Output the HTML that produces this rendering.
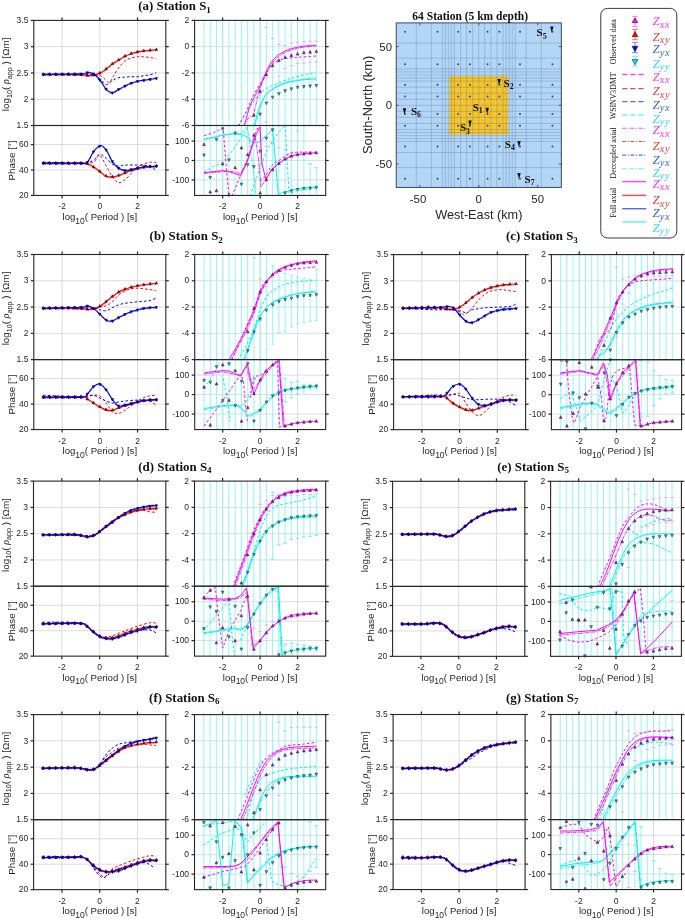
<!DOCTYPE html>
<html><head><meta charset="utf-8"><style>
html,body{margin:0;padding:0;background:#fff;}
svg{display:block;will-change:transform;}
</style></head><body>
<svg width="685" height="920" viewBox="0 0 685 920">
<rect width="685" height="920" fill="#fff"/>
<line x1="62.09" y1="20.4" x2="62.09" y2="125.5" stroke="#d0d0d0" stroke-width="0.75"/>
<line x1="99.8" y1="20.4" x2="99.8" y2="125.5" stroke="#d0d0d0" stroke-width="0.75"/>
<line x1="137.51" y1="20.4" x2="137.51" y2="125.5" stroke="#d0d0d0" stroke-width="0.75"/>
<line x1="33.8" y1="99.22" x2="165.8" y2="99.22" stroke="#d0d0d0" stroke-width="0.75"/>
<line x1="33.8" y1="72.95" x2="165.8" y2="72.95" stroke="#d0d0d0" stroke-width="0.75"/>
<line x1="33.8" y1="46.68" x2="165.8" y2="46.68" stroke="#d0d0d0" stroke-width="0.75"/>
<line x1="62.09" y1="125.5" x2="62.09" y2="195.45" stroke="#d0d0d0" stroke-width="0.75"/>
<line x1="99.8" y1="125.5" x2="99.8" y2="195.45" stroke="#d0d0d0" stroke-width="0.75"/>
<line x1="137.51" y1="125.5" x2="137.51" y2="195.45" stroke="#d0d0d0" stroke-width="0.75"/>
<line x1="33.8" y1="170.01" x2="165.8" y2="170.01" stroke="#d0d0d0" stroke-width="0.75"/>
<line x1="33.8" y1="144.58" x2="165.8" y2="144.58" stroke="#d0d0d0" stroke-width="0.75"/>
<line x1="222.69" y1="20.4" x2="222.69" y2="125.5" stroke="#d0d0d0" stroke-width="0.75"/>
<line x1="260.15" y1="20.4" x2="260.15" y2="125.5" stroke="#d0d0d0" stroke-width="0.75"/>
<line x1="297.61" y1="20.4" x2="297.61" y2="125.5" stroke="#d0d0d0" stroke-width="0.75"/>
<line x1="194.6" y1="99.22" x2="325.7" y2="99.22" stroke="#d0d0d0" stroke-width="0.75"/>
<line x1="194.6" y1="72.95" x2="325.7" y2="72.95" stroke="#d0d0d0" stroke-width="0.75"/>
<line x1="194.6" y1="46.68" x2="325.7" y2="46.68" stroke="#d0d0d0" stroke-width="0.75"/>
<line x1="222.69" y1="125.5" x2="222.69" y2="195.45" stroke="#d0d0d0" stroke-width="0.75"/>
<line x1="260.15" y1="125.5" x2="260.15" y2="195.45" stroke="#d0d0d0" stroke-width="0.75"/>
<line x1="297.61" y1="125.5" x2="297.61" y2="195.45" stroke="#d0d0d0" stroke-width="0.75"/>
<line x1="194.6" y1="179.91" x2="325.7" y2="179.91" stroke="#d0d0d0" stroke-width="0.75"/>
<line x1="194.6" y1="160.47" x2="325.7" y2="160.47" stroke="#d0d0d0" stroke-width="0.75"/>
<line x1="194.6" y1="141.04" x2="325.7" y2="141.04" stroke="#d0d0d0" stroke-width="0.75"/>
<clipPath id="c1"><rect x="33.8" y="20.4" width="132" height="105.1"/></clipPath>
<g clip-path="url(#c1)" fill="none">
<path d="M43.17,74.38 C49.46,74.45 72.52,74.64 80.93,74.77 C89.34,74.9 90.38,75 93.64,75.16 C96.9,75.33 98.53,75 100.49,75.75 C102.45,76.5 103.91,78.52 105.38,79.66 C106.85,80.81 107.99,83.09 109.29,82.6 C110.6,82.11 111.67,79.18 113.2,76.73 C114.74,74.28 116.53,70.54 118.49,67.93 C120.44,65.32 122.89,62.71 124.94,61.08 C127,59.45 128.69,58.86 130.81,58.15 C132.93,57.43 135.54,57 137.66,56.78 C139.78,56.55 141.47,56.65 143.53,56.78 C145.58,56.91 147.86,57.23 149.98,57.56 C152.1,57.89 155.2,58.54 156.24,58.73" stroke="#ff0000" stroke-width="1.0" stroke-dasharray="2.6,2.1" stroke-linejoin="round"/>
<path d="M43.17,74.38 C47.35,74.38 61.92,74.32 68.21,74.38 C74.5,74.45 77.67,74.58 80.93,74.77 C84.19,74.97 85.65,75.49 87.77,75.56 C89.89,75.62 91.52,75.62 93.64,75.16 C95.76,74.71 98.37,73.86 100.49,72.82 C102.61,71.77 104.4,70.37 106.36,68.91 C108.31,67.44 110.2,65.48 112.23,64.01 C114.25,62.55 116.37,61.41 118.49,60.1 C120.61,58.8 122.89,57.27 124.94,56.19 C127,55.11 128.69,54.36 130.81,53.65 C132.93,52.93 135.54,52.34 137.66,51.89 C139.78,51.43 141.47,51.17 143.53,50.91 C145.58,50.65 147.86,50.52 149.98,50.32 C152.1,50.13 155.2,49.83 156.24,49.73" stroke="#ff0000" stroke-width="1.1" stroke-linejoin="round"/>
<path d="M43.17,75.28 C47.35,75.28 61.92,75.22 68.21,75.28 C74.5,75.35 77.67,75.48 80.93,75.67 C84.19,75.87 85.65,76.39 87.77,76.46 C89.89,76.52 91.52,76.52 93.64,76.06 C95.76,75.61 98.37,74.76 100.49,73.72 C102.61,72.67 104.4,71.27 106.36,69.81 C108.31,68.34 110.2,66.38 112.23,64.91 C114.25,63.45 116.37,62.31 118.49,61 C120.61,59.7 122.89,58.17 124.94,57.09 C127,56.01 128.69,55.26 130.81,54.55 C132.93,53.83 135.54,53.24 137.66,52.79 C139.78,52.33 141.47,52.07 143.53,51.81 C145.58,51.55 147.86,51.42 149.98,51.22 C152.1,51.03 155.2,50.73 156.24,50.63" stroke="#ff0000" stroke-width="0.6" stroke-dasharray="3,1.2,0.8,1.2"/>
<path d="M43.17,74.38 C49.46,74.35 72.52,74.12 80.93,74.19 C89.34,74.25 90.38,73.86 93.64,74.77 C96.9,75.69 98.37,78.03 100.49,79.66 C102.61,81.29 104.4,84.39 106.36,84.55 C108.31,84.72 110.2,81.78 112.23,80.64 C114.25,79.5 116.37,78.29 118.49,77.71 C120.61,77.12 122.89,77.28 124.94,77.12 C127,76.96 128.69,76.8 130.81,76.73 C132.93,76.66 135.54,76.89 137.66,76.73 C139.78,76.57 141.47,76.08 143.53,75.75 C145.58,75.43 147.86,75.26 149.98,74.77 C152.1,74.28 155.2,73.14 156.24,72.82" stroke="#0000ff" stroke-width="1.0" stroke-dasharray="2.6,2.1" stroke-linejoin="round"/>
<path d="M43.17,74.38 C49.46,74.28 73.56,74.12 80.93,73.8 C88.3,73.47 85.26,72.43 87.38,72.43 C89.5,72.43 91.46,72.43 93.64,73.8 C95.83,75.16 98.37,78.03 100.49,80.64 C102.61,83.25 104.4,87.42 106.36,89.45 C108.31,91.47 110.2,92.77 112.23,92.77 C114.25,92.77 116.37,90.59 118.49,89.45 C120.61,88.3 122.89,86.97 124.94,85.92 C127,84.88 128.69,83.97 130.81,83.19 C132.93,82.4 135.54,81.72 137.66,81.23 C139.78,80.74 141.47,80.58 143.53,80.25 C145.58,79.93 147.86,79.6 149.98,79.27 C152.1,78.95 155.2,78.46 156.24,78.29" stroke="#0000ff" stroke-width="1.1" stroke-linejoin="round"/>
<path d="M43.17,75.28 C49.46,75.18 73.56,75.02 80.93,74.7 C88.3,74.37 85.26,73.33 87.38,73.33 C89.5,73.33 91.46,73.33 93.64,74.7 C95.83,76.06 98.37,78.93 100.49,81.54 C102.61,84.15 104.4,88.32 106.36,90.35 C108.31,92.37 110.2,93.67 112.23,93.67 C114.25,93.67 116.37,91.49 118.49,90.35 C120.61,89.2 122.89,87.87 124.94,86.82 C127,85.78 128.69,84.87 130.81,84.09 C132.93,83.3 135.54,82.62 137.66,82.13 C139.78,81.64 141.47,81.48 143.53,81.15 C145.58,80.83 147.86,80.5 149.98,80.17 C152.1,79.85 155.2,79.36 156.24,79.19" stroke="#0000ff" stroke-width="0.6" stroke-dasharray="3,1.2,0.8,1.2"/>
</g>
<path d="M41.98,75.13 L44.48,75.13 L43.23,72.64 Z" fill="#e00000" stroke="#2a0a0a" stroke-width="0.55"/>
<path d="M48.26,75.13 L50.76,75.13 L49.51,72.64 Z" fill="#e00000" stroke="#2a0a0a" stroke-width="0.55"/>
<path d="M54.55,75.13 L57.05,75.13 L55.8,72.64 Z" fill="#e00000" stroke="#2a0a0a" stroke-width="0.55"/>
<path d="M60.84,75.13 L63.34,75.13 L62.09,72.64 Z" fill="#e00000" stroke="#2a0a0a" stroke-width="0.55"/>
<path d="M67.12,75.14 L69.62,75.14 L68.37,72.64 Z" fill="#e00000" stroke="#2a0a0a" stroke-width="0.55"/>
<path d="M73.41,75.33 L75.91,75.33 L74.66,72.84 Z" fill="#e00000" stroke="#2a0a0a" stroke-width="0.55"/>
<path d="M79.69,75.53 L82.19,75.53 L80.94,73.03 Z" fill="#e00000" stroke="#2a0a0a" stroke-width="0.55"/>
<path d="M85.98,76.24 L88.48,76.24 L87.23,73.75 Z" fill="#e00000" stroke="#2a0a0a" stroke-width="0.55"/>
<path d="M92.26,75.92 L94.76,75.92 L93.51,73.43 Z" fill="#e00000" stroke="#2a0a0a" stroke-width="0.55"/>
<path d="M98.55,73.8 L101.05,73.8 L99.8,71.31 Z" fill="#e00000" stroke="#2a0a0a" stroke-width="0.55"/>
<path d="M104.84,69.84 L107.34,69.84 L106.09,67.34 Z" fill="#e00000" stroke="#2a0a0a" stroke-width="0.55"/>
<path d="M111.12,64.67 L113.62,64.67 L112.37,62.18 Z" fill="#e00000" stroke="#2a0a0a" stroke-width="0.55"/>
<path d="M117.41,60.75 L119.91,60.75 L118.66,58.25 Z" fill="#e00000" stroke="#2a0a0a" stroke-width="0.55"/>
<path d="M123.69,56.94 L126.19,56.94 L124.94,54.45 Z" fill="#e00000" stroke="#2a0a0a" stroke-width="0.55"/>
<path d="M129.98,54.29 L132.48,54.29 L131.23,51.8 Z" fill="#e00000" stroke="#2a0a0a" stroke-width="0.55"/>
<path d="M136.26,52.67 L138.76,52.67 L137.51,50.18 Z" fill="#e00000" stroke="#2a0a0a" stroke-width="0.55"/>
<path d="M142.55,51.63 L145.05,51.63 L143.8,49.14 Z" fill="#e00000" stroke="#2a0a0a" stroke-width="0.55"/>
<path d="M148.84,51.06 L151.34,51.06 L150.09,48.57 Z" fill="#e00000" stroke="#2a0a0a" stroke-width="0.55"/>
<path d="M155.12,50.48 L157.62,50.48 L156.37,47.99 Z" fill="#e00000" stroke="#2a0a0a" stroke-width="0.55"/>
<path d="M41.98,73.63 L44.48,73.63 L43.23,76.13 Z" fill="#0000e8" stroke="#0a0a30" stroke-width="0.55"/>
<path d="M48.26,73.53 L50.76,73.53 L49.51,76.03 Z" fill="#0000e8" stroke="#0a0a30" stroke-width="0.55"/>
<path d="M54.55,73.44 L57.05,73.44 L55.8,75.93 Z" fill="#0000e8" stroke="#0a0a30" stroke-width="0.55"/>
<path d="M60.84,73.34 L63.34,73.34 L62.09,75.83 Z" fill="#0000e8" stroke="#0a0a30" stroke-width="0.55"/>
<path d="M67.12,73.24 L69.62,73.24 L68.37,75.73 Z" fill="#0000e8" stroke="#0a0a30" stroke-width="0.55"/>
<path d="M73.41,73.14 L75.91,73.14 L74.66,75.64 Z" fill="#0000e8" stroke="#0a0a30" stroke-width="0.55"/>
<path d="M79.69,73.04 L82.19,73.04 L80.94,75.54 Z" fill="#0000e8" stroke="#0a0a30" stroke-width="0.55"/>
<path d="M85.98,71.71 L88.48,71.71 L87.23,74.2 Z" fill="#0000e8" stroke="#0a0a30" stroke-width="0.55"/>
<path d="M92.26,73.02 L94.76,73.02 L93.51,75.51 Z" fill="#0000e8" stroke="#0a0a30" stroke-width="0.55"/>
<path d="M98.55,79.2 L101.05,79.2 L99.8,81.7 Z" fill="#0000e8" stroke="#0a0a30" stroke-width="0.55"/>
<path d="M104.84,88.29 L107.34,88.29 L106.09,90.78 Z" fill="#0000e8" stroke="#0a0a30" stroke-width="0.55"/>
<path d="M111.12,91.94 L113.62,91.94 L112.37,94.44 Z" fill="#0000e8" stroke="#0a0a30" stroke-width="0.55"/>
<path d="M117.41,88.6 L119.91,88.6 L118.66,91.1 Z" fill="#0000e8" stroke="#0a0a30" stroke-width="0.55"/>
<path d="M123.69,85.17 L126.19,85.17 L124.94,87.67 Z" fill="#0000e8" stroke="#0a0a30" stroke-width="0.55"/>
<path d="M129.98,82.32 L132.48,82.32 L131.23,84.81 Z" fill="#0000e8" stroke="#0a0a30" stroke-width="0.55"/>
<path d="M136.26,80.52 L138.76,80.52 L137.51,83.01 Z" fill="#0000e8" stroke="#0a0a30" stroke-width="0.55"/>
<path d="M142.55,79.46 L145.05,79.46 L143.8,81.95 Z" fill="#0000e8" stroke="#0a0a30" stroke-width="0.55"/>
<path d="M148.84,78.51 L151.34,78.51 L150.09,81 Z" fill="#0000e8" stroke="#0a0a30" stroke-width="0.55"/>
<path d="M155.12,77.54 L157.62,77.54 L156.37,80.04 Z" fill="#0000e8" stroke="#0a0a30" stroke-width="0.55"/>
<clipPath id="c2"><rect x="33.8" y="125.5" width="132" height="69.95"/></clipPath>
<g clip-path="url(#c2)" fill="none">
<path d="M43.17,163.15 C49.46,163.15 72.52,163.31 80.93,163.15 C89.34,162.98 90.55,163.47 93.64,162.17 C96.74,160.86 97.39,154.67 99.51,155.32 C101.63,155.97 104.24,162.49 106.36,166.08 C108.48,169.67 110.2,174.07 112.23,176.84 C114.25,179.61 116.37,182.22 118.49,182.71 C120.61,183.2 122.89,181.24 124.94,179.77 C127,178.31 128.69,176.02 130.81,173.91 C132.93,171.79 135.54,168.69 137.66,167.06 C139.78,165.43 141.47,164.94 143.53,164.12 C145.58,163.31 147.86,162.43 149.98,162.17 C152.1,161.91 155.2,162.49 156.24,162.56" stroke="#ff0000" stroke-width="1.0" stroke-dasharray="2.6,2.1" stroke-linejoin="round"/>
<path d="M43.17,163.15 C49.46,163.15 73.56,163.05 80.93,163.15 C88.3,163.24 85.26,163.08 87.38,163.73 C89.5,164.38 91.46,165.69 93.64,167.06 C95.83,168.43 98.37,170.42 100.49,171.95 C102.61,173.48 104.4,175.44 106.36,176.25 C108.31,177.07 110.2,176.97 112.23,176.84 C114.25,176.71 116.37,176.12 118.49,175.47 C120.61,174.82 122.89,173.77 124.94,172.93 C127,172.08 128.69,171.13 130.81,170.38 C132.93,169.63 135.54,168.98 137.66,168.43 C139.78,167.87 141.47,167.38 143.53,167.06 C145.58,166.73 147.86,166.63 149.98,166.47 C152.1,166.31 155.2,166.15 156.24,166.08" stroke="#ff0000" stroke-width="1.1" stroke-linejoin="round"/>
<path d="M43.17,164.05 C49.46,164.05 73.56,163.95 80.93,164.05 C88.3,164.14 85.26,163.98 87.38,164.63 C89.5,165.28 91.46,166.59 93.64,167.96 C95.83,169.33 98.37,171.32 100.49,172.85 C102.61,174.38 104.4,176.34 106.36,177.15 C108.31,177.97 110.2,177.87 112.23,177.74 C114.25,177.61 116.37,177.02 118.49,176.37 C120.61,175.72 122.89,174.67 124.94,173.83 C127,172.98 128.69,172.03 130.81,171.28 C132.93,170.53 135.54,169.88 137.66,169.33 C139.78,168.77 141.47,168.28 143.53,167.96 C145.58,167.63 147.86,167.53 149.98,167.37 C152.1,167.21 155.2,167.05 156.24,166.98" stroke="#ff0000" stroke-width="0.6" stroke-dasharray="3,1.2,0.8,1.2"/>
<path d="M43.17,162.17 C49.46,162.33 72.52,163.47 80.93,163.15 C89.34,162.82 90.55,161.68 93.64,160.21 C96.74,158.74 97.39,154.67 99.51,154.34 C101.63,154.02 104.24,156.63 106.36,158.26 C108.48,159.89 110.2,162.82 112.23,164.12 C114.25,165.43 116.37,165.92 118.49,166.08 C120.61,166.24 121.75,165.27 124.94,165.1 C128.14,164.94 133.48,164.94 137.66,165.1 C141.83,165.27 146.88,165.1 149.98,166.08 C153.08,167.06 155.2,170.16 156.24,170.97" stroke="#0000ff" stroke-width="1.0" stroke-dasharray="2.6,2.1" stroke-linejoin="round"/>
<path d="M43.17,163.15 C49.46,163.15 73.56,163.31 80.93,163.15 C88.3,162.98 85.26,164.12 87.38,162.17 C89.5,160.21 91.46,154.18 93.64,151.41 C95.83,148.64 98.37,145.77 100.49,145.54 C102.61,145.31 104.4,147.43 106.36,150.04 C108.31,152.65 110.2,158.19 112.23,161.19 C114.25,164.19 116.37,166.5 118.49,168.04 C120.61,169.57 122.89,170.12 124.94,170.38 C127,170.64 128.69,169.99 130.81,169.6 C132.93,169.21 135.54,168.46 137.66,168.04 C139.78,167.61 141.47,167.32 143.53,167.06 C145.58,166.8 147.86,166.63 149.98,166.47 C152.1,166.31 155.2,166.15 156.24,166.08" stroke="#0000ff" stroke-width="1.1" stroke-linejoin="round"/>
<path d="M43.17,164.05 C49.46,164.05 73.56,164.21 80.93,164.05 C88.3,163.88 85.26,165.02 87.38,163.07 C89.5,161.11 91.46,155.08 93.64,152.31 C95.83,149.54 98.37,146.67 100.49,146.44 C102.61,146.21 104.4,148.33 106.36,150.94 C108.31,153.55 110.2,159.09 112.23,162.09 C114.25,165.09 116.37,167.4 118.49,168.94 C120.61,170.47 122.89,171.02 124.94,171.28 C127,171.54 128.69,170.89 130.81,170.5 C132.93,170.11 135.54,169.36 137.66,168.94 C139.78,168.51 141.47,168.22 143.53,167.96 C145.58,167.7 147.86,167.53 149.98,167.37 C152.1,167.21 155.2,167.05 156.24,166.98" stroke="#0000ff" stroke-width="0.6" stroke-dasharray="3,1.2,0.8,1.2"/>
</g>
<path d="M41.98,163.9 L44.48,163.9 L43.23,161.4 Z" fill="#e00000" stroke="#2a0a0a" stroke-width="0.55"/>
<path d="M48.26,163.9 L50.76,163.9 L49.51,161.4 Z" fill="#e00000" stroke="#2a0a0a" stroke-width="0.55"/>
<path d="M54.55,163.9 L57.05,163.9 L55.8,161.4 Z" fill="#e00000" stroke="#2a0a0a" stroke-width="0.55"/>
<path d="M60.84,163.9 L63.34,163.9 L62.09,161.4 Z" fill="#e00000" stroke="#2a0a0a" stroke-width="0.55"/>
<path d="M67.12,163.9 L69.62,163.9 L68.37,161.4 Z" fill="#e00000" stroke="#2a0a0a" stroke-width="0.55"/>
<path d="M73.41,163.9 L75.91,163.9 L74.66,161.4 Z" fill="#e00000" stroke="#2a0a0a" stroke-width="0.55"/>
<path d="M79.69,163.9 L82.19,163.9 L80.94,161.4 Z" fill="#e00000" stroke="#2a0a0a" stroke-width="0.55"/>
<path d="M85.98,164.47 L88.48,164.47 L87.23,161.98 Z" fill="#e00000" stroke="#2a0a0a" stroke-width="0.55"/>
<path d="M92.26,167.74 L94.76,167.74 L93.51,165.25 Z" fill="#e00000" stroke="#2a0a0a" stroke-width="0.55"/>
<path d="M98.55,172.21 L101.05,172.21 L99.8,169.71 Z" fill="#e00000" stroke="#2a0a0a" stroke-width="0.55"/>
<path d="M104.84,176.8 L107.34,176.8 L106.09,174.31 Z" fill="#e00000" stroke="#2a0a0a" stroke-width="0.55"/>
<path d="M111.12,177.56 L113.62,177.56 L112.37,175.06 Z" fill="#e00000" stroke="#2a0a0a" stroke-width="0.55"/>
<path d="M117.41,176.15 L119.91,176.15 L118.66,173.66 Z" fill="#e00000" stroke="#2a0a0a" stroke-width="0.55"/>
<path d="M123.69,173.68 L126.19,173.68 L124.94,171.18 Z" fill="#e00000" stroke="#2a0a0a" stroke-width="0.55"/>
<path d="M129.98,171.01 L132.48,171.01 L131.23,168.52 Z" fill="#e00000" stroke="#2a0a0a" stroke-width="0.55"/>
<path d="M136.26,169.22 L138.76,169.22 L137.51,166.72 Z" fill="#e00000" stroke="#2a0a0a" stroke-width="0.55"/>
<path d="M142.55,167.78 L145.05,167.78 L143.8,165.29 Z" fill="#e00000" stroke="#2a0a0a" stroke-width="0.55"/>
<path d="M148.84,167.21 L151.34,167.21 L150.09,164.72 Z" fill="#e00000" stroke="#2a0a0a" stroke-width="0.55"/>
<path d="M155.12,166.83 L157.62,166.83 L156.37,164.34 Z" fill="#e00000" stroke="#2a0a0a" stroke-width="0.55"/>
<path d="M41.98,162.4 L44.48,162.4 L43.23,164.89 Z" fill="#0000e8" stroke="#0a0a30" stroke-width="0.55"/>
<path d="M48.26,162.4 L50.76,162.4 L49.51,164.89 Z" fill="#0000e8" stroke="#0a0a30" stroke-width="0.55"/>
<path d="M54.55,162.4 L57.05,162.4 L55.8,164.89 Z" fill="#0000e8" stroke="#0a0a30" stroke-width="0.55"/>
<path d="M60.84,162.4 L63.34,162.4 L62.09,164.89 Z" fill="#0000e8" stroke="#0a0a30" stroke-width="0.55"/>
<path d="M67.12,162.4 L69.62,162.4 L68.37,164.89 Z" fill="#0000e8" stroke="#0a0a30" stroke-width="0.55"/>
<path d="M73.41,162.4 L75.91,162.4 L74.66,164.89 Z" fill="#0000e8" stroke="#0a0a30" stroke-width="0.55"/>
<path d="M79.69,162.39 L82.19,162.39 L80.94,164.89 Z" fill="#0000e8" stroke="#0a0a30" stroke-width="0.55"/>
<path d="M85.98,161.44 L88.48,161.44 L87.23,163.93 Z" fill="#0000e8" stroke="#0a0a30" stroke-width="0.55"/>
<path d="M92.26,150.88 L94.76,150.88 L93.51,153.37 Z" fill="#0000e8" stroke="#0a0a30" stroke-width="0.55"/>
<path d="M98.55,145.38 L101.05,145.38 L99.8,147.87 Z" fill="#0000e8" stroke="#0a0a30" stroke-width="0.55"/>
<path d="M104.84,149.08 L107.34,149.08 L106.09,151.57 Z" fill="#0000e8" stroke="#0a0a30" stroke-width="0.55"/>
<path d="M111.12,160.6 L113.62,160.6 L112.37,163.09 Z" fill="#0000e8" stroke="#0a0a30" stroke-width="0.55"/>
<path d="M117.41,167.35 L119.91,167.35 L118.66,169.84 Z" fill="#0000e8" stroke="#0a0a30" stroke-width="0.55"/>
<path d="M123.69,169.63 L126.19,169.63 L124.94,172.13 Z" fill="#0000e8" stroke="#0a0a30" stroke-width="0.55"/>
<path d="M129.98,168.76 L132.48,168.76 L131.23,171.25 Z" fill="#0000e8" stroke="#0a0a30" stroke-width="0.55"/>
<path d="M136.26,167.32 L138.76,167.32 L137.51,169.81 Z" fill="#0000e8" stroke="#0a0a30" stroke-width="0.55"/>
<path d="M142.55,166.28 L145.05,166.28 L143.8,168.78 Z" fill="#0000e8" stroke="#0a0a30" stroke-width="0.55"/>
<path d="M148.84,165.71 L151.34,165.71 L150.09,168.21 Z" fill="#0000e8" stroke="#0a0a30" stroke-width="0.55"/>
<path d="M155.12,165.33 L157.62,165.33 L156.37,167.82 Z" fill="#0000e8" stroke="#0a0a30" stroke-width="0.55"/>
<clipPath id="c3"><rect x="194.6" y="20.4" width="131.1" height="105.1"/></clipPath>
<g clip-path="url(#c3)" fill="none">
<line x1="203.96" y1="18.4" x2="203.96" y2="127.5" stroke="#8af5f7" stroke-width="0.95"/>
<line x1="210.21" y1="18.4" x2="210.21" y2="127.5" stroke="#8af5f7" stroke-width="0.95"/>
<line x1="216.45" y1="18.4" x2="216.45" y2="127.5" stroke="#8af5f7" stroke-width="0.95"/>
<line x1="222.69" y1="18.4" x2="222.69" y2="127.5" stroke="#8af5f7" stroke-width="0.95"/>
<line x1="228.94" y1="18.4" x2="228.94" y2="127.5" stroke="#8af5f7" stroke-width="0.95"/>
<line x1="235.18" y1="18.4" x2="235.18" y2="127.5" stroke="#8af5f7" stroke-width="0.95"/>
<line x1="241.42" y1="18.4" x2="241.42" y2="127.5" stroke="#8af5f7" stroke-width="0.95"/>
<line x1="247.66" y1="18.4" x2="247.66" y2="127.5" stroke="#8af5f7" stroke-width="0.95"/>
<line x1="253.91" y1="18.4" x2="253.91" y2="127.5" stroke="#8af5f7" stroke-width="0.95"/>
<line x1="260.15" y1="18.4" x2="260.15" y2="127.5" stroke="#8af5f7" stroke-width="0.95"/>
<line x1="266.39" y1="18.4" x2="266.39" y2="127.5" stroke="#8af5f7" stroke-width="0.95"/>
<line x1="272.64" y1="18.4" x2="272.64" y2="127.5" stroke="#8af5f7" stroke-width="0.95"/>
<line x1="278.88" y1="18.4" x2="278.88" y2="127.5" stroke="#8af5f7" stroke-width="0.95"/>
<line x1="285.12" y1="18.4" x2="285.12" y2="127.5" stroke="#8af5f7" stroke-width="0.95"/>
<line x1="291.36" y1="18.4" x2="291.36" y2="127.5" stroke="#8af5f7" stroke-width="0.95"/>
<line x1="297.61" y1="18.4" x2="297.61" y2="127.5" stroke="#8af5f7" stroke-width="0.95"/>
<line x1="303.85" y1="18.4" x2="303.85" y2="127.5" stroke="#8af5f7" stroke-width="0.95"/>
<line x1="310.09" y1="18.4" x2="310.09" y2="127.5" stroke="#8af5f7" stroke-width="0.95"/>
<line x1="316.34" y1="18.4" x2="316.34" y2="127.5" stroke="#8af5f7" stroke-width="0.95"/>
<line x1="264.59" y1="27.38" x2="268.19" y2="27.38" stroke="#f59af5" stroke-width="0.9"/>
<line x1="270.84" y1="38.45" x2="274.44" y2="38.45" stroke="#f59af5" stroke-width="0.9"/>
<line x1="277.08" y1="44.27" x2="280.68" y2="44.27" stroke="#f59af5" stroke-width="0.9"/>
<line x1="283.32" y1="45.24" x2="286.92" y2="45.24" stroke="#f59af5" stroke-width="0.9"/>
<line x1="289.56" y1="43.3" x2="293.16" y2="43.3" stroke="#f59af5" stroke-width="0.9"/>
<line x1="295.81" y1="42.33" x2="299.41" y2="42.33" stroke="#f59af5" stroke-width="0.9"/>
<line x1="302.05" y1="41.75" x2="305.65" y2="41.75" stroke="#f59af5" stroke-width="0.9"/>
<line x1="308.29" y1="41.36" x2="311.89" y2="41.36" stroke="#f59af5" stroke-width="0.9"/>
<line x1="314.54" y1="41.36" x2="318.14" y2="41.36" stroke="#f59af5" stroke-width="0.9"/>
<line x1="283.32" y1="68.54" x2="286.92" y2="68.54" stroke="#f59af5" stroke-width="0.9"/>
<line x1="289.56" y1="65.63" x2="293.16" y2="65.63" stroke="#f59af5" stroke-width="0.9"/>
<line x1="295.81" y1="63.69" x2="299.41" y2="63.69" stroke="#f59af5" stroke-width="0.9"/>
<line x1="302.05" y1="63.1" x2="305.65" y2="63.1" stroke="#f59af5" stroke-width="0.9"/>
<line x1="308.29" y1="62.33" x2="311.89" y2="62.33" stroke="#f59af5" stroke-width="0.9"/>
<line x1="314.54" y1="61.74" x2="318.14" y2="61.74" stroke="#f59af5" stroke-width="0.9"/>
<line x1="277.08" y1="76.31" x2="280.68" y2="76.31" stroke="#f59af5" stroke-width="0.9"/>
<line x1="264.59" y1="121.93" x2="268.19" y2="121.93" stroke="#f59af5" stroke-width="0.9"/>
<path d="M237.69,126.01 C238.82,124.2 242.05,118.89 244.48,115.14 C246.91,111.38 249.66,107.05 252.25,103.49 C254.84,99.93 257.75,96.21 260.01,93.78 C262.28,91.35 263.9,90.22 265.84,88.93 C267.78,87.63 269.56,86.99 271.66,86.01 C273.77,85.04 276.19,84.07 278.46,83.1 C280.73,82.13 283.15,81 285.26,80.19 C287.36,79.38 288.98,78.9 291.08,78.25 C293.18,77.6 295.77,76.89 297.88,76.31 C299.98,75.72 301.6,75.24 303.7,74.75 C305.8,74.27 308.39,73.85 310.5,73.39 C312.6,72.94 315.35,72.26 316.32,72.04" stroke="#00f0f0" stroke-width="1.0" stroke-dasharray="2.6,2.1" stroke-linejoin="round"/>
<path d="M238.66,126.01 C239.95,123.55 244.16,115.98 246.42,111.26 C248.69,106.53 249.98,102.19 252.25,97.66 C254.51,93.13 257.75,87.96 260.01,84.07 C262.28,80.19 263.9,77.6 265.84,74.36 C267.78,71.13 269.56,66.92 271.66,64.66 C273.77,62.39 276.19,61.81 278.46,60.77 C280.73,59.74 283.15,58.93 285.26,58.44 C287.36,57.96 288.98,58.06 291.08,57.86 C293.18,57.67 294.64,57.51 297.88,57.28 C301.11,57.05 307.42,56.73 310.5,56.5 C313.57,56.28 315.35,56.02 316.32,55.92" stroke="#ff00ff" stroke-width="1.0" stroke-dasharray="2.6,2.1" stroke-linejoin="round"/>
<path d="M255.16,126.01 C255.81,123.39 257.75,114.52 259.04,110.28 C260.34,106.05 261.63,103.33 262.93,100.58 C264.22,97.83 265.19,95.72 266.81,93.78 C268.43,91.84 270.69,90.29 272.64,88.93 C274.58,87.57 276.36,86.69 278.46,85.63 C280.56,84.56 283.15,83.3 285.26,82.52 C287.36,81.74 288.98,81.42 291.08,80.97 C293.18,80.51 294.64,80.25 297.88,79.8 C301.11,79.35 307.42,78.51 310.5,78.25 C313.57,77.99 315.35,78.25 316.32,78.25" stroke="#00f0f0" stroke-width="0.85" stroke-dasharray="3.5,1,1,1" stroke-linejoin="round"/>
<path d="M243.51,126.01 C244.48,124.52 247.72,118.89 249.34,117.08 C250.95,115.27 251.6,119.35 253.22,115.14 C254.84,110.93 256.94,98.64 259.04,91.84 C261.15,85.04 263.74,79.06 265.84,74.36 C267.94,69.67 269.56,66.6 271.66,63.69 C273.77,60.77 276.19,58.74 278.46,56.89 C280.73,55.05 283.15,53.75 285.26,52.62 C287.36,51.49 288.98,50.81 291.08,50.09 C293.18,49.38 295.77,48.83 297.88,48.35 C299.98,47.86 301.6,47.51 303.7,47.18 C305.8,46.86 308.39,46.63 310.5,46.41 C312.6,46.18 315.35,45.92 316.32,45.82" stroke="#ff00ff" stroke-width="0.85" stroke-dasharray="3.5,1,1,1" stroke-linejoin="round"/>
<path d="M254.19,126.01 C254.84,123.55 256.78,115.33 258.07,111.26 C259.37,107.18 260.66,104.3 261.96,101.55 C263.25,98.8 264.22,96.69 265.84,94.75 C267.46,92.81 269.56,91.35 271.66,89.9 C273.77,88.44 276.19,87.15 278.46,86.01 C280.73,84.88 283.15,83.81 285.26,83.1 C287.36,82.39 288.98,82.16 291.08,81.74 C293.18,81.32 295.77,80.9 297.88,80.58 C299.98,80.25 301.6,80.03 303.7,79.8 C305.8,79.57 308.39,79.32 310.5,79.22 C312.6,79.12 315.35,79.22 316.32,79.22" stroke="#00f0f0" stroke-width="1.0" stroke-linejoin="round"/>
<path d="M244.09,126.01 C245.13,122.58 248.3,110.8 250.31,105.43 C252.31,100.06 254.35,97.34 256.13,93.78 C257.91,90.22 259.37,87.63 260.99,84.07 C262.6,80.51 264.06,76.14 265.84,72.42 C267.62,68.7 269.56,64.66 271.66,61.74 C273.77,58.83 276.19,56.73 278.46,54.95 C280.73,53.17 283.15,52.1 285.26,51.07 C287.36,50.03 288.98,49.38 291.08,48.74 C293.18,48.09 295.77,47.6 297.88,47.18 C299.98,46.76 301.6,46.47 303.7,46.21 C305.8,45.95 308.39,45.79 310.5,45.63 C312.6,45.47 315.35,45.31 316.32,45.24" stroke="#ff00ff" stroke-width="1.0" stroke-linejoin="round"/>
</g>
<path d="M252.56,116.27 L255.26,116.27 L253.91,113.58 Z" fill="#d010d0" stroke="#2a1a2a" stroke-width="0.55"/>
<path d="M258.8,92.59 L261.5,92.59 L260.15,89.89 Z" fill="#d010d0" stroke="#2a1a2a" stroke-width="0.55"/>
<path d="M265.04,75.89 L267.74,75.89 L266.39,73.19 Z" fill="#d010d0" stroke="#2a1a2a" stroke-width="0.55"/>
<path d="M271.29,66.76 L273.99,66.76 L272.64,64.07 Z" fill="#d010d0" stroke="#2a1a2a" stroke-width="0.55"/>
<path d="M277.53,61.52 L280.23,61.52 L278.88,58.83 Z" fill="#d010d0" stroke="#2a1a2a" stroke-width="0.55"/>
<path d="M283.77,58.41 L286.47,58.41 L285.12,55.72 Z" fill="#d010d0" stroke="#2a1a2a" stroke-width="0.55"/>
<path d="M290.01,56.47 L292.71,56.47 L291.36,53.78 Z" fill="#d010d0" stroke="#2a1a2a" stroke-width="0.55"/>
<path d="M296.26,55.11 L298.96,55.11 L297.61,52.42 Z" fill="#d010d0" stroke="#2a1a2a" stroke-width="0.55"/>
<path d="M302.5,53.75 L305.2,53.75 L303.85,51.06 Z" fill="#d010d0" stroke="#2a1a2a" stroke-width="0.55"/>
<path d="M308.74,53.17 L311.44,53.17 L310.09,50.48 Z" fill="#d010d0" stroke="#2a1a2a" stroke-width="0.55"/>
<path d="M314.99,52.59 L317.69,52.59 L316.34,49.89 Z" fill="#d010d0" stroke="#2a1a2a" stroke-width="0.55"/>
<path d="M258.8,113.03 L261.5,113.03 L260.15,115.73 Z" fill="#10c8c8" stroke="#1a2a2a" stroke-width="0.55"/>
<path d="M265.04,101.97 L267.74,101.97 L266.39,104.66 Z" fill="#10c8c8" stroke="#1a2a2a" stroke-width="0.55"/>
<path d="M271.29,96.14 L273.99,96.14 L272.64,98.84 Z" fill="#10c8c8" stroke="#1a2a2a" stroke-width="0.55"/>
<path d="M277.53,92.65 L280.23,92.65 L278.88,95.34 Z" fill="#10c8c8" stroke="#1a2a2a" stroke-width="0.55"/>
<path d="M283.77,89.73 L286.47,89.73 L285.12,92.43 Z" fill="#10c8c8" stroke="#1a2a2a" stroke-width="0.55"/>
<path d="M290.01,87.79 L292.71,87.79 L291.36,90.49 Z" fill="#10c8c8" stroke="#1a2a2a" stroke-width="0.55"/>
<path d="M296.26,86.24 L298.96,86.24 L297.61,88.93 Z" fill="#10c8c8" stroke="#1a2a2a" stroke-width="0.55"/>
<path d="M302.5,85.46 L305.2,85.46 L303.85,88.16 Z" fill="#10c8c8" stroke="#1a2a2a" stroke-width="0.55"/>
<path d="M308.74,84.88 L311.44,84.88 L310.09,87.57 Z" fill="#10c8c8" stroke="#1a2a2a" stroke-width="0.55"/>
<path d="M314.99,84.49 L317.69,84.49 L316.34,87.19 Z" fill="#10c8c8" stroke="#1a2a2a" stroke-width="0.55"/>
<clipPath id="c4"><rect x="194.6" y="125.5" width="131.1" height="69.95"/></clipPath>
<g clip-path="url(#c4)" fill="none">
<line x1="203.96" y1="123.5" x2="203.96" y2="197.45" stroke="#8af5f7" stroke-width="0.95"/>
<line x1="210.21" y1="123.5" x2="210.21" y2="197.45" stroke="#8af5f7" stroke-width="0.95"/>
<line x1="216.45" y1="123.5" x2="216.45" y2="197.45" stroke="#8af5f7" stroke-width="0.95"/>
<line x1="222.69" y1="123.5" x2="222.69" y2="197.45" stroke="#8af5f7" stroke-width="0.95"/>
<line x1="228.94" y1="123.5" x2="228.94" y2="197.45" stroke="#8af5f7" stroke-width="0.95"/>
<line x1="235.18" y1="123.5" x2="235.18" y2="197.45" stroke="#8af5f7" stroke-width="0.95"/>
<line x1="241.42" y1="123.5" x2="241.42" y2="197.45" stroke="#8af5f7" stroke-width="0.95"/>
<line x1="247.66" y1="123.5" x2="247.66" y2="197.45" stroke="#8af5f7" stroke-width="0.95"/>
<line x1="253.91" y1="123.5" x2="253.91" y2="197.45" stroke="#8af5f7" stroke-width="0.95"/>
<line x1="260.15" y1="123.5" x2="260.15" y2="197.45" stroke="#8af5f7" stroke-width="0.95"/>
<line x1="266.39" y1="123.5" x2="266.39" y2="197.45" stroke="#8af5f7" stroke-width="0.95"/>
<line x1="272.64" y1="123.5" x2="272.64" y2="197.45" stroke="#8af5f7" stroke-width="0.95"/>
<line x1="278.88" y1="123.5" x2="278.88" y2="197.45" stroke="#8af5f7" stroke-width="0.95"/>
<line x1="285.12" y1="123.5" x2="285.12" y2="197.45" stroke="#8af5f7" stroke-width="0.95"/>
<line x1="291.36" y1="123.5" x2="291.36" y2="197.45" stroke="#8af5f7" stroke-width="0.95"/>
<line x1="297.61" y1="123.5" x2="297.61" y2="197.45" stroke="#8af5f7" stroke-width="0.95"/>
<line x1="303.85" y1="123.5" x2="303.85" y2="197.45" stroke="#8af5f7" stroke-width="0.95"/>
<line x1="310.09" y1="163.83" x2="310.09" y2="196.06" stroke="#8af5f7" stroke-width="0.95"/>
<line x1="308.49" y1="163.83" x2="311.69" y2="163.83" stroke="#7eeff4" stroke-width="0.9"/>
<line x1="308.49" y1="196.06" x2="311.69" y2="196.06" stroke="#7eeff4" stroke-width="0.9"/>
<line x1="316.34" y1="167.72" x2="316.34" y2="196.06" stroke="#8af5f7" stroke-width="0.95"/>
<line x1="314.74" y1="167.72" x2="317.94" y2="167.72" stroke="#7eeff4" stroke-width="0.9"/>
<line x1="314.74" y1="196.06" x2="317.94" y2="196.06" stroke="#7eeff4" stroke-width="0.9"/>
<line x1="264.59" y1="146.36" x2="268.19" y2="146.36" stroke="#f59af5" stroke-width="0.9"/>
<line x1="270.84" y1="143.45" x2="274.44" y2="143.45" stroke="#f59af5" stroke-width="0.9"/>
<line x1="277.08" y1="147.91" x2="280.68" y2="147.91" stroke="#f59af5" stroke-width="0.9"/>
<line x1="283.32" y1="149.85" x2="286.92" y2="149.85" stroke="#f59af5" stroke-width="0.9"/>
<line x1="289.56" y1="152.18" x2="293.16" y2="152.18" stroke="#f59af5" stroke-width="0.9"/>
<line x1="295.81" y1="154.12" x2="299.41" y2="154.12" stroke="#f59af5" stroke-width="0.9"/>
<line x1="302.05" y1="155.09" x2="305.65" y2="155.09" stroke="#f59af5" stroke-width="0.9"/>
<line x1="308.29" y1="163.83" x2="311.89" y2="163.83" stroke="#7eeff4" stroke-width="0.9"/>
<line x1="314.54" y1="167.72" x2="318.14" y2="167.72" stroke="#7eeff4" stroke-width="0.9"/>
<line x1="295.81" y1="130.82" x2="299.41" y2="130.82" stroke="#7eeff4" stroke-width="0.9"/>
<path d="M204.1,171.6 L213.42,166.74 L223.12,161.89 L232.83,150.24 L240.6,138.59 L247.39,128.88 L248.36,125" stroke="#00f0f0" stroke-width="1.0" stroke-dasharray="2.6,2.1" stroke-linejoin="round"/>
<path d="M250.31,196.06 L260.01,167.72 L267.78,148.3 L275.55,136.65 L283.31,126.94 L286.23,125" stroke="#00f0f0" stroke-width="1.0" stroke-dasharray="2.6,2.1" stroke-linejoin="round"/>
<path d="M285.26,125 L289.14,196.06" stroke="#00f0f0" stroke-width="1.0" stroke-dasharray="2.6,2.1" stroke-linejoin="round"/>
<path d="M291.08,192.96 C292.05,192.63 294.8,191.5 296.91,191.01 C299.01,190.53 301.44,190.37 303.7,190.04 C305.97,189.72 308.39,189.49 310.5,189.07 C312.6,188.65 315.35,187.78 316.32,187.52" stroke="#00f0f0" stroke-width="1.0" stroke-dasharray="2.6,2.1" stroke-linejoin="round"/>
<path d="M204.1,135.68 L213.42,132.77 L223.12,127.91 L226.04,163.83 L228.95,196.06" stroke="#ff00ff" stroke-width="1.0" stroke-dasharray="2.6,2.1" stroke-linejoin="round"/>
<path d="M231.86,196.06 L240.6,175.48 L248.36,158.01 L254.19,136.65 L258.07,126.94 L259.04,125" stroke="#ff00ff" stroke-width="1.0" stroke-dasharray="2.6,2.1" stroke-linejoin="round"/>
<path d="M260.01,181.31 C260.99,180.34 263.9,178.07 265.84,175.48 C267.78,172.89 269.56,168.2 271.66,165.77 C273.77,163.35 276.19,162.54 278.46,160.92 C280.73,159.3 283.15,157.36 285.26,156.07 C287.36,154.77 288.98,153.8 291.08,153.15 C293.18,152.51 293.67,152.34 297.88,152.18 C302.08,152.02 313.25,152.18 316.32,152.18" stroke="#ff00ff" stroke-width="1.0" stroke-dasharray="2.6,2.1" stroke-linejoin="round"/>
<path d="M204.1,139.56 L223.12,134.71 L240.6,133.74 L247.39,126.94 L250.31,148.3 L253.22,167.72 L256.13,196.06" stroke="#00f0f0" stroke-width="0.85" stroke-dasharray="3.5,1,1,1" stroke-linejoin="round"/>
<path d="M204.1,173.54 L223.12,171.6 L232.83,171.6 L240.6,173.54 L248.36,158.01 L253.22,140.53 L255.16,136.65 L258.07,156.07 L260.99,187.13 L265.84,179.36 L271.66,169.66 L278.46,163.83 L285.26,158.98 L291.08,156.07" stroke="#ff00ff" stroke-width="0.85" stroke-dasharray="3.5,1,1,1" stroke-linejoin="round"/>
<path d="M204.1,138.98 L213.42,137.62 L223.12,135.1 L232.83,133.74 L242.54,134.71 L248.36,137.62 L252.25,142.47 L256.13,142.86 L260.01,141.5 L265.84,135.68 L272.64,129.27 L278.46,196.06" stroke="#00f0f0" stroke-width="1.0" stroke-linejoin="round"/>
<path d="M278.46,193.93 C279.59,193.6 283.15,192.63 285.26,191.99 C287.36,191.34 288.98,190.53 291.08,190.04 C293.18,189.56 295.77,189.4 297.88,189.07 C299.98,188.75 301.6,188.36 303.7,188.1 C305.8,187.84 308.39,187.68 310.5,187.52 C312.6,187.36 315.35,187.2 316.32,187.13" stroke="#00f0f0" stroke-width="1.0" stroke-linejoin="round"/>
<path d="M204.1,172.57 L213.42,171.6 L223.12,170.63 L228.95,171.6 L234.77,173.54 L240.6,175.48 L246.42,163.83 L252.25,146.36 L256.13,134.71 L260.01,126.94 L261.96,163.83 L265.84,179.36 L271.66,169.66 L278.46,163.83 L285.26,158.98 L291.08,156.07 L297.88,154.51 L303.7,153.74 L310.5,153.15 L316.32,152.76" stroke="#ff00ff" stroke-width="1.0" stroke-linejoin="round"/>
</g>
<path d="M202.61,145.55 L205.31,145.55 L203.96,142.86 Z" fill="#d010d0" stroke="#2a1a2a" stroke-width="0.55"/>
<path d="M208.86,193.12 L211.56,193.12 L210.21,190.43 Z" fill="#d010d0" stroke="#2a1a2a" stroke-width="0.55"/>
<path d="M215.1,191.76 L217.8,191.76 L216.45,189.07 Z" fill="#d010d0" stroke="#2a1a2a" stroke-width="0.55"/>
<path d="M221.34,164.97 L224.04,164.97 L222.69,162.27 Z" fill="#d010d0" stroke="#2a1a2a" stroke-width="0.55"/>
<path d="M227.59,196.03 L230.29,196.03 L228.94,193.34 Z" fill="#d010d0" stroke="#2a1a2a" stroke-width="0.55"/>
<path d="M233.83,168.85 L236.53,168.85 L235.18,166.16 Z" fill="#d010d0" stroke="#2a1a2a" stroke-width="0.55"/>
<path d="M240.07,149.04 L242.77,149.04 L241.42,146.35 Z" fill="#d010d0" stroke="#2a1a2a" stroke-width="0.55"/>
<path d="M246.31,155.65 L249.01,155.65 L247.66,152.95 Z" fill="#d010d0" stroke="#2a1a2a" stroke-width="0.55"/>
<path d="M252.56,136.23 L255.26,136.23 L253.91,133.54 Z" fill="#d010d0" stroke="#2a1a2a" stroke-width="0.55"/>
<path d="M258.8,194.09 L261.5,194.09 L260.15,191.4 Z" fill="#d010d0" stroke="#2a1a2a" stroke-width="0.55"/>
<path d="M265.04,180.89 L267.74,180.89 L266.39,178.19 Z" fill="#d010d0" stroke="#2a1a2a" stroke-width="0.55"/>
<path d="M271.29,170.79 L273.99,170.79 L272.64,168.1 Z" fill="#d010d0" stroke="#2a1a2a" stroke-width="0.55"/>
<path d="M277.53,164.38 L280.23,164.38 L278.88,161.69 Z" fill="#d010d0" stroke="#2a1a2a" stroke-width="0.55"/>
<path d="M283.77,160.11 L286.47,160.11 L285.12,157.42 Z" fill="#d010d0" stroke="#2a1a2a" stroke-width="0.55"/>
<path d="M290.01,157.2 L292.71,157.2 L291.36,154.51 Z" fill="#d010d0" stroke="#2a1a2a" stroke-width="0.55"/>
<path d="M296.26,155.65 L298.96,155.65 L297.61,152.95 Z" fill="#d010d0" stroke="#2a1a2a" stroke-width="0.55"/>
<path d="M302.5,154.87 L305.2,154.87 L303.85,152.18 Z" fill="#d010d0" stroke="#2a1a2a" stroke-width="0.55"/>
<path d="M308.74,154.29 L311.44,154.29 L310.09,151.59 Z" fill="#d010d0" stroke="#2a1a2a" stroke-width="0.55"/>
<path d="M314.99,153.9 L317.69,153.9 L316.34,151.21 Z" fill="#d010d0" stroke="#2a1a2a" stroke-width="0.55"/>
<path d="M202.61,153.96 L205.31,153.96 L203.96,156.65 Z" fill="#10c8c8" stroke="#1a2a2a" stroke-width="0.55"/>
<path d="M208.86,176.29 L211.56,176.29 L210.21,178.98 Z" fill="#10c8c8" stroke="#1a2a2a" stroke-width="0.55"/>
<path d="M215.1,138.43 L217.8,138.43 L216.45,141.12 Z" fill="#10c8c8" stroke="#1a2a2a" stroke-width="0.55"/>
<path d="M221.34,127.75 L224.04,127.75 L222.69,130.44 Z" fill="#10c8c8" stroke="#1a2a2a" stroke-width="0.55"/>
<path d="M227.59,158.81 L230.29,158.81 L228.94,161.51 Z" fill="#10c8c8" stroke="#1a2a2a" stroke-width="0.55"/>
<path d="M233.83,132.02 L236.53,132.02 L235.18,134.71 Z" fill="#10c8c8" stroke="#1a2a2a" stroke-width="0.55"/>
<path d="M240.07,183.08 L242.77,183.08 L241.42,185.78 Z" fill="#10c8c8" stroke="#1a2a2a" stroke-width="0.55"/>
<path d="M246.31,163.67 L249.01,163.67 L247.66,166.36 Z" fill="#10c8c8" stroke="#1a2a2a" stroke-width="0.55"/>
<path d="M252.56,165.61 L255.26,165.61 L253.91,168.3 Z" fill="#10c8c8" stroke="#1a2a2a" stroke-width="0.55"/>
<path d="M258.8,150.08 L261.5,150.08 L260.15,152.77 Z" fill="#10c8c8" stroke="#1a2a2a" stroke-width="0.55"/>
<path d="M265.04,137.07 L267.74,137.07 L266.39,139.76 Z" fill="#10c8c8" stroke="#1a2a2a" stroke-width="0.55"/>
<path d="M271.29,128.72 L273.99,128.72 L272.64,131.41 Z" fill="#10c8c8" stroke="#1a2a2a" stroke-width="0.55"/>
<path d="M283.77,191.82 L286.47,191.82 L285.12,194.52 Z" fill="#10c8c8" stroke="#1a2a2a" stroke-width="0.55"/>
<path d="M290.01,189.88 L292.71,189.88 L291.36,192.57 Z" fill="#10c8c8" stroke="#1a2a2a" stroke-width="0.55"/>
<path d="M296.26,188.33 L298.96,188.33 L297.61,191.02 Z" fill="#10c8c8" stroke="#1a2a2a" stroke-width="0.55"/>
<path d="M302.5,187.36 L305.2,187.36 L303.85,190.05 Z" fill="#10c8c8" stroke="#1a2a2a" stroke-width="0.55"/>
<path d="M308.74,186.97 L311.44,186.97 L310.09,189.66 Z" fill="#10c8c8" stroke="#1a2a2a" stroke-width="0.55"/>
<path d="M314.99,186.39 L317.69,186.39 L316.34,189.08 Z" fill="#10c8c8" stroke="#1a2a2a" stroke-width="0.55"/>
<rect x="33.8" y="20.4" width="132" height="105.1" fill="none" stroke="#262626" stroke-width="1.1"/>
<line x1="62.09" y1="20.4" x2="62.09" y2="17.4" stroke="#262626" stroke-width="1.2"/>
<line x1="99.8" y1="20.4" x2="99.8" y2="17.4" stroke="#262626" stroke-width="1.2"/>
<line x1="137.51" y1="20.4" x2="137.51" y2="17.4" stroke="#262626" stroke-width="1.2"/>
<line x1="33.8" y1="125.5" x2="30.8" y2="125.5" stroke="#262626" stroke-width="1.2"/>
<line x1="165.8" y1="125.5" x2="168.8" y2="125.5" stroke="#262626" stroke-width="1.2"/>
<line x1="33.8" y1="99.22" x2="30.8" y2="99.22" stroke="#262626" stroke-width="1.2"/>
<line x1="165.8" y1="99.22" x2="168.8" y2="99.22" stroke="#262626" stroke-width="1.2"/>
<line x1="33.8" y1="72.95" x2="30.8" y2="72.95" stroke="#262626" stroke-width="1.2"/>
<line x1="165.8" y1="72.95" x2="168.8" y2="72.95" stroke="#262626" stroke-width="1.2"/>
<line x1="33.8" y1="46.68" x2="30.8" y2="46.68" stroke="#262626" stroke-width="1.2"/>
<line x1="165.8" y1="46.68" x2="168.8" y2="46.68" stroke="#262626" stroke-width="1.2"/>
<line x1="33.8" y1="20.4" x2="30.8" y2="20.4" stroke="#262626" stroke-width="1.2"/>
<line x1="165.8" y1="20.4" x2="168.8" y2="20.4" stroke="#262626" stroke-width="1.2"/>
<text x="28.4" y="128.2" font-size="8.5" text-anchor="end" font-family='"Liberation Sans", sans-serif' fill="#262626" >1.5</text>
<text x="28.4" y="101.92" font-size="8.5" text-anchor="end" font-family='"Liberation Sans", sans-serif' fill="#262626" >2</text>
<text x="28.4" y="75.65" font-size="8.5" text-anchor="end" font-family='"Liberation Sans", sans-serif' fill="#262626" >2.5</text>
<text x="28.4" y="49.38" font-size="8.5" text-anchor="end" font-family='"Liberation Sans", sans-serif' fill="#262626" >3</text>
<text x="28.4" y="23.1" font-size="8.5" text-anchor="end" font-family='"Liberation Sans", sans-serif' fill="#262626" >3.5</text>
<rect x="33.8" y="125.5" width="132" height="69.95" fill="none" stroke="#262626" stroke-width="1.1"/>
<line x1="62.09" y1="195.45" x2="62.09" y2="198.45" stroke="#262626" stroke-width="1.2"/>
<line x1="99.8" y1="195.45" x2="99.8" y2="198.45" stroke="#262626" stroke-width="1.2"/>
<line x1="137.51" y1="195.45" x2="137.51" y2="198.45" stroke="#262626" stroke-width="1.2"/>
<line x1="33.8" y1="195.45" x2="30.8" y2="195.45" stroke="#262626" stroke-width="1.2"/>
<line x1="165.8" y1="195.45" x2="168.8" y2="195.45" stroke="#262626" stroke-width="1.2"/>
<line x1="33.8" y1="170.01" x2="30.8" y2="170.01" stroke="#262626" stroke-width="1.2"/>
<line x1="165.8" y1="170.01" x2="168.8" y2="170.01" stroke="#262626" stroke-width="1.2"/>
<line x1="33.8" y1="144.58" x2="30.8" y2="144.58" stroke="#262626" stroke-width="1.2"/>
<line x1="165.8" y1="144.58" x2="168.8" y2="144.58" stroke="#262626" stroke-width="1.2"/>
<text x="28.4" y="198.15" font-size="8.5" text-anchor="end" font-family='"Liberation Sans", sans-serif' fill="#262626" >20</text>
<text x="28.4" y="172.71" font-size="8.5" text-anchor="end" font-family='"Liberation Sans", sans-serif' fill="#262626" >40</text>
<text x="28.4" y="147.28" font-size="8.5" text-anchor="end" font-family='"Liberation Sans", sans-serif' fill="#262626" >60</text>
<text x="62.09" y="209.45" font-size="8.5" text-anchor="middle" font-family='"Liberation Sans", sans-serif' fill="#262626" >-2</text>
<text x="99.8" y="209.45" font-size="8.5" text-anchor="middle" font-family='"Liberation Sans", sans-serif' fill="#262626" >0</text>
<text x="137.51" y="209.45" font-size="8.5" text-anchor="middle" font-family='"Liberation Sans", sans-serif' fill="#262626" >2</text>
<rect x="194.6" y="20.4" width="131.1" height="105.1" fill="none" stroke="#262626" stroke-width="1.1"/>
<line x1="222.69" y1="20.4" x2="222.69" y2="17.4" stroke="#262626" stroke-width="1.2"/>
<line x1="260.15" y1="20.4" x2="260.15" y2="17.4" stroke="#262626" stroke-width="1.2"/>
<line x1="297.61" y1="20.4" x2="297.61" y2="17.4" stroke="#262626" stroke-width="1.2"/>
<line x1="194.6" y1="125.5" x2="191.6" y2="125.5" stroke="#262626" stroke-width="1.2"/>
<line x1="325.7" y1="125.5" x2="328.7" y2="125.5" stroke="#262626" stroke-width="1.2"/>
<line x1="194.6" y1="99.22" x2="191.6" y2="99.22" stroke="#262626" stroke-width="1.2"/>
<line x1="325.7" y1="99.22" x2="328.7" y2="99.22" stroke="#262626" stroke-width="1.2"/>
<line x1="194.6" y1="72.95" x2="191.6" y2="72.95" stroke="#262626" stroke-width="1.2"/>
<line x1="325.7" y1="72.95" x2="328.7" y2="72.95" stroke="#262626" stroke-width="1.2"/>
<line x1="194.6" y1="46.68" x2="191.6" y2="46.68" stroke="#262626" stroke-width="1.2"/>
<line x1="325.7" y1="46.68" x2="328.7" y2="46.68" stroke="#262626" stroke-width="1.2"/>
<line x1="194.6" y1="20.4" x2="191.6" y2="20.4" stroke="#262626" stroke-width="1.2"/>
<line x1="325.7" y1="20.4" x2="328.7" y2="20.4" stroke="#262626" stroke-width="1.2"/>
<text x="189.2" y="128.2" font-size="8.5" text-anchor="end" font-family='"Liberation Sans", sans-serif' fill="#262626" >-6</text>
<text x="189.2" y="101.92" font-size="8.5" text-anchor="end" font-family='"Liberation Sans", sans-serif' fill="#262626" >-4</text>
<text x="189.2" y="75.65" font-size="8.5" text-anchor="end" font-family='"Liberation Sans", sans-serif' fill="#262626" >-2</text>
<text x="189.2" y="49.38" font-size="8.5" text-anchor="end" font-family='"Liberation Sans", sans-serif' fill="#262626" >0</text>
<text x="189.2" y="23.1" font-size="8.5" text-anchor="end" font-family='"Liberation Sans", sans-serif' fill="#262626" >2</text>
<rect x="194.6" y="125.5" width="131.1" height="69.95" fill="none" stroke="#262626" stroke-width="1.1"/>
<line x1="222.69" y1="195.45" x2="222.69" y2="198.45" stroke="#262626" stroke-width="1.2"/>
<line x1="260.15" y1="195.45" x2="260.15" y2="198.45" stroke="#262626" stroke-width="1.2"/>
<line x1="297.61" y1="195.45" x2="297.61" y2="198.45" stroke="#262626" stroke-width="1.2"/>
<line x1="194.6" y1="179.91" x2="191.6" y2="179.91" stroke="#262626" stroke-width="1.2"/>
<line x1="325.7" y1="179.91" x2="328.7" y2="179.91" stroke="#262626" stroke-width="1.2"/>
<line x1="194.6" y1="160.47" x2="191.6" y2="160.47" stroke="#262626" stroke-width="1.2"/>
<line x1="325.7" y1="160.47" x2="328.7" y2="160.47" stroke="#262626" stroke-width="1.2"/>
<line x1="194.6" y1="141.04" x2="191.6" y2="141.04" stroke="#262626" stroke-width="1.2"/>
<line x1="325.7" y1="141.04" x2="328.7" y2="141.04" stroke="#262626" stroke-width="1.2"/>
<text x="189.2" y="182.61" font-size="8.5" text-anchor="end" font-family='"Liberation Sans", sans-serif' fill="#262626" >-100</text>
<text x="189.2" y="163.17" font-size="8.5" text-anchor="end" font-family='"Liberation Sans", sans-serif' fill="#262626" >0</text>
<text x="189.2" y="143.74" font-size="8.5" text-anchor="end" font-family='"Liberation Sans", sans-serif' fill="#262626" >100</text>
<text x="222.69" y="209.45" font-size="8.5" text-anchor="middle" font-family='"Liberation Sans", sans-serif' fill="#262626" >-2</text>
<text x="260.15" y="209.45" font-size="8.5" text-anchor="middle" font-family='"Liberation Sans", sans-serif' fill="#262626" >0</text>
<text x="297.61" y="209.45" font-size="8.5" text-anchor="middle" font-family='"Liberation Sans", sans-serif' fill="#262626" >2</text>
<text x="99.8" y="220.25" font-size="9.6" text-anchor="middle" font-family='"Liberation Sans", sans-serif' fill="#262626">log<tspan font-size="8.5" dy="3.3">10</tspan><tspan dy="-3.3">( Period ) [s]</tspan></text>
<text x="260.15" y="220.25" font-size="9.6" text-anchor="middle" font-family='"Liberation Sans", sans-serif' fill="#262626">log<tspan font-size="8.5" dy="3.3">10</tspan><tspan dy="-3.3">( Period ) [s]</tspan></text>
<text transform="translate(9,74.35) rotate(-90)" x="0" y="0" font-size="9.9" text-anchor="middle" font-family='"Liberation Sans", sans-serif' fill="#262626">log<tspan font-size="7.2" dy="2.6">10</tspan><tspan dy="-2.6">( </tspan><tspan font-family='"Liberation Serif", serif' font-style="italic">ρ</tspan><tspan font-size="7.2" dy="2.6">app</tspan><tspan dy="-2.6"> ) [Ωm]</tspan></text>
<text transform="translate(15.4,160.47) rotate(-90)" x="0" y="0" font-size="9.85" text-anchor="middle" font-family='"Liberation Sans", sans-serif' fill="#262626">Phase [°]</text>
<text x="138.3" y="10" font-size="12.9" font-weight="bold" font-family='"Liberation Serif", serif' fill="#111">(a) Station S<tspan font-size="9" dy="2.5">1</tspan></text>
<line x1="62.09" y1="254.5" x2="62.09" y2="359.6" stroke="#d0d0d0" stroke-width="0.75"/>
<line x1="99.8" y1="254.5" x2="99.8" y2="359.6" stroke="#d0d0d0" stroke-width="0.75"/>
<line x1="137.51" y1="254.5" x2="137.51" y2="359.6" stroke="#d0d0d0" stroke-width="0.75"/>
<line x1="33.8" y1="333.33" x2="165.8" y2="333.33" stroke="#d0d0d0" stroke-width="0.75"/>
<line x1="33.8" y1="307.05" x2="165.8" y2="307.05" stroke="#d0d0d0" stroke-width="0.75"/>
<line x1="33.8" y1="280.77" x2="165.8" y2="280.77" stroke="#d0d0d0" stroke-width="0.75"/>
<line x1="62.09" y1="359.6" x2="62.09" y2="429.55" stroke="#d0d0d0" stroke-width="0.75"/>
<line x1="99.8" y1="359.6" x2="99.8" y2="429.55" stroke="#d0d0d0" stroke-width="0.75"/>
<line x1="137.51" y1="359.6" x2="137.51" y2="429.55" stroke="#d0d0d0" stroke-width="0.75"/>
<line x1="33.8" y1="404.11" x2="165.8" y2="404.11" stroke="#d0d0d0" stroke-width="0.75"/>
<line x1="33.8" y1="378.68" x2="165.8" y2="378.68" stroke="#d0d0d0" stroke-width="0.75"/>
<line x1="222.77" y1="254.5" x2="222.77" y2="359.6" stroke="#d0d0d0" stroke-width="0.75"/>
<line x1="260.2" y1="254.5" x2="260.2" y2="359.6" stroke="#d0d0d0" stroke-width="0.75"/>
<line x1="297.63" y1="254.5" x2="297.63" y2="359.6" stroke="#d0d0d0" stroke-width="0.75"/>
<line x1="194.7" y1="333.33" x2="325.7" y2="333.33" stroke="#d0d0d0" stroke-width="0.75"/>
<line x1="194.7" y1="307.05" x2="325.7" y2="307.05" stroke="#d0d0d0" stroke-width="0.75"/>
<line x1="194.7" y1="280.77" x2="325.7" y2="280.77" stroke="#d0d0d0" stroke-width="0.75"/>
<line x1="222.77" y1="359.6" x2="222.77" y2="429.55" stroke="#d0d0d0" stroke-width="0.75"/>
<line x1="260.2" y1="359.6" x2="260.2" y2="429.55" stroke="#d0d0d0" stroke-width="0.75"/>
<line x1="297.63" y1="359.6" x2="297.63" y2="429.55" stroke="#d0d0d0" stroke-width="0.75"/>
<line x1="194.7" y1="414.01" x2="325.7" y2="414.01" stroke="#d0d0d0" stroke-width="0.75"/>
<line x1="194.7" y1="394.58" x2="325.7" y2="394.58" stroke="#d0d0d0" stroke-width="0.75"/>
<line x1="194.7" y1="375.14" x2="325.7" y2="375.14" stroke="#d0d0d0" stroke-width="0.75"/>
<clipPath id="c5"><rect x="33.8" y="254.5" width="132" height="105.1"/></clipPath>
<g clip-path="url(#c5)" fill="none">
<path d="M43.17,308.19 C50.61,308.35 78.38,309.39 87.77,309.16 C97.16,308.94 96.51,307.37 99.51,306.82 C102.51,306.26 103.65,306.65 105.77,305.84 C107.89,305.02 110.11,303.72 112.23,301.93 C114.35,300.13 116.37,296.87 118.49,295.08 C120.61,293.29 122.89,292.21 124.94,291.17 C127,290.12 128.69,289.31 130.81,288.82 C132.93,288.33 135.54,288.23 137.66,288.23 C139.78,288.23 141.47,288.59 143.53,288.82 C145.58,289.05 147.86,289.31 149.98,289.6 C152.1,289.9 155.2,290.42 156.24,290.58" stroke="#ff0000" stroke-width="1.0" stroke-dasharray="2.6,2.1" stroke-linejoin="round"/>
<path d="M43.17,308.19 C47.35,308.12 61.92,307.76 68.21,307.8 C74.5,307.83 77.67,308.12 80.93,308.38 C84.19,308.64 85.65,309.3 87.77,309.36 C89.89,309.43 91.69,309.26 93.64,308.77 C95.6,308.28 97.49,307.57 99.51,306.43 C101.53,305.29 103.65,303.56 105.77,301.93 C107.89,300.3 110.11,298.28 112.23,296.65 C114.35,295.02 116.37,293.38 118.49,292.15 C120.61,290.91 122.89,290.03 124.94,289.21 C127,288.4 128.69,287.84 130.81,287.26 C132.93,286.67 135.54,286.11 137.66,285.69 C139.78,285.27 141.47,285.01 143.53,284.71 C145.58,284.42 147.86,284.16 149.98,283.93 C152.1,283.7 155.2,283.44 156.24,283.34" stroke="#ff0000" stroke-width="1.1" stroke-linejoin="round"/>
<path d="M43.17,309.09 C47.35,309.02 61.92,308.66 68.21,308.7 C74.5,308.73 77.67,309.02 80.93,309.28 C84.19,309.54 85.65,310.2 87.77,310.26 C89.89,310.33 91.69,310.16 93.64,309.67 C95.6,309.18 97.49,308.47 99.51,307.33 C101.53,306.19 103.65,304.46 105.77,302.83 C107.89,301.2 110.11,299.18 112.23,297.55 C114.35,295.92 116.37,294.28 118.49,293.05 C120.61,291.81 122.89,290.93 124.94,290.11 C127,289.3 128.69,288.74 130.81,288.16 C132.93,287.57 135.54,287.01 137.66,286.59 C139.78,286.17 141.47,285.91 143.53,285.61 C145.58,285.32 147.86,285.06 149.98,284.83 C152.1,284.6 155.2,284.34 156.24,284.24" stroke="#ff0000" stroke-width="0.6" stroke-dasharray="3,1.2,0.8,1.2"/>
<path d="M43.17,308.19 C51.58,308.22 84.25,308.12 93.64,308.38 C103.03,308.64 97.39,309.36 99.51,309.75 C101.63,310.14 104.24,311.06 106.36,310.73 C108.48,310.4 110.2,308.77 112.23,307.8 C114.25,306.82 116.37,305.61 118.49,304.86 C120.61,304.11 122.89,303.69 124.94,303.3 C127,302.91 128.69,302.77 130.81,302.51 C132.93,302.25 135.54,301.93 137.66,301.73 C139.78,301.54 141.47,301.54 143.53,301.34 C145.58,301.14 147.86,301.11 149.98,300.56 C152.1,300 155.2,298.44 156.24,298.01" stroke="#0000ff" stroke-width="1.0" stroke-dasharray="2.6,2.1" stroke-linejoin="round"/>
<path d="M43.17,308.19 C49.46,308.02 73.56,307.6 80.93,307.21 C88.3,306.82 85.26,305.64 87.38,305.84 C89.5,306.04 91.46,306.92 93.64,308.38 C95.83,309.85 98.37,312.69 100.49,314.64 C102.61,316.6 104.4,319.08 106.36,320.12 C108.31,321.16 110.2,321.33 112.23,320.9 C114.25,320.48 116.37,318.69 118.49,317.58 C120.61,316.47 122.89,315.23 124.94,314.25 C127,313.27 128.69,312.46 130.81,311.71 C132.93,310.96 135.54,310.31 137.66,309.75 C139.78,309.2 141.47,308.74 143.53,308.38 C145.58,308.02 147.86,307.8 149.98,307.6 C152.1,307.4 155.2,307.27 156.24,307.21" stroke="#0000ff" stroke-width="1.1" stroke-linejoin="round"/>
<path d="M43.17,309.09 C49.46,308.92 73.56,308.5 80.93,308.11 C88.3,307.72 85.26,306.54 87.38,306.74 C89.5,306.94 91.46,307.82 93.64,309.28 C95.83,310.75 98.37,313.59 100.49,315.54 C102.61,317.5 104.4,319.98 106.36,321.02 C108.31,322.06 110.2,322.23 112.23,321.8 C114.25,321.38 116.37,319.59 118.49,318.48 C120.61,317.37 122.89,316.13 124.94,315.15 C127,314.17 128.69,313.36 130.81,312.61 C132.93,311.86 135.54,311.21 137.66,310.65 C139.78,310.1 141.47,309.64 143.53,309.28 C145.58,308.92 147.86,308.7 149.98,308.5 C152.1,308.3 155.2,308.17 156.24,308.11" stroke="#0000ff" stroke-width="0.6" stroke-dasharray="3,1.2,0.8,1.2"/>
</g>
<path d="M41.98,308.94 L44.48,308.94 L43.23,306.44 Z" fill="#e00000" stroke="#2a0a0a" stroke-width="0.55"/>
<path d="M48.26,308.84 L50.76,308.84 L49.51,306.34 Z" fill="#e00000" stroke="#2a0a0a" stroke-width="0.55"/>
<path d="M54.55,308.74 L57.05,308.74 L55.8,306.25 Z" fill="#e00000" stroke="#2a0a0a" stroke-width="0.55"/>
<path d="M60.84,308.64 L63.34,308.64 L62.09,306.15 Z" fill="#e00000" stroke="#2a0a0a" stroke-width="0.55"/>
<path d="M67.12,308.55 L69.62,308.55 L68.37,306.06 Z" fill="#e00000" stroke="#2a0a0a" stroke-width="0.55"/>
<path d="M73.41,308.84 L75.91,308.84 L74.66,306.35 Z" fill="#e00000" stroke="#2a0a0a" stroke-width="0.55"/>
<path d="M79.69,309.13 L82.19,309.13 L80.94,306.64 Z" fill="#e00000" stroke="#2a0a0a" stroke-width="0.55"/>
<path d="M85.98,310.03 L88.48,310.03 L87.23,307.54 Z" fill="#e00000" stroke="#2a0a0a" stroke-width="0.55"/>
<path d="M92.26,309.54 L94.76,309.54 L93.51,307.04 Z" fill="#e00000" stroke="#2a0a0a" stroke-width="0.55"/>
<path d="M98.55,306.97 L101.05,306.97 L99.8,304.47 Z" fill="#e00000" stroke="#2a0a0a" stroke-width="0.55"/>
<path d="M104.84,302.42 L107.34,302.42 L106.09,299.93 Z" fill="#e00000" stroke="#2a0a0a" stroke-width="0.55"/>
<path d="M111.12,297.29 L113.62,297.29 L112.37,294.8 Z" fill="#e00000" stroke="#2a0a0a" stroke-width="0.55"/>
<path d="M117.41,292.82 L119.91,292.82 L118.66,290.32 Z" fill="#e00000" stroke="#2a0a0a" stroke-width="0.55"/>
<path d="M123.69,289.96 L126.19,289.96 L124.94,287.47 Z" fill="#e00000" stroke="#2a0a0a" stroke-width="0.55"/>
<path d="M129.98,287.91 L132.48,287.91 L131.23,285.42 Z" fill="#e00000" stroke="#2a0a0a" stroke-width="0.55"/>
<path d="M136.26,286.47 L138.76,286.47 L137.51,283.98 Z" fill="#e00000" stroke="#2a0a0a" stroke-width="0.55"/>
<path d="M142.55,285.43 L145.05,285.43 L143.8,282.94 Z" fill="#e00000" stroke="#2a0a0a" stroke-width="0.55"/>
<path d="M148.84,284.67 L151.34,284.67 L150.09,282.18 Z" fill="#e00000" stroke="#2a0a0a" stroke-width="0.55"/>
<path d="M155.12,284.09 L157.62,284.09 L156.37,281.6 Z" fill="#e00000" stroke="#2a0a0a" stroke-width="0.55"/>
<path d="M41.98,307.44 L44.48,307.44 L43.23,309.93 Z" fill="#0000e8" stroke="#0a0a30" stroke-width="0.55"/>
<path d="M48.26,307.27 L50.76,307.27 L49.51,309.77 Z" fill="#0000e8" stroke="#0a0a30" stroke-width="0.55"/>
<path d="M54.55,307.11 L57.05,307.11 L55.8,309.6 Z" fill="#0000e8" stroke="#0a0a30" stroke-width="0.55"/>
<path d="M60.84,306.95 L63.34,306.95 L62.09,309.44 Z" fill="#0000e8" stroke="#0a0a30" stroke-width="0.55"/>
<path d="M67.12,306.78 L69.62,306.78 L68.37,309.28 Z" fill="#0000e8" stroke="#0a0a30" stroke-width="0.55"/>
<path d="M73.41,306.62 L75.91,306.62 L74.66,309.11 Z" fill="#0000e8" stroke="#0a0a30" stroke-width="0.55"/>
<path d="M79.69,306.46 L82.19,306.46 L80.94,308.95 Z" fill="#0000e8" stroke="#0a0a30" stroke-width="0.55"/>
<path d="M85.98,305.12 L88.48,305.12 L87.23,307.62 Z" fill="#0000e8" stroke="#0a0a30" stroke-width="0.55"/>
<path d="M92.26,307.58 L94.76,307.58 L93.51,310.07 Z" fill="#0000e8" stroke="#0a0a30" stroke-width="0.55"/>
<path d="M98.55,313.26 L101.05,313.26 L99.8,315.76 Z" fill="#0000e8" stroke="#0a0a30" stroke-width="0.55"/>
<path d="M104.84,319.12 L107.34,319.12 L106.09,321.61 Z" fill="#0000e8" stroke="#0a0a30" stroke-width="0.55"/>
<path d="M111.12,320.08 L113.62,320.08 L112.37,322.57 Z" fill="#0000e8" stroke="#0a0a30" stroke-width="0.55"/>
<path d="M117.41,316.74 L119.91,316.74 L118.66,319.23 Z" fill="#0000e8" stroke="#0a0a30" stroke-width="0.55"/>
<path d="M123.69,313.5 L126.19,313.5 L124.94,315.99 Z" fill="#0000e8" stroke="#0a0a30" stroke-width="0.55"/>
<path d="M129.98,310.84 L132.48,310.84 L131.23,313.33 Z" fill="#0000e8" stroke="#0a0a30" stroke-width="0.55"/>
<path d="M136.26,309.04 L138.76,309.04 L137.51,311.54 Z" fill="#0000e8" stroke="#0a0a30" stroke-width="0.55"/>
<path d="M142.55,307.6 L145.05,307.6 L143.8,310.09 Z" fill="#0000e8" stroke="#0a0a30" stroke-width="0.55"/>
<path d="M148.84,306.84 L151.34,306.84 L150.09,309.34 Z" fill="#0000e8" stroke="#0a0a30" stroke-width="0.55"/>
<path d="M155.12,306.46 L157.62,306.46 L156.37,308.95 Z" fill="#0000e8" stroke="#0a0a30" stroke-width="0.55"/>
<clipPath id="c6"><rect x="33.8" y="359.6" width="132" height="69.95"/></clipPath>
<g clip-path="url(#c6)" fill="none">
<path d="M43.17,397.15 C49.46,397.08 73.56,396.85 80.93,396.75 C88.3,396.66 85.26,396.82 87.38,396.56 C89.5,396.3 91.62,395.32 93.64,395.19 C95.66,395.06 97.39,394.47 99.51,395.78 C101.63,397.08 104.24,400.34 106.36,403.01 C108.48,405.69 110.2,410.09 112.23,411.82 C114.25,413.55 116.37,413.64 118.49,413.38 C120.61,413.12 122.89,411.49 124.94,410.25 C127,409.01 128.69,407.48 130.81,405.95 C132.93,404.42 135.54,402.43 137.66,401.06 C139.78,399.69 141.47,398.61 143.53,397.73 C145.58,396.85 147.86,396.2 149.98,395.78 C152.1,395.35 155.2,395.29 156.24,395.19" stroke="#ff0000" stroke-width="1.0" stroke-dasharray="2.6,2.1" stroke-linejoin="round"/>
<path d="M43.17,397.15 C49.46,397.05 73.56,396.23 80.93,396.56 C88.3,396.89 85.26,398.03 87.38,399.1 C89.5,400.18 91.56,401.71 93.64,403.01 C95.73,404.32 97.78,405.79 99.9,406.93 C102.02,408.07 104.3,409.31 106.36,409.86 C108.41,410.42 110.2,410.58 112.23,410.25 C114.25,409.93 116.37,408.69 118.49,407.91 C120.61,407.12 122.89,406.21 124.94,405.56 C127,404.91 128.69,404.58 130.81,403.99 C132.93,403.41 135.54,402.59 137.66,402.04 C139.78,401.48 141.47,400.99 143.53,400.67 C145.58,400.34 147.86,400.24 149.98,400.08 C152.1,399.92 155.2,399.75 156.24,399.69" stroke="#ff0000" stroke-width="1.1" stroke-linejoin="round"/>
<path d="M43.17,398.05 C49.46,397.95 73.56,397.13 80.93,397.46 C88.3,397.79 85.26,398.93 87.38,400 C89.5,401.08 91.56,402.61 93.64,403.91 C95.73,405.22 97.78,406.69 99.9,407.83 C102.02,408.97 104.3,410.21 106.36,410.76 C108.41,411.32 110.2,411.48 112.23,411.15 C114.25,410.83 116.37,409.59 118.49,408.81 C120.61,408.02 122.89,407.11 124.94,406.46 C127,405.81 128.69,405.48 130.81,404.89 C132.93,404.31 135.54,403.49 137.66,402.94 C139.78,402.38 141.47,401.89 143.53,401.57 C145.58,401.24 147.86,401.14 149.98,400.98 C152.1,400.82 155.2,400.65 156.24,400.59" stroke="#ff0000" stroke-width="0.6" stroke-dasharray="3,1.2,0.8,1.2"/>
<path d="M43.17,395.19 C49.46,395.52 73.56,396.98 80.93,397.15 C88.3,397.31 85.26,396.49 87.38,396.17 C89.5,395.84 91.56,394.86 93.64,395.19 C95.73,395.52 97.78,397.15 99.9,398.12 C102.02,399.1 104.3,400.24 106.36,401.06 C108.41,401.87 110.2,402.85 112.23,403.01 C114.25,403.18 116.37,402.36 118.49,402.04 C120.61,401.71 121.75,401.38 124.94,401.06 C128.14,400.73 133.48,400.08 137.66,400.08 C141.83,400.08 146.88,400.15 149.98,401.06 C153.08,401.97 155.2,404.81 156.24,405.56" stroke="#0000ff" stroke-width="1.0" stroke-dasharray="2.6,2.1" stroke-linejoin="round"/>
<path d="M43.17,397.15 C49.46,397.15 73.56,397.7 80.93,397.15 C88.3,396.59 85.26,395.61 87.38,393.82 C89.5,392.03 91.56,388.02 93.64,386.39 C95.73,384.76 97.78,383.45 99.9,384.04 C102.02,384.63 104.3,387.4 106.36,389.91 C108.41,392.42 110.2,396.43 112.23,399.1 C114.25,401.78 116.37,404.97 118.49,405.95 C120.61,406.93 122.89,405.36 124.94,404.97 C127,404.58 128.69,404.16 130.81,403.6 C132.93,403.05 135.54,402.17 137.66,401.65 C139.78,401.12 141.47,400.8 143.53,400.47 C145.58,400.15 147.86,399.82 149.98,399.69 C152.1,399.56 155.2,399.69 156.24,399.69" stroke="#0000ff" stroke-width="1.1" stroke-linejoin="round"/>
<path d="M43.17,398.05 C49.46,398.05 73.56,398.6 80.93,398.05 C88.3,397.49 85.26,396.51 87.38,394.72 C89.5,392.93 91.56,388.92 93.64,387.29 C95.73,385.66 97.78,384.35 99.9,384.94 C102.02,385.53 104.3,388.3 106.36,390.81 C108.41,393.32 110.2,397.33 112.23,400 C114.25,402.68 116.37,405.87 118.49,406.85 C120.61,407.83 122.89,406.26 124.94,405.87 C127,405.48 128.69,405.06 130.81,404.5 C132.93,403.95 135.54,403.07 137.66,402.55 C139.78,402.02 141.47,401.7 143.53,401.37 C145.58,401.05 147.86,400.72 149.98,400.59 C152.1,400.46 155.2,400.59 156.24,400.59" stroke="#0000ff" stroke-width="0.6" stroke-dasharray="3,1.2,0.8,1.2"/>
</g>
<path d="M41.98,397.9 L44.48,397.9 L43.23,395.4 Z" fill="#e00000" stroke="#2a0a0a" stroke-width="0.55"/>
<path d="M48.26,397.8 L50.76,397.8 L49.51,395.3 Z" fill="#e00000" stroke="#2a0a0a" stroke-width="0.55"/>
<path d="M54.55,397.7 L57.05,397.7 L55.8,395.21 Z" fill="#e00000" stroke="#2a0a0a" stroke-width="0.55"/>
<path d="M60.84,397.6 L63.34,397.6 L62.09,395.11 Z" fill="#e00000" stroke="#2a0a0a" stroke-width="0.55"/>
<path d="M67.12,397.5 L69.62,397.5 L68.37,395.01 Z" fill="#e00000" stroke="#2a0a0a" stroke-width="0.55"/>
<path d="M73.41,397.41 L75.91,397.41 L74.66,394.91 Z" fill="#e00000" stroke="#2a0a0a" stroke-width="0.55"/>
<path d="M79.69,397.32 L82.19,397.32 L80.94,394.82 Z" fill="#e00000" stroke="#2a0a0a" stroke-width="0.55"/>
<path d="M85.98,399.79 L88.48,399.79 L87.23,397.3 Z" fill="#e00000" stroke="#2a0a0a" stroke-width="0.55"/>
<path d="M92.26,403.68 L94.76,403.68 L93.51,401.19 Z" fill="#e00000" stroke="#2a0a0a" stroke-width="0.55"/>
<path d="M98.55,407.61 L101.05,407.61 L99.8,405.12 Z" fill="#e00000" stroke="#2a0a0a" stroke-width="0.55"/>
<path d="M104.84,410.49 L107.34,410.49 L106.09,407.99 Z" fill="#e00000" stroke="#2a0a0a" stroke-width="0.55"/>
<path d="M111.12,410.95 L113.62,410.95 L112.37,408.45 Z" fill="#e00000" stroke="#2a0a0a" stroke-width="0.55"/>
<path d="M117.41,408.59 L119.91,408.59 L118.66,406.1 Z" fill="#e00000" stroke="#2a0a0a" stroke-width="0.55"/>
<path d="M123.69,406.31 L126.19,406.31 L124.94,403.81 Z" fill="#e00000" stroke="#2a0a0a" stroke-width="0.55"/>
<path d="M129.98,404.62 L132.48,404.62 L131.23,402.13 Z" fill="#e00000" stroke="#2a0a0a" stroke-width="0.55"/>
<path d="M136.26,402.83 L138.76,402.83 L137.51,400.33 Z" fill="#e00000" stroke="#2a0a0a" stroke-width="0.55"/>
<path d="M142.55,401.39 L145.05,401.39 L143.8,398.9 Z" fill="#e00000" stroke="#2a0a0a" stroke-width="0.55"/>
<path d="M148.84,400.82 L151.34,400.82 L150.09,398.33 Z" fill="#e00000" stroke="#2a0a0a" stroke-width="0.55"/>
<path d="M155.12,400.44 L157.62,400.44 L156.37,397.95 Z" fill="#e00000" stroke="#2a0a0a" stroke-width="0.55"/>
<path d="M41.98,396.4 L44.48,396.4 L43.23,398.89 Z" fill="#0000e8" stroke="#0a0a30" stroke-width="0.55"/>
<path d="M48.26,396.4 L50.76,396.4 L49.51,398.89 Z" fill="#0000e8" stroke="#0a0a30" stroke-width="0.55"/>
<path d="M54.55,396.4 L57.05,396.4 L55.8,398.89 Z" fill="#0000e8" stroke="#0a0a30" stroke-width="0.55"/>
<path d="M60.84,396.4 L63.34,396.4 L62.09,398.89 Z" fill="#0000e8" stroke="#0a0a30" stroke-width="0.55"/>
<path d="M67.12,396.4 L69.62,396.4 L68.37,398.89 Z" fill="#0000e8" stroke="#0a0a30" stroke-width="0.55"/>
<path d="M73.41,396.4 L75.91,396.4 L74.66,398.89 Z" fill="#0000e8" stroke="#0a0a30" stroke-width="0.55"/>
<path d="M79.69,396.39 L82.19,396.39 L80.94,398.88 Z" fill="#0000e8" stroke="#0a0a30" stroke-width="0.55"/>
<path d="M85.98,393.15 L88.48,393.15 L87.23,395.64 Z" fill="#0000e8" stroke="#0a0a30" stroke-width="0.55"/>
<path d="M92.26,385.79 L94.76,385.79 L93.51,388.28 Z" fill="#0000e8" stroke="#0a0a30" stroke-width="0.55"/>
<path d="M98.55,383.33 L101.05,383.33 L99.8,385.82 Z" fill="#0000e8" stroke="#0a0a30" stroke-width="0.55"/>
<path d="M104.84,388.91 L107.34,388.91 L106.09,391.4 Z" fill="#0000e8" stroke="#0a0a30" stroke-width="0.55"/>
<path d="M111.12,398.51 L113.62,398.51 L112.37,401 Z" fill="#0000e8" stroke="#0a0a30" stroke-width="0.55"/>
<path d="M117.41,405.17 L119.91,405.17 L118.66,407.67 Z" fill="#0000e8" stroke="#0a0a30" stroke-width="0.55"/>
<path d="M123.69,404.22 L126.19,404.22 L124.94,406.71 Z" fill="#0000e8" stroke="#0a0a30" stroke-width="0.55"/>
<path d="M129.98,402.73 L132.48,402.73 L131.23,405.23 Z" fill="#0000e8" stroke="#0a0a30" stroke-width="0.55"/>
<path d="M136.26,400.94 L138.76,400.94 L137.51,403.43 Z" fill="#0000e8" stroke="#0a0a30" stroke-width="0.55"/>
<path d="M142.55,399.69 L145.05,399.69 L143.8,402.18 Z" fill="#0000e8" stroke="#0a0a30" stroke-width="0.55"/>
<path d="M148.84,398.94 L151.34,398.94 L150.09,401.43 Z" fill="#0000e8" stroke="#0a0a30" stroke-width="0.55"/>
<path d="M155.12,398.94 L157.62,398.94 L156.37,401.43 Z" fill="#0000e8" stroke="#0a0a30" stroke-width="0.55"/>
<clipPath id="c7"><rect x="194.7" y="254.5" width="131" height="105.1"/></clipPath>
<g clip-path="url(#c7)" fill="none">
<line x1="204.06" y1="252.5" x2="204.06" y2="361.6" stroke="#8af5f7" stroke-width="0.95"/>
<line x1="210.3" y1="252.5" x2="210.3" y2="361.6" stroke="#8af5f7" stroke-width="0.95"/>
<line x1="216.53" y1="252.5" x2="216.53" y2="361.6" stroke="#8af5f7" stroke-width="0.95"/>
<line x1="222.77" y1="252.5" x2="222.77" y2="361.6" stroke="#8af5f7" stroke-width="0.95"/>
<line x1="229.01" y1="252.5" x2="229.01" y2="361.6" stroke="#8af5f7" stroke-width="0.95"/>
<line x1="235.25" y1="252.5" x2="235.25" y2="361.6" stroke="#8af5f7" stroke-width="0.95"/>
<line x1="241.49" y1="252.5" x2="241.49" y2="361.6" stroke="#8af5f7" stroke-width="0.95"/>
<line x1="247.72" y1="252.5" x2="247.72" y2="361.6" stroke="#8af5f7" stroke-width="0.95"/>
<line x1="253.96" y1="252.5" x2="253.96" y2="361.6" stroke="#8af5f7" stroke-width="0.95"/>
<line x1="260.2" y1="252.5" x2="260.2" y2="361.6" stroke="#8af5f7" stroke-width="0.95"/>
<line x1="266.44" y1="252.5" x2="266.44" y2="361.6" stroke="#8af5f7" stroke-width="0.95"/>
<line x1="272.68" y1="265.65" x2="272.68" y2="344.28" stroke="#8af5f7" stroke-width="0.95"/>
<line x1="271.08" y1="265.65" x2="274.28" y2="265.65" stroke="#7eeff4" stroke-width="0.9"/>
<line x1="271.08" y1="344.28" x2="274.28" y2="344.28" stroke="#7eeff4" stroke-width="0.9"/>
<line x1="278.91" y1="271.47" x2="278.91" y2="332.64" stroke="#8af5f7" stroke-width="0.95"/>
<line x1="277.31" y1="271.47" x2="280.51" y2="271.47" stroke="#7eeff4" stroke-width="0.9"/>
<line x1="277.31" y1="332.64" x2="280.51" y2="332.64" stroke="#7eeff4" stroke-width="0.9"/>
<line x1="285.15" y1="273.42" x2="285.15" y2="331.66" stroke="#8af5f7" stroke-width="0.95"/>
<line x1="283.55" y1="273.42" x2="286.75" y2="273.42" stroke="#7eeff4" stroke-width="0.9"/>
<line x1="283.55" y1="331.66" x2="286.75" y2="331.66" stroke="#7eeff4" stroke-width="0.9"/>
<line x1="291.39" y1="275.36" x2="291.39" y2="326.81" stroke="#8af5f7" stroke-width="0.95"/>
<line x1="289.79" y1="275.36" x2="292.99" y2="275.36" stroke="#7eeff4" stroke-width="0.9"/>
<line x1="289.79" y1="326.81" x2="292.99" y2="326.81" stroke="#7eeff4" stroke-width="0.9"/>
<line x1="297.63" y1="277.3" x2="297.63" y2="323.9" stroke="#8af5f7" stroke-width="0.95"/>
<line x1="296.03" y1="277.3" x2="299.23" y2="277.3" stroke="#7eeff4" stroke-width="0.9"/>
<line x1="296.03" y1="323.9" x2="299.23" y2="323.9" stroke="#7eeff4" stroke-width="0.9"/>
<line x1="303.87" y1="278.27" x2="303.87" y2="322.93" stroke="#8af5f7" stroke-width="0.95"/>
<line x1="302.27" y1="278.27" x2="305.47" y2="278.27" stroke="#7eeff4" stroke-width="0.9"/>
<line x1="302.27" y1="322.93" x2="305.47" y2="322.93" stroke="#7eeff4" stroke-width="0.9"/>
<line x1="310.1" y1="279.24" x2="310.1" y2="321.57" stroke="#8af5f7" stroke-width="0.95"/>
<line x1="308.5" y1="279.24" x2="311.7" y2="279.24" stroke="#7eeff4" stroke-width="0.9"/>
<line x1="308.5" y1="321.57" x2="311.7" y2="321.57" stroke="#7eeff4" stroke-width="0.9"/>
<line x1="316.34" y1="269.53" x2="316.34" y2="320.4" stroke="#8af5f7" stroke-width="0.95"/>
<line x1="314.74" y1="269.53" x2="317.94" y2="269.53" stroke="#7eeff4" stroke-width="0.9"/>
<line x1="314.74" y1="320.4" x2="317.94" y2="320.4" stroke="#7eeff4" stroke-width="0.9"/>
<line x1="252.16" y1="257.88" x2="255.76" y2="257.88" stroke="#f59af5" stroke-width="0.9"/>
<line x1="258.4" y1="278.85" x2="262" y2="278.85" stroke="#f59af5" stroke-width="0.9"/>
<line x1="264.64" y1="286.62" x2="268.24" y2="286.62" stroke="#f59af5" stroke-width="0.9"/>
<line x1="270.88" y1="277.3" x2="274.48" y2="277.3" stroke="#f59af5" stroke-width="0.9"/>
<path d="M237.69,360.01 C239.14,357.55 243.67,350.63 246.42,345.26 C249.17,339.88 251.92,333.61 254.19,327.78 C256.45,321.96 258.07,315.32 260.01,310.31 C261.96,305.29 263.74,300.92 265.84,297.69 C267.94,294.45 270.47,292.67 272.64,290.89 C274.8,289.11 276.74,288.14 278.85,287.01 C280.95,285.87 283.22,284.81 285.26,284.09 C287.29,283.38 288.98,283.16 291.08,282.74 C293.18,282.32 295.77,281.83 297.88,281.57 C299.98,281.31 301.66,281.31 303.7,281.18 C305.74,281.05 308,280.96 310.11,280.79 C312.21,280.63 315.29,280.31 316.32,280.21" stroke="#00f0f0" stroke-width="1.0" stroke-dasharray="2.6,2.1" stroke-linejoin="round"/>
<path d="M231.86,360.01 C233.64,355.93 239.63,342.21 242.54,335.55 C245.45,328.88 247.39,323.9 249.34,320.01 C251.28,316.13 252.41,317.1 254.19,312.25 C255.97,307.39 258.07,296.07 260.01,290.89 C261.96,285.71 263.74,283.77 265.84,281.18 C267.94,278.59 270.47,276.91 272.64,275.36 C274.8,273.8 276.74,272.77 278.85,271.86 C280.95,270.96 283.22,270.37 285.26,269.92 C287.29,269.47 288.98,269.37 291.08,269.14 C293.18,268.92 295.77,268.76 297.88,268.56 C299.98,268.37 301.66,268.14 303.7,267.98 C305.74,267.82 308,267.82 310.11,267.59 C312.21,267.36 315.29,266.78 316.32,266.62" stroke="#ff00ff" stroke-width="1.0" stroke-dasharray="2.6,2.1" stroke-linejoin="round"/>
<path d="M244.48,360.01 C245.29,357.81 247.72,351.37 249.34,346.81 C250.95,342.25 252.41,337.49 254.19,332.64 C255.97,327.78 258.01,321.79 260.01,317.68 C262.02,313.57 264.12,310.57 266.23,307.98 C268.33,305.39 270.53,303.64 272.64,302.15 C274.74,300.66 276.74,299.95 278.85,299.05 C280.95,298.14 283.22,297.43 285.26,296.72 C287.29,296 288.98,295.32 291.08,294.77 C293.18,294.22 294.7,293.9 297.88,293.41 C301.05,292.93 307.03,292.18 310.11,291.86 C313.18,291.54 315.29,291.54 316.32,291.47" stroke="#00f0f0" stroke-width="0.85" stroke-dasharray="3.5,1,1,1" stroke-linejoin="round"/>
<path d="M230.89,360.01 C232.67,356.74 238.5,346.26 241.57,340.4 C244.64,334.54 247.07,330.05 249.34,324.87 C251.6,319.69 253.32,314.51 255.16,309.34 C257.01,304.16 258.56,298.17 260.4,293.8 C262.25,289.43 264.19,286.2 266.23,283.12 C268.27,280.05 270.53,277.46 272.64,275.36 C274.74,273.25 276.74,271.86 278.85,270.5 C280.95,269.14 283.22,268.08 285.26,267.2 C287.29,266.33 288.98,265.84 291.08,265.26 C293.18,264.68 294.7,264.23 297.88,263.71 C301.05,263.19 307.03,262.48 310.11,262.15 C313.18,261.83 315.29,261.83 316.32,261.77" stroke="#ff00ff" stroke-width="0.85" stroke-dasharray="3.5,1,1,1" stroke-linejoin="round"/>
<path d="M243.51,360.01 C244.32,357.88 246.75,351.6 248.36,347.2 C249.98,342.8 251.44,338.46 253.22,333.61 C255,328.75 256.94,322.28 259.04,318.07 C261.15,313.87 263.57,310.95 265.84,308.36 C268.1,305.78 270.47,304 272.64,302.54 C274.8,301.08 276.74,300.53 278.85,299.63 C280.95,298.72 283.22,297.85 285.26,297.1 C287.29,296.36 288.98,295.71 291.08,295.16 C293.18,294.61 295.77,294.19 297.88,293.8 C299.98,293.41 301.66,293.09 303.7,292.83 C305.74,292.57 308,292.41 310.11,292.25 C312.21,292.09 315.29,291.93 316.32,291.86" stroke="#00f0f0" stroke-width="1.0" stroke-linejoin="round"/>
<path d="M228.95,360.01 C230.89,356.58 237.36,345.45 240.6,339.43 C243.83,333.41 246.1,329.08 248.36,323.9 C250.63,318.72 252.25,313.54 254.19,308.36 C256.13,303.19 258.07,297.2 260.01,292.83 C261.96,288.46 263.74,285.23 265.84,282.15 C267.94,279.08 270.47,276.49 272.64,274.39 C274.8,272.28 276.74,270.83 278.85,269.53 C280.95,268.24 283.22,267.43 285.26,266.62 C287.29,265.81 288.98,265.26 291.08,264.68 C293.18,264.1 295.77,263.55 297.88,263.13 C299.98,262.7 301.66,262.45 303.7,262.15 C305.74,261.86 308,261.6 310.11,261.38 C312.21,261.15 315.29,260.89 316.32,260.8" stroke="#ff00ff" stroke-width="1.0" stroke-linejoin="round"/>
</g>
<path d="M246.37,332.8 L249.07,332.8 L247.72,330.1 Z" fill="#d010d0" stroke="#2a1a2a" stroke-width="0.55"/>
<path d="M252.61,309.5 L255.31,309.5 L253.96,306.81 Z" fill="#d010d0" stroke="#2a1a2a" stroke-width="0.55"/>
<path d="M258.85,293 L261.55,293 L260.2,290.3 Z" fill="#d010d0" stroke="#2a1a2a" stroke-width="0.55"/>
<path d="M265.09,282.9 L267.79,282.9 L266.44,280.21 Z" fill="#d010d0" stroke="#2a1a2a" stroke-width="0.55"/>
<path d="M271.33,275.52 L274.03,275.52 L272.68,272.83 Z" fill="#d010d0" stroke="#2a1a2a" stroke-width="0.55"/>
<path d="M277.56,271.64 L280.26,271.64 L278.91,268.94 Z" fill="#d010d0" stroke="#2a1a2a" stroke-width="0.55"/>
<path d="M283.8,268.34 L286.5,268.34 L285.15,265.64 Z" fill="#d010d0" stroke="#2a1a2a" stroke-width="0.55"/>
<path d="M290.04,266.4 L292.74,266.4 L291.39,263.7 Z" fill="#d010d0" stroke="#2a1a2a" stroke-width="0.55"/>
<path d="M296.28,264.84 L298.98,264.84 L297.63,262.15 Z" fill="#d010d0" stroke="#2a1a2a" stroke-width="0.55"/>
<path d="M302.52,264.07 L305.22,264.07 L303.87,261.37 Z" fill="#d010d0" stroke="#2a1a2a" stroke-width="0.55"/>
<path d="M308.75,263.68 L311.45,263.68 L310.1,260.98 Z" fill="#d010d0" stroke="#2a1a2a" stroke-width="0.55"/>
<path d="M314.99,263.29 L317.69,263.29 L316.34,260.6 Z" fill="#d010d0" stroke="#2a1a2a" stroke-width="0.55"/>
<path d="M246.37,349.56 L249.07,349.56 L247.72,352.25 Z" fill="#10c8c8" stroke="#1a2a2a" stroke-width="0.55"/>
<path d="M252.61,330.92 L255.31,330.92 L253.96,333.61 Z" fill="#10c8c8" stroke="#1a2a2a" stroke-width="0.55"/>
<path d="M258.85,317.91 L261.55,317.91 L260.2,320.6 Z" fill="#10c8c8" stroke="#1a2a2a" stroke-width="0.55"/>
<path d="M265.09,309.17 L267.79,309.17 L266.44,311.87 Z" fill="#10c8c8" stroke="#1a2a2a" stroke-width="0.55"/>
<path d="M271.33,303.74 L274.03,303.74 L272.68,306.43 Z" fill="#10c8c8" stroke="#1a2a2a" stroke-width="0.55"/>
<path d="M277.56,300.44 L280.26,300.44 L278.91,303.13 Z" fill="#10c8c8" stroke="#1a2a2a" stroke-width="0.55"/>
<path d="M283.8,298.49 L286.5,298.49 L285.15,301.19 Z" fill="#10c8c8" stroke="#1a2a2a" stroke-width="0.55"/>
<path d="M290.04,297.13 L292.74,297.13 L291.39,299.83 Z" fill="#10c8c8" stroke="#1a2a2a" stroke-width="0.55"/>
<path d="M296.28,295.58 L298.98,295.58 L297.63,298.27 Z" fill="#10c8c8" stroke="#1a2a2a" stroke-width="0.55"/>
<path d="M302.52,294.61 L305.22,294.61 L303.87,297.3 Z" fill="#10c8c8" stroke="#1a2a2a" stroke-width="0.55"/>
<path d="M308.75,294.22 L311.45,294.22 L310.1,296.92 Z" fill="#10c8c8" stroke="#1a2a2a" stroke-width="0.55"/>
<path d="M314.99,293.64 L317.69,293.64 L316.34,296.33 Z" fill="#10c8c8" stroke="#1a2a2a" stroke-width="0.55"/>
<clipPath id="c8"><rect x="194.7" y="359.6" width="131" height="69.95"/></clipPath>
<g clip-path="url(#c8)" fill="none">
<line x1="204.06" y1="357.6" x2="204.06" y2="431.55" stroke="#8af5f7" stroke-width="0.95"/>
<line x1="210.3" y1="357.6" x2="210.3" y2="431.55" stroke="#8af5f7" stroke-width="0.95"/>
<line x1="216.53" y1="357.6" x2="216.53" y2="431.55" stroke="#8af5f7" stroke-width="0.95"/>
<line x1="222.77" y1="357.6" x2="222.77" y2="431.55" stroke="#8af5f7" stroke-width="0.95"/>
<line x1="229.01" y1="357.6" x2="229.01" y2="431.55" stroke="#8af5f7" stroke-width="0.95"/>
<line x1="235.25" y1="357.6" x2="235.25" y2="431.55" stroke="#8af5f7" stroke-width="0.95"/>
<line x1="241.49" y1="357.6" x2="241.49" y2="431.55" stroke="#8af5f7" stroke-width="0.95"/>
<line x1="247.72" y1="357.6" x2="247.72" y2="431.55" stroke="#8af5f7" stroke-width="0.95"/>
<line x1="253.96" y1="357.6" x2="253.96" y2="431.55" stroke="#8af5f7" stroke-width="0.95"/>
<line x1="260.2" y1="357.6" x2="260.2" y2="431.55" stroke="#8af5f7" stroke-width="0.95"/>
<line x1="266.44" y1="357.6" x2="266.44" y2="431.55" stroke="#8af5f7" stroke-width="0.95"/>
<line x1="272.68" y1="357.6" x2="272.68" y2="431.55" stroke="#8af5f7" stroke-width="0.95"/>
<line x1="278.91" y1="357.6" x2="278.91" y2="431.55" stroke="#8af5f7" stroke-width="0.95"/>
<line x1="285.15" y1="378.42" x2="285.15" y2="401.72" stroke="#8af5f7" stroke-width="0.95"/>
<line x1="283.55" y1="378.42" x2="286.75" y2="378.42" stroke="#7eeff4" stroke-width="0.9"/>
<line x1="283.55" y1="401.72" x2="286.75" y2="401.72" stroke="#7eeff4" stroke-width="0.9"/>
<line x1="291.39" y1="382.3" x2="291.39" y2="397.83" stroke="#8af5f7" stroke-width="0.95"/>
<line x1="289.79" y1="382.3" x2="292.99" y2="382.3" stroke="#7eeff4" stroke-width="0.9"/>
<line x1="289.79" y1="397.83" x2="292.99" y2="397.83" stroke="#7eeff4" stroke-width="0.9"/>
<line x1="297.63" y1="381.33" x2="297.63" y2="393.95" stroke="#8af5f7" stroke-width="0.95"/>
<line x1="296.03" y1="381.33" x2="299.23" y2="381.33" stroke="#7eeff4" stroke-width="0.9"/>
<line x1="296.03" y1="393.95" x2="299.23" y2="393.95" stroke="#7eeff4" stroke-width="0.9"/>
<line x1="303.87" y1="384.24" x2="303.87" y2="392.01" stroke="#8af5f7" stroke-width="0.95"/>
<line x1="302.27" y1="384.24" x2="305.47" y2="384.24" stroke="#7eeff4" stroke-width="0.9"/>
<line x1="302.27" y1="392.01" x2="305.47" y2="392.01" stroke="#7eeff4" stroke-width="0.9"/>
<line x1="310.1" y1="384.24" x2="310.1" y2="390.07" stroke="#8af5f7" stroke-width="0.95"/>
<line x1="308.5" y1="384.24" x2="311.7" y2="384.24" stroke="#7eeff4" stroke-width="0.9"/>
<line x1="308.5" y1="390.07" x2="311.7" y2="390.07" stroke="#7eeff4" stroke-width="0.9"/>
<line x1="316.34" y1="384.24" x2="316.34" y2="389.09" stroke="#8af5f7" stroke-width="0.95"/>
<line x1="314.74" y1="384.24" x2="317.94" y2="384.24" stroke="#7eeff4" stroke-width="0.9"/>
<line x1="314.74" y1="389.09" x2="317.94" y2="389.09" stroke="#7eeff4" stroke-width="0.9"/>
<line x1="283.35" y1="378.42" x2="286.95" y2="378.42" stroke="#7eeff4" stroke-width="0.9"/>
<line x1="283.35" y1="401.72" x2="286.95" y2="401.72" stroke="#7eeff4" stroke-width="0.9"/>
<line x1="289.59" y1="382.3" x2="293.19" y2="382.3" stroke="#7eeff4" stroke-width="0.9"/>
<line x1="289.59" y1="397.83" x2="293.19" y2="397.83" stroke="#7eeff4" stroke-width="0.9"/>
<line x1="295.83" y1="381.33" x2="299.43" y2="381.33" stroke="#7eeff4" stroke-width="0.9"/>
<line x1="295.83" y1="393.95" x2="299.43" y2="393.95" stroke="#7eeff4" stroke-width="0.9"/>
<path d="M204.1,388.12 L213.42,374.53 L219.24,362.88" stroke="#00f0f0" stroke-width="1.0" stroke-dasharray="2.6,2.1" stroke-linejoin="round"/>
<path d="M223.12,378.42 L227.01,397.83 L229.92,421.13" stroke="#00f0f0" stroke-width="1.0" stroke-dasharray="2.6,2.1" stroke-linejoin="round"/>
<path d="M238.66,407.54 L246.42,401.72 L252.25,388.12 L256.13,376.47" stroke="#00f0f0" stroke-width="1.0" stroke-dasharray="2.6,2.1" stroke-linejoin="round"/>
<path d="M204.1,425.99 L213.42,413.36 L223.12,399.77 L232.83,386.18 L240.6,374.53 L243.51,380.36 L245.45,407.54 L247.39,421.13" stroke="#ff00ff" stroke-width="1.0" stroke-dasharray="2.6,2.1" stroke-linejoin="round"/>
<path d="M250.31,397.83 L254.19,376.47 L260.01,375.5 L265.84,370.65 L272.64,364.82 L277.49,359.97 L279.43,426.96 L285.26,425.99" stroke="#ff00ff" stroke-width="1.0" stroke-dasharray="2.6,2.1" stroke-linejoin="round"/>
<path d="M204.1,409.87 C207.27,409.32 218.01,407.22 223.12,406.57 C228.24,405.92 231.7,405.66 234.77,405.99 C237.85,406.31 239.37,406.7 241.57,408.51 C243.77,410.32 246.04,415.79 247.98,416.86 C249.92,417.93 251.21,415.99 253.22,414.92 C255.23,413.85 256.78,413.43 260.01,410.45 C263.25,407.48 268.43,400.36 272.64,397.06 C276.84,393.75 277.97,392.36 285.26,390.65 C292.54,388.93 311.14,387.41 316.32,386.76" stroke="#00f0f0" stroke-width="0.85" stroke-dasharray="3.5,1,1,1" stroke-linejoin="round"/>
<path d="M204.1,374.14 L223.12,371.81 L234.77,374.53 L241.57,374.53 L246.42,366.77 L252.25,390.07 L260.01,381.33 L272.64,365.8 L279.43,360.55 L284.28,425.01" stroke="#ff00ff" stroke-width="0.85" stroke-dasharray="3.5,1,1,1" stroke-linejoin="round"/>
<path d="M204.1,408.51 C205.65,408.28 210.24,407.64 213.42,407.15 C216.59,406.67 219.56,405.92 223.12,405.6 C226.68,405.27 231.86,404.95 234.77,405.21 C237.69,405.47 238.5,405.47 240.6,407.15 C242.7,408.83 245.45,414.21 247.39,415.31 C249.34,416.41 250.14,414.72 252.25,413.75 C254.35,412.78 257.75,411.33 260.01,409.48 C262.28,407.64 263.74,404.89 265.84,402.69 C267.94,400.49 270.47,397.99 272.64,396.28 C274.8,394.56 276.74,393.43 278.85,392.4 C280.95,391.36 283.22,390.68 285.26,390.07 C287.29,389.45 288.98,389.09 291.08,388.71 C293.18,388.32 295.77,387.99 297.88,387.74 C299.98,387.48 301.66,387.35 303.7,387.15 C305.74,386.96 308,386.73 310.11,386.57 C312.21,386.41 315.29,386.25 316.32,386.18" stroke="#00f0f0" stroke-width="1.0" stroke-linejoin="round"/>
<path d="M204.1,372.98 L213.42,371.62 L223.12,370.65 L228.95,371.04 L234.77,373.56 L240.6,376.09 L244.48,368.71 L247.39,363.85 L250.31,378.42 L253.8,393.95 L260.01,380.36 L265.84,370.65 L272.64,364.82 L278.85,359.97 L283.31,425.99" stroke="#ff00ff" stroke-width="1.0" stroke-linejoin="round"/>
<path d="M283.31,425.99 C284.61,425.66 288.65,424.59 291.08,424.04 C293.51,423.49 295.77,423.01 297.88,422.68 C299.98,422.36 301.66,422.3 303.7,422.1 C305.74,421.91 308,421.68 310.11,421.52 C312.21,421.36 315.29,421.2 316.32,421.13" stroke="#ff00ff" stroke-width="1.0" stroke-linejoin="round"/>
</g>
<path d="M202.71,388.29 L205.41,388.29 L204.06,385.59 Z" fill="#d010d0" stroke="#2a1a2a" stroke-width="0.55"/>
<path d="M208.95,426.15 L211.65,426.15 L210.3,423.46 Z" fill="#d010d0" stroke="#2a1a2a" stroke-width="0.55"/>
<path d="M215.18,384.99 L217.88,384.99 L216.53,382.29 Z" fill="#d010d0" stroke="#2a1a2a" stroke-width="0.55"/>
<path d="M221.42,365.96 L224.12,365.96 L222.77,363.27 Z" fill="#d010d0" stroke="#2a1a2a" stroke-width="0.55"/>
<path d="M227.66,401.3 L230.36,401.3 L229.01,398.6 Z" fill="#d010d0" stroke="#2a1a2a" stroke-width="0.55"/>
<path d="M233.9,371.78 L236.6,371.78 L235.25,369.09 Z" fill="#d010d0" stroke="#2a1a2a" stroke-width="0.55"/>
<path d="M240.14,422.27 L242.84,422.27 L241.49,419.57 Z" fill="#d010d0" stroke="#2a1a2a" stroke-width="0.55"/>
<path d="M246.37,408.67 L249.07,408.67 L247.72,405.98 Z" fill="#d010d0" stroke="#2a1a2a" stroke-width="0.55"/>
<path d="M252.61,394.69 L255.31,394.69 L253.96,392 Z" fill="#d010d0" stroke="#2a1a2a" stroke-width="0.55"/>
<path d="M258.85,381.1 L261.55,381.1 L260.2,378.41 Z" fill="#d010d0" stroke="#2a1a2a" stroke-width="0.55"/>
<path d="M265.09,372.17 L267.79,372.17 L266.44,369.48 Z" fill="#d010d0" stroke="#2a1a2a" stroke-width="0.55"/>
<path d="M271.33,365.96 L274.03,365.96 L272.68,363.27 Z" fill="#d010d0" stroke="#2a1a2a" stroke-width="0.55"/>
<path d="M283.8,427.12 L286.5,427.12 L285.15,424.43 Z" fill="#d010d0" stroke="#2a1a2a" stroke-width="0.55"/>
<path d="M290.04,425.18 L292.74,425.18 L291.39,422.48 Z" fill="#d010d0" stroke="#2a1a2a" stroke-width="0.55"/>
<path d="M296.28,423.82 L298.98,423.82 L297.63,421.13 Z" fill="#d010d0" stroke="#2a1a2a" stroke-width="0.55"/>
<path d="M302.52,423.24 L305.22,423.24 L303.87,420.54 Z" fill="#d010d0" stroke="#2a1a2a" stroke-width="0.55"/>
<path d="M308.75,422.65 L311.45,422.65 L310.1,419.96 Z" fill="#d010d0" stroke="#2a1a2a" stroke-width="0.55"/>
<path d="M314.99,422.27 L317.69,422.27 L316.34,419.57 Z" fill="#d010d0" stroke="#2a1a2a" stroke-width="0.55"/>
<path d="M202.71,379.22 L205.41,379.22 L204.06,381.92 Z" fill="#10c8c8" stroke="#1a2a2a" stroke-width="0.55"/>
<path d="M208.95,381.17 L211.65,381.17 L210.3,383.86 Z" fill="#10c8c8" stroke="#1a2a2a" stroke-width="0.55"/>
<path d="M215.18,365.63 L217.88,365.63 L216.53,368.33 Z" fill="#10c8c8" stroke="#1a2a2a" stroke-width="0.55"/>
<path d="M221.42,399.61 L224.12,399.61 L222.77,402.3 Z" fill="#10c8c8" stroke="#1a2a2a" stroke-width="0.55"/>
<path d="M227.66,362.72 L230.36,362.72 L229.01,365.41 Z" fill="#10c8c8" stroke="#1a2a2a" stroke-width="0.55"/>
<path d="M233.9,404.46 L236.6,404.46 L235.25,407.16 Z" fill="#10c8c8" stroke="#1a2a2a" stroke-width="0.55"/>
<path d="M240.14,380.19 L242.84,380.19 L241.49,382.89 Z" fill="#10c8c8" stroke="#1a2a2a" stroke-width="0.55"/>
<path d="M246.37,362.72 L249.07,362.72 L247.72,365.41 Z" fill="#10c8c8" stroke="#1a2a2a" stroke-width="0.55"/>
<path d="M252.61,420 L255.31,420 L253.96,422.69 Z" fill="#10c8c8" stroke="#1a2a2a" stroke-width="0.55"/>
<path d="M258.85,409.32 L261.55,409.32 L260.2,412.01 Z" fill="#10c8c8" stroke="#1a2a2a" stroke-width="0.55"/>
<path d="M265.09,400.97 L267.79,400.97 L266.44,403.66 Z" fill="#10c8c8" stroke="#1a2a2a" stroke-width="0.55"/>
<path d="M271.33,394.76 L274.03,394.76 L272.68,397.45 Z" fill="#10c8c8" stroke="#1a2a2a" stroke-width="0.55"/>
<path d="M277.56,391.84 L280.26,391.84 L278.91,394.54 Z" fill="#10c8c8" stroke="#1a2a2a" stroke-width="0.55"/>
<path d="M283.8,389.32 L286.5,389.32 L285.15,392.01 Z" fill="#10c8c8" stroke="#1a2a2a" stroke-width="0.55"/>
<path d="M290.04,387.96 L292.74,387.96 L291.39,390.65 Z" fill="#10c8c8" stroke="#1a2a2a" stroke-width="0.55"/>
<path d="M296.28,386.99 L298.98,386.99 L297.63,389.68 Z" fill="#10c8c8" stroke="#1a2a2a" stroke-width="0.55"/>
<path d="M302.52,386.02 L305.22,386.02 L303.87,388.71 Z" fill="#10c8c8" stroke="#1a2a2a" stroke-width="0.55"/>
<path d="M308.75,385.44 L311.45,385.44 L310.1,388.13 Z" fill="#10c8c8" stroke="#1a2a2a" stroke-width="0.55"/>
<path d="M314.99,385.05 L317.69,385.05 L316.34,387.74 Z" fill="#10c8c8" stroke="#1a2a2a" stroke-width="0.55"/>
<rect x="33.8" y="254.5" width="132" height="105.1" fill="none" stroke="#262626" stroke-width="1.1"/>
<line x1="62.09" y1="254.5" x2="62.09" y2="251.5" stroke="#262626" stroke-width="1.2"/>
<line x1="99.8" y1="254.5" x2="99.8" y2="251.5" stroke="#262626" stroke-width="1.2"/>
<line x1="137.51" y1="254.5" x2="137.51" y2="251.5" stroke="#262626" stroke-width="1.2"/>
<line x1="33.8" y1="359.6" x2="30.8" y2="359.6" stroke="#262626" stroke-width="1.2"/>
<line x1="165.8" y1="359.6" x2="168.8" y2="359.6" stroke="#262626" stroke-width="1.2"/>
<line x1="33.8" y1="333.33" x2="30.8" y2="333.33" stroke="#262626" stroke-width="1.2"/>
<line x1="165.8" y1="333.33" x2="168.8" y2="333.33" stroke="#262626" stroke-width="1.2"/>
<line x1="33.8" y1="307.05" x2="30.8" y2="307.05" stroke="#262626" stroke-width="1.2"/>
<line x1="165.8" y1="307.05" x2="168.8" y2="307.05" stroke="#262626" stroke-width="1.2"/>
<line x1="33.8" y1="280.77" x2="30.8" y2="280.77" stroke="#262626" stroke-width="1.2"/>
<line x1="165.8" y1="280.77" x2="168.8" y2="280.77" stroke="#262626" stroke-width="1.2"/>
<line x1="33.8" y1="254.5" x2="30.8" y2="254.5" stroke="#262626" stroke-width="1.2"/>
<line x1="165.8" y1="254.5" x2="168.8" y2="254.5" stroke="#262626" stroke-width="1.2"/>
<text x="28.4" y="362.3" font-size="8.5" text-anchor="end" font-family='"Liberation Sans", sans-serif' fill="#262626" >1.5</text>
<text x="28.4" y="336.03" font-size="8.5" text-anchor="end" font-family='"Liberation Sans", sans-serif' fill="#262626" >2</text>
<text x="28.4" y="309.75" font-size="8.5" text-anchor="end" font-family='"Liberation Sans", sans-serif' fill="#262626" >2.5</text>
<text x="28.4" y="283.47" font-size="8.5" text-anchor="end" font-family='"Liberation Sans", sans-serif' fill="#262626" >3</text>
<text x="28.4" y="257.2" font-size="8.5" text-anchor="end" font-family='"Liberation Sans", sans-serif' fill="#262626" >3.5</text>
<rect x="33.8" y="359.6" width="132" height="69.95" fill="none" stroke="#262626" stroke-width="1.1"/>
<line x1="62.09" y1="429.55" x2="62.09" y2="432.55" stroke="#262626" stroke-width="1.2"/>
<line x1="99.8" y1="429.55" x2="99.8" y2="432.55" stroke="#262626" stroke-width="1.2"/>
<line x1="137.51" y1="429.55" x2="137.51" y2="432.55" stroke="#262626" stroke-width="1.2"/>
<line x1="33.8" y1="429.55" x2="30.8" y2="429.55" stroke="#262626" stroke-width="1.2"/>
<line x1="165.8" y1="429.55" x2="168.8" y2="429.55" stroke="#262626" stroke-width="1.2"/>
<line x1="33.8" y1="404.11" x2="30.8" y2="404.11" stroke="#262626" stroke-width="1.2"/>
<line x1="165.8" y1="404.11" x2="168.8" y2="404.11" stroke="#262626" stroke-width="1.2"/>
<line x1="33.8" y1="378.68" x2="30.8" y2="378.68" stroke="#262626" stroke-width="1.2"/>
<line x1="165.8" y1="378.68" x2="168.8" y2="378.68" stroke="#262626" stroke-width="1.2"/>
<text x="28.4" y="432.25" font-size="8.5" text-anchor="end" font-family='"Liberation Sans", sans-serif' fill="#262626" >20</text>
<text x="28.4" y="406.81" font-size="8.5" text-anchor="end" font-family='"Liberation Sans", sans-serif' fill="#262626" >40</text>
<text x="28.4" y="381.38" font-size="8.5" text-anchor="end" font-family='"Liberation Sans", sans-serif' fill="#262626" >60</text>
<text x="62.09" y="443.55" font-size="8.5" text-anchor="middle" font-family='"Liberation Sans", sans-serif' fill="#262626" >-2</text>
<text x="99.8" y="443.55" font-size="8.5" text-anchor="middle" font-family='"Liberation Sans", sans-serif' fill="#262626" >0</text>
<text x="137.51" y="443.55" font-size="8.5" text-anchor="middle" font-family='"Liberation Sans", sans-serif' fill="#262626" >2</text>
<rect x="194.7" y="254.5" width="131" height="105.1" fill="none" stroke="#262626" stroke-width="1.1"/>
<line x1="222.77" y1="254.5" x2="222.77" y2="251.5" stroke="#262626" stroke-width="1.2"/>
<line x1="260.2" y1="254.5" x2="260.2" y2="251.5" stroke="#262626" stroke-width="1.2"/>
<line x1="297.63" y1="254.5" x2="297.63" y2="251.5" stroke="#262626" stroke-width="1.2"/>
<line x1="194.7" y1="359.6" x2="191.7" y2="359.6" stroke="#262626" stroke-width="1.2"/>
<line x1="325.7" y1="359.6" x2="328.7" y2="359.6" stroke="#262626" stroke-width="1.2"/>
<line x1="194.7" y1="333.33" x2="191.7" y2="333.33" stroke="#262626" stroke-width="1.2"/>
<line x1="325.7" y1="333.33" x2="328.7" y2="333.33" stroke="#262626" stroke-width="1.2"/>
<line x1="194.7" y1="307.05" x2="191.7" y2="307.05" stroke="#262626" stroke-width="1.2"/>
<line x1="325.7" y1="307.05" x2="328.7" y2="307.05" stroke="#262626" stroke-width="1.2"/>
<line x1="194.7" y1="280.77" x2="191.7" y2="280.77" stroke="#262626" stroke-width="1.2"/>
<line x1="325.7" y1="280.77" x2="328.7" y2="280.77" stroke="#262626" stroke-width="1.2"/>
<line x1="194.7" y1="254.5" x2="191.7" y2="254.5" stroke="#262626" stroke-width="1.2"/>
<line x1="325.7" y1="254.5" x2="328.7" y2="254.5" stroke="#262626" stroke-width="1.2"/>
<text x="189.3" y="362.3" font-size="8.5" text-anchor="end" font-family='"Liberation Sans", sans-serif' fill="#262626" >-6</text>
<text x="189.3" y="336.03" font-size="8.5" text-anchor="end" font-family='"Liberation Sans", sans-serif' fill="#262626" >-4</text>
<text x="189.3" y="309.75" font-size="8.5" text-anchor="end" font-family='"Liberation Sans", sans-serif' fill="#262626" >-2</text>
<text x="189.3" y="283.47" font-size="8.5" text-anchor="end" font-family='"Liberation Sans", sans-serif' fill="#262626" >0</text>
<text x="189.3" y="257.2" font-size="8.5" text-anchor="end" font-family='"Liberation Sans", sans-serif' fill="#262626" >2</text>
<rect x="194.7" y="359.6" width="131" height="69.95" fill="none" stroke="#262626" stroke-width="1.1"/>
<line x1="222.77" y1="429.55" x2="222.77" y2="432.55" stroke="#262626" stroke-width="1.2"/>
<line x1="260.2" y1="429.55" x2="260.2" y2="432.55" stroke="#262626" stroke-width="1.2"/>
<line x1="297.63" y1="429.55" x2="297.63" y2="432.55" stroke="#262626" stroke-width="1.2"/>
<line x1="194.7" y1="414.01" x2="191.7" y2="414.01" stroke="#262626" stroke-width="1.2"/>
<line x1="325.7" y1="414.01" x2="328.7" y2="414.01" stroke="#262626" stroke-width="1.2"/>
<line x1="194.7" y1="394.58" x2="191.7" y2="394.58" stroke="#262626" stroke-width="1.2"/>
<line x1="325.7" y1="394.58" x2="328.7" y2="394.58" stroke="#262626" stroke-width="1.2"/>
<line x1="194.7" y1="375.14" x2="191.7" y2="375.14" stroke="#262626" stroke-width="1.2"/>
<line x1="325.7" y1="375.14" x2="328.7" y2="375.14" stroke="#262626" stroke-width="1.2"/>
<text x="189.3" y="416.71" font-size="8.5" text-anchor="end" font-family='"Liberation Sans", sans-serif' fill="#262626" >-100</text>
<text x="189.3" y="397.28" font-size="8.5" text-anchor="end" font-family='"Liberation Sans", sans-serif' fill="#262626" >0</text>
<text x="189.3" y="377.84" font-size="8.5" text-anchor="end" font-family='"Liberation Sans", sans-serif' fill="#262626" >100</text>
<text x="222.77" y="443.55" font-size="8.5" text-anchor="middle" font-family='"Liberation Sans", sans-serif' fill="#262626" >-2</text>
<text x="260.2" y="443.55" font-size="8.5" text-anchor="middle" font-family='"Liberation Sans", sans-serif' fill="#262626" >0</text>
<text x="297.63" y="443.55" font-size="8.5" text-anchor="middle" font-family='"Liberation Sans", sans-serif' fill="#262626" >2</text>
<text x="99.8" y="454.35" font-size="9.6" text-anchor="middle" font-family='"Liberation Sans", sans-serif' fill="#262626">log<tspan font-size="8.5" dy="3.3">10</tspan><tspan dy="-3.3">( Period ) [s]</tspan></text>
<text x="260.2" y="454.35" font-size="9.6" text-anchor="middle" font-family='"Liberation Sans", sans-serif' fill="#262626">log<tspan font-size="8.5" dy="3.3">10</tspan><tspan dy="-3.3">( Period ) [s]</tspan></text>
<text transform="translate(9,308.45) rotate(-90)" x="0" y="0" font-size="9.9" text-anchor="middle" font-family='"Liberation Sans", sans-serif' fill="#262626">log<tspan font-size="7.2" dy="2.6">10</tspan><tspan dy="-2.6">( </tspan><tspan font-family='"Liberation Serif", serif' font-style="italic">ρ</tspan><tspan font-size="7.2" dy="2.6">app</tspan><tspan dy="-2.6"> ) [Ωm]</tspan></text>
<text transform="translate(15.4,394.58) rotate(-90)" x="0" y="0" font-size="9.85" text-anchor="middle" font-family='"Liberation Sans", sans-serif' fill="#262626">Phase [°]</text>
<text x="149.6" y="240.4" font-size="12.9" font-weight="bold" font-family='"Liberation Serif", serif' fill="#111">(b) Station S<tspan font-size="9" dy="2.5">2</tspan></text>
<line x1="421.89" y1="254.6" x2="421.89" y2="359.7" stroke="#d0d0d0" stroke-width="0.75"/>
<line x1="459.6" y1="254.6" x2="459.6" y2="359.7" stroke="#d0d0d0" stroke-width="0.75"/>
<line x1="497.31" y1="254.6" x2="497.31" y2="359.7" stroke="#d0d0d0" stroke-width="0.75"/>
<line x1="393.6" y1="333.43" x2="525.6" y2="333.43" stroke="#d0d0d0" stroke-width="0.75"/>
<line x1="393.6" y1="307.15" x2="525.6" y2="307.15" stroke="#d0d0d0" stroke-width="0.75"/>
<line x1="393.6" y1="280.88" x2="525.6" y2="280.88" stroke="#d0d0d0" stroke-width="0.75"/>
<line x1="421.89" y1="359.7" x2="421.89" y2="429.65" stroke="#d0d0d0" stroke-width="0.75"/>
<line x1="459.6" y1="359.7" x2="459.6" y2="429.65" stroke="#d0d0d0" stroke-width="0.75"/>
<line x1="497.31" y1="359.7" x2="497.31" y2="429.65" stroke="#d0d0d0" stroke-width="0.75"/>
<line x1="393.6" y1="404.21" x2="525.6" y2="404.21" stroke="#d0d0d0" stroke-width="0.75"/>
<line x1="393.6" y1="378.78" x2="525.6" y2="378.78" stroke="#d0d0d0" stroke-width="0.75"/>
<line x1="579.3" y1="254.6" x2="579.3" y2="359.7" stroke="#d0d0d0" stroke-width="0.75"/>
<line x1="616.5" y1="254.6" x2="616.5" y2="359.7" stroke="#d0d0d0" stroke-width="0.75"/>
<line x1="653.7" y1="254.6" x2="653.7" y2="359.7" stroke="#d0d0d0" stroke-width="0.75"/>
<line x1="551.4" y1="333.43" x2="681.6" y2="333.43" stroke="#d0d0d0" stroke-width="0.75"/>
<line x1="551.4" y1="307.15" x2="681.6" y2="307.15" stroke="#d0d0d0" stroke-width="0.75"/>
<line x1="551.4" y1="280.88" x2="681.6" y2="280.88" stroke="#d0d0d0" stroke-width="0.75"/>
<line x1="579.3" y1="359.7" x2="579.3" y2="429.65" stroke="#d0d0d0" stroke-width="0.75"/>
<line x1="616.5" y1="359.7" x2="616.5" y2="429.65" stroke="#d0d0d0" stroke-width="0.75"/>
<line x1="653.7" y1="359.7" x2="653.7" y2="429.65" stroke="#d0d0d0" stroke-width="0.75"/>
<line x1="551.4" y1="414.11" x2="681.6" y2="414.11" stroke="#d0d0d0" stroke-width="0.75"/>
<line x1="551.4" y1="394.67" x2="681.6" y2="394.67" stroke="#d0d0d0" stroke-width="0.75"/>
<line x1="551.4" y1="375.24" x2="681.6" y2="375.24" stroke="#d0d0d0" stroke-width="0.75"/>
<clipPath id="c9"><rect x="393.6" y="254.6" width="132" height="105.1"/></clipPath>
<g clip-path="url(#c9)" fill="none">
<path d="M401.8,308.19 C409.46,308.35 438.16,308.58 447.77,309.16 C457.39,309.75 456.74,310.8 459.51,311.71 C462.28,312.62 462.28,315.29 464.4,314.64 C466.52,313.99 469.88,310.24 472.23,307.8 C474.57,305.35 476.37,302.25 478.49,299.97 C480.61,297.69 482.89,295.57 484.94,294.1 C487,292.64 488.69,291.89 490.81,291.17 C492.93,290.45 495.54,290.03 497.66,289.8 C499.78,289.57 501.47,289.64 503.53,289.8 C505.58,289.96 507.86,290.48 509.98,290.78 C512.1,291.07 515.2,291.43 516.24,291.56" stroke="#ff0000" stroke-width="1.0" stroke-dasharray="2.6,2.1" stroke-linejoin="round"/>
<path d="M401.8,308.19 C406.2,308.02 421.69,307.27 428.21,307.21 C434.73,307.14 437.73,307.47 440.93,307.8 C444.12,308.12 445.26,308.94 447.38,309.16 C449.5,309.39 451.62,309.49 453.64,309.16 C455.66,308.84 457.49,308.25 459.51,307.21 C461.53,306.17 463.65,304.54 465.77,302.91 C467.89,301.27 470.11,299.06 472.23,297.43 C474.35,295.8 476.37,294.4 478.49,293.12 C480.61,291.85 482.89,290.71 484.94,289.8 C487,288.89 488.69,288.3 490.81,287.65 C492.93,286.99 495.54,286.34 497.66,285.89 C499.78,285.43 501.47,285.17 503.53,284.91 C505.58,284.65 507.86,284.48 509.98,284.32 C512.1,284.16 515.2,284 516.24,283.93" stroke="#ff0000" stroke-width="1.1" stroke-linejoin="round"/>
<path d="M401.8,309.09 C406.2,308.92 421.69,308.17 428.21,308.11 C434.73,308.04 437.73,308.37 440.93,308.7 C444.12,309.02 445.26,309.84 447.38,310.06 C449.5,310.29 451.62,310.39 453.64,310.06 C455.66,309.74 457.49,309.15 459.51,308.11 C461.53,307.07 463.65,305.44 465.77,303.81 C467.89,302.17 470.11,299.96 472.23,298.33 C474.35,296.7 476.37,295.3 478.49,294.02 C480.61,292.75 482.89,291.61 484.94,290.7 C487,289.79 488.69,289.2 490.81,288.55 C492.93,287.89 495.54,287.24 497.66,286.79 C499.78,286.33 501.47,286.07 503.53,285.81 C505.58,285.55 507.86,285.38 509.98,285.22 C512.1,285.06 515.2,284.9 516.24,284.83" stroke="#ff0000" stroke-width="0.6" stroke-dasharray="3,1.2,0.8,1.2"/>
<path d="M401.8,308.19 C406.86,308.45 424.46,309.49 432.12,309.75 C439.79,310.01 443.21,309.59 447.77,309.75 C452.34,309.91 456.41,310.24 459.51,310.73 C462.61,311.22 464.24,312.85 466.36,312.69 C468.48,312.52 470.2,310.4 472.23,309.75 C474.25,309.1 476.37,309.1 478.49,308.77 C480.61,308.45 481.75,308.06 484.94,307.8 C488.14,307.53 493.48,307.44 497.66,307.21 C501.83,306.98 506.88,306.98 509.98,306.43 C513.08,305.87 515.2,304.31 516.24,303.88" stroke="#0000ff" stroke-width="1.0" stroke-dasharray="2.6,2.1" stroke-linejoin="round"/>
<path d="M401.8,308.19 C408.32,308.02 433.33,307.5 440.93,307.21 C448.52,306.92 445.26,306.33 447.38,306.43 C449.5,306.52 451.62,306.43 453.64,307.8 C455.66,309.16 457.39,312.36 459.51,314.64 C461.63,316.92 464.24,320.18 466.36,321.49 C468.48,322.79 470.2,322.79 472.23,322.47 C474.25,322.14 476.37,320.67 478.49,319.53 C480.61,318.39 482.89,316.83 484.94,315.62 C487,314.41 488.69,313.18 490.81,312.29 C492.93,311.41 495.54,310.83 497.66,310.34 C499.78,309.85 501.47,309.62 503.53,309.36 C505.58,309.1 507.86,308.94 509.98,308.77 C512.1,308.61 515.2,308.45 516.24,308.38" stroke="#0000ff" stroke-width="1.1" stroke-linejoin="round"/>
<path d="M401.8,309.09 C408.32,308.92 433.33,308.4 440.93,308.11 C448.52,307.82 445.26,307.23 447.38,307.33 C449.5,307.42 451.62,307.33 453.64,308.7 C455.66,310.06 457.39,313.26 459.51,315.54 C461.63,317.82 464.24,321.08 466.36,322.39 C468.48,323.69 470.2,323.69 472.23,323.37 C474.25,323.04 476.37,321.57 478.49,320.43 C480.61,319.29 482.89,317.73 484.94,316.52 C487,315.31 488.69,314.08 490.81,313.19 C492.93,312.31 495.54,311.73 497.66,311.24 C499.78,310.75 501.47,310.52 503.53,310.26 C505.58,310 507.86,309.84 509.98,309.67 C512.1,309.51 515.2,309.35 516.24,309.28" stroke="#0000ff" stroke-width="0.6" stroke-dasharray="3,1.2,0.8,1.2"/>
</g>
<path d="M401.78,308.89 L404.28,308.89 L403.03,306.4 Z" fill="#e00000" stroke="#2a0a0a" stroke-width="0.55"/>
<path d="M408.06,308.66 L410.56,308.66 L409.31,306.16 Z" fill="#e00000" stroke="#2a0a0a" stroke-width="0.55"/>
<path d="M414.35,308.43 L416.85,308.43 L415.6,305.93 Z" fill="#e00000" stroke="#2a0a0a" stroke-width="0.55"/>
<path d="M420.64,308.19 L423.14,308.19 L421.89,305.7 Z" fill="#e00000" stroke="#2a0a0a" stroke-width="0.55"/>
<path d="M426.92,307.96 L429.42,307.96 L428.17,305.47 Z" fill="#e00000" stroke="#2a0a0a" stroke-width="0.55"/>
<path d="M433.21,308.25 L435.71,308.25 L434.46,305.75 Z" fill="#e00000" stroke="#2a0a0a" stroke-width="0.55"/>
<path d="M439.49,308.54 L441.99,308.54 L440.74,306.04 Z" fill="#e00000" stroke="#2a0a0a" stroke-width="0.55"/>
<path d="M445.78,309.84 L448.28,309.84 L447.03,307.35 Z" fill="#e00000" stroke="#2a0a0a" stroke-width="0.55"/>
<path d="M452.06,309.91 L454.56,309.91 L453.31,307.42 Z" fill="#e00000" stroke="#2a0a0a" stroke-width="0.55"/>
<path d="M458.35,307.9 L460.85,307.9 L459.6,305.4 Z" fill="#e00000" stroke="#2a0a0a" stroke-width="0.55"/>
<path d="M464.64,303.56 L467.14,303.56 L465.89,301.06 Z" fill="#e00000" stroke="#2a0a0a" stroke-width="0.55"/>
<path d="M470.92,298.22 L473.42,298.22 L472.17,295.73 Z" fill="#e00000" stroke="#2a0a0a" stroke-width="0.55"/>
<path d="M477.21,293.89 L479.71,293.89 L478.46,291.4 Z" fill="#e00000" stroke="#2a0a0a" stroke-width="0.55"/>
<path d="M483.49,290.65 L485.99,290.65 L484.74,288.16 Z" fill="#e00000" stroke="#2a0a0a" stroke-width="0.55"/>
<path d="M489.78,288.34 L492.28,288.34 L491.03,285.85 Z" fill="#e00000" stroke="#2a0a0a" stroke-width="0.55"/>
<path d="M496.06,286.72 L498.56,286.72 L497.31,284.23 Z" fill="#e00000" stroke="#2a0a0a" stroke-width="0.55"/>
<path d="M502.35,285.65 L504.85,285.65 L503.6,283.16 Z" fill="#e00000" stroke="#2a0a0a" stroke-width="0.55"/>
<path d="M508.64,285.08 L511.14,285.08 L509.89,282.59 Z" fill="#e00000" stroke="#2a0a0a" stroke-width="0.55"/>
<path d="M514.92,284.68 L517.42,284.68 L516.17,282.19 Z" fill="#e00000" stroke="#2a0a0a" stroke-width="0.55"/>
<path d="M401.78,307.41 L404.28,307.41 L403.03,309.9 Z" fill="#0000e8" stroke="#0a0a30" stroke-width="0.55"/>
<path d="M408.06,307.25 L410.56,307.25 L409.31,309.74 Z" fill="#0000e8" stroke="#0a0a30" stroke-width="0.55"/>
<path d="M414.35,307.09 L416.85,307.09 L415.6,309.59 Z" fill="#0000e8" stroke="#0a0a30" stroke-width="0.55"/>
<path d="M420.64,306.93 L423.14,306.93 L421.89,309.43 Z" fill="#0000e8" stroke="#0a0a30" stroke-width="0.55"/>
<path d="M426.92,306.78 L429.42,306.78 L428.17,309.27 Z" fill="#0000e8" stroke="#0a0a30" stroke-width="0.55"/>
<path d="M433.21,306.62 L435.71,306.62 L434.46,309.11 Z" fill="#0000e8" stroke="#0a0a30" stroke-width="0.55"/>
<path d="M439.49,306.46 L441.99,306.46 L440.74,308.96 Z" fill="#0000e8" stroke="#0a0a30" stroke-width="0.55"/>
<path d="M445.78,305.72 L448.28,305.72 L447.03,308.21 Z" fill="#0000e8" stroke="#0a0a30" stroke-width="0.55"/>
<path d="M452.06,306.97 L454.56,306.97 L453.31,309.47 Z" fill="#0000e8" stroke="#0a0a30" stroke-width="0.55"/>
<path d="M458.35,313.98 L460.85,313.98 L459.6,316.48 Z" fill="#0000e8" stroke="#0a0a30" stroke-width="0.55"/>
<path d="M464.64,320.27 L467.14,320.27 L465.89,322.76 Z" fill="#0000e8" stroke="#0a0a30" stroke-width="0.55"/>
<path d="M470.92,321.71 L473.42,321.71 L472.17,324.2 Z" fill="#0000e8" stroke="#0a0a30" stroke-width="0.55"/>
<path d="M477.21,318.8 L479.71,318.8 L478.46,321.29 Z" fill="#0000e8" stroke="#0a0a30" stroke-width="0.55"/>
<path d="M483.49,314.99 L485.99,314.99 L484.74,317.48 Z" fill="#0000e8" stroke="#0a0a30" stroke-width="0.55"/>
<path d="M489.78,311.48 L492.28,311.48 L491.03,313.98 Z" fill="#0000e8" stroke="#0a0a30" stroke-width="0.55"/>
<path d="M496.06,309.69 L498.56,309.69 L497.31,312.18 Z" fill="#0000e8" stroke="#0a0a30" stroke-width="0.55"/>
<path d="M502.35,308.6 L504.85,308.6 L503.6,311.1 Z" fill="#0000e8" stroke="#0a0a30" stroke-width="0.55"/>
<path d="M508.64,308.03 L511.14,308.03 L509.89,310.53 Z" fill="#0000e8" stroke="#0a0a30" stroke-width="0.55"/>
<path d="M514.92,307.64 L517.42,307.64 L516.17,310.13 Z" fill="#0000e8" stroke="#0a0a30" stroke-width="0.55"/>
<clipPath id="c10"><rect x="393.6" y="359.7" width="132" height="69.95"/></clipPath>
<g clip-path="url(#c10)" fill="none">
<path d="M401.8,396.75 C408.16,396.72 432.45,396.66 439.95,396.56 C447.45,396.46 444.51,396.56 446.8,396.17 C449.08,395.78 451.52,394.6 453.64,394.21 C455.76,393.82 457.39,392.19 459.51,393.82 C461.63,395.45 464.24,400.99 466.36,403.99 C468.48,406.99 470.2,409.86 472.23,411.82 C474.25,413.77 476.37,415.73 478.49,415.73 C480.61,415.73 482.89,413.45 484.94,411.82 C487,410.19 488.69,407.84 490.81,405.95 C492.93,404.06 495.54,401.94 497.66,400.47 C499.78,399 501.47,398.03 503.53,397.15 C505.58,396.27 507.86,395.52 509.98,395.19 C512.1,394.86 515.2,395.19 516.24,395.19" stroke="#ff0000" stroke-width="1.0" stroke-dasharray="2.6,2.1" stroke-linejoin="round"/>
<path d="M401.8,396.75 C408.16,396.66 432.45,395.94 439.95,396.17 C447.45,396.4 444.68,396.98 446.8,398.12 C448.91,399.27 450.55,401.55 452.66,403.01 C454.78,404.48 457.23,405.79 459.51,406.93 C461.79,408.07 464.24,409.31 466.36,409.86 C468.48,410.42 470.2,410.51 472.23,410.25 C474.25,409.99 476.37,409.01 478.49,408.3 C480.61,407.58 482.89,406.67 484.94,405.95 C487,405.23 488.69,404.71 490.81,403.99 C492.93,403.28 495.54,402.3 497.66,401.65 C499.78,400.99 501.47,400.41 503.53,400.08 C505.58,399.75 507.86,399.69 509.98,399.69 C512.1,399.69 515.2,400.02 516.24,400.08" stroke="#ff0000" stroke-width="1.1" stroke-linejoin="round"/>
<path d="M401.8,397.65 C408.16,397.56 432.45,396.84 439.95,397.07 C447.45,397.3 444.68,397.88 446.8,399.02 C448.91,400.17 450.55,402.45 452.66,403.91 C454.78,405.38 457.23,406.69 459.51,407.83 C461.79,408.97 464.24,410.21 466.36,410.76 C468.48,411.32 470.2,411.41 472.23,411.15 C474.25,410.89 476.37,409.91 478.49,409.2 C480.61,408.48 482.89,407.57 484.94,406.85 C487,406.13 488.69,405.61 490.81,404.89 C492.93,404.18 495.54,403.2 497.66,402.55 C499.78,401.89 501.47,401.31 503.53,400.98 C505.58,400.65 507.86,400.59 509.98,400.59 C512.1,400.59 515.2,400.92 516.24,400.98" stroke="#ff0000" stroke-width="0.6" stroke-dasharray="3,1.2,0.8,1.2"/>
<path d="M401.8,396.75 C406.86,396.49 424.63,395.45 432.12,395.19 C439.62,394.93 443.21,395.35 446.8,395.19 C450.38,395.03 451.52,394.11 453.64,394.21 C455.76,394.31 457.39,395.12 459.51,395.78 C461.63,396.43 464.24,397.47 466.36,398.12 C468.48,398.78 470.2,399.43 472.23,399.69 C474.25,399.95 475.39,399.79 478.49,399.69 C481.58,399.59 486.64,399.1 490.81,399.1 C494.98,399.1 500.33,399.2 503.53,399.69 C506.72,400.18 507.86,400.99 509.98,402.04 C512.1,403.08 515.2,405.3 516.24,405.95" stroke="#0000ff" stroke-width="1.0" stroke-dasharray="2.6,2.1" stroke-linejoin="round"/>
<path d="M401.8,396.75 C408.16,396.72 432.45,397.15 439.95,396.56 C447.45,395.97 444.68,394.93 446.8,393.23 C448.91,391.54 450.55,387.92 452.66,386.39 C454.78,384.85 457.39,383.71 459.51,384.04 C461.63,384.37 463.26,386 465.38,388.34 C467.5,390.69 470.04,395.45 472.23,398.12 C474.41,400.8 476.37,403.15 478.49,404.38 C480.61,405.62 482.89,405.62 484.94,405.56 C487,405.49 488.69,404.64 490.81,403.99 C492.93,403.34 495.54,402.23 497.66,401.65 C499.78,401.06 501.47,400.8 503.53,400.47 C505.58,400.15 507.86,399.75 509.98,399.69 C512.1,399.62 515.2,400.02 516.24,400.08" stroke="#0000ff" stroke-width="1.1" stroke-linejoin="round"/>
<path d="M401.8,397.65 C408.16,397.62 432.45,398.05 439.95,397.46 C447.45,396.87 444.68,395.83 446.8,394.13 C448.91,392.44 450.55,388.82 452.66,387.29 C454.78,385.75 457.39,384.61 459.51,384.94 C461.63,385.27 463.26,386.9 465.38,389.24 C467.5,391.59 470.04,396.35 472.23,399.02 C474.41,401.7 476.37,404.05 478.49,405.28 C480.61,406.52 482.89,406.52 484.94,406.46 C487,406.39 488.69,405.54 490.81,404.89 C492.93,404.24 495.54,403.13 497.66,402.55 C499.78,401.96 501.47,401.7 503.53,401.37 C505.58,401.05 507.86,400.65 509.98,400.59 C512.1,400.52 515.2,400.92 516.24,400.98" stroke="#0000ff" stroke-width="0.6" stroke-dasharray="3,1.2,0.8,1.2"/>
</g>
<path d="M401.78,397.49 L404.28,397.49 L403.03,394.99 Z" fill="#e00000" stroke="#2a0a0a" stroke-width="0.55"/>
<path d="M408.06,397.39 L410.56,397.39 L409.31,394.9 Z" fill="#e00000" stroke="#2a0a0a" stroke-width="0.55"/>
<path d="M414.35,397.29 L416.85,397.29 L415.6,394.8 Z" fill="#e00000" stroke="#2a0a0a" stroke-width="0.55"/>
<path d="M420.64,397.2 L423.14,397.2 L421.89,394.7 Z" fill="#e00000" stroke="#2a0a0a" stroke-width="0.55"/>
<path d="M426.92,397.1 L429.42,397.1 L428.17,394.61 Z" fill="#e00000" stroke="#2a0a0a" stroke-width="0.55"/>
<path d="M433.21,397 L435.71,397 L434.46,394.51 Z" fill="#e00000" stroke="#2a0a0a" stroke-width="0.55"/>
<path d="M439.49,397.14 L441.99,397.14 L440.74,394.65 Z" fill="#e00000" stroke="#2a0a0a" stroke-width="0.55"/>
<path d="M445.78,399.07 L448.28,399.07 L447.03,396.57 Z" fill="#e00000" stroke="#2a0a0a" stroke-width="0.55"/>
<path d="M452.06,404.14 L454.56,404.14 L453.31,401.64 Z" fill="#e00000" stroke="#2a0a0a" stroke-width="0.55"/>
<path d="M458.35,407.72 L460.85,407.72 L459.6,405.22 Z" fill="#e00000" stroke="#2a0a0a" stroke-width="0.55"/>
<path d="M464.64,410.41 L467.14,410.41 L465.89,407.92 Z" fill="#e00000" stroke="#2a0a0a" stroke-width="0.55"/>
<path d="M470.92,411 L473.42,411 L472.17,408.51 Z" fill="#e00000" stroke="#2a0a0a" stroke-width="0.55"/>
<path d="M477.21,409.06 L479.71,409.06 L478.46,406.56 Z" fill="#e00000" stroke="#2a0a0a" stroke-width="0.55"/>
<path d="M483.49,406.77 L485.99,406.77 L484.74,404.28 Z" fill="#e00000" stroke="#2a0a0a" stroke-width="0.55"/>
<path d="M489.78,404.67 L492.28,404.67 L491.03,402.17 Z" fill="#e00000" stroke="#2a0a0a" stroke-width="0.55"/>
<path d="M496.06,402.51 L498.56,402.51 L497.31,400.02 Z" fill="#e00000" stroke="#2a0a0a" stroke-width="0.55"/>
<path d="M502.35,400.83 L504.85,400.83 L503.6,398.33 Z" fill="#e00000" stroke="#2a0a0a" stroke-width="0.55"/>
<path d="M508.64,400.44 L511.14,400.44 L509.89,397.95 Z" fill="#e00000" stroke="#2a0a0a" stroke-width="0.55"/>
<path d="M514.92,400.83 L517.42,400.83 L516.17,398.33 Z" fill="#e00000" stroke="#2a0a0a" stroke-width="0.55"/>
<path d="M401.78,396 L404.28,396 L403.03,398.49 Z" fill="#0000e8" stroke="#0a0a30" stroke-width="0.55"/>
<path d="M408.06,395.97 L410.56,395.97 L409.31,398.46 Z" fill="#0000e8" stroke="#0a0a30" stroke-width="0.55"/>
<path d="M414.35,395.93 L416.85,395.93 L415.6,398.43 Z" fill="#0000e8" stroke="#0a0a30" stroke-width="0.55"/>
<path d="M420.64,395.9 L423.14,395.9 L421.89,398.4 Z" fill="#0000e8" stroke="#0a0a30" stroke-width="0.55"/>
<path d="M426.92,395.87 L429.42,395.87 L428.17,398.36 Z" fill="#0000e8" stroke="#0a0a30" stroke-width="0.55"/>
<path d="M433.21,395.84 L435.71,395.84 L434.46,398.33 Z" fill="#0000e8" stroke="#0a0a30" stroke-width="0.55"/>
<path d="M439.49,395.42 L441.99,395.42 L440.74,397.92 Z" fill="#0000e8" stroke="#0a0a30" stroke-width="0.55"/>
<path d="M445.78,392.21 L448.28,392.21 L447.03,394.71 Z" fill="#0000e8" stroke="#0a0a30" stroke-width="0.55"/>
<path d="M452.06,385.41 L454.56,385.41 L453.31,387.91 Z" fill="#0000e8" stroke="#0a0a30" stroke-width="0.55"/>
<path d="M458.35,383.35 L460.85,383.35 L459.6,385.85 Z" fill="#0000e8" stroke="#0a0a30" stroke-width="0.55"/>
<path d="M464.64,388.32 L467.14,388.32 L465.89,390.81 Z" fill="#0000e8" stroke="#0a0a30" stroke-width="0.55"/>
<path d="M470.92,397.3 L473.42,397.3 L472.17,399.79 Z" fill="#0000e8" stroke="#0a0a30" stroke-width="0.55"/>
<path d="M477.21,403.6 L479.71,403.6 L478.46,406.1 Z" fill="#0000e8" stroke="#0a0a30" stroke-width="0.55"/>
<path d="M483.49,404.77 L485.99,404.77 L484.74,407.27 Z" fill="#0000e8" stroke="#0a0a30" stroke-width="0.55"/>
<path d="M489.78,403.17 L492.28,403.17 L491.03,405.66 Z" fill="#0000e8" stroke="#0a0a30" stroke-width="0.55"/>
<path d="M496.06,401.01 L498.56,401.01 L497.31,403.51 Z" fill="#0000e8" stroke="#0a0a30" stroke-width="0.55"/>
<path d="M502.35,399.71 L504.85,399.71 L503.6,402.21 Z" fill="#0000e8" stroke="#0a0a30" stroke-width="0.55"/>
<path d="M508.64,398.95 L511.14,398.95 L509.89,401.44 Z" fill="#0000e8" stroke="#0a0a30" stroke-width="0.55"/>
<path d="M514.92,399.33 L517.42,399.33 L516.17,401.82 Z" fill="#0000e8" stroke="#0a0a30" stroke-width="0.55"/>
<clipPath id="c11"><rect x="551.4" y="254.6" width="130.2" height="105.1"/></clipPath>
<g clip-path="url(#c11)" fill="none">
<line x1="560.7" y1="252.6" x2="560.7" y2="361.7" stroke="#8af5f7" stroke-width="0.95"/>
<line x1="566.9" y1="252.6" x2="566.9" y2="361.7" stroke="#8af5f7" stroke-width="0.95"/>
<line x1="573.1" y1="252.6" x2="573.1" y2="361.7" stroke="#8af5f7" stroke-width="0.95"/>
<line x1="579.3" y1="252.6" x2="579.3" y2="361.7" stroke="#8af5f7" stroke-width="0.95"/>
<line x1="585.5" y1="252.6" x2="585.5" y2="361.7" stroke="#8af5f7" stroke-width="0.95"/>
<line x1="591.7" y1="252.6" x2="591.7" y2="361.7" stroke="#8af5f7" stroke-width="0.95"/>
<line x1="597.9" y1="252.6" x2="597.9" y2="361.7" stroke="#8af5f7" stroke-width="0.95"/>
<line x1="604.1" y1="252.6" x2="604.1" y2="361.7" stroke="#8af5f7" stroke-width="0.95"/>
<line x1="610.3" y1="252.6" x2="610.3" y2="361.7" stroke="#8af5f7" stroke-width="0.95"/>
<line x1="616.5" y1="252.6" x2="616.5" y2="361.7" stroke="#8af5f7" stroke-width="0.95"/>
<line x1="622.7" y1="252.6" x2="622.7" y2="361.7" stroke="#8af5f7" stroke-width="0.95"/>
<line x1="628.9" y1="252.6" x2="628.9" y2="361.7" stroke="#8af5f7" stroke-width="0.95"/>
<line x1="635.1" y1="252.6" x2="635.1" y2="361.7" stroke="#8af5f7" stroke-width="0.95"/>
<line x1="641.3" y1="252.6" x2="641.3" y2="361.7" stroke="#8af5f7" stroke-width="0.95"/>
<line x1="647.5" y1="252.6" x2="647.5" y2="361.7" stroke="#8af5f7" stroke-width="0.95"/>
<line x1="653.7" y1="252.6" x2="653.7" y2="361.7" stroke="#8af5f7" stroke-width="0.95"/>
<line x1="659.9" y1="252.6" x2="659.9" y2="361.7" stroke="#8af5f7" stroke-width="0.95"/>
<line x1="666.1" y1="252.6" x2="666.1" y2="361.7" stroke="#8af5f7" stroke-width="0.95"/>
<line x1="672.3" y1="252.6" x2="672.3" y2="361.7" stroke="#8af5f7" stroke-width="0.95"/>
<line x1="614.7" y1="267.2" x2="618.3" y2="267.2" stroke="#f59af5" stroke-width="0.9"/>
<line x1="620.9" y1="278.85" x2="624.5" y2="278.85" stroke="#f59af5" stroke-width="0.9"/>
<line x1="627.1" y1="276.91" x2="630.7" y2="276.91" stroke="#f59af5" stroke-width="0.9"/>
<line x1="633.3" y1="275.75" x2="636.9" y2="275.75" stroke="#f59af5" stroke-width="0.9"/>
<line x1="639.5" y1="276.33" x2="643.1" y2="276.33" stroke="#f59af5" stroke-width="0.9"/>
<line x1="645.7" y1="275.94" x2="649.3" y2="275.94" stroke="#f59af5" stroke-width="0.9"/>
<line x1="651.9" y1="275.75" x2="655.5" y2="275.75" stroke="#f59af5" stroke-width="0.9"/>
<line x1="658.1" y1="275.94" x2="661.7" y2="275.94" stroke="#f59af5" stroke-width="0.9"/>
<line x1="664.3" y1="275.94" x2="667.9" y2="275.94" stroke="#f59af5" stroke-width="0.9"/>
<line x1="670.5" y1="275.75" x2="674.1" y2="275.75" stroke="#f59af5" stroke-width="0.9"/>
<line x1="620.9" y1="304.09" x2="624.5" y2="304.09" stroke="#f59af5" stroke-width="0.9"/>
<line x1="614.7" y1="337.1" x2="618.3" y2="337.1" stroke="#f59af5" stroke-width="0.9"/>
<line x1="627.1" y1="292.83" x2="630.7" y2="292.83" stroke="#f59af5" stroke-width="0.9"/>
<path d="M597.6,360.01 C599.54,355.29 606.01,338.65 609.25,331.66 C612.48,324.67 614.75,321.31 617.01,318.07 C619.28,314.84 620.9,314.19 622.84,312.25 C624.78,310.31 626.66,308.04 628.66,306.42 C630.67,304.81 632.77,303.77 634.88,302.54 C636.98,301.31 639.15,300.08 641.28,299.05 C643.42,298.01 645.59,297.2 647.69,296.33 C649.8,295.45 651.74,294.55 653.91,293.8 C656.07,293.06 658.5,292.51 660.7,291.86 C662.9,291.21 665,290.66 667.11,289.92 C669.21,289.18 672.29,287.82 673.32,287.4" stroke="#00f0f0" stroke-width="1.0" stroke-dasharray="2.6,2.1" stroke-linejoin="round"/>
<path d="M592.74,360.01 C593.88,356.58 597.11,344.16 599.54,339.43 C601.97,334.71 605.36,333.61 607.31,331.66 C609.25,329.72 609.57,332.96 611.19,327.78 C612.81,322.6 615.07,306.75 617.01,300.6 C618.96,294.45 620.9,293.48 622.84,290.89 C624.78,288.3 626.66,286.52 628.66,285.07 C630.67,283.61 632.77,282.87 634.88,282.15 C636.98,281.44 639.08,281.12 641.28,280.79 C643.49,280.47 644.84,280.47 648.08,280.21 C651.32,279.95 656.49,279.56 660.7,279.24 C664.91,278.92 671.22,278.43 673.32,278.27" stroke="#ff00ff" stroke-width="1.0" stroke-dasharray="2.6,2.1" stroke-linejoin="round"/>
<path d="M596.63,360.01 C597.76,358.52 601.32,353.22 603.42,351.08 C605.53,348.94 607.47,349.46 609.25,347.2 C611.03,344.93 612.65,340.34 614.1,337.49 C615.56,334.64 616.46,332.7 617.99,330.11 C619.51,327.52 621.45,324.45 623.23,321.96 C625.01,319.46 626.72,316.94 628.66,315.16 C630.61,313.38 632.77,312.41 634.88,311.28 C636.98,310.14 638.11,309.43 641.28,308.36 C644.46,307.3 648.57,305.78 653.91,304.87 C659.24,303.96 670.09,303.25 673.32,302.93" stroke="#00f0f0" stroke-width="0.85" stroke-dasharray="3.5,1,1,1" stroke-linejoin="round"/>
<path d="M592.74,360.01 C593.88,357.88 597.44,351.76 599.54,347.2 C601.64,342.63 603.42,337.33 605.36,332.64 C607.31,327.94 609.31,323.67 611.19,319.04 C613.07,314.42 614.68,309.3 616.63,304.87 C618.57,300.44 620.83,295.74 622.84,292.44 C624.85,289.14 626.66,287.27 628.66,285.07 C630.67,282.87 632.77,280.86 634.88,279.24 C636.98,277.62 639.08,276.43 641.28,275.36 C643.49,274.29 645.91,273.48 648.08,272.83 C650.25,272.19 651.12,271.96 654.29,271.47 C657.46,270.99 663.94,270.24 667.11,269.92 C670.28,269.6 672.29,269.6 673.32,269.53" stroke="#ff00ff" stroke-width="0.85" stroke-dasharray="3.5,1,1,1" stroke-linejoin="round"/>
<path d="M594.69,360.01 C595.66,359.17 598.89,356.13 600.51,354.96 C602.13,353.8 602.94,354.64 604.39,353.02 C605.85,351.4 607.79,347.84 609.25,345.26 C610.7,342.67 611.84,340.08 613.13,337.49 C614.43,334.9 615.46,332.47 617.01,329.72 C618.57,326.97 620.51,323.57 622.45,320.99 C624.39,318.4 626.59,315.97 628.66,314.19 C630.74,312.41 632.77,311.44 634.88,310.31 C636.98,309.17 639.15,308.2 641.28,307.39 C643.42,306.59 645.59,306 647.69,305.45 C649.8,304.9 651.74,304.45 653.91,304.09 C656.07,303.74 658.5,303.58 660.7,303.32 C662.9,303.06 665,302.73 667.11,302.54 C669.21,302.35 672.29,302.22 673.32,302.15" stroke="#00f0f0" stroke-width="1.0" stroke-linejoin="round"/>
<path d="M590.8,360.01 C592.1,357.55 596.3,349.98 598.57,345.26 C600.83,340.53 602.45,336.19 604.39,331.66 C606.34,327.13 608.28,322.6 610.22,318.07 C612.16,313.54 614.01,308.85 616.04,304.48 C618.08,300.11 620.35,295.26 622.45,291.86 C624.55,288.46 626.59,286.36 628.66,284.09 C630.74,281.83 632.77,279.89 634.88,278.27 C636.98,276.65 639.08,275.42 641.28,274.39 C643.49,273.35 645.91,272.7 648.08,272.06 C650.25,271.41 652.19,270.92 654.29,270.5 C656.4,270.08 658.56,269.76 660.7,269.53 C662.84,269.31 665,269.27 667.11,269.14 C669.21,269.02 672.29,268.82 673.32,268.76" stroke="#ff00ff" stroke-width="1.0" stroke-linejoin="round"/>
</g>
<path d="M602.75,346.39 L605.45,346.39 L604.1,343.7 Z" fill="#d010d0" stroke="#2a1a2a" stroke-width="0.55"/>
<path d="M608.95,319.21 L611.65,319.21 L610.3,316.51 Z" fill="#d010d0" stroke="#2a1a2a" stroke-width="0.55"/>
<path d="M615.15,303.67 L617.85,303.67 L616.5,300.98 Z" fill="#d010d0" stroke="#2a1a2a" stroke-width="0.55"/>
<path d="M621.35,293 L624.05,293 L622.7,290.3 Z" fill="#d010d0" stroke="#2a1a2a" stroke-width="0.55"/>
<path d="M627.55,285.81 L630.25,285.81 L628.9,283.12 Z" fill="#d010d0" stroke="#2a1a2a" stroke-width="0.55"/>
<path d="M633.75,280.37 L636.45,280.37 L635.1,277.68 Z" fill="#d010d0" stroke="#2a1a2a" stroke-width="0.55"/>
<path d="M639.95,277.07 L642.65,277.07 L641.3,274.38 Z" fill="#d010d0" stroke="#2a1a2a" stroke-width="0.55"/>
<path d="M646.15,274.94 L648.85,274.94 L647.5,272.25 Z" fill="#d010d0" stroke="#2a1a2a" stroke-width="0.55"/>
<path d="M652.35,273.97 L655.05,273.97 L653.7,271.27 Z" fill="#d010d0" stroke="#2a1a2a" stroke-width="0.55"/>
<path d="M658.55,273.58 L661.25,273.58 L659.9,270.89 Z" fill="#d010d0" stroke="#2a1a2a" stroke-width="0.55"/>
<path d="M664.75,273.19 L667.45,273.19 L666.1,270.5 Z" fill="#d010d0" stroke="#2a1a2a" stroke-width="0.55"/>
<path d="M670.95,273 L673.65,273 L672.3,270.3 Z" fill="#d010d0" stroke="#2a1a2a" stroke-width="0.55"/>
<path d="M608.95,348.98 L611.65,348.98 L610.3,351.67 Z" fill="#10c8c8" stroke="#1a2a2a" stroke-width="0.55"/>
<path d="M615.15,331.5 L617.85,331.5 L616.5,334.19 Z" fill="#10c8c8" stroke="#1a2a2a" stroke-width="0.55"/>
<path d="M621.35,321.79 L624.05,321.79 L622.7,324.49 Z" fill="#10c8c8" stroke="#1a2a2a" stroke-width="0.55"/>
<path d="M627.55,315.97 L630.25,315.97 L628.9,318.66 Z" fill="#10c8c8" stroke="#1a2a2a" stroke-width="0.55"/>
<path d="M633.75,313.06 L636.45,313.06 L635.1,315.75 Z" fill="#10c8c8" stroke="#1a2a2a" stroke-width="0.55"/>
<path d="M639.95,310.14 L642.65,310.14 L641.3,312.84 Z" fill="#10c8c8" stroke="#1a2a2a" stroke-width="0.55"/>
<path d="M646.15,308.59 L648.85,308.59 L647.5,311.28 Z" fill="#10c8c8" stroke="#1a2a2a" stroke-width="0.55"/>
<path d="M652.35,307.23 L655.05,307.23 L653.7,309.92 Z" fill="#10c8c8" stroke="#1a2a2a" stroke-width="0.55"/>
<path d="M658.55,306.26 L661.25,306.26 L659.9,308.95 Z" fill="#10c8c8" stroke="#1a2a2a" stroke-width="0.55"/>
<path d="M664.75,305.68 L667.45,305.68 L666.1,308.37 Z" fill="#10c8c8" stroke="#1a2a2a" stroke-width="0.55"/>
<path d="M670.95,305.29 L673.65,305.29 L672.3,307.98 Z" fill="#10c8c8" stroke="#1a2a2a" stroke-width="0.55"/>
<clipPath id="c12"><rect x="551.4" y="359.7" width="130.2" height="69.95"/></clipPath>
<g clip-path="url(#c12)" fill="none">
<line x1="560.7" y1="357.7" x2="560.7" y2="431.65" stroke="#8af5f7" stroke-width="0.95"/>
<line x1="566.9" y1="357.7" x2="566.9" y2="431.65" stroke="#8af5f7" stroke-width="0.95"/>
<line x1="573.1" y1="357.7" x2="573.1" y2="431.65" stroke="#8af5f7" stroke-width="0.95"/>
<line x1="579.3" y1="357.7" x2="579.3" y2="431.65" stroke="#8af5f7" stroke-width="0.95"/>
<line x1="585.5" y1="357.7" x2="585.5" y2="431.65" stroke="#8af5f7" stroke-width="0.95"/>
<line x1="591.7" y1="357.7" x2="591.7" y2="431.65" stroke="#8af5f7" stroke-width="0.95"/>
<line x1="597.9" y1="357.7" x2="597.9" y2="431.65" stroke="#8af5f7" stroke-width="0.95"/>
<line x1="604.1" y1="357.7" x2="604.1" y2="431.65" stroke="#8af5f7" stroke-width="0.95"/>
<line x1="610.3" y1="357.7" x2="610.3" y2="431.65" stroke="#8af5f7" stroke-width="0.95"/>
<line x1="616.5" y1="357.7" x2="616.5" y2="431.65" stroke="#8af5f7" stroke-width="0.95"/>
<line x1="622.7" y1="357.7" x2="622.7" y2="431.65" stroke="#8af5f7" stroke-width="0.95"/>
<line x1="628.9" y1="357.7" x2="628.9" y2="431.65" stroke="#8af5f7" stroke-width="0.95"/>
<line x1="635.1" y1="357.7" x2="635.1" y2="431.65" stroke="#8af5f7" stroke-width="0.95"/>
<line x1="641.3" y1="360.94" x2="641.3" y2="417.25" stroke="#8af5f7" stroke-width="0.95"/>
<line x1="639.7" y1="360.94" x2="642.9" y2="360.94" stroke="#7eeff4" stroke-width="0.9"/>
<line x1="639.7" y1="417.25" x2="642.9" y2="417.25" stroke="#7eeff4" stroke-width="0.9"/>
<line x1="647.5" y1="361.91" x2="647.5" y2="416.28" stroke="#8af5f7" stroke-width="0.95"/>
<line x1="645.9" y1="361.91" x2="649.1" y2="361.91" stroke="#7eeff4" stroke-width="0.9"/>
<line x1="645.9" y1="416.28" x2="649.1" y2="416.28" stroke="#7eeff4" stroke-width="0.9"/>
<line x1="653.7" y1="370.65" x2="653.7" y2="405.6" stroke="#8af5f7" stroke-width="0.95"/>
<line x1="652.1" y1="370.65" x2="655.3" y2="370.65" stroke="#7eeff4" stroke-width="0.9"/>
<line x1="652.1" y1="405.6" x2="655.3" y2="405.6" stroke="#7eeff4" stroke-width="0.9"/>
<line x1="659.9" y1="375.5" x2="659.9" y2="398.8" stroke="#8af5f7" stroke-width="0.95"/>
<line x1="658.3" y1="375.5" x2="661.5" y2="375.5" stroke="#7eeff4" stroke-width="0.9"/>
<line x1="658.3" y1="398.8" x2="661.5" y2="398.8" stroke="#7eeff4" stroke-width="0.9"/>
<line x1="666.1" y1="379.39" x2="666.1" y2="393.95" stroke="#8af5f7" stroke-width="0.95"/>
<line x1="664.5" y1="379.39" x2="667.7" y2="379.39" stroke="#7eeff4" stroke-width="0.9"/>
<line x1="664.5" y1="393.95" x2="667.7" y2="393.95" stroke="#7eeff4" stroke-width="0.9"/>
<line x1="672.3" y1="380.36" x2="672.3" y2="392.98" stroke="#8af5f7" stroke-width="0.95"/>
<line x1="670.7" y1="380.36" x2="673.9" y2="380.36" stroke="#7eeff4" stroke-width="0.9"/>
<line x1="670.7" y1="392.98" x2="673.9" y2="392.98" stroke="#7eeff4" stroke-width="0.9"/>
<line x1="645.7" y1="361.91" x2="649.3" y2="361.91" stroke="#7eeff4" stroke-width="0.9"/>
<line x1="645.7" y1="416.28" x2="649.3" y2="416.28" stroke="#7eeff4" stroke-width="0.9"/>
<line x1="651.9" y1="370.65" x2="655.5" y2="370.65" stroke="#7eeff4" stroke-width="0.9"/>
<line x1="651.9" y1="405.6" x2="655.5" y2="405.6" stroke="#7eeff4" stroke-width="0.9"/>
<line x1="658.1" y1="375.5" x2="661.7" y2="375.5" stroke="#7eeff4" stroke-width="0.9"/>
<line x1="658.1" y1="398.8" x2="661.7" y2="398.8" stroke="#7eeff4" stroke-width="0.9"/>
<line x1="664.3" y1="379.39" x2="667.9" y2="379.39" stroke="#7eeff4" stroke-width="0.9"/>
<line x1="664.3" y1="393.95" x2="667.9" y2="393.95" stroke="#7eeff4" stroke-width="0.9"/>
<line x1="670.5" y1="380.36" x2="674.1" y2="380.36" stroke="#7eeff4" stroke-width="0.9"/>
<line x1="670.5" y1="392.98" x2="674.1" y2="392.98" stroke="#7eeff4" stroke-width="0.9"/>
<path d="M560.32,398.8 L570.42,392.01 L575.27,403.66 L580.12,421.13 L589.83,413.36 L597.6,405.6 L603.42,382.3 L609.25,362.88" stroke="#00f0f0" stroke-width="1.0" stroke-dasharray="2.6,2.1" stroke-linejoin="round"/>
<path d="M611.19,376.47 L617.01,388.12 L622.84,413.36 L628.66,405.6 L635.46,393.95" stroke="#00f0f0" stroke-width="1.0" stroke-dasharray="2.6,2.1" stroke-linejoin="round"/>
<path d="M560.32,360.94 L566.53,360.94 L568.47,388.12 L572.36,419.19 L574.3,423.07 L580.12,407.54 L589.83,390.07 L597.6,376.47 L601.48,397.83 L603.42,421.13 L606.34,417.25 L609.25,388.12 L613.13,374.53 L617.01,370.65 L622.84,368.71 L629.64,366.77 L634.49,425.01 L642.26,425.99" stroke="#ff00ff" stroke-width="1.0" stroke-dasharray="2.6,2.1" stroke-linejoin="round"/>
<path d="M560.32,408.71 C563.62,408.12 574.88,405.95 580.12,405.21 C585.37,404.47 588.7,404.01 591.77,404.24 C594.85,404.47 595.66,405.05 598.57,406.57 C601.48,408.09 606.17,412.88 609.25,413.36 C612.32,413.85 613.78,412.01 617.01,409.48 C620.25,406.96 624.55,401.26 628.66,398.22 C632.77,395.18 634.23,393.04 641.67,391.23 C649.12,389.42 668.05,387.99 673.32,387.35" stroke="#00f0f0" stroke-width="0.85" stroke-dasharray="3.5,1,1,1" stroke-linejoin="round"/>
<path d="M560.32,374.14 L580.12,371.43 L597.6,375.7 L604.39,364.82 L609.25,397.83 L617.01,383.27 L629.64,366.77 L636.04,360.55 L640.7,425.99" stroke="#ff00ff" stroke-width="0.85" stroke-dasharray="3.5,1,1,1" stroke-linejoin="round"/>
<path d="M560.32,407.54 C562,407.22 567.12,406.18 570.42,405.6 C573.72,405.02 576.56,404.43 580.12,404.05 C583.68,403.66 588.86,403.17 591.77,403.27 C594.69,403.37 595.66,403.75 597.6,404.63 C599.54,405.5 601.48,407.22 603.42,408.51 C605.36,409.81 607.14,412.39 609.25,412.39 C611.35,412.39 613.78,410.13 616.04,408.51 C618.31,406.89 620.74,404.53 622.84,402.69 C624.94,400.84 626.56,398.96 628.66,397.44 C630.77,395.92 633.29,394.73 635.46,393.56 C637.63,392.4 639.57,391.2 641.67,390.45 C643.78,389.71 645.88,389.48 648.08,389.09 C650.28,388.71 652.77,388.38 654.88,388.12 C656.98,387.87 658.66,387.74 660.7,387.54 C662.74,387.35 665,387.12 667.11,386.96 C669.21,386.8 672.29,386.64 673.32,386.57" stroke="#00f0f0" stroke-width="1.0" stroke-linejoin="round"/>
<path d="M560.32,372.98 L570.42,371.62 L580.12,370.65 L589.83,372.98 L597.6,374.53 L603.42,362.88 L607.31,374.53 L610.22,399.77 L617.01,382.3 L622.84,372.59 L629.64,365.8 L635.46,359.97 L640.31,426.96" stroke="#ff00ff" stroke-width="1.0" stroke-linejoin="round"/>
<path d="M640.31,426.96 C641.61,426.47 645.65,424.76 648.08,424.04 C650.51,423.33 652.77,423.01 654.88,422.68 C656.98,422.36 658.66,422.3 660.7,422.1 C662.74,421.91 665,421.68 667.11,421.52 C669.21,421.36 672.29,421.2 673.32,421.13" stroke="#ff00ff" stroke-width="1.0" stroke-linejoin="round"/>
</g>
<path d="M559.35,418.38 L562.05,418.38 L560.7,415.69 Z" fill="#d010d0" stroke="#2a1a2a" stroke-width="0.55"/>
<path d="M565.55,427.12 L568.25,427.12 L566.9,424.43 Z" fill="#d010d0" stroke="#2a1a2a" stroke-width="0.55"/>
<path d="M571.75,414.5 L574.45,414.5 L573.1,411.81 Z" fill="#d010d0" stroke="#2a1a2a" stroke-width="0.55"/>
<path d="M577.95,363.63 L580.65,363.63 L579.3,360.94 Z" fill="#d010d0" stroke="#2a1a2a" stroke-width="0.55"/>
<path d="M584.15,395.08 L586.85,395.08 L585.5,392.39 Z" fill="#d010d0" stroke="#2a1a2a" stroke-width="0.55"/>
<path d="M590.35,368.29 L593.05,368.29 L591.7,365.6 Z" fill="#d010d0" stroke="#2a1a2a" stroke-width="0.55"/>
<path d="M596.55,388.29 L599.25,388.29 L597.9,385.59 Z" fill="#d010d0" stroke="#2a1a2a" stroke-width="0.55"/>
<path d="M602.75,421.88 L605.45,421.88 L604.1,419.18 Z" fill="#d010d0" stroke="#2a1a2a" stroke-width="0.55"/>
<path d="M608.95,399.94 L611.65,399.94 L610.3,397.24 Z" fill="#d010d0" stroke="#2a1a2a" stroke-width="0.55"/>
<path d="M615.15,384.4 L617.85,384.4 L616.5,381.71 Z" fill="#d010d0" stroke="#2a1a2a" stroke-width="0.55"/>
<path d="M621.35,373.73 L624.05,373.73 L622.7,371.03 Z" fill="#d010d0" stroke="#2a1a2a" stroke-width="0.55"/>
<path d="M627.55,366.93 L630.25,366.93 L628.9,364.24 Z" fill="#d010d0" stroke="#2a1a2a" stroke-width="0.55"/>
<path d="M639.95,427.12 L642.65,427.12 L641.3,424.43 Z" fill="#d010d0" stroke="#2a1a2a" stroke-width="0.55"/>
<path d="M646.15,425.18 L648.85,425.18 L647.5,422.48 Z" fill="#d010d0" stroke="#2a1a2a" stroke-width="0.55"/>
<path d="M652.35,423.82 L655.05,423.82 L653.7,421.13 Z" fill="#d010d0" stroke="#2a1a2a" stroke-width="0.55"/>
<path d="M658.55,423.24 L661.25,423.24 L659.9,420.54 Z" fill="#d010d0" stroke="#2a1a2a" stroke-width="0.55"/>
<path d="M664.75,422.65 L667.45,422.65 L666.1,419.96 Z" fill="#d010d0" stroke="#2a1a2a" stroke-width="0.55"/>
<path d="M670.95,422.27 L673.65,422.27 L672.3,419.57 Z" fill="#d010d0" stroke="#2a1a2a" stroke-width="0.55"/>
<path d="M559.35,383.11 L562.05,383.11 L560.7,385.8 Z" fill="#10c8c8" stroke="#1a2a2a" stroke-width="0.55"/>
<path d="M565.55,360.78 L568.25,360.78 L566.9,363.47 Z" fill="#10c8c8" stroke="#1a2a2a" stroke-width="0.55"/>
<path d="M571.75,391.84 L574.45,391.84 L573.1,394.54 Z" fill="#10c8c8" stroke="#1a2a2a" stroke-width="0.55"/>
<path d="M577.95,396.7 L580.65,396.7 L579.3,399.39 Z" fill="#10c8c8" stroke="#1a2a2a" stroke-width="0.55"/>
<path d="M584.15,427.76 L586.85,427.76 L585.5,430.46 Z" fill="#10c8c8" stroke="#1a2a2a" stroke-width="0.55"/>
<path d="M590.35,402.13 L593.05,402.13 L591.7,404.83 Z" fill="#10c8c8" stroke="#1a2a2a" stroke-width="0.55"/>
<path d="M596.55,385.05 L599.25,385.05 L597.9,387.74 Z" fill="#10c8c8" stroke="#1a2a2a" stroke-width="0.55"/>
<path d="M602.75,371.85 L605.45,371.85 L604.1,374.54 Z" fill="#10c8c8" stroke="#1a2a2a" stroke-width="0.55"/>
<path d="M608.95,358.84 L611.65,358.84 L610.3,361.53 Z" fill="#10c8c8" stroke="#1a2a2a" stroke-width="0.55"/>
<path d="M615.15,414.56 L617.85,414.56 L616.5,417.25 Z" fill="#10c8c8" stroke="#1a2a2a" stroke-width="0.55"/>
<path d="M621.35,403.49 L624.05,403.49 L622.7,406.19 Z" fill="#10c8c8" stroke="#1a2a2a" stroke-width="0.55"/>
<path d="M627.55,396.31 L630.25,396.31 L628.9,399 Z" fill="#10c8c8" stroke="#1a2a2a" stroke-width="0.55"/>
<path d="M633.75,392.43 L636.45,392.43 L635.1,395.12 Z" fill="#10c8c8" stroke="#1a2a2a" stroke-width="0.55"/>
<path d="M639.95,389.9 L642.65,389.9 L641.3,392.6 Z" fill="#10c8c8" stroke="#1a2a2a" stroke-width="0.55"/>
<path d="M646.15,388.54 L648.85,388.54 L647.5,391.24 Z" fill="#10c8c8" stroke="#1a2a2a" stroke-width="0.55"/>
<path d="M652.35,387.38 L655.05,387.38 L653.7,390.07 Z" fill="#10c8c8" stroke="#1a2a2a" stroke-width="0.55"/>
<path d="M658.55,386.6 L661.25,386.6 L659.9,389.3 Z" fill="#10c8c8" stroke="#1a2a2a" stroke-width="0.55"/>
<path d="M664.75,386.02 L667.45,386.02 L666.1,388.71 Z" fill="#10c8c8" stroke="#1a2a2a" stroke-width="0.55"/>
<path d="M670.95,385.44 L673.65,385.44 L672.3,388.13 Z" fill="#10c8c8" stroke="#1a2a2a" stroke-width="0.55"/>
<rect x="393.6" y="254.6" width="132" height="105.1" fill="none" stroke="#262626" stroke-width="1.1"/>
<line x1="421.89" y1="254.6" x2="421.89" y2="251.6" stroke="#262626" stroke-width="1.2"/>
<line x1="459.6" y1="254.6" x2="459.6" y2="251.6" stroke="#262626" stroke-width="1.2"/>
<line x1="497.31" y1="254.6" x2="497.31" y2="251.6" stroke="#262626" stroke-width="1.2"/>
<line x1="393.6" y1="359.7" x2="390.6" y2="359.7" stroke="#262626" stroke-width="1.2"/>
<line x1="525.6" y1="359.7" x2="528.6" y2="359.7" stroke="#262626" stroke-width="1.2"/>
<line x1="393.6" y1="333.43" x2="390.6" y2="333.43" stroke="#262626" stroke-width="1.2"/>
<line x1="525.6" y1="333.43" x2="528.6" y2="333.43" stroke="#262626" stroke-width="1.2"/>
<line x1="393.6" y1="307.15" x2="390.6" y2="307.15" stroke="#262626" stroke-width="1.2"/>
<line x1="525.6" y1="307.15" x2="528.6" y2="307.15" stroke="#262626" stroke-width="1.2"/>
<line x1="393.6" y1="280.88" x2="390.6" y2="280.88" stroke="#262626" stroke-width="1.2"/>
<line x1="525.6" y1="280.88" x2="528.6" y2="280.88" stroke="#262626" stroke-width="1.2"/>
<line x1="393.6" y1="254.6" x2="390.6" y2="254.6" stroke="#262626" stroke-width="1.2"/>
<line x1="525.6" y1="254.6" x2="528.6" y2="254.6" stroke="#262626" stroke-width="1.2"/>
<text x="388.2" y="362.4" font-size="8.5" text-anchor="end" font-family='"Liberation Sans", sans-serif' fill="#262626" >1.5</text>
<text x="388.2" y="336.12" font-size="8.5" text-anchor="end" font-family='"Liberation Sans", sans-serif' fill="#262626" >2</text>
<text x="388.2" y="309.85" font-size="8.5" text-anchor="end" font-family='"Liberation Sans", sans-serif' fill="#262626" >2.5</text>
<text x="388.2" y="283.57" font-size="8.5" text-anchor="end" font-family='"Liberation Sans", sans-serif' fill="#262626" >3</text>
<text x="388.2" y="257.3" font-size="8.5" text-anchor="end" font-family='"Liberation Sans", sans-serif' fill="#262626" >3.5</text>
<rect x="393.6" y="359.7" width="132" height="69.95" fill="none" stroke="#262626" stroke-width="1.1"/>
<line x1="421.89" y1="429.65" x2="421.89" y2="432.65" stroke="#262626" stroke-width="1.2"/>
<line x1="459.6" y1="429.65" x2="459.6" y2="432.65" stroke="#262626" stroke-width="1.2"/>
<line x1="497.31" y1="429.65" x2="497.31" y2="432.65" stroke="#262626" stroke-width="1.2"/>
<line x1="393.6" y1="429.65" x2="390.6" y2="429.65" stroke="#262626" stroke-width="1.2"/>
<line x1="525.6" y1="429.65" x2="528.6" y2="429.65" stroke="#262626" stroke-width="1.2"/>
<line x1="393.6" y1="404.21" x2="390.6" y2="404.21" stroke="#262626" stroke-width="1.2"/>
<line x1="525.6" y1="404.21" x2="528.6" y2="404.21" stroke="#262626" stroke-width="1.2"/>
<line x1="393.6" y1="378.78" x2="390.6" y2="378.78" stroke="#262626" stroke-width="1.2"/>
<line x1="525.6" y1="378.78" x2="528.6" y2="378.78" stroke="#262626" stroke-width="1.2"/>
<text x="388.2" y="432.35" font-size="8.5" text-anchor="end" font-family='"Liberation Sans", sans-serif' fill="#262626" >20</text>
<text x="388.2" y="406.91" font-size="8.5" text-anchor="end" font-family='"Liberation Sans", sans-serif' fill="#262626" >40</text>
<text x="388.2" y="381.48" font-size="8.5" text-anchor="end" font-family='"Liberation Sans", sans-serif' fill="#262626" >60</text>
<text x="421.89" y="443.65" font-size="8.5" text-anchor="middle" font-family='"Liberation Sans", sans-serif' fill="#262626" >-2</text>
<text x="459.6" y="443.65" font-size="8.5" text-anchor="middle" font-family='"Liberation Sans", sans-serif' fill="#262626" >0</text>
<text x="497.31" y="443.65" font-size="8.5" text-anchor="middle" font-family='"Liberation Sans", sans-serif' fill="#262626" >2</text>
<rect x="551.4" y="254.6" width="130.2" height="105.1" fill="none" stroke="#262626" stroke-width="1.1"/>
<line x1="579.3" y1="254.6" x2="579.3" y2="251.6" stroke="#262626" stroke-width="1.2"/>
<line x1="616.5" y1="254.6" x2="616.5" y2="251.6" stroke="#262626" stroke-width="1.2"/>
<line x1="653.7" y1="254.6" x2="653.7" y2="251.6" stroke="#262626" stroke-width="1.2"/>
<line x1="551.4" y1="359.7" x2="548.4" y2="359.7" stroke="#262626" stroke-width="1.2"/>
<line x1="681.6" y1="359.7" x2="684.6" y2="359.7" stroke="#262626" stroke-width="1.2"/>
<line x1="551.4" y1="333.43" x2="548.4" y2="333.43" stroke="#262626" stroke-width="1.2"/>
<line x1="681.6" y1="333.43" x2="684.6" y2="333.43" stroke="#262626" stroke-width="1.2"/>
<line x1="551.4" y1="307.15" x2="548.4" y2="307.15" stroke="#262626" stroke-width="1.2"/>
<line x1="681.6" y1="307.15" x2="684.6" y2="307.15" stroke="#262626" stroke-width="1.2"/>
<line x1="551.4" y1="280.88" x2="548.4" y2="280.88" stroke="#262626" stroke-width="1.2"/>
<line x1="681.6" y1="280.88" x2="684.6" y2="280.88" stroke="#262626" stroke-width="1.2"/>
<line x1="551.4" y1="254.6" x2="548.4" y2="254.6" stroke="#262626" stroke-width="1.2"/>
<line x1="681.6" y1="254.6" x2="684.6" y2="254.6" stroke="#262626" stroke-width="1.2"/>
<text x="546" y="362.4" font-size="8.5" text-anchor="end" font-family='"Liberation Sans", sans-serif' fill="#262626" >-6</text>
<text x="546" y="336.12" font-size="8.5" text-anchor="end" font-family='"Liberation Sans", sans-serif' fill="#262626" >-4</text>
<text x="546" y="309.85" font-size="8.5" text-anchor="end" font-family='"Liberation Sans", sans-serif' fill="#262626" >-2</text>
<text x="546" y="283.57" font-size="8.5" text-anchor="end" font-family='"Liberation Sans", sans-serif' fill="#262626" >0</text>
<text x="546" y="257.3" font-size="8.5" text-anchor="end" font-family='"Liberation Sans", sans-serif' fill="#262626" >2</text>
<rect x="551.4" y="359.7" width="130.2" height="69.95" fill="none" stroke="#262626" stroke-width="1.1"/>
<line x1="579.3" y1="429.65" x2="579.3" y2="432.65" stroke="#262626" stroke-width="1.2"/>
<line x1="616.5" y1="429.65" x2="616.5" y2="432.65" stroke="#262626" stroke-width="1.2"/>
<line x1="653.7" y1="429.65" x2="653.7" y2="432.65" stroke="#262626" stroke-width="1.2"/>
<line x1="551.4" y1="414.11" x2="548.4" y2="414.11" stroke="#262626" stroke-width="1.2"/>
<line x1="681.6" y1="414.11" x2="684.6" y2="414.11" stroke="#262626" stroke-width="1.2"/>
<line x1="551.4" y1="394.67" x2="548.4" y2="394.67" stroke="#262626" stroke-width="1.2"/>
<line x1="681.6" y1="394.67" x2="684.6" y2="394.67" stroke="#262626" stroke-width="1.2"/>
<line x1="551.4" y1="375.24" x2="548.4" y2="375.24" stroke="#262626" stroke-width="1.2"/>
<line x1="681.6" y1="375.24" x2="684.6" y2="375.24" stroke="#262626" stroke-width="1.2"/>
<text x="546" y="416.81" font-size="8.5" text-anchor="end" font-family='"Liberation Sans", sans-serif' fill="#262626" >-100</text>
<text x="546" y="397.37" font-size="8.5" text-anchor="end" font-family='"Liberation Sans", sans-serif' fill="#262626" >0</text>
<text x="546" y="377.94" font-size="8.5" text-anchor="end" font-family='"Liberation Sans", sans-serif' fill="#262626" >100</text>
<text x="579.3" y="443.65" font-size="8.5" text-anchor="middle" font-family='"Liberation Sans", sans-serif' fill="#262626" >-2</text>
<text x="616.5" y="443.65" font-size="8.5" text-anchor="middle" font-family='"Liberation Sans", sans-serif' fill="#262626" >0</text>
<text x="653.7" y="443.65" font-size="8.5" text-anchor="middle" font-family='"Liberation Sans", sans-serif' fill="#262626" >2</text>
<text x="459.6" y="454.45" font-size="9.6" text-anchor="middle" font-family='"Liberation Sans", sans-serif' fill="#262626">log<tspan font-size="8.5" dy="3.3">10</tspan><tspan dy="-3.3">( Period ) [s]</tspan></text>
<text x="616.5" y="454.45" font-size="9.6" text-anchor="middle" font-family='"Liberation Sans", sans-serif' fill="#262626">log<tspan font-size="8.5" dy="3.3">10</tspan><tspan dy="-3.3">( Period ) [s]</tspan></text>
<text transform="translate(368.8,308.55) rotate(-90)" x="0" y="0" font-size="9.9" text-anchor="middle" font-family='"Liberation Sans", sans-serif' fill="#262626">log<tspan font-size="7.2" dy="2.6">10</tspan><tspan dy="-2.6">( </tspan><tspan font-family='"Liberation Serif", serif' font-style="italic">ρ</tspan><tspan font-size="7.2" dy="2.6">app</tspan><tspan dy="-2.6"> ) [Ωm]</tspan></text>
<text transform="translate(375.2,394.67) rotate(-90)" x="0" y="0" font-size="9.85" text-anchor="middle" font-family='"Liberation Sans", sans-serif' fill="#262626">Phase [°]</text>
<text x="506" y="240" font-size="12.9" font-weight="bold" font-family='"Liberation Serif", serif' fill="#111">(c) Station S<tspan font-size="9" dy="2.5">3</tspan></text>
<line x1="61.85" y1="481.1" x2="61.85" y2="586.2" stroke="#d0d0d0" stroke-width="0.75"/>
<line x1="99.65" y1="481.1" x2="99.65" y2="586.2" stroke="#d0d0d0" stroke-width="0.75"/>
<line x1="137.45" y1="481.1" x2="137.45" y2="586.2" stroke="#d0d0d0" stroke-width="0.75"/>
<line x1="33.5" y1="559.93" x2="165.8" y2="559.93" stroke="#d0d0d0" stroke-width="0.75"/>
<line x1="33.5" y1="533.65" x2="165.8" y2="533.65" stroke="#d0d0d0" stroke-width="0.75"/>
<line x1="33.5" y1="507.38" x2="165.8" y2="507.38" stroke="#d0d0d0" stroke-width="0.75"/>
<line x1="61.85" y1="586.2" x2="61.85" y2="656.15" stroke="#d0d0d0" stroke-width="0.75"/>
<line x1="99.65" y1="586.2" x2="99.65" y2="656.15" stroke="#d0d0d0" stroke-width="0.75"/>
<line x1="137.45" y1="586.2" x2="137.45" y2="656.15" stroke="#d0d0d0" stroke-width="0.75"/>
<line x1="33.5" y1="630.71" x2="165.8" y2="630.71" stroke="#d0d0d0" stroke-width="0.75"/>
<line x1="33.5" y1="605.28" x2="165.8" y2="605.28" stroke="#d0d0d0" stroke-width="0.75"/>
<line x1="222.61" y1="481.1" x2="222.61" y2="586.2" stroke="#d0d0d0" stroke-width="0.75"/>
<line x1="260.1" y1="481.1" x2="260.1" y2="586.2" stroke="#d0d0d0" stroke-width="0.75"/>
<line x1="297.59" y1="481.1" x2="297.59" y2="586.2" stroke="#d0d0d0" stroke-width="0.75"/>
<line x1="194.5" y1="559.93" x2="325.7" y2="559.93" stroke="#d0d0d0" stroke-width="0.75"/>
<line x1="194.5" y1="533.65" x2="325.7" y2="533.65" stroke="#d0d0d0" stroke-width="0.75"/>
<line x1="194.5" y1="507.38" x2="325.7" y2="507.38" stroke="#d0d0d0" stroke-width="0.75"/>
<line x1="222.61" y1="586.2" x2="222.61" y2="656.15" stroke="#d0d0d0" stroke-width="0.75"/>
<line x1="260.1" y1="586.2" x2="260.1" y2="656.15" stroke="#d0d0d0" stroke-width="0.75"/>
<line x1="297.59" y1="586.2" x2="297.59" y2="656.15" stroke="#d0d0d0" stroke-width="0.75"/>
<line x1="194.5" y1="640.61" x2="325.7" y2="640.61" stroke="#d0d0d0" stroke-width="0.75"/>
<line x1="194.5" y1="621.18" x2="325.7" y2="621.18" stroke="#d0d0d0" stroke-width="0.75"/>
<line x1="194.5" y1="601.74" x2="325.7" y2="601.74" stroke="#d0d0d0" stroke-width="0.75"/>
<clipPath id="c13"><rect x="33.5" y="481.1" width="132.3" height="105.1"/></clipPath>
<g clip-path="url(#c13)" fill="none">
<path d="M42.39,534.8 C48.81,534.89 72.38,535.28 80.93,535.38 C89.47,535.48 90.55,536.13 93.64,535.38 C96.74,534.63 97.49,532.51 99.51,530.88 C101.53,529.25 103.65,527.23 105.77,525.6 C107.89,523.97 110.11,522.6 112.23,521.1 C114.35,519.6 116.37,517.91 118.49,516.6 C120.61,515.3 122.89,514.16 124.94,513.28 C127,512.4 128.69,511.81 130.81,511.32 C132.93,510.83 135.54,510.51 137.66,510.34 C139.78,510.18 141.47,510.08 143.53,510.34 C145.58,510.6 147.86,511.58 149.98,511.91 C152.1,512.23 155.2,512.23 156.24,512.3" stroke="#ff0000" stroke-width="1.0" stroke-dasharray="2.6,2.1" stroke-linejoin="round"/>
<path d="M42.39,534.8 C47.67,534.73 67.66,534.31 74.08,534.4 C80.5,534.5 78.71,534.99 80.93,535.38 C83.14,535.77 85.26,536.75 87.38,536.75 C89.5,536.75 91.62,536.2 93.64,535.38 C95.66,534.57 97.49,533.26 99.51,531.86 C101.53,530.46 103.65,528.54 105.77,526.97 C107.89,525.41 110.11,524 112.23,522.47 C114.35,520.94 116.37,519.08 118.49,517.78 C120.61,516.47 122.89,515.56 124.94,514.65 C127,513.73 128.69,513.02 130.81,512.3 C132.93,511.58 135.54,510.83 137.66,510.34 C139.78,509.85 141.47,509.63 143.53,509.36 C145.58,509.1 147.86,508.94 149.98,508.78 C152.1,508.62 155.2,508.45 156.24,508.39" stroke="#ff0000" stroke-width="1.1" stroke-linejoin="round"/>
<path d="M42.39,535.7 C47.67,535.63 67.66,535.21 74.08,535.3 C80.5,535.4 78.71,535.89 80.93,536.28 C83.14,536.67 85.26,537.65 87.38,537.65 C89.5,537.65 91.62,537.1 93.64,536.28 C95.66,535.47 97.49,534.16 99.51,532.76 C101.53,531.36 103.65,529.44 105.77,527.87 C107.89,526.31 110.11,524.9 112.23,523.37 C114.35,521.84 116.37,519.98 118.49,518.68 C120.61,517.37 122.89,516.46 124.94,515.55 C127,514.63 128.69,513.92 130.81,513.2 C132.93,512.48 135.54,511.73 137.66,511.24 C139.78,510.75 141.47,510.53 143.53,510.26 C145.58,510 147.86,509.84 149.98,509.68 C152.1,509.52 155.2,509.35 156.24,509.29" stroke="#ff0000" stroke-width="0.6" stroke-dasharray="3,1.2,0.8,1.2"/>
<path d="M42.39,534.8 C48.81,534.89 72.38,535.22 80.93,535.38 C89.47,535.55 90.55,536.36 93.64,535.77 C96.74,535.19 97.49,533.33 99.51,531.86 C101.53,530.39 103.65,528.6 105.77,526.97 C107.89,525.34 110.11,523.68 112.23,522.08 C114.35,520.48 116.37,518.89 118.49,517.39 C120.61,515.89 122.89,514.32 124.94,513.08 C127,511.84 128.69,510.8 130.81,509.95 C132.93,509.1 135.54,508.58 137.66,508 C139.78,507.41 141.47,506.82 143.53,506.43 C145.58,506.04 147.86,505.91 149.98,505.65 C152.1,505.39 155.2,505 156.24,504.87" stroke="#0000ff" stroke-width="1.0" stroke-dasharray="2.6,2.1" stroke-linejoin="round"/>
<path d="M42.39,534.8 C47.67,534.73 67.66,534.31 74.08,534.4 C80.5,534.5 78.71,534.99 80.93,535.38 C83.14,535.77 85.26,536.75 87.38,536.75 C89.5,536.75 91.62,536.26 93.64,535.38 C95.66,534.5 97.49,532.97 99.51,531.47 C101.53,529.97 103.65,528.01 105.77,526.38 C107.89,524.75 110.11,523.22 112.23,521.69 C114.35,520.16 116.37,518.59 118.49,517.19 C120.61,515.79 122.89,514.42 124.94,513.28 C127,512.14 128.69,511.16 130.81,510.34 C132.93,509.53 135.54,508.94 137.66,508.39 C139.78,507.83 141.47,507.41 143.53,507.02 C145.58,506.63 147.86,506.3 149.98,506.04 C152.1,505.78 155.2,505.55 156.24,505.45" stroke="#0000ff" stroke-width="1.1" stroke-linejoin="round"/>
<path d="M42.39,535.7 C47.67,535.63 67.66,535.21 74.08,535.3 C80.5,535.4 78.71,535.89 80.93,536.28 C83.14,536.67 85.26,537.65 87.38,537.65 C89.5,537.65 91.62,537.16 93.64,536.28 C95.66,535.4 97.49,533.87 99.51,532.37 C101.53,530.87 103.65,528.91 105.77,527.28 C107.89,525.65 110.11,524.12 112.23,522.59 C114.35,521.06 116.37,519.49 118.49,518.09 C120.61,516.69 122.89,515.32 124.94,514.18 C127,513.04 128.69,512.06 130.81,511.24 C132.93,510.43 135.54,509.84 137.66,509.29 C139.78,508.73 141.47,508.31 143.53,507.92 C145.58,507.53 147.86,507.2 149.98,506.94 C152.1,506.68 155.2,506.45 156.24,506.35" stroke="#0000ff" stroke-width="0.6" stroke-dasharray="3,1.2,0.8,1.2"/>
</g>
<path d="M41.7,535.54 L44.2,535.54 L42.95,533.04 Z" fill="#e00000" stroke="#2a0a0a" stroke-width="0.55"/>
<path d="M48,535.46 L50.5,535.46 L49.25,532.97 Z" fill="#e00000" stroke="#2a0a0a" stroke-width="0.55"/>
<path d="M54.3,535.38 L56.8,535.38 L55.55,532.89 Z" fill="#e00000" stroke="#2a0a0a" stroke-width="0.55"/>
<path d="M60.6,535.31 L63.1,535.31 L61.85,532.81 Z" fill="#e00000" stroke="#2a0a0a" stroke-width="0.55"/>
<path d="M66.9,535.23 L69.4,535.23 L68.15,532.73 Z" fill="#e00000" stroke="#2a0a0a" stroke-width="0.55"/>
<path d="M73.2,535.21 L75.7,535.21 L74.45,532.71 Z" fill="#e00000" stroke="#2a0a0a" stroke-width="0.55"/>
<path d="M79.5,536.11 L82,536.11 L80.75,533.61 Z" fill="#e00000" stroke="#2a0a0a" stroke-width="0.55"/>
<path d="M85.8,537.43 L88.3,537.43 L87.05,534.94 Z" fill="#e00000" stroke="#2a0a0a" stroke-width="0.55"/>
<path d="M92.1,536.2 L94.6,536.2 L93.35,533.7 Z" fill="#e00000" stroke="#2a0a0a" stroke-width="0.55"/>
<path d="M98.4,532.5 L100.9,532.5 L99.65,530.01 Z" fill="#e00000" stroke="#2a0a0a" stroke-width="0.55"/>
<path d="M104.7,527.6 L107.2,527.6 L105.95,525.1 Z" fill="#e00000" stroke="#2a0a0a" stroke-width="0.55"/>
<path d="M111,523.2 L113.5,523.2 L112.25,520.71 Z" fill="#e00000" stroke="#2a0a0a" stroke-width="0.55"/>
<path d="M117.3,518.5 L119.8,518.5 L118.55,516 Z" fill="#e00000" stroke="#2a0a0a" stroke-width="0.55"/>
<path d="M123.6,515.44 L126.1,515.44 L124.85,512.95 Z" fill="#e00000" stroke="#2a0a0a" stroke-width="0.55"/>
<path d="M129.9,512.95 L132.4,512.95 L131.15,510.46 Z" fill="#e00000" stroke="#2a0a0a" stroke-width="0.55"/>
<path d="M136.2,511.15 L138.7,511.15 L137.45,508.66 Z" fill="#e00000" stroke="#2a0a0a" stroke-width="0.55"/>
<path d="M142.5,510.09 L145,510.09 L143.75,507.6 Z" fill="#e00000" stroke="#2a0a0a" stroke-width="0.55"/>
<path d="M148.8,509.52 L151.3,509.52 L150.05,507.03 Z" fill="#e00000" stroke="#2a0a0a" stroke-width="0.55"/>
<path d="M155.1,509.14 L157.6,509.14 L156.35,506.64 Z" fill="#e00000" stroke="#2a0a0a" stroke-width="0.55"/>
<path d="M41.7,534.04 L44.2,534.04 L42.95,536.53 Z" fill="#0000e8" stroke="#0a0a30" stroke-width="0.55"/>
<path d="M48,533.96 L50.5,533.96 L49.25,536.45 Z" fill="#0000e8" stroke="#0a0a30" stroke-width="0.55"/>
<path d="M54.3,533.88 L56.8,533.88 L55.55,536.38 Z" fill="#0000e8" stroke="#0a0a30" stroke-width="0.55"/>
<path d="M60.6,533.81 L63.1,533.81 L61.85,536.3 Z" fill="#0000e8" stroke="#0a0a30" stroke-width="0.55"/>
<path d="M66.9,533.73 L69.4,533.73 L68.15,536.22 Z" fill="#0000e8" stroke="#0a0a30" stroke-width="0.55"/>
<path d="M73.2,533.71 L75.7,533.71 L74.45,536.2 Z" fill="#0000e8" stroke="#0a0a30" stroke-width="0.55"/>
<path d="M79.5,534.61 L82,534.61 L80.75,537.1 Z" fill="#0000e8" stroke="#0a0a30" stroke-width="0.55"/>
<path d="M85.8,535.93 L88.3,535.93 L87.05,538.43 Z" fill="#0000e8" stroke="#0a0a30" stroke-width="0.55"/>
<path d="M92.1,534.7 L94.6,534.7 L93.35,537.19 Z" fill="#0000e8" stroke="#0a0a30" stroke-width="0.55"/>
<path d="M98.4,530.61 L100.9,530.61 L99.65,533.1 Z" fill="#0000e8" stroke="#0a0a30" stroke-width="0.55"/>
<path d="M104.7,525.5 L107.2,525.5 L105.95,528 Z" fill="#0000e8" stroke="#0a0a30" stroke-width="0.55"/>
<path d="M111,520.92 L113.5,520.92 L112.25,523.42 Z" fill="#0000e8" stroke="#0a0a30" stroke-width="0.55"/>
<path d="M117.3,516.4 L119.8,516.4 L118.55,518.89 Z" fill="#0000e8" stroke="#0a0a30" stroke-width="0.55"/>
<path d="M123.6,512.58 L126.1,512.58 L124.85,515.08 Z" fill="#0000e8" stroke="#0a0a30" stroke-width="0.55"/>
<path d="M129.9,509.5 L132.4,509.5 L131.15,511.99 Z" fill="#0000e8" stroke="#0a0a30" stroke-width="0.55"/>
<path d="M136.2,507.7 L138.7,507.7 L137.45,510.19 Z" fill="#0000e8" stroke="#0a0a30" stroke-width="0.55"/>
<path d="M142.5,506.23 L145,506.23 L143.75,508.73 Z" fill="#0000e8" stroke="#0a0a30" stroke-width="0.55"/>
<path d="M148.8,505.28 L151.3,505.28 L150.05,507.78 Z" fill="#0000e8" stroke="#0a0a30" stroke-width="0.55"/>
<path d="M155.1,504.7 L157.6,504.7 L156.35,507.2 Z" fill="#0000e8" stroke="#0a0a30" stroke-width="0.55"/>
<clipPath id="c14"><rect x="33.5" y="586.2" width="132.3" height="69.95"/></clipPath>
<g clip-path="url(#c14)" fill="none">
<path d="M42.39,623.75 C48.65,623.66 71.57,621.96 79.95,623.17 C88.33,624.37 89.4,628.87 92.66,630.99 C95.92,633.11 97.33,634.84 99.51,635.88 C101.7,636.93 103.65,637.25 105.77,637.25 C107.89,637.25 110.11,636.54 112.23,635.88 C114.35,635.23 116.37,634.16 118.49,633.34 C120.61,632.53 121.75,632.2 124.94,630.99 C128.14,629.79 133.48,627.47 137.66,626.1 C141.83,624.73 146.88,623.27 149.98,622.78 C153.08,622.29 155.2,623.1 156.24,623.17" stroke="#ff0000" stroke-width="1.0" stroke-dasharray="2.6,2.1" stroke-linejoin="round"/>
<path d="M42.39,623.75 C48.65,623.66 72.55,622.78 79.95,623.17 C87.35,623.56 84.68,624.8 86.8,626.1 C88.91,627.41 90.55,629.36 92.66,630.99 C94.78,632.62 97.33,634.74 99.51,635.88 C101.7,637.02 103.65,637.51 105.77,637.84 C107.89,638.17 110.11,638.17 112.23,637.84 C114.35,637.51 116.37,636.63 118.49,635.88 C120.61,635.13 122.89,634.16 124.94,633.34 C127,632.53 128.69,631.71 130.81,630.99 C132.93,630.28 135.54,629.62 137.66,629.04 C139.78,628.45 141.47,627.9 143.53,627.47 C145.58,627.05 147.86,626.62 149.98,626.49 C152.1,626.36 155.2,626.66 156.24,626.69" stroke="#ff0000" stroke-width="1.1" stroke-linejoin="round"/>
<path d="M42.39,624.65 C48.65,624.56 72.55,623.68 79.95,624.07 C87.35,624.46 84.68,625.7 86.8,627 C88.91,628.31 90.55,630.26 92.66,631.89 C94.78,633.52 97.33,635.64 99.51,636.78 C101.7,637.92 103.65,638.41 105.77,638.74 C107.89,639.07 110.11,639.07 112.23,638.74 C114.35,638.41 116.37,637.53 118.49,636.78 C120.61,636.03 122.89,635.06 124.94,634.24 C127,633.43 128.69,632.61 130.81,631.89 C132.93,631.18 135.54,630.52 137.66,629.94 C139.78,629.35 141.47,628.8 143.53,628.37 C145.58,627.95 147.86,627.52 149.98,627.39 C152.1,627.26 155.2,627.56 156.24,627.59" stroke="#ff0000" stroke-width="0.6" stroke-dasharray="3,1.2,0.8,1.2"/>
<path d="M42.39,622.19 C48.65,622.35 71.57,621.64 79.95,623.17 C88.33,624.7 89.4,629.17 92.66,631.38 C95.92,633.6 97.33,635.3 99.51,636.47 C101.7,637.64 103.65,638.1 105.77,638.43 C107.89,638.75 110.11,638.75 112.23,638.43 C114.35,638.1 116.37,637.12 118.49,636.47 C120.61,635.82 121.75,635.49 124.94,634.51 C128.14,633.54 133.48,631.35 137.66,630.6 C141.83,629.85 146.88,629.62 149.98,630.01 C153.08,630.41 155.2,632.46 156.24,632.95" stroke="#0000ff" stroke-width="1.0" stroke-dasharray="2.6,2.1" stroke-linejoin="round"/>
<path d="M42.39,623.75 C48.65,623.66 72.55,622.78 79.95,623.17 C87.35,623.56 84.68,624.73 86.8,626.1 C88.91,627.47 90.55,629.66 92.66,631.38 C94.78,633.11 97.33,635.3 99.51,636.47 C101.7,637.64 103.65,638.04 105.77,638.43 C107.89,638.82 110.11,639.01 112.23,638.82 C114.35,638.62 116.37,637.9 118.49,637.25 C120.61,636.6 122.89,635.69 124.94,634.91 C127,634.12 128.69,633.27 130.81,632.56 C132.93,631.84 135.54,631.25 137.66,630.6 C139.78,629.95 141.47,629.23 143.53,628.65 C145.58,628.06 147.86,627.34 149.98,627.08 C152.1,626.82 155.2,627.08 156.24,627.08" stroke="#0000ff" stroke-width="1.1" stroke-linejoin="round"/>
<path d="M42.39,624.65 C48.65,624.56 72.55,623.68 79.95,624.07 C87.35,624.46 84.68,625.63 86.8,627 C88.91,628.37 90.55,630.56 92.66,632.28 C94.78,634.01 97.33,636.2 99.51,637.37 C101.7,638.54 103.65,638.94 105.77,639.33 C107.89,639.72 110.11,639.91 112.23,639.72 C114.35,639.52 116.37,638.8 118.49,638.15 C120.61,637.5 122.89,636.59 124.94,635.81 C127,635.02 128.69,634.17 130.81,633.46 C132.93,632.74 135.54,632.15 137.66,631.5 C139.78,630.85 141.47,630.13 143.53,629.55 C145.58,628.96 147.86,628.24 149.98,627.98 C152.1,627.72 155.2,627.98 156.24,627.98" stroke="#0000ff" stroke-width="0.6" stroke-dasharray="3,1.2,0.8,1.2"/>
</g>
<path d="M41.7,624.5 L44.2,624.5 L42.95,622 Z" fill="#e00000" stroke="#2a0a0a" stroke-width="0.55"/>
<path d="M48,624.4 L50.5,624.4 L49.25,621.9 Z" fill="#e00000" stroke="#2a0a0a" stroke-width="0.55"/>
<path d="M54.3,624.3 L56.8,624.3 L55.55,621.81 Z" fill="#e00000" stroke="#2a0a0a" stroke-width="0.55"/>
<path d="M60.6,624.2 L63.1,624.2 L61.85,621.71 Z" fill="#e00000" stroke="#2a0a0a" stroke-width="0.55"/>
<path d="M66.9,624.1 L69.4,624.1 L68.15,621.61 Z" fill="#e00000" stroke="#2a0a0a" stroke-width="0.55"/>
<path d="M73.2,624 L75.7,624 L74.45,621.51 Z" fill="#e00000" stroke="#2a0a0a" stroke-width="0.55"/>
<path d="M79.5,624.26 L82,624.26 L80.75,621.77 Z" fill="#e00000" stroke="#2a0a0a" stroke-width="0.55"/>
<path d="M85.8,627.06 L88.3,627.06 L87.05,624.57 Z" fill="#e00000" stroke="#2a0a0a" stroke-width="0.55"/>
<path d="M92.1,632.23 L94.6,632.23 L93.35,629.74 Z" fill="#e00000" stroke="#2a0a0a" stroke-width="0.55"/>
<path d="M98.4,636.68 L100.9,636.68 L99.65,634.18 Z" fill="#e00000" stroke="#2a0a0a" stroke-width="0.55"/>
<path d="M104.7,638.59 L107.2,638.59 L105.95,636.1 Z" fill="#e00000" stroke="#2a0a0a" stroke-width="0.55"/>
<path d="M111,638.58 L113.5,638.58 L112.25,636.09 Z" fill="#e00000" stroke="#2a0a0a" stroke-width="0.55"/>
<path d="M117.3,636.61 L119.8,636.61 L118.55,634.11 Z" fill="#e00000" stroke="#2a0a0a" stroke-width="0.55"/>
<path d="M123.6,634.13 L126.1,634.13 L124.85,631.63 Z" fill="#e00000" stroke="#2a0a0a" stroke-width="0.55"/>
<path d="M129.9,631.65 L132.4,631.65 L131.15,629.15 Z" fill="#e00000" stroke="#2a0a0a" stroke-width="0.55"/>
<path d="M136.2,629.85 L138.7,629.85 L137.45,627.35 Z" fill="#e00000" stroke="#2a0a0a" stroke-width="0.55"/>
<path d="M142.5,628.19 L145,628.19 L143.75,625.69 Z" fill="#e00000" stroke="#2a0a0a" stroke-width="0.55"/>
<path d="M148.8,627.25 L151.3,627.25 L150.05,624.75 Z" fill="#e00000" stroke="#2a0a0a" stroke-width="0.55"/>
<path d="M155.1,627.44 L157.6,627.44 L156.35,624.95 Z" fill="#e00000" stroke="#2a0a0a" stroke-width="0.55"/>
<path d="M41.7,623 L44.2,623 L42.95,625.49 Z" fill="#0000e8" stroke="#0a0a30" stroke-width="0.55"/>
<path d="M48,622.9 L50.5,622.9 L49.25,625.39 Z" fill="#0000e8" stroke="#0a0a30" stroke-width="0.55"/>
<path d="M54.3,622.8 L56.8,622.8 L55.55,625.29 Z" fill="#0000e8" stroke="#0a0a30" stroke-width="0.55"/>
<path d="M60.6,622.7 L63.1,622.7 L61.85,625.19 Z" fill="#0000e8" stroke="#0a0a30" stroke-width="0.55"/>
<path d="M66.9,622.6 L69.4,622.6 L68.15,625.1 Z" fill="#0000e8" stroke="#0a0a30" stroke-width="0.55"/>
<path d="M73.2,622.5 L75.7,622.5 L74.45,625 Z" fill="#0000e8" stroke="#0a0a30" stroke-width="0.55"/>
<path d="M79.5,622.76 L82,622.76 L80.75,625.25 Z" fill="#0000e8" stroke="#0a0a30" stroke-width="0.55"/>
<path d="M85.8,625.58 L88.3,625.58 L87.05,628.07 Z" fill="#0000e8" stroke="#0a0a30" stroke-width="0.55"/>
<path d="M92.1,631.14 L94.6,631.14 L93.35,633.64 Z" fill="#0000e8" stroke="#0a0a30" stroke-width="0.55"/>
<path d="M98.4,635.76 L100.9,635.76 L99.65,638.26 Z" fill="#0000e8" stroke="#0a0a30" stroke-width="0.55"/>
<path d="M104.7,637.69 L107.2,637.69 L105.95,640.18 Z" fill="#0000e8" stroke="#0a0a30" stroke-width="0.55"/>
<path d="M111,638.06 L113.5,638.06 L112.25,640.56 Z" fill="#0000e8" stroke="#0a0a30" stroke-width="0.55"/>
<path d="M117.3,636.48 L119.8,636.48 L118.55,638.97 Z" fill="#0000e8" stroke="#0a0a30" stroke-width="0.55"/>
<path d="M123.6,634.19 L126.1,634.19 L124.85,636.68 Z" fill="#0000e8" stroke="#0a0a30" stroke-width="0.55"/>
<path d="M129.9,631.71 L132.4,631.71 L131.15,634.2 Z" fill="#0000e8" stroke="#0a0a30" stroke-width="0.55"/>
<path d="M136.2,629.91 L138.7,629.91 L137.45,632.4 Z" fill="#0000e8" stroke="#0a0a30" stroke-width="0.55"/>
<path d="M142.5,627.84 L145,627.84 L143.75,630.33 Z" fill="#0000e8" stroke="#0a0a30" stroke-width="0.55"/>
<path d="M148.8,626.33 L151.3,626.33 L150.05,628.82 Z" fill="#0000e8" stroke="#0a0a30" stroke-width="0.55"/>
<path d="M155.1,626.33 L157.6,626.33 L156.35,628.82 Z" fill="#0000e8" stroke="#0a0a30" stroke-width="0.55"/>
<clipPath id="c15"><rect x="194.5" y="481.1" width="131.2" height="105.1"/></clipPath>
<g clip-path="url(#c15)" fill="none">
<line x1="203.87" y1="479.1" x2="203.87" y2="588.2" stroke="#8af5f7" stroke-width="0.95"/>
<line x1="210.12" y1="479.1" x2="210.12" y2="588.2" stroke="#8af5f7" stroke-width="0.95"/>
<line x1="216.37" y1="479.1" x2="216.37" y2="588.2" stroke="#8af5f7" stroke-width="0.95"/>
<line x1="222.61" y1="479.1" x2="222.61" y2="588.2" stroke="#8af5f7" stroke-width="0.95"/>
<line x1="228.86" y1="479.1" x2="228.86" y2="588.2" stroke="#8af5f7" stroke-width="0.95"/>
<line x1="235.11" y1="479.1" x2="235.11" y2="588.2" stroke="#8af5f7" stroke-width="0.95"/>
<line x1="241.36" y1="479.1" x2="241.36" y2="588.2" stroke="#8af5f7" stroke-width="0.95"/>
<line x1="247.6" y1="479.1" x2="247.6" y2="588.2" stroke="#8af5f7" stroke-width="0.95"/>
<line x1="253.85" y1="479.1" x2="253.85" y2="588.2" stroke="#8af5f7" stroke-width="0.95"/>
<line x1="260.1" y1="479.1" x2="260.1" y2="588.2" stroke="#8af5f7" stroke-width="0.95"/>
<line x1="266.35" y1="479.1" x2="266.35" y2="588.2" stroke="#8af5f7" stroke-width="0.95"/>
<line x1="272.6" y1="492.26" x2="272.6" y2="559.64" stroke="#8af5f7" stroke-width="0.95"/>
<line x1="271" y1="492.26" x2="274.2" y2="492.26" stroke="#7eeff4" stroke-width="0.9"/>
<line x1="271" y1="559.64" x2="274.2" y2="559.64" stroke="#7eeff4" stroke-width="0.9"/>
<line x1="278.84" y1="495.56" x2="278.84" y2="545.07" stroke="#8af5f7" stroke-width="0.95"/>
<line x1="277.24" y1="495.56" x2="280.44" y2="495.56" stroke="#7eeff4" stroke-width="0.9"/>
<line x1="277.24" y1="545.07" x2="280.44" y2="545.07" stroke="#7eeff4" stroke-width="0.9"/>
<line x1="285.09" y1="496.53" x2="285.09" y2="543.13" stroke="#8af5f7" stroke-width="0.95"/>
<line x1="283.49" y1="496.53" x2="286.69" y2="496.53" stroke="#7eeff4" stroke-width="0.9"/>
<line x1="283.49" y1="543.13" x2="286.69" y2="543.13" stroke="#7eeff4" stroke-width="0.9"/>
<line x1="291.34" y1="495.56" x2="291.34" y2="539.25" stroke="#8af5f7" stroke-width="0.95"/>
<line x1="289.74" y1="495.56" x2="292.94" y2="495.56" stroke="#7eeff4" stroke-width="0.9"/>
<line x1="289.74" y1="539.25" x2="292.94" y2="539.25" stroke="#7eeff4" stroke-width="0.9"/>
<line x1="297.59" y1="495.56" x2="297.59" y2="538.28" stroke="#8af5f7" stroke-width="0.95"/>
<line x1="295.99" y1="495.56" x2="299.19" y2="495.56" stroke="#7eeff4" stroke-width="0.9"/>
<line x1="295.99" y1="538.28" x2="299.19" y2="538.28" stroke="#7eeff4" stroke-width="0.9"/>
<line x1="303.83" y1="494.59" x2="303.83" y2="536.92" stroke="#8af5f7" stroke-width="0.95"/>
<line x1="302.23" y1="494.59" x2="305.43" y2="494.59" stroke="#7eeff4" stroke-width="0.9"/>
<line x1="302.23" y1="536.92" x2="305.43" y2="536.92" stroke="#7eeff4" stroke-width="0.9"/>
<line x1="310.08" y1="494.59" x2="310.08" y2="536.34" stroke="#8af5f7" stroke-width="0.95"/>
<line x1="308.48" y1="494.59" x2="311.68" y2="494.59" stroke="#7eeff4" stroke-width="0.9"/>
<line x1="308.48" y1="536.34" x2="311.68" y2="536.34" stroke="#7eeff4" stroke-width="0.9"/>
<line x1="316.33" y1="493.62" x2="316.33" y2="535.36" stroke="#8af5f7" stroke-width="0.95"/>
<line x1="314.73" y1="493.62" x2="317.93" y2="493.62" stroke="#7eeff4" stroke-width="0.9"/>
<line x1="314.73" y1="535.36" x2="317.93" y2="535.36" stroke="#7eeff4" stroke-width="0.9"/>
<line x1="258.3" y1="504.3" x2="261.9" y2="504.3" stroke="#f59af5" stroke-width="0.9"/>
<line x1="264.55" y1="500.8" x2="268.15" y2="500.8" stroke="#f59af5" stroke-width="0.9"/>
<line x1="270.8" y1="495.56" x2="274.4" y2="495.56" stroke="#f59af5" stroke-width="0.9"/>
<line x1="277.04" y1="494.59" x2="280.64" y2="494.59" stroke="#f59af5" stroke-width="0.9"/>
<line x1="283.29" y1="492.65" x2="286.89" y2="492.65" stroke="#f59af5" stroke-width="0.9"/>
<line x1="270.8" y1="492.26" x2="274.4" y2="492.26" stroke="#7eeff4" stroke-width="0.9"/>
<line x1="270.8" y1="559.64" x2="274.4" y2="559.64" stroke="#7eeff4" stroke-width="0.9"/>
<line x1="277.04" y1="545.07" x2="280.64" y2="545.07" stroke="#7eeff4" stroke-width="0.9"/>
<line x1="283.29" y1="543.13" x2="286.89" y2="543.13" stroke="#7eeff4" stroke-width="0.9"/>
<line x1="289.54" y1="539.25" x2="293.14" y2="539.25" stroke="#7eeff4" stroke-width="0.9"/>
<line x1="295.79" y1="538.28" x2="299.39" y2="538.28" stroke="#7eeff4" stroke-width="0.9"/>
<line x1="302.03" y1="536.92" x2="305.63" y2="536.92" stroke="#7eeff4" stroke-width="0.9"/>
<line x1="308.28" y1="536.34" x2="311.88" y2="536.34" stroke="#7eeff4" stroke-width="0.9"/>
<line x1="314.53" y1="535.36" x2="318.13" y2="535.36" stroke="#7eeff4" stroke-width="0.9"/>
<line x1="277.04" y1="495.56" x2="280.64" y2="495.56" stroke="#7eeff4" stroke-width="0.9"/>
<line x1="283.29" y1="496.53" x2="286.89" y2="496.53" stroke="#7eeff4" stroke-width="0.9"/>
<line x1="289.54" y1="495.56" x2="293.14" y2="495.56" stroke="#7eeff4" stroke-width="0.9"/>
<line x1="295.79" y1="495.56" x2="299.39" y2="495.56" stroke="#7eeff4" stroke-width="0.9"/>
<line x1="302.03" y1="494.59" x2="305.63" y2="494.59" stroke="#7eeff4" stroke-width="0.9"/>
<line x1="308.28" y1="494.59" x2="311.88" y2="494.59" stroke="#7eeff4" stroke-width="0.9"/>
<line x1="314.53" y1="493.62" x2="318.13" y2="493.62" stroke="#7eeff4" stroke-width="0.9"/>
<path d="M241.57,587.01 C242.54,584.39 245.45,576.66 247.39,571.28 C249.34,565.91 251.18,561.41 253.22,554.78 C255.26,548.15 257.52,537.79 259.63,531.48 C261.73,525.17 263.74,520.8 265.84,516.92 C267.94,513.04 270.14,510.12 272.25,508.18 C274.35,506.24 276.39,505.98 278.46,505.27 C280.53,504.56 282.57,504.33 284.67,503.91 C286.78,503.49 288.98,503.17 291.08,502.75 C293.18,502.33 295.19,501.87 297.29,501.39 C299.4,500.9 301.56,500.38 303.7,499.83 C305.84,499.28 308,498.8 310.11,498.09 C312.21,497.37 315.29,495.98 316.32,495.56" stroke="#00f0f0" stroke-width="1.0" stroke-dasharray="2.6,2.1" stroke-linejoin="round"/>
<path d="M232.83,587.01 C234,583.91 237.69,574.07 239.82,568.37 C241.96,562.68 243.58,558.6 245.65,552.84 C247.72,547.08 250.05,539.38 252.25,533.81 C254.45,528.25 256.68,523.65 258.85,519.44 C261.02,515.24 263.12,511.65 265.26,508.57 C267.39,505.5 269.46,503.07 271.66,501 C273.86,498.93 276.29,497.44 278.46,496.14 C280.63,494.85 282.57,494.01 284.67,493.23 C286.78,492.46 287.91,492.03 291.08,491.48 C294.25,490.93 299.49,490.32 303.7,489.93 C307.91,489.54 314.22,489.28 316.32,489.15" stroke="#ff00ff" stroke-width="1.0" stroke-dasharray="2.6,2.1" stroke-linejoin="round"/>
<path d="M242.54,587.01 C243.51,584.49 246.42,577.3 248.36,571.87 C250.31,566.43 252.18,559.51 254.19,554.39 C256.2,549.28 258.33,545.01 260.4,541.19 C262.47,537.37 264.58,533.97 266.62,531.48 C268.65,528.99 270.6,527.73 272.64,526.24 C274.67,524.75 276.74,523.55 278.85,522.55 C280.95,521.55 282.25,521 285.26,520.22 C288.26,519.44 291.73,518.44 296.91,517.89 C302.08,517.34 313.09,517.08 316.32,516.92" stroke="#00f0f0" stroke-width="0.85" stroke-dasharray="3.5,1,1,1" stroke-linejoin="round"/>
<path d="M235.16,587.01 C236.26,583.97 239.69,574.39 241.76,568.76 C243.83,563.13 245.52,558.86 247.59,553.23 C249.66,547.6 252.05,540.45 254.19,534.98 C256.33,529.51 258.36,524.62 260.4,520.41 C262.44,516.21 264.38,512.75 266.42,509.74 C268.46,506.73 270.56,504.4 272.64,502.36 C274.71,500.32 276.84,498.8 278.85,497.5 C280.85,496.21 282.63,495.4 284.67,494.59 C286.71,493.78 287.91,493.23 291.08,492.65 C294.25,492.07 299.49,491.42 303.7,491.1 C307.91,490.77 314.22,490.77 316.32,490.71" stroke="#ff00ff" stroke-width="0.85" stroke-dasharray="3.5,1,1,1" stroke-linejoin="round"/>
<path d="M241.57,587.01 C242.54,584.55 245.45,577.63 247.39,572.26 C249.34,566.88 251.18,559.96 253.22,554.78 C255.26,549.6 257.52,545.14 259.63,541.19 C261.73,537.24 263.74,533.68 265.84,531.09 C267.94,528.5 270.14,527.21 272.25,525.66 C274.35,524.1 276.39,522.81 278.46,521.77 C280.53,520.74 282.57,520.09 284.67,519.44 C286.78,518.8 288.98,518.31 291.08,517.89 C293.18,517.47 295.19,517.18 297.29,516.92 C299.4,516.66 301.56,516.5 303.7,516.34 C305.84,516.18 308,516.01 310.11,515.95 C312.21,515.88 315.29,515.95 316.32,515.95" stroke="#00f0f0" stroke-width="1.0" stroke-linejoin="round"/>
<path d="M233.8,587.01 C234.94,583.91 238.5,574.07 240.6,568.37 C242.7,562.68 244.32,558.5 246.42,552.84 C248.53,547.18 251.02,539.9 253.22,534.39 C255.42,528.89 257.52,524.04 259.63,519.83 C261.73,515.63 263.74,512.23 265.84,509.15 C267.94,506.08 270.14,503.49 272.25,501.39 C274.35,499.28 276.39,497.83 278.46,496.53 C280.53,495.24 282.57,494.43 284.67,493.62 C286.78,492.81 288.98,492.16 291.08,491.68 C293.18,491.19 295.19,490.97 297.29,490.71 C299.4,490.45 301.56,490.29 303.7,490.13 C305.84,489.96 308,489.87 310.11,489.74 C312.21,489.61 315.29,489.41 316.32,489.35" stroke="#ff00ff" stroke-width="1.0" stroke-linejoin="round"/>
</g>
<path d="M240.01,584.07 L242.71,584.07 L241.36,581.38 Z" fill="#d010d0" stroke="#2a1a2a" stroke-width="0.55"/>
<path d="M246.25,555.92 L248.95,555.92 L247.6,553.22 Z" fill="#d010d0" stroke="#2a1a2a" stroke-width="0.55"/>
<path d="M252.5,534.95 L255.2,534.95 L253.85,532.25 Z" fill="#d010d0" stroke="#2a1a2a" stroke-width="0.55"/>
<path d="M258.75,520.97 L261.45,520.97 L260.1,518.27 Z" fill="#d010d0" stroke="#2a1a2a" stroke-width="0.55"/>
<path d="M265,510.29 L267.7,510.29 L266.35,507.59 Z" fill="#d010d0" stroke="#2a1a2a" stroke-width="0.55"/>
<path d="M271.25,502.52 L273.95,502.52 L272.6,499.83 Z" fill="#d010d0" stroke="#2a1a2a" stroke-width="0.55"/>
<path d="M277.49,498.64 L280.19,498.64 L278.84,495.94 Z" fill="#d010d0" stroke="#2a1a2a" stroke-width="0.55"/>
<path d="M283.74,495.34 L286.44,495.34 L285.09,492.64 Z" fill="#d010d0" stroke="#2a1a2a" stroke-width="0.55"/>
<path d="M289.99,493.2 L292.69,493.2 L291.34,490.51 Z" fill="#d010d0" stroke="#2a1a2a" stroke-width="0.55"/>
<path d="M296.24,492.23 L298.94,492.23 L297.59,489.54 Z" fill="#d010d0" stroke="#2a1a2a" stroke-width="0.55"/>
<path d="M302.48,491.84 L305.18,491.84 L303.83,489.15 Z" fill="#d010d0" stroke="#2a1a2a" stroke-width="0.55"/>
<path d="M308.73,491.45 L311.43,491.45 L310.08,488.76 Z" fill="#d010d0" stroke="#2a1a2a" stroke-width="0.55"/>
<path d="M314.98,491.07 L317.68,491.07 L316.33,488.37 Z" fill="#d010d0" stroke="#2a1a2a" stroke-width="0.55"/>
<path d="M246.25,571.12 L248.95,571.12 L247.6,573.81 Z" fill="#10c8c8" stroke="#1a2a2a" stroke-width="0.55"/>
<path d="M252.5,553.26 L255.2,553.26 L253.85,555.95 Z" fill="#10c8c8" stroke="#1a2a2a" stroke-width="0.55"/>
<path d="M258.75,540.06 L261.45,540.06 L260.1,542.75 Z" fill="#10c8c8" stroke="#1a2a2a" stroke-width="0.55"/>
<path d="M265,530.74 L267.7,530.74 L266.35,533.43 Z" fill="#10c8c8" stroke="#1a2a2a" stroke-width="0.55"/>
<path d="M271.25,524.91 L273.95,524.91 L272.6,527.6 Z" fill="#10c8c8" stroke="#1a2a2a" stroke-width="0.55"/>
<path d="M277.49,521.03 L280.19,521.03 L278.84,523.72 Z" fill="#10c8c8" stroke="#1a2a2a" stroke-width="0.55"/>
<path d="M283.74,518.7 L286.44,518.7 L285.09,521.39 Z" fill="#10c8c8" stroke="#1a2a2a" stroke-width="0.55"/>
<path d="M289.99,516.76 L292.69,516.76 L291.34,519.45 Z" fill="#10c8c8" stroke="#1a2a2a" stroke-width="0.55"/>
<path d="M296.24,515.79 L298.94,515.79 L297.59,518.48 Z" fill="#10c8c8" stroke="#1a2a2a" stroke-width="0.55"/>
<path d="M302.48,515.2 L305.18,515.2 L303.83,517.9 Z" fill="#10c8c8" stroke="#1a2a2a" stroke-width="0.55"/>
<path d="M308.73,514.81 L311.43,514.81 L310.08,517.51 Z" fill="#10c8c8" stroke="#1a2a2a" stroke-width="0.55"/>
<path d="M314.98,514.43 L317.68,514.43 L316.33,517.12 Z" fill="#10c8c8" stroke="#1a2a2a" stroke-width="0.55"/>
<clipPath id="c16"><rect x="194.5" y="586.2" width="131.2" height="69.95"/></clipPath>
<g clip-path="url(#c16)" fill="none">
<line x1="203.87" y1="584.2" x2="203.87" y2="658.15" stroke="#8af5f7" stroke-width="0.95"/>
<line x1="210.12" y1="584.2" x2="210.12" y2="658.15" stroke="#8af5f7" stroke-width="0.95"/>
<line x1="216.37" y1="584.2" x2="216.37" y2="658.15" stroke="#8af5f7" stroke-width="0.95"/>
<line x1="222.61" y1="584.2" x2="222.61" y2="658.15" stroke="#8af5f7" stroke-width="0.95"/>
<line x1="228.86" y1="584.2" x2="228.86" y2="658.15" stroke="#8af5f7" stroke-width="0.95"/>
<line x1="235.11" y1="584.2" x2="235.11" y2="658.15" stroke="#8af5f7" stroke-width="0.95"/>
<line x1="241.36" y1="584.2" x2="241.36" y2="658.15" stroke="#8af5f7" stroke-width="0.95"/>
<line x1="247.6" y1="584.2" x2="247.6" y2="658.15" stroke="#8af5f7" stroke-width="0.95"/>
<line x1="253.85" y1="584.2" x2="253.85" y2="658.15" stroke="#8af5f7" stroke-width="0.95"/>
<line x1="260.1" y1="584.2" x2="260.1" y2="658.15" stroke="#8af5f7" stroke-width="0.95"/>
<line x1="266.35" y1="584.2" x2="266.35" y2="658.15" stroke="#8af5f7" stroke-width="0.95"/>
<line x1="272.6" y1="584.2" x2="272.6" y2="658.15" stroke="#8af5f7" stroke-width="0.95"/>
<line x1="278.84" y1="584.2" x2="278.84" y2="658.15" stroke="#8af5f7" stroke-width="0.95"/>
<line x1="285.09" y1="644.25" x2="285.09" y2="657.06" stroke="#8af5f7" stroke-width="0.95"/>
<line x1="283.49" y1="644.25" x2="286.69" y2="644.25" stroke="#7eeff4" stroke-width="0.9"/>
<line x1="283.49" y1="657.06" x2="286.69" y2="657.06" stroke="#7eeff4" stroke-width="0.9"/>
<line x1="291.34" y1="643.28" x2="291.34" y2="653.96" stroke="#8af5f7" stroke-width="0.95"/>
<line x1="289.74" y1="643.28" x2="292.94" y2="643.28" stroke="#7eeff4" stroke-width="0.9"/>
<line x1="289.74" y1="653.96" x2="292.94" y2="653.96" stroke="#7eeff4" stroke-width="0.9"/>
<line x1="297.59" y1="644.25" x2="297.59" y2="652.99" stroke="#8af5f7" stroke-width="0.95"/>
<line x1="295.99" y1="644.25" x2="299.19" y2="644.25" stroke="#7eeff4" stroke-width="0.9"/>
<line x1="295.99" y1="652.99" x2="299.19" y2="652.99" stroke="#7eeff4" stroke-width="0.9"/>
<line x1="303.83" y1="645.22" x2="303.83" y2="652.01" stroke="#8af5f7" stroke-width="0.95"/>
<line x1="302.23" y1="645.22" x2="305.43" y2="645.22" stroke="#7eeff4" stroke-width="0.9"/>
<line x1="302.23" y1="652.01" x2="305.43" y2="652.01" stroke="#7eeff4" stroke-width="0.9"/>
<line x1="310.08" y1="646.19" x2="310.08" y2="651.04" stroke="#8af5f7" stroke-width="0.95"/>
<line x1="308.48" y1="646.19" x2="311.68" y2="646.19" stroke="#7eeff4" stroke-width="0.9"/>
<line x1="308.48" y1="651.04" x2="311.68" y2="651.04" stroke="#7eeff4" stroke-width="0.9"/>
<line x1="316.33" y1="646.19" x2="316.33" y2="651.04" stroke="#8af5f7" stroke-width="0.95"/>
<line x1="314.73" y1="646.19" x2="317.93" y2="646.19" stroke="#7eeff4" stroke-width="0.9"/>
<line x1="314.73" y1="651.04" x2="317.93" y2="651.04" stroke="#7eeff4" stroke-width="0.9"/>
<line x1="252.05" y1="628.33" x2="255.65" y2="628.33" stroke="#f59af5" stroke-width="0.9"/>
<line x1="258.3" y1="631.63" x2="261.9" y2="631.63" stroke="#f59af5" stroke-width="0.9"/>
<line x1="264.55" y1="624.83" x2="268.15" y2="624.83" stroke="#f59af5" stroke-width="0.9"/>
<line x1="270.8" y1="621.92" x2="274.4" y2="621.92" stroke="#f59af5" stroke-width="0.9"/>
<line x1="283.29" y1="644.25" x2="286.89" y2="644.25" stroke="#7eeff4" stroke-width="0.9"/>
<line x1="289.54" y1="643.28" x2="293.14" y2="643.28" stroke="#7eeff4" stroke-width="0.9"/>
<line x1="295.79" y1="644.25" x2="299.39" y2="644.25" stroke="#7eeff4" stroke-width="0.9"/>
<line x1="302.03" y1="645.22" x2="305.63" y2="645.22" stroke="#7eeff4" stroke-width="0.9"/>
<line x1="308.28" y1="646.19" x2="311.88" y2="646.19" stroke="#7eeff4" stroke-width="0.9"/>
<line x1="314.53" y1="646.19" x2="318.13" y2="646.19" stroke="#7eeff4" stroke-width="0.9"/>
<path d="M203.32,630.66 L213.42,619.01 L223.12,607.36 L228.95,600.56 L232.83,644.25 L234.77,655.9" stroke="#00f0f0" stroke-width="1.0" stroke-dasharray="2.6,2.1" stroke-linejoin="round"/>
<path d="M240.6,640.36 L247.39,624.83 L252.25,615.12" stroke="#00f0f0" stroke-width="1.0" stroke-dasharray="2.6,2.1" stroke-linejoin="round"/>
<path d="M203.32,597.65 L209.53,590.85 L215.36,587.55 L218.27,615.12 L222.74,648.13 L228.95,630.66 L234.77,620.95 L240.6,611.24 L246.42,595.71" stroke="#ff00ff" stroke-width="1.0" stroke-dasharray="2.6,2.1" stroke-linejoin="round"/>
<path d="M203.32,633.76 L223.12,631.05 L234.77,629.1 L240.6,630.66 L247.39,625.8 L253.22,615.12 L265.84,596.68 L277.49,587.94 L281.37,654.93" stroke="#00f0f0" stroke-width="0.85" stroke-dasharray="3.5,1,1,1" stroke-linejoin="round"/>
<path d="M203.32,599.2 L223.12,600.56 L234.77,599.59 L240.6,597.26 L247.39,591.82 L252.25,646.19 L259.63,640.75 L272.25,626.39 L284.67,618.04 L316.32,613.18" stroke="#ff00ff" stroke-width="0.85" stroke-dasharray="3.5,1,1,1" stroke-linejoin="round"/>
<path d="M203.32,632.6 L213.42,631.63 L223.12,629.69 L234.77,627.74 L240.6,629.69 L247.39,624.83 L253.22,614.15 L259.63,603.47 L265.84,595.71 L272.25,589.49 L278.46,586.97 L282.34,655.9" stroke="#00f0f0" stroke-width="1.0" stroke-linejoin="round"/>
<path d="M282.34,655.9 C282.73,655.41 283.22,653.79 284.67,652.99 C286.13,652.18 288.98,651.59 291.08,651.04 C293.18,650.49 295.19,650.01 297.29,649.68 C299.4,649.36 301.56,649.3 303.7,649.1 C305.84,648.91 308,648.62 310.11,648.52 C312.21,648.42 315.29,648.52 316.32,648.52" stroke="#00f0f0" stroke-width="1.0" stroke-linejoin="round"/>
<path d="M203.32,598.04 L213.42,598.62 L223.12,599.2 L234.77,598.62 L240.6,595.71 L246.42,587.94 L253.22,648.13" stroke="#ff00ff" stroke-width="1.0" stroke-linejoin="round"/>
<path d="M253.22,648.13 C254.29,647 257.52,643.92 259.63,641.34 C261.73,638.75 263.74,635.03 265.84,632.6 C267.94,630.17 270.14,628.55 272.25,626.77 C274.35,624.99 276.39,623.38 278.46,621.92 C280.53,620.46 282.57,619.1 284.67,618.04 C286.78,616.97 288.98,616.09 291.08,615.51 C293.18,614.93 295.19,614.83 297.29,614.54 C299.4,614.25 301.56,613.96 303.7,613.76 C305.84,613.57 308,613.47 310.11,613.38 C312.21,613.28 315.29,613.21 316.32,613.18" stroke="#ff00ff" stroke-width="1.0" stroke-linejoin="round"/>
</g>
<path d="M202.52,598.78 L205.22,598.78 L203.87,596.09 Z" fill="#d010d0" stroke="#2a1a2a" stroke-width="0.55"/>
<path d="M208.77,591.41 L211.47,591.41 L210.12,588.71 Z" fill="#d010d0" stroke="#2a1a2a" stroke-width="0.55"/>
<path d="M215.02,643.83 L217.72,643.83 L216.37,641.14 Z" fill="#d010d0" stroke="#2a1a2a" stroke-width="0.55"/>
<path d="M221.26,628.88 L223.96,628.88 L222.61,626.19 Z" fill="#d010d0" stroke="#2a1a2a" stroke-width="0.55"/>
<path d="M227.51,600.34 L230.21,600.34 L228.86,597.64 Z" fill="#d010d0" stroke="#2a1a2a" stroke-width="0.55"/>
<path d="M233.76,641.89 L236.46,641.89 L235.11,639.19 Z" fill="#d010d0" stroke="#2a1a2a" stroke-width="0.55"/>
<path d="M240.01,616.84 L242.71,616.84 L241.36,614.15 Z" fill="#d010d0" stroke="#2a1a2a" stroke-width="0.55"/>
<path d="M246.25,597.23 L248.95,597.23 L247.6,594.54 Z" fill="#d010d0" stroke="#2a1a2a" stroke-width="0.55"/>
<path d="M252.5,650.24 L255.2,650.24 L253.85,647.54 Z" fill="#d010d0" stroke="#2a1a2a" stroke-width="0.55"/>
<path d="M258.75,641.89 L261.45,641.89 L260.1,639.19 Z" fill="#d010d0" stroke="#2a1a2a" stroke-width="0.55"/>
<path d="M265,633.73 L267.7,633.73 L266.35,631.04 Z" fill="#d010d0" stroke="#2a1a2a" stroke-width="0.55"/>
<path d="M271.25,626.94 L273.95,626.94 L272.6,624.24 Z" fill="#d010d0" stroke="#2a1a2a" stroke-width="0.55"/>
<path d="M277.49,622.08 L280.19,622.08 L278.84,619.39 Z" fill="#d010d0" stroke="#2a1a2a" stroke-width="0.55"/>
<path d="M283.74,619.17 L286.44,619.17 L285.09,616.48 Z" fill="#d010d0" stroke="#2a1a2a" stroke-width="0.55"/>
<path d="M289.99,616.65 L292.69,616.65 L291.34,613.95 Z" fill="#d010d0" stroke="#2a1a2a" stroke-width="0.55"/>
<path d="M296.24,615.68 L298.94,615.68 L297.59,612.98 Z" fill="#d010d0" stroke="#2a1a2a" stroke-width="0.55"/>
<path d="M302.48,614.9 L305.18,614.9 L303.83,612.21 Z" fill="#d010d0" stroke="#2a1a2a" stroke-width="0.55"/>
<path d="M308.73,614.51 L311.43,614.51 L310.08,611.82 Z" fill="#d010d0" stroke="#2a1a2a" stroke-width="0.55"/>
<path d="M314.98,614.32 L317.68,614.32 L316.33,611.62 Z" fill="#d010d0" stroke="#2a1a2a" stroke-width="0.55"/>
<path d="M202.52,627.58 L205.22,627.58 L203.87,630.27 Z" fill="#10c8c8" stroke="#1a2a2a" stroke-width="0.55"/>
<path d="M208.77,605.84 L211.47,605.84 L210.12,608.53 Z" fill="#10c8c8" stroke="#1a2a2a" stroke-width="0.55"/>
<path d="M215.02,610.5 L217.72,610.5 L216.37,613.19 Z" fill="#10c8c8" stroke="#1a2a2a" stroke-width="0.55"/>
<path d="M221.26,591.08 L223.96,591.08 L222.61,593.77 Z" fill="#10c8c8" stroke="#1a2a2a" stroke-width="0.55"/>
<path d="M227.51,635.74 L230.21,635.74 L228.86,638.43 Z" fill="#10c8c8" stroke="#1a2a2a" stroke-width="0.55"/>
<path d="M233.76,605.25 L236.46,605.25 L235.11,607.95 Z" fill="#10c8c8" stroke="#1a2a2a" stroke-width="0.55"/>
<path d="M240.01,647.97 L242.71,647.97 L241.36,650.66 Z" fill="#10c8c8" stroke="#1a2a2a" stroke-width="0.55"/>
<path d="M246.25,626.61 L248.95,626.61 L247.6,629.3 Z" fill="#10c8c8" stroke="#1a2a2a" stroke-width="0.55"/>
<path d="M252.5,613.02 L255.2,613.02 L253.85,615.71 Z" fill="#10c8c8" stroke="#1a2a2a" stroke-width="0.55"/>
<path d="M258.75,602.34 L261.45,602.34 L260.1,605.03 Z" fill="#10c8c8" stroke="#1a2a2a" stroke-width="0.55"/>
<path d="M265,594.19 L267.7,594.19 L266.35,596.88 Z" fill="#10c8c8" stroke="#1a2a2a" stroke-width="0.55"/>
<path d="M271.25,588.36 L273.95,588.36 L272.6,591.05 Z" fill="#10c8c8" stroke="#1a2a2a" stroke-width="0.55"/>
<path d="M277.49,653.79 L280.19,653.79 L278.84,656.49 Z" fill="#10c8c8" stroke="#1a2a2a" stroke-width="0.55"/>
<path d="M283.74,651.85 L286.44,651.85 L285.09,654.54 Z" fill="#10c8c8" stroke="#1a2a2a" stroke-width="0.55"/>
<path d="M289.99,649.91 L292.69,649.91 L291.34,652.6 Z" fill="#10c8c8" stroke="#1a2a2a" stroke-width="0.55"/>
<path d="M296.24,648.55 L298.94,648.55 L297.59,651.24 Z" fill="#10c8c8" stroke="#1a2a2a" stroke-width="0.55"/>
<path d="M302.48,647.97 L305.18,647.97 L303.83,650.66 Z" fill="#10c8c8" stroke="#1a2a2a" stroke-width="0.55"/>
<path d="M308.73,647.39 L311.43,647.39 L310.08,650.08 Z" fill="#10c8c8" stroke="#1a2a2a" stroke-width="0.55"/>
<path d="M314.98,647.39 L317.68,647.39 L316.33,650.08 Z" fill="#10c8c8" stroke="#1a2a2a" stroke-width="0.55"/>
<rect x="33.5" y="481.1" width="132.3" height="105.1" fill="none" stroke="#262626" stroke-width="1.1"/>
<line x1="61.85" y1="481.1" x2="61.85" y2="478.1" stroke="#262626" stroke-width="1.2"/>
<line x1="99.65" y1="481.1" x2="99.65" y2="478.1" stroke="#262626" stroke-width="1.2"/>
<line x1="137.45" y1="481.1" x2="137.45" y2="478.1" stroke="#262626" stroke-width="1.2"/>
<line x1="33.5" y1="586.2" x2="30.5" y2="586.2" stroke="#262626" stroke-width="1.2"/>
<line x1="165.8" y1="586.2" x2="168.8" y2="586.2" stroke="#262626" stroke-width="1.2"/>
<line x1="33.5" y1="559.93" x2="30.5" y2="559.93" stroke="#262626" stroke-width="1.2"/>
<line x1="165.8" y1="559.93" x2="168.8" y2="559.93" stroke="#262626" stroke-width="1.2"/>
<line x1="33.5" y1="533.65" x2="30.5" y2="533.65" stroke="#262626" stroke-width="1.2"/>
<line x1="165.8" y1="533.65" x2="168.8" y2="533.65" stroke="#262626" stroke-width="1.2"/>
<line x1="33.5" y1="507.38" x2="30.5" y2="507.38" stroke="#262626" stroke-width="1.2"/>
<line x1="165.8" y1="507.38" x2="168.8" y2="507.38" stroke="#262626" stroke-width="1.2"/>
<line x1="33.5" y1="481.1" x2="30.5" y2="481.1" stroke="#262626" stroke-width="1.2"/>
<line x1="165.8" y1="481.1" x2="168.8" y2="481.1" stroke="#262626" stroke-width="1.2"/>
<text x="28.1" y="588.9" font-size="8.5" text-anchor="end" font-family='"Liberation Sans", sans-serif' fill="#262626" >1.5</text>
<text x="28.1" y="562.63" font-size="8.5" text-anchor="end" font-family='"Liberation Sans", sans-serif' fill="#262626" >2</text>
<text x="28.1" y="536.35" font-size="8.5" text-anchor="end" font-family='"Liberation Sans", sans-serif' fill="#262626" >2.5</text>
<text x="28.1" y="510.07" font-size="8.5" text-anchor="end" font-family='"Liberation Sans", sans-serif' fill="#262626" >3</text>
<text x="28.1" y="483.8" font-size="8.5" text-anchor="end" font-family='"Liberation Sans", sans-serif' fill="#262626" >3.5</text>
<rect x="33.5" y="586.2" width="132.3" height="69.95" fill="none" stroke="#262626" stroke-width="1.1"/>
<line x1="61.85" y1="656.15" x2="61.85" y2="659.15" stroke="#262626" stroke-width="1.2"/>
<line x1="99.65" y1="656.15" x2="99.65" y2="659.15" stroke="#262626" stroke-width="1.2"/>
<line x1="137.45" y1="656.15" x2="137.45" y2="659.15" stroke="#262626" stroke-width="1.2"/>
<line x1="33.5" y1="656.15" x2="30.5" y2="656.15" stroke="#262626" stroke-width="1.2"/>
<line x1="165.8" y1="656.15" x2="168.8" y2="656.15" stroke="#262626" stroke-width="1.2"/>
<line x1="33.5" y1="630.71" x2="30.5" y2="630.71" stroke="#262626" stroke-width="1.2"/>
<line x1="165.8" y1="630.71" x2="168.8" y2="630.71" stroke="#262626" stroke-width="1.2"/>
<line x1="33.5" y1="605.28" x2="30.5" y2="605.28" stroke="#262626" stroke-width="1.2"/>
<line x1="165.8" y1="605.28" x2="168.8" y2="605.28" stroke="#262626" stroke-width="1.2"/>
<text x="28.1" y="658.85" font-size="8.5" text-anchor="end" font-family='"Liberation Sans", sans-serif' fill="#262626" >20</text>
<text x="28.1" y="633.41" font-size="8.5" text-anchor="end" font-family='"Liberation Sans", sans-serif' fill="#262626" >40</text>
<text x="28.1" y="607.98" font-size="8.5" text-anchor="end" font-family='"Liberation Sans", sans-serif' fill="#262626" >60</text>
<text x="61.85" y="670.15" font-size="8.5" text-anchor="middle" font-family='"Liberation Sans", sans-serif' fill="#262626" >-2</text>
<text x="99.65" y="670.15" font-size="8.5" text-anchor="middle" font-family='"Liberation Sans", sans-serif' fill="#262626" >0</text>
<text x="137.45" y="670.15" font-size="8.5" text-anchor="middle" font-family='"Liberation Sans", sans-serif' fill="#262626" >2</text>
<rect x="194.5" y="481.1" width="131.2" height="105.1" fill="none" stroke="#262626" stroke-width="1.1"/>
<line x1="222.61" y1="481.1" x2="222.61" y2="478.1" stroke="#262626" stroke-width="1.2"/>
<line x1="260.1" y1="481.1" x2="260.1" y2="478.1" stroke="#262626" stroke-width="1.2"/>
<line x1="297.59" y1="481.1" x2="297.59" y2="478.1" stroke="#262626" stroke-width="1.2"/>
<line x1="194.5" y1="586.2" x2="191.5" y2="586.2" stroke="#262626" stroke-width="1.2"/>
<line x1="325.7" y1="586.2" x2="328.7" y2="586.2" stroke="#262626" stroke-width="1.2"/>
<line x1="194.5" y1="559.93" x2="191.5" y2="559.93" stroke="#262626" stroke-width="1.2"/>
<line x1="325.7" y1="559.93" x2="328.7" y2="559.93" stroke="#262626" stroke-width="1.2"/>
<line x1="194.5" y1="533.65" x2="191.5" y2="533.65" stroke="#262626" stroke-width="1.2"/>
<line x1="325.7" y1="533.65" x2="328.7" y2="533.65" stroke="#262626" stroke-width="1.2"/>
<line x1="194.5" y1="507.38" x2="191.5" y2="507.38" stroke="#262626" stroke-width="1.2"/>
<line x1="325.7" y1="507.38" x2="328.7" y2="507.38" stroke="#262626" stroke-width="1.2"/>
<line x1="194.5" y1="481.1" x2="191.5" y2="481.1" stroke="#262626" stroke-width="1.2"/>
<line x1="325.7" y1="481.1" x2="328.7" y2="481.1" stroke="#262626" stroke-width="1.2"/>
<text x="189.1" y="588.9" font-size="8.5" text-anchor="end" font-family='"Liberation Sans", sans-serif' fill="#262626" >-6</text>
<text x="189.1" y="562.63" font-size="8.5" text-anchor="end" font-family='"Liberation Sans", sans-serif' fill="#262626" >-4</text>
<text x="189.1" y="536.35" font-size="8.5" text-anchor="end" font-family='"Liberation Sans", sans-serif' fill="#262626" >-2</text>
<text x="189.1" y="510.07" font-size="8.5" text-anchor="end" font-family='"Liberation Sans", sans-serif' fill="#262626" >0</text>
<text x="189.1" y="483.8" font-size="8.5" text-anchor="end" font-family='"Liberation Sans", sans-serif' fill="#262626" >2</text>
<rect x="194.5" y="586.2" width="131.2" height="69.95" fill="none" stroke="#262626" stroke-width="1.1"/>
<line x1="222.61" y1="656.15" x2="222.61" y2="659.15" stroke="#262626" stroke-width="1.2"/>
<line x1="260.1" y1="656.15" x2="260.1" y2="659.15" stroke="#262626" stroke-width="1.2"/>
<line x1="297.59" y1="656.15" x2="297.59" y2="659.15" stroke="#262626" stroke-width="1.2"/>
<line x1="194.5" y1="640.61" x2="191.5" y2="640.61" stroke="#262626" stroke-width="1.2"/>
<line x1="325.7" y1="640.61" x2="328.7" y2="640.61" stroke="#262626" stroke-width="1.2"/>
<line x1="194.5" y1="621.18" x2="191.5" y2="621.18" stroke="#262626" stroke-width="1.2"/>
<line x1="325.7" y1="621.18" x2="328.7" y2="621.18" stroke="#262626" stroke-width="1.2"/>
<line x1="194.5" y1="601.74" x2="191.5" y2="601.74" stroke="#262626" stroke-width="1.2"/>
<line x1="325.7" y1="601.74" x2="328.7" y2="601.74" stroke="#262626" stroke-width="1.2"/>
<text x="189.1" y="643.31" font-size="8.5" text-anchor="end" font-family='"Liberation Sans", sans-serif' fill="#262626" >-100</text>
<text x="189.1" y="623.88" font-size="8.5" text-anchor="end" font-family='"Liberation Sans", sans-serif' fill="#262626" >0</text>
<text x="189.1" y="604.44" font-size="8.5" text-anchor="end" font-family='"Liberation Sans", sans-serif' fill="#262626" >100</text>
<text x="222.61" y="670.15" font-size="8.5" text-anchor="middle" font-family='"Liberation Sans", sans-serif' fill="#262626" >-2</text>
<text x="260.1" y="670.15" font-size="8.5" text-anchor="middle" font-family='"Liberation Sans", sans-serif' fill="#262626" >0</text>
<text x="297.59" y="670.15" font-size="8.5" text-anchor="middle" font-family='"Liberation Sans", sans-serif' fill="#262626" >2</text>
<text x="99.65" y="680.95" font-size="9.6" text-anchor="middle" font-family='"Liberation Sans", sans-serif' fill="#262626">log<tspan font-size="8.5" dy="3.3">10</tspan><tspan dy="-3.3">( Period ) [s]</tspan></text>
<text x="260.1" y="680.95" font-size="9.6" text-anchor="middle" font-family='"Liberation Sans", sans-serif' fill="#262626">log<tspan font-size="8.5" dy="3.3">10</tspan><tspan dy="-3.3">( Period ) [s]</tspan></text>
<text transform="translate(8.7,535.05) rotate(-90)" x="0" y="0" font-size="9.9" text-anchor="middle" font-family='"Liberation Sans", sans-serif' fill="#262626">log<tspan font-size="7.2" dy="2.6">10</tspan><tspan dy="-2.6">( </tspan><tspan font-family='"Liberation Serif", serif' font-style="italic">ρ</tspan><tspan font-size="7.2" dy="2.6">app</tspan><tspan dy="-2.6"> ) [Ωm]</tspan></text>
<text transform="translate(15.1,621.18) rotate(-90)" x="0" y="0" font-size="9.85" text-anchor="middle" font-family='"Liberation Sans", sans-serif' fill="#262626">Phase [°]</text>
<text x="138.3" y="470.8" font-size="12.9" font-weight="bold" font-family='"Liberation Serif", serif' fill="#111">(d) Station S<tspan font-size="9" dy="2.5">4</tspan></text>
<line x1="420.93" y1="481.3" x2="420.93" y2="586.4" stroke="#d0d0d0" stroke-width="0.75"/>
<line x1="458.7" y1="481.3" x2="458.7" y2="586.4" stroke="#d0d0d0" stroke-width="0.75"/>
<line x1="496.47" y1="481.3" x2="496.47" y2="586.4" stroke="#d0d0d0" stroke-width="0.75"/>
<line x1="392.6" y1="560.12" x2="524.8" y2="560.12" stroke="#d0d0d0" stroke-width="0.75"/>
<line x1="392.6" y1="533.85" x2="524.8" y2="533.85" stroke="#d0d0d0" stroke-width="0.75"/>
<line x1="392.6" y1="507.57" x2="524.8" y2="507.57" stroke="#d0d0d0" stroke-width="0.75"/>
<line x1="420.93" y1="586.4" x2="420.93" y2="656.35" stroke="#d0d0d0" stroke-width="0.75"/>
<line x1="458.7" y1="586.4" x2="458.7" y2="656.35" stroke="#d0d0d0" stroke-width="0.75"/>
<line x1="496.47" y1="586.4" x2="496.47" y2="656.35" stroke="#d0d0d0" stroke-width="0.75"/>
<line x1="392.6" y1="630.91" x2="524.8" y2="630.91" stroke="#d0d0d0" stroke-width="0.75"/>
<line x1="392.6" y1="605.48" x2="524.8" y2="605.48" stroke="#d0d0d0" stroke-width="0.75"/>
<line x1="578.63" y1="481.3" x2="578.63" y2="586.4" stroke="#d0d0d0" stroke-width="0.75"/>
<line x1="616" y1="481.3" x2="616" y2="586.4" stroke="#d0d0d0" stroke-width="0.75"/>
<line x1="653.37" y1="481.3" x2="653.37" y2="586.4" stroke="#d0d0d0" stroke-width="0.75"/>
<line x1="550.6" y1="560.12" x2="681.4" y2="560.12" stroke="#d0d0d0" stroke-width="0.75"/>
<line x1="550.6" y1="533.85" x2="681.4" y2="533.85" stroke="#d0d0d0" stroke-width="0.75"/>
<line x1="550.6" y1="507.57" x2="681.4" y2="507.57" stroke="#d0d0d0" stroke-width="0.75"/>
<line x1="578.63" y1="586.4" x2="578.63" y2="656.35" stroke="#d0d0d0" stroke-width="0.75"/>
<line x1="616" y1="586.4" x2="616" y2="656.35" stroke="#d0d0d0" stroke-width="0.75"/>
<line x1="653.37" y1="586.4" x2="653.37" y2="656.35" stroke="#d0d0d0" stroke-width="0.75"/>
<line x1="550.6" y1="640.81" x2="681.4" y2="640.81" stroke="#d0d0d0" stroke-width="0.75"/>
<line x1="550.6" y1="621.38" x2="681.4" y2="621.38" stroke="#d0d0d0" stroke-width="0.75"/>
<line x1="550.6" y1="601.94" x2="681.4" y2="601.94" stroke="#d0d0d0" stroke-width="0.75"/>
<clipPath id="c17"><rect x="392.6" y="481.3" width="132.2" height="105.1"/></clipPath>
<g clip-path="url(#c17)" fill="none">
<path d="M401.39,534.6 C406.67,534.53 426.66,534.11 433.08,534.21 C439.5,534.31 437.71,534.76 439.93,535.19 C442.14,535.61 444.26,536.65 446.38,536.75 C448.5,536.85 450.62,536.59 452.64,535.77 C454.66,534.96 456.49,533.36 458.51,531.86 C460.53,530.36 462.65,528.5 464.77,526.78 C466.89,525.05 469.11,523.03 471.23,521.49 C473.35,519.96 475.37,518.79 477.49,517.58 C479.61,516.37 481.89,515.17 483.94,514.26 C486,513.34 487.69,512.69 489.81,512.1 C491.93,511.52 494.54,511.06 496.66,510.73 C498.78,510.41 500.47,510.31 502.53,510.15 C504.58,509.98 506.86,509.89 508.98,509.76 C511.1,509.63 514.2,509.43 515.24,509.36" stroke="#ff0000" stroke-width="1.0" stroke-dasharray="2.6,2.1" stroke-linejoin="round"/>
<path d="M401.39,534.21 C406.67,534.14 426.66,533.72 433.08,533.82 C439.5,533.92 437.71,534.37 439.93,534.8 C442.14,535.22 444.26,536.26 446.38,536.36 C448.5,536.46 450.62,536.2 452.64,535.38 C454.66,534.57 456.49,532.97 458.51,531.47 C460.53,529.97 462.65,528.11 464.77,526.38 C466.89,524.66 469.11,522.63 471.23,521.1 C473.35,519.57 475.37,518.4 477.49,517.19 C479.61,515.98 481.89,514.78 483.94,513.86 C486,512.95 487.69,512.3 489.81,511.71 C491.93,511.13 494.54,510.67 496.66,510.34 C498.78,510.02 500.47,509.92 502.53,509.76 C504.58,509.59 506.86,509.5 508.98,509.36 C511.1,509.23 514.2,509.04 515.24,508.97" stroke="#ff0000" stroke-width="1.1" stroke-linejoin="round"/>
<path d="M401.39,535.11 C406.67,535.04 426.66,534.62 433.08,534.72 C439.5,534.82 437.71,535.27 439.93,535.7 C442.14,536.12 444.26,537.16 446.38,537.26 C448.5,537.36 450.62,537.1 452.64,536.28 C454.66,535.47 456.49,533.87 458.51,532.37 C460.53,530.87 462.65,529.01 464.77,527.28 C466.89,525.56 469.11,523.53 471.23,522 C473.35,520.47 475.37,519.3 477.49,518.09 C479.61,516.88 481.89,515.68 483.94,514.76 C486,513.85 487.69,513.2 489.81,512.61 C491.93,512.03 494.54,511.57 496.66,511.24 C498.78,510.92 500.47,510.82 502.53,510.66 C504.58,510.49 506.86,510.4 508.98,510.26 C511.1,510.13 514.2,509.94 515.24,509.87" stroke="#ff0000" stroke-width="0.6" stroke-dasharray="3,1.2,0.8,1.2"/>
<path d="M401.39,534.01 C406.67,533.95 426.66,533.52 433.08,533.62 C439.5,533.72 437.71,534.18 439.93,534.6 C442.14,535.02 444.26,536.07 446.38,536.16 C448.5,536.26 450.62,536 452.64,535.19 C454.66,534.37 456.49,532.77 458.51,531.27 C460.53,529.77 462.65,527.92 464.77,526.19 C466.89,524.46 469.11,522.44 471.23,520.91 C473.35,519.37 475.37,518.2 477.49,516.99 C479.61,515.79 481.89,514.58 483.94,513.67 C486,512.76 487.69,512.1 489.81,511.52 C491.93,510.93 494.54,510.47 496.66,510.15 C498.78,509.82 500.47,509.72 502.53,509.56 C504.58,509.4 506.86,509.3 508.98,509.17 C511.1,509.04 514.2,508.84 515.24,508.78" stroke="#0000ff" stroke-width="1.0" stroke-dasharray="2.6,2.1" stroke-linejoin="round"/>
<path d="M401.39,534.4 C406.67,534.34 426.66,533.92 433.08,534.01 C439.5,534.11 437.71,534.57 439.93,534.99 C442.14,535.42 444.26,536.46 446.38,536.56 C448.5,536.65 450.62,536.39 452.64,535.58 C454.66,534.76 456.49,533.17 458.51,531.67 C460.53,530.17 462.65,528.31 464.77,526.58 C466.89,524.85 469.11,522.83 471.23,521.3 C473.35,519.77 475.37,518.59 477.49,517.39 C479.61,516.18 481.89,514.97 483.94,514.06 C486,513.15 487.69,512.49 489.81,511.91 C491.93,511.32 494.54,510.86 496.66,510.54 C498.78,510.21 500.47,510.11 502.53,509.95 C504.58,509.79 506.86,509.69 508.98,509.56 C511.1,509.43 514.2,509.23 515.24,509.17" stroke="#0000ff" stroke-width="1.1" stroke-linejoin="round"/>
<path d="M401.39,535.3 C406.67,535.24 426.66,534.82 433.08,534.91 C439.5,535.01 437.71,535.47 439.93,535.89 C442.14,536.32 444.26,537.36 446.38,537.46 C448.5,537.55 450.62,537.29 452.64,536.48 C454.66,535.66 456.49,534.07 458.51,532.57 C460.53,531.07 462.65,529.21 464.77,527.48 C466.89,525.75 469.11,523.73 471.23,522.2 C473.35,520.67 475.37,519.49 477.49,518.29 C479.61,517.08 481.89,515.87 483.94,514.96 C486,514.05 487.69,513.39 489.81,512.81 C491.93,512.22 494.54,511.76 496.66,511.44 C498.78,511.11 500.47,511.01 502.53,510.85 C504.58,510.69 506.86,510.59 508.98,510.46 C511.1,510.33 514.2,510.13 515.24,510.07" stroke="#0000ff" stroke-width="0.6" stroke-dasharray="3,1.2,0.8,1.2"/>
</g>
<path d="M400.79,534.95 L403.29,534.95 L402.04,532.46 Z" fill="#e00000" stroke="#2a0a0a" stroke-width="0.55"/>
<path d="M407.09,534.87 L409.59,534.87 L408.34,532.38 Z" fill="#e00000" stroke="#2a0a0a" stroke-width="0.55"/>
<path d="M413.38,534.8 L415.88,534.8 L414.63,532.3 Z" fill="#e00000" stroke="#2a0a0a" stroke-width="0.55"/>
<path d="M419.68,534.72 L422.18,534.72 L420.93,532.22 Z" fill="#e00000" stroke="#2a0a0a" stroke-width="0.55"/>
<path d="M425.97,534.64 L428.47,534.64 L427.22,532.15 Z" fill="#e00000" stroke="#2a0a0a" stroke-width="0.55"/>
<path d="M432.27,534.63 L434.77,534.63 L433.52,532.14 Z" fill="#e00000" stroke="#2a0a0a" stroke-width="0.55"/>
<path d="M438.56,535.53 L441.06,535.53 L439.81,533.04 Z" fill="#e00000" stroke="#2a0a0a" stroke-width="0.55"/>
<path d="M444.86,537.04 L447.36,537.04 L446.11,534.55 Z" fill="#e00000" stroke="#2a0a0a" stroke-width="0.55"/>
<path d="M451.15,536.17 L453.65,536.17 L452.4,533.68 Z" fill="#e00000" stroke="#2a0a0a" stroke-width="0.55"/>
<path d="M457.45,532.07 L459.95,532.07 L458.7,529.57 Z" fill="#e00000" stroke="#2a0a0a" stroke-width="0.55"/>
<path d="M463.75,526.95 L466.25,526.95 L465,524.46 Z" fill="#e00000" stroke="#2a0a0a" stroke-width="0.55"/>
<path d="M470.04,521.81 L472.54,521.81 L471.29,519.32 Z" fill="#e00000" stroke="#2a0a0a" stroke-width="0.55"/>
<path d="M476.34,517.89 L478.84,517.89 L477.59,515.39 Z" fill="#e00000" stroke="#2a0a0a" stroke-width="0.55"/>
<path d="M482.63,514.65 L485.13,514.65 L483.88,512.15 Z" fill="#e00000" stroke="#2a0a0a" stroke-width="0.55"/>
<path d="M488.93,512.39 L491.43,512.39 L490.18,509.9 Z" fill="#e00000" stroke="#2a0a0a" stroke-width="0.55"/>
<path d="M495.22,511.13 L497.72,511.13 L496.47,508.64 Z" fill="#e00000" stroke="#2a0a0a" stroke-width="0.55"/>
<path d="M501.52,510.49 L504.02,510.49 L502.77,508 Z" fill="#e00000" stroke="#2a0a0a" stroke-width="0.55"/>
<path d="M507.81,510.11 L510.31,510.11 L509.06,507.62 Z" fill="#e00000" stroke="#2a0a0a" stroke-width="0.55"/>
<path d="M514.11,509.72 L516.61,509.72 L515.36,507.23 Z" fill="#e00000" stroke="#2a0a0a" stroke-width="0.55"/>
<path d="M400.79,533.65 L403.29,533.65 L402.04,536.14 Z" fill="#0000e8" stroke="#0a0a30" stroke-width="0.55"/>
<path d="M407.09,533.57 L409.59,533.57 L408.34,536.06 Z" fill="#0000e8" stroke="#0a0a30" stroke-width="0.55"/>
<path d="M413.38,533.49 L415.88,533.49 L414.63,535.98 Z" fill="#0000e8" stroke="#0a0a30" stroke-width="0.55"/>
<path d="M419.68,533.41 L422.18,533.41 L420.93,535.91 Z" fill="#0000e8" stroke="#0a0a30" stroke-width="0.55"/>
<path d="M425.97,533.34 L428.47,533.34 L427.22,535.83 Z" fill="#0000e8" stroke="#0a0a30" stroke-width="0.55"/>
<path d="M432.27,533.33 L434.77,533.33 L433.52,535.82 Z" fill="#0000e8" stroke="#0a0a30" stroke-width="0.55"/>
<path d="M438.56,534.23 L441.06,534.23 L439.81,536.72 Z" fill="#0000e8" stroke="#0a0a30" stroke-width="0.55"/>
<path d="M444.86,535.74 L447.36,535.74 L446.11,538.23 Z" fill="#0000e8" stroke="#0a0a30" stroke-width="0.55"/>
<path d="M451.15,534.87 L453.65,534.87 L452.4,537.36 Z" fill="#0000e8" stroke="#0a0a30" stroke-width="0.55"/>
<path d="M457.45,530.76 L459.95,530.76 L458.7,533.26 Z" fill="#0000e8" stroke="#0a0a30" stroke-width="0.55"/>
<path d="M463.75,525.65 L466.25,525.65 L465,528.14 Z" fill="#0000e8" stroke="#0a0a30" stroke-width="0.55"/>
<path d="M470.04,520.51 L472.54,520.51 L471.29,523 Z" fill="#0000e8" stroke="#0a0a30" stroke-width="0.55"/>
<path d="M476.34,516.58 L478.84,516.58 L477.59,519.08 Z" fill="#0000e8" stroke="#0a0a30" stroke-width="0.55"/>
<path d="M482.63,513.34 L485.13,513.34 L483.88,515.83 Z" fill="#0000e8" stroke="#0a0a30" stroke-width="0.55"/>
<path d="M488.93,511.08 L491.43,511.08 L490.18,513.58 Z" fill="#0000e8" stroke="#0a0a30" stroke-width="0.55"/>
<path d="M495.22,509.83 L497.72,509.83 L496.47,512.32 Z" fill="#0000e8" stroke="#0a0a30" stroke-width="0.55"/>
<path d="M501.52,509.19 L504.02,509.19 L502.77,511.68 Z" fill="#0000e8" stroke="#0a0a30" stroke-width="0.55"/>
<path d="M507.81,508.81 L510.31,508.81 L509.06,511.3 Z" fill="#0000e8" stroke="#0a0a30" stroke-width="0.55"/>
<path d="M514.11,508.42 L516.61,508.42 L515.36,510.91 Z" fill="#0000e8" stroke="#0a0a30" stroke-width="0.55"/>
<clipPath id="c18"><rect x="392.6" y="586.4" width="132.2" height="69.95"/></clipPath>
<g clip-path="url(#c18)" fill="none">
<path d="M401.39,623.56 C404.72,623.56 415.08,623.72 421.34,623.56 C427.6,623.4 434.87,622.19 438.95,622.58 C443.02,622.97 443.58,624.37 445.8,625.91 C448.01,627.44 450.13,630.15 452.25,631.78 C454.37,633.41 456.42,634.81 458.51,635.69 C460.6,636.57 462.65,636.96 464.77,637.06 C466.89,637.15 469.11,636.73 471.23,636.27 C473.35,635.82 475.37,635 477.49,634.32 C479.61,633.63 481.89,632.92 483.94,632.17 C486,631.42 487.69,630.54 489.81,629.82 C491.93,629.1 494.54,628.42 496.66,627.86 C498.78,627.31 500.47,626.82 502.53,626.49 C504.58,626.17 506.86,625.91 508.98,625.91 C511.1,625.91 514.2,626.4 515.24,626.49" stroke="#ff0000" stroke-width="1.0" stroke-dasharray="2.6,2.1" stroke-linejoin="round"/>
<path d="M401.39,623.75 C404.72,623.75 415.08,623.92 421.34,623.75 C427.6,623.59 434.87,622.39 438.95,622.78 C443.02,623.17 443.58,624.57 445.8,626.1 C448.01,627.63 450.13,630.34 452.25,631.97 C454.37,633.6 456.42,635 458.51,635.88 C460.6,636.76 462.65,637.15 464.77,637.25 C466.89,637.35 469.11,636.93 471.23,636.47 C473.35,636.01 475.37,635.2 477.49,634.51 C479.61,633.83 481.89,633.11 483.94,632.36 C486,631.61 487.69,630.73 489.81,630.01 C491.93,629.3 494.54,628.61 496.66,628.06 C498.78,627.5 500.47,627.02 502.53,626.69 C504.58,626.36 506.86,626.1 508.98,626.1 C511.1,626.1 514.2,626.59 515.24,626.69" stroke="#ff0000" stroke-width="1.1" stroke-linejoin="round"/>
<path d="M401.39,624.65 C404.72,624.65 415.08,624.82 421.34,624.65 C427.6,624.49 434.87,623.29 438.95,623.68 C443.02,624.07 443.58,625.47 445.8,627 C448.01,628.53 450.13,631.24 452.25,632.87 C454.37,634.5 456.42,635.9 458.51,636.78 C460.6,637.66 462.65,638.05 464.77,638.15 C466.89,638.25 469.11,637.83 471.23,637.37 C473.35,636.91 475.37,636.1 477.49,635.41 C479.61,634.73 481.89,634.01 483.94,633.26 C486,632.51 487.69,631.63 489.81,630.91 C491.93,630.2 494.54,629.51 496.66,628.96 C498.78,628.4 500.47,627.92 502.53,627.59 C504.58,627.26 506.86,627 508.98,627 C511.1,627 514.2,627.49 515.24,627.59" stroke="#ff0000" stroke-width="0.6" stroke-dasharray="3,1.2,0.8,1.2"/>
<path d="M401.39,623.17 C404.72,623.27 415.08,623.82 421.34,623.75 C427.6,623.69 434.87,622.39 438.95,622.78 C443.02,623.17 443.58,624.47 445.8,626.1 C448.01,627.73 450.13,630.83 452.25,632.56 C454.37,634.29 456.42,635.69 458.51,636.47 C460.6,637.25 462.65,637.25 464.77,637.25 C466.89,637.25 469.11,636.93 471.23,636.47 C473.35,636.01 475.37,635.1 477.49,634.51 C479.61,633.93 480.75,633.93 483.94,632.95 C487.14,631.97 492.48,629.23 496.66,628.65 C500.83,628.06 505.88,628.87 508.98,629.43 C512.08,629.98 514.2,631.55 515.24,631.97" stroke="#0000ff" stroke-width="1.0" stroke-dasharray="2.6,2.1" stroke-linejoin="round"/>
<path d="M401.39,624.15 C404.72,624.15 415.08,624.31 421.34,624.15 C427.6,623.98 434.87,622.78 438.95,623.17 C443.02,623.56 443.58,624.96 445.8,626.49 C448.01,628.03 450.13,630.73 452.25,632.36 C454.37,633.99 456.42,635.39 458.51,636.27 C460.6,637.15 462.65,637.55 464.77,637.64 C466.89,637.74 469.11,637.32 471.23,636.86 C473.35,636.4 475.37,635.59 477.49,634.91 C479.61,634.22 481.89,633.5 483.94,632.75 C486,632 487.69,631.12 489.81,630.41 C491.93,629.69 494.54,629 496.66,628.45 C498.78,627.9 500.47,627.41 502.53,627.08 C504.58,626.75 506.86,626.49 508.98,626.49 C511.1,626.49 514.2,626.98 515.24,627.08" stroke="#0000ff" stroke-width="1.1" stroke-linejoin="round"/>
<path d="M401.39,625.05 C404.72,625.05 415.08,625.21 421.34,625.05 C427.6,624.88 434.87,623.68 438.95,624.07 C443.02,624.46 443.58,625.86 445.8,627.39 C448.01,628.93 450.13,631.63 452.25,633.26 C454.37,634.89 456.42,636.29 458.51,637.17 C460.6,638.05 462.65,638.45 464.77,638.54 C466.89,638.64 469.11,638.22 471.23,637.76 C473.35,637.3 475.37,636.49 477.49,635.81 C479.61,635.12 481.89,634.4 483.94,633.65 C486,632.9 487.69,632.02 489.81,631.31 C491.93,630.59 494.54,629.9 496.66,629.35 C498.78,628.8 500.47,628.31 502.53,627.98 C504.58,627.65 506.86,627.39 508.98,627.39 C511.1,627.39 514.2,627.88 515.24,627.98" stroke="#0000ff" stroke-width="0.6" stroke-dasharray="3,1.2,0.8,1.2"/>
</g>
<path d="M400.79,624.5 L403.29,624.5 L402.04,622.01 Z" fill="#e00000" stroke="#2a0a0a" stroke-width="0.55"/>
<path d="M407.09,624.5 L409.59,624.5 L408.34,622.01 Z" fill="#e00000" stroke="#2a0a0a" stroke-width="0.55"/>
<path d="M413.38,624.5 L415.88,624.5 L414.63,622.01 Z" fill="#e00000" stroke="#2a0a0a" stroke-width="0.55"/>
<path d="M419.68,624.5 L422.18,624.5 L420.93,622.01 Z" fill="#e00000" stroke="#2a0a0a" stroke-width="0.55"/>
<path d="M425.97,624.18 L428.47,624.18 L427.22,621.68 Z" fill="#e00000" stroke="#2a0a0a" stroke-width="0.55"/>
<path d="M432.27,623.83 L434.77,623.83 L433.52,621.33 Z" fill="#e00000" stroke="#2a0a0a" stroke-width="0.55"/>
<path d="M438.56,623.95 L441.06,623.95 L439.81,621.45 Z" fill="#e00000" stroke="#2a0a0a" stroke-width="0.55"/>
<path d="M444.86,627.14 L447.36,627.14 L446.11,624.64 Z" fill="#e00000" stroke="#2a0a0a" stroke-width="0.55"/>
<path d="M451.15,632.82 L453.65,632.82 L452.4,630.32 Z" fill="#e00000" stroke="#2a0a0a" stroke-width="0.55"/>
<path d="M457.45,636.67 L459.95,636.67 L458.7,634.18 Z" fill="#e00000" stroke="#2a0a0a" stroke-width="0.55"/>
<path d="M463.75,637.98 L466.25,637.98 L465,635.48 Z" fill="#e00000" stroke="#2a0a0a" stroke-width="0.55"/>
<path d="M470.04,637.2 L472.54,637.2 L471.29,634.71 Z" fill="#e00000" stroke="#2a0a0a" stroke-width="0.55"/>
<path d="M476.34,635.23 L478.84,635.23 L477.59,632.74 Z" fill="#e00000" stroke="#2a0a0a" stroke-width="0.55"/>
<path d="M482.63,633.13 L485.13,633.13 L483.88,630.64 Z" fill="#e00000" stroke="#2a0a0a" stroke-width="0.55"/>
<path d="M488.93,630.66 L491.43,630.66 L490.18,628.17 Z" fill="#e00000" stroke="#2a0a0a" stroke-width="0.55"/>
<path d="M495.22,628.86 L497.72,628.86 L496.47,626.37 Z" fill="#e00000" stroke="#2a0a0a" stroke-width="0.55"/>
<path d="M501.52,627.42 L504.02,627.42 L502.77,624.92 Z" fill="#e00000" stroke="#2a0a0a" stroke-width="0.55"/>
<path d="M507.81,626.86 L510.31,626.86 L509.06,624.37 Z" fill="#e00000" stroke="#2a0a0a" stroke-width="0.55"/>
<path d="M514.11,627.44 L516.61,627.44 L515.36,624.95 Z" fill="#e00000" stroke="#2a0a0a" stroke-width="0.55"/>
<path d="M400.79,623.4 L403.29,623.4 L402.04,625.89 Z" fill="#0000e8" stroke="#0a0a30" stroke-width="0.55"/>
<path d="M407.09,623.4 L409.59,623.4 L408.34,625.89 Z" fill="#0000e8" stroke="#0a0a30" stroke-width="0.55"/>
<path d="M413.38,623.4 L415.88,623.4 L414.63,625.89 Z" fill="#0000e8" stroke="#0a0a30" stroke-width="0.55"/>
<path d="M419.68,623.4 L422.18,623.4 L420.93,625.89 Z" fill="#0000e8" stroke="#0a0a30" stroke-width="0.55"/>
<path d="M425.97,623.07 L428.47,623.07 L427.22,625.56 Z" fill="#0000e8" stroke="#0a0a30" stroke-width="0.55"/>
<path d="M432.27,622.72 L434.77,622.72 L433.52,625.21 Z" fill="#0000e8" stroke="#0a0a30" stroke-width="0.55"/>
<path d="M438.56,622.84 L441.06,622.84 L439.81,625.33 Z" fill="#0000e8" stroke="#0a0a30" stroke-width="0.55"/>
<path d="M444.86,626.03 L447.36,626.03 L446.11,628.52 Z" fill="#0000e8" stroke="#0a0a30" stroke-width="0.55"/>
<path d="M451.15,631.71 L453.65,631.71 L452.4,634.2 Z" fill="#0000e8" stroke="#0a0a30" stroke-width="0.55"/>
<path d="M457.45,635.57 L459.95,635.57 L458.7,638.06 Z" fill="#0000e8" stroke="#0a0a30" stroke-width="0.55"/>
<path d="M463.75,636.87 L466.25,636.87 L465,639.36 Z" fill="#0000e8" stroke="#0a0a30" stroke-width="0.55"/>
<path d="M470.04,636.09 L472.54,636.09 L471.29,638.59 Z" fill="#0000e8" stroke="#0a0a30" stroke-width="0.55"/>
<path d="M476.34,634.12 L478.84,634.12 L477.59,636.62 Z" fill="#0000e8" stroke="#0a0a30" stroke-width="0.55"/>
<path d="M482.63,632.02 L485.13,632.02 L483.88,634.52 Z" fill="#0000e8" stroke="#0a0a30" stroke-width="0.55"/>
<path d="M488.93,629.55 L491.43,629.55 L490.18,632.05 Z" fill="#0000e8" stroke="#0a0a30" stroke-width="0.55"/>
<path d="M495.22,627.75 L497.72,627.75 L496.47,630.25 Z" fill="#0000e8" stroke="#0a0a30" stroke-width="0.55"/>
<path d="M501.52,626.31 L504.02,626.31 L502.77,628.8 Z" fill="#0000e8" stroke="#0a0a30" stroke-width="0.55"/>
<path d="M507.81,625.75 L510.31,625.75 L509.06,628.24 Z" fill="#0000e8" stroke="#0a0a30" stroke-width="0.55"/>
<path d="M514.11,626.33 L516.61,626.33 L515.36,628.82 Z" fill="#0000e8" stroke="#0a0a30" stroke-width="0.55"/>
<clipPath id="c19"><rect x="550.6" y="481.3" width="130.8" height="105.1"/></clipPath>
<g clip-path="url(#c19)" fill="none">
<line x1="559.94" y1="479.3" x2="559.94" y2="588.4" stroke="#8af5f7" stroke-width="0.95"/>
<line x1="566.17" y1="479.3" x2="566.17" y2="588.4" stroke="#8af5f7" stroke-width="0.95"/>
<line x1="572.4" y1="479.3" x2="572.4" y2="588.4" stroke="#8af5f7" stroke-width="0.95"/>
<line x1="578.63" y1="479.3" x2="578.63" y2="588.4" stroke="#8af5f7" stroke-width="0.95"/>
<line x1="584.86" y1="479.3" x2="584.86" y2="588.4" stroke="#8af5f7" stroke-width="0.95"/>
<line x1="591.09" y1="479.3" x2="591.09" y2="588.4" stroke="#8af5f7" stroke-width="0.95"/>
<line x1="597.31" y1="479.3" x2="597.31" y2="588.4" stroke="#8af5f7" stroke-width="0.95"/>
<line x1="603.54" y1="479.3" x2="603.54" y2="588.4" stroke="#8af5f7" stroke-width="0.95"/>
<line x1="609.77" y1="479.3" x2="609.77" y2="588.4" stroke="#8af5f7" stroke-width="0.95"/>
<line x1="616" y1="479.3" x2="616" y2="588.4" stroke="#8af5f7" stroke-width="0.95"/>
<line x1="622.23" y1="479.3" x2="622.23" y2="588.4" stroke="#8af5f7" stroke-width="0.95"/>
<line x1="628.46" y1="479.3" x2="628.46" y2="588.4" stroke="#8af5f7" stroke-width="0.95"/>
<line x1="634.69" y1="479.3" x2="634.69" y2="588.4" stroke="#8af5f7" stroke-width="0.95"/>
<line x1="640.91" y1="479.3" x2="640.91" y2="588.4" stroke="#8af5f7" stroke-width="0.95"/>
<line x1="647.14" y1="479.3" x2="647.14" y2="588.4" stroke="#8af5f7" stroke-width="0.95"/>
<line x1="653.37" y1="479.3" x2="653.37" y2="588.4" stroke="#8af5f7" stroke-width="0.95"/>
<line x1="659.6" y1="479.3" x2="659.6" y2="588.4" stroke="#8af5f7" stroke-width="0.95"/>
<line x1="665.83" y1="479.3" x2="665.83" y2="588.4" stroke="#8af5f7" stroke-width="0.95"/>
<line x1="672.06" y1="479.3" x2="672.06" y2="588.4" stroke="#8af5f7" stroke-width="0.95"/>
<line x1="626.66" y1="489.15" x2="630.26" y2="489.15" stroke="#f59af5" stroke-width="0.9"/>
<line x1="632.89" y1="494.2" x2="636.49" y2="494.2" stroke="#f59af5" stroke-width="0.9"/>
<line x1="639.11" y1="501" x2="642.71" y2="501" stroke="#f59af5" stroke-width="0.9"/>
<line x1="645.34" y1="500.03" x2="648.94" y2="500.03" stroke="#f59af5" stroke-width="0.9"/>
<line x1="651.57" y1="498.86" x2="655.17" y2="498.86" stroke="#f59af5" stroke-width="0.9"/>
<line x1="657.8" y1="498.09" x2="661.4" y2="498.09" stroke="#f59af5" stroke-width="0.9"/>
<line x1="664.03" y1="497.5" x2="667.63" y2="497.5" stroke="#f59af5" stroke-width="0.9"/>
<line x1="670.26" y1="497.5" x2="673.86" y2="497.5" stroke="#f59af5" stroke-width="0.9"/>
<line x1="639.11" y1="531.09" x2="642.71" y2="531.09" stroke="#f59af5" stroke-width="0.9"/>
<line x1="645.34" y1="526.63" x2="648.94" y2="526.63" stroke="#f59af5" stroke-width="0.9"/>
<line x1="651.57" y1="524.69" x2="655.17" y2="524.69" stroke="#f59af5" stroke-width="0.9"/>
<line x1="657.8" y1="522.74" x2="661.4" y2="522.74" stroke="#f59af5" stroke-width="0.9"/>
<line x1="664.03" y1="522.16" x2="667.63" y2="522.16" stroke="#f59af5" stroke-width="0.9"/>
<line x1="670.26" y1="521.39" x2="673.86" y2="521.39" stroke="#f59af5" stroke-width="0.9"/>
<line x1="626.66" y1="567.4" x2="630.26" y2="567.4" stroke="#f59af5" stroke-width="0.9"/>
<path d="M628.25,528.57 L634.46,533.42 L640.67,536.34" stroke="#00f0f0" stroke-width="1.0" stroke-dasharray="2.6,2.1" stroke-linejoin="round"/>
<path d="M640.67,527.6 C641.74,527.11 644.98,525.66 647.08,524.69 C649.18,523.72 651.19,522.58 653.29,521.77 C655.4,520.96 657.56,520.32 659.7,519.83 C661.84,519.35 664,519.18 666.11,518.86 C668.21,518.54 671.29,518.05 672.32,517.89" stroke="#00f0f0" stroke-width="1.0" stroke-dasharray="2.6,2.1" stroke-linejoin="round"/>
<path d="M597.57,587.01 C598.54,584.55 601.29,577.3 603.39,572.26 C605.5,567.21 607.92,562.22 610.19,556.72 C612.45,551.22 614.88,544.43 616.99,539.25 C619.09,534.07 620.71,529.54 622.81,525.66 C624.91,521.77 627.5,518.7 629.61,515.95 C631.71,513.2 633.49,510.93 635.43,509.15 C637.37,507.37 639.31,506.14 641.26,505.27 C643.2,504.4 645.07,504.07 647.08,503.91 C649.09,503.75 651.19,503.85 653.29,504.3 C655.4,504.75 657.56,505.66 659.7,506.63 C661.84,507.6 664,509.38 666.11,510.12 C668.21,510.87 671.29,510.93 672.32,511.09" stroke="#ff00ff" stroke-width="1.0" stroke-dasharray="2.6,2.1" stroke-linejoin="round"/>
<path d="M610.19,587.01 C611.32,584.55 614.88,576.98 616.99,572.26 C619.09,567.53 620.87,562.39 622.81,558.66 C624.75,554.94 626.69,552.19 628.64,549.93 C630.58,547.66 632.45,546.37 634.46,545.07 C636.47,543.78 638.57,542.55 640.67,542.16 C642.78,541.77 644.98,542.42 647.08,542.74 C649.18,543.07 651.19,543.39 653.29,544.1 C655.4,544.81 657.56,546.04 659.7,547.01 C661.84,547.99 664,548.96 666.11,549.93 C668.21,550.9 671.29,552.35 672.32,552.84" stroke="#00f0f0" stroke-width="0.85" stroke-dasharray="3.5,1,1,1" stroke-linejoin="round"/>
<path d="M601.45,587.01 C602.59,584.55 605.98,577.14 608.25,572.26 C610.51,567.37 612.78,562.87 615.04,557.69 C617.31,552.52 619.74,545.88 621.84,541.19 C623.94,536.5 625.56,532.94 627.66,529.54 C629.77,526.14 632.29,523 634.46,520.8 C636.63,518.6 638.57,517.31 640.67,516.34 C642.78,515.37 644.98,515.04 647.08,514.98 C649.18,514.91 651.19,515.3 653.29,515.95 C655.4,516.6 657.56,518.12 659.7,518.86 C661.84,519.61 664,520.25 666.11,520.41 C668.21,520.58 671.29,519.93 672.32,519.83" stroke="#ff00ff" stroke-width="0.85" stroke-dasharray="3.5,1,1,1" stroke-linejoin="round"/>
<path d="M609.22,587.01 C610.19,584.55 612.94,577.3 615.04,572.26 C617.15,567.21 619.74,561.09 621.84,556.72 C623.94,552.35 625.56,548.96 627.66,546.04 C629.77,543.13 632.29,540.87 634.46,539.25 C636.63,537.63 638.57,537.14 640.67,536.34 C642.78,535.53 644.98,534.81 647.08,534.39 C649.18,533.97 651.19,533.91 653.29,533.81 C655.4,533.71 657.56,533.81 659.7,533.81 C661.84,533.81 664,533.81 666.11,533.81 C668.21,533.81 671.29,533.81 672.32,533.81" stroke="#00f0f0" stroke-width="1.0" stroke-linejoin="round"/>
<path d="M599.51,587.01 C600.64,584.55 604.2,577.3 606.31,572.26 C608.41,567.21 610.19,561.9 612.13,556.72 C614.07,551.55 616.01,545.88 617.96,541.19 C619.9,536.5 621.84,532.29 623.78,528.57 C625.72,524.85 627.66,521.45 629.61,518.86 C631.55,516.27 633.49,514.49 635.43,513.04 C637.37,511.58 639.31,510.77 641.26,510.12 C643.2,509.48 645.07,509.32 647.08,509.15 C649.09,508.99 651.19,509.06 653.29,509.15 C655.4,509.25 657.56,509.51 659.7,509.74 C661.84,509.96 664,510.45 666.11,510.51 C668.21,510.58 671.29,510.19 672.32,510.12" stroke="#ff00ff" stroke-width="1.0" stroke-linejoin="round"/>
</g>
<path d="M614.65,563.68 L617.35,563.68 L616,560.99 Z" fill="#d010d0" stroke="#2a1a2a" stroke-width="0.55"/>
<path d="M620.88,542.71 L623.58,542.71 L622.23,540.02 Z" fill="#d010d0" stroke="#2a1a2a" stroke-width="0.55"/>
<path d="M627.11,529.7 L629.81,529.7 L628.46,527.01 Z" fill="#d010d0" stroke="#2a1a2a" stroke-width="0.55"/>
<path d="M633.34,521.94 L636.04,521.94 L634.69,519.24 Z" fill="#d010d0" stroke="#2a1a2a" stroke-width="0.55"/>
<path d="M639.56,517.47 L642.26,517.47 L640.91,514.78 Z" fill="#d010d0" stroke="#2a1a2a" stroke-width="0.55"/>
<path d="M645.79,514.75 L648.49,514.75 L647.14,512.06 Z" fill="#d010d0" stroke="#2a1a2a" stroke-width="0.55"/>
<path d="M652.02,512.81 L654.72,512.81 L653.37,510.12 Z" fill="#d010d0" stroke="#2a1a2a" stroke-width="0.55"/>
<path d="M658.25,511.84 L660.95,511.84 L659.6,509.15 Z" fill="#d010d0" stroke="#2a1a2a" stroke-width="0.55"/>
<path d="M664.48,511.26 L667.18,511.26 L665.83,508.56 Z" fill="#d010d0" stroke="#2a1a2a" stroke-width="0.55"/>
<path d="M670.71,510.87 L673.41,510.87 L672.06,508.18 Z" fill="#d010d0" stroke="#2a1a2a" stroke-width="0.55"/>
<path d="M614.65,582.77 L617.35,582.77 L616,585.46 Z" fill="#10c8c8" stroke="#1a2a2a" stroke-width="0.55"/>
<path d="M620.88,563.36 L623.58,563.36 L622.23,566.05 Z" fill="#10c8c8" stroke="#1a2a2a" stroke-width="0.55"/>
<path d="M627.11,551.71 L629.81,551.71 L628.46,554.4 Z" fill="#10c8c8" stroke="#1a2a2a" stroke-width="0.55"/>
<path d="M633.34,544.91 L636.04,544.91 L634.69,547.6 Z" fill="#10c8c8" stroke="#1a2a2a" stroke-width="0.55"/>
<path d="M639.56,541.03 L642.26,541.03 L640.91,543.72 Z" fill="#10c8c8" stroke="#1a2a2a" stroke-width="0.55"/>
<path d="M645.79,538.11 L648.49,538.11 L647.14,540.81 Z" fill="#10c8c8" stroke="#1a2a2a" stroke-width="0.55"/>
<path d="M652.02,536.17 L654.72,536.17 L653.37,538.87 Z" fill="#10c8c8" stroke="#1a2a2a" stroke-width="0.55"/>
<path d="M658.25,535.59 L660.95,535.59 L659.6,538.28 Z" fill="#10c8c8" stroke="#1a2a2a" stroke-width="0.55"/>
<path d="M664.48,534.81 L667.18,534.81 L665.83,537.51 Z" fill="#10c8c8" stroke="#1a2a2a" stroke-width="0.55"/>
<path d="M670.71,534.23 L673.41,534.23 L672.06,536.92 Z" fill="#10c8c8" stroke="#1a2a2a" stroke-width="0.55"/>
<clipPath id="c20"><rect x="550.6" y="586.4" width="130.8" height="69.95"/></clipPath>
<g clip-path="url(#c20)" fill="none">
<line x1="559.94" y1="584.4" x2="559.94" y2="658.35" stroke="#8af5f7" stroke-width="0.95"/>
<line x1="566.17" y1="584.4" x2="566.17" y2="658.35" stroke="#8af5f7" stroke-width="0.95"/>
<line x1="572.4" y1="584.4" x2="572.4" y2="658.35" stroke="#8af5f7" stroke-width="0.95"/>
<line x1="578.63" y1="584.4" x2="578.63" y2="658.35" stroke="#8af5f7" stroke-width="0.95"/>
<line x1="584.86" y1="584.4" x2="584.86" y2="658.35" stroke="#8af5f7" stroke-width="0.95"/>
<line x1="591.09" y1="584.4" x2="591.09" y2="658.35" stroke="#8af5f7" stroke-width="0.95"/>
<line x1="597.31" y1="584.4" x2="597.31" y2="658.35" stroke="#8af5f7" stroke-width="0.95"/>
<line x1="603.54" y1="584.4" x2="603.54" y2="658.35" stroke="#8af5f7" stroke-width="0.95"/>
<line x1="609.77" y1="584.4" x2="609.77" y2="658.35" stroke="#8af5f7" stroke-width="0.95"/>
<line x1="616" y1="584.4" x2="616" y2="658.35" stroke="#8af5f7" stroke-width="0.95"/>
<line x1="622.23" y1="584.4" x2="622.23" y2="658.35" stroke="#8af5f7" stroke-width="0.95"/>
<line x1="628.46" y1="584.4" x2="628.46" y2="658.35" stroke="#8af5f7" stroke-width="0.95"/>
<line x1="634.69" y1="584.4" x2="634.69" y2="658.35" stroke="#8af5f7" stroke-width="0.95"/>
<line x1="640.91" y1="584.4" x2="640.91" y2="658.35" stroke="#8af5f7" stroke-width="0.95"/>
<line x1="647.14" y1="584.4" x2="647.14" y2="658.35" stroke="#8af5f7" stroke-width="0.95"/>
<line x1="653.37" y1="584.4" x2="653.37" y2="658.35" stroke="#8af5f7" stroke-width="0.95"/>
<line x1="659.6" y1="584.4" x2="659.6" y2="658.35" stroke="#8af5f7" stroke-width="0.95"/>
<line x1="665.83" y1="584.4" x2="665.83" y2="658.35" stroke="#8af5f7" stroke-width="0.95"/>
<line x1="672.06" y1="584.4" x2="672.06" y2="658.35" stroke="#8af5f7" stroke-width="0.95"/>
<line x1="670.26" y1="600.56" x2="673.86" y2="600.56" stroke="#7eeff4" stroke-width="0.9"/>
<line x1="670.26" y1="626.77" x2="673.86" y2="626.77" stroke="#7eeff4" stroke-width="0.9"/>
<path d="M559.32,593.77 L569.42,595.71 L579.12,609.3 L588.83,611.24 L596.6,607.36 L604.36,608.33 L610.19,609.3 L615.04,591.82 L621.84,590.85 L623.78,638.42 L627.66,644.25" stroke="#00f0f0" stroke-width="1.0" stroke-dasharray="2.6,2.1" stroke-linejoin="round"/>
<path d="M559.32,635.51 L569.42,640.36 L579.12,642.31 L588.83,641.34 L596.6,638.42 L608.25,632.6 L616.01,624.83 L623.78,611.24 L631.55,597.65 L640.28,587.94 L643.2,615.12 L646.11,653.96" stroke="#ff00ff" stroke-width="1.0" stroke-dasharray="2.6,2.1" stroke-linejoin="round"/>
<path d="M559.32,603.47 L579.12,598.62 L596.6,593.77 L608.25,589.88 L612.13,587.94 L614.07,624.83 L616.01,653.96 L621.84,646.19 L634.46,624.83 L640.67,616.09 L647.08,613.18 L653.29,611.82 L659.7,611.24 L666.11,610.85 L672.32,611.24" stroke="#00f0f0" stroke-width="0.85" stroke-dasharray="3.5,1,1,1" stroke-linejoin="round"/>
<path d="M559.32,634.93 L579.12,633.57 L596.6,631.63 L608.25,626.77 L616.01,620.95 L621.84,614.15 L627.66,604.45 L633.88,591.82 L640.67,652.99 L647.08,651.04 L653.29,648.52 L659.7,647.16 L666.11,646.58 L672.32,647.16" stroke="#ff00ff" stroke-width="0.85" stroke-dasharray="3.5,1,1,1" stroke-linejoin="round"/>
<path d="M559.32,600.56 L569.42,598.04 L579.12,595.71 L590.77,592.8 L603.39,590.85 L610.19,588.91 L616.01,654.93" stroke="#00f0f0" stroke-width="1.0" stroke-linejoin="round"/>
<path d="M616.01,654.93 L621.84,645.22 L627.66,636.48 L634.46,626.77 L640.67,619.01 L647.08,613.18 L653.29,607.36 L659.7,601.53 L666.11,595.71 L672.32,590.27" stroke="#00f0f0" stroke-width="1.0" stroke-linejoin="round"/>
<path d="M559.32,633.57 L569.42,632.6 L579.12,631.63 L596.6,630.27 L608.25,624.83 L616.01,619.98 L621.84,613.18 L627.66,603.47 L633.88,592.8 L640.67,653.96" stroke="#ff00ff" stroke-width="1.0" stroke-linejoin="round"/>
<path d="M640.67,653.96 L647.08,648.13 L653.29,642.31 L659.7,635.51 L666.11,628.72 L672.32,621.92" stroke="#ff00ff" stroke-width="1.0" stroke-linejoin="round"/>
</g>
<path d="M558.59,638.84 L561.29,638.84 L559.94,641.54 Z" fill="#10c8c8" stroke="#1a2a2a" stroke-width="0.55"/>
<path d="M564.82,611.66 L567.52,611.66 L566.17,614.35 Z" fill="#10c8c8" stroke="#1a2a2a" stroke-width="0.55"/>
<path d="M571.05,598.85 L573.75,598.85 L572.4,601.54 Z" fill="#10c8c8" stroke="#1a2a2a" stroke-width="0.55"/>
<path d="M577.28,619.43 L579.98,619.43 L578.63,622.12 Z" fill="#10c8c8" stroke="#1a2a2a" stroke-width="0.55"/>
<path d="M583.51,654.76 L586.21,654.76 L584.86,657.46 Z" fill="#10c8c8" stroke="#1a2a2a" stroke-width="0.55"/>
<path d="M589.74,625.64 L592.44,625.64 L591.09,628.33 Z" fill="#10c8c8" stroke="#1a2a2a" stroke-width="0.55"/>
<path d="M595.96,606.22 L598.66,606.22 L597.31,608.92 Z" fill="#10c8c8" stroke="#1a2a2a" stroke-width="0.55"/>
<path d="M602.19,591.66 L604.89,591.66 L603.54,594.35 Z" fill="#10c8c8" stroke="#1a2a2a" stroke-width="0.55"/>
<path d="M608.42,607.78 L611.12,607.78 L609.77,610.47 Z" fill="#10c8c8" stroke="#1a2a2a" stroke-width="0.55"/>
<path d="M614.65,590.69 L617.35,590.69 L616,593.38 Z" fill="#10c8c8" stroke="#1a2a2a" stroke-width="0.55"/>
<path d="M620.88,645.06 L623.58,645.06 L622.23,647.75 Z" fill="#10c8c8" stroke="#1a2a2a" stroke-width="0.55"/>
<path d="M627.11,633.41 L629.81,633.41 L628.46,636.1 Z" fill="#10c8c8" stroke="#1a2a2a" stroke-width="0.55"/>
<path d="M633.34,624.67 L636.04,624.67 L634.69,627.36 Z" fill="#10c8c8" stroke="#1a2a2a" stroke-width="0.55"/>
<path d="M639.56,619.81 L642.26,619.81 L640.91,622.51 Z" fill="#10c8c8" stroke="#1a2a2a" stroke-width="0.55"/>
<path d="M645.79,616.32 L648.49,616.32 L647.14,619.01 Z" fill="#10c8c8" stroke="#1a2a2a" stroke-width="0.55"/>
<path d="M652.02,614.96 L654.72,614.96 L653.37,617.65 Z" fill="#10c8c8" stroke="#1a2a2a" stroke-width="0.55"/>
<path d="M658.25,613.99 L660.95,613.99 L659.6,616.68 Z" fill="#10c8c8" stroke="#1a2a2a" stroke-width="0.55"/>
<path d="M664.48,613.02 L667.18,613.02 L665.83,615.71 Z" fill="#10c8c8" stroke="#1a2a2a" stroke-width="0.55"/>
<path d="M670.71,612.63 L673.41,612.63 L672.06,615.32 Z" fill="#10c8c8" stroke="#1a2a2a" stroke-width="0.55"/>
<path d="M558.59,632.76 L561.29,632.76 L559.94,630.07 Z" fill="#d010d0" stroke="#2a1a2a" stroke-width="0.55"/>
<path d="M564.82,603.64 L567.52,603.64 L566.17,600.94 Z" fill="#d010d0" stroke="#2a1a2a" stroke-width="0.55"/>
<path d="M571.05,620.53 L573.75,620.53 L572.4,617.84 Z" fill="#d010d0" stroke="#2a1a2a" stroke-width="0.55"/>
<path d="M577.28,621.11 L579.98,621.11 L578.63,618.42 Z" fill="#d010d0" stroke="#2a1a2a" stroke-width="0.55"/>
<path d="M583.51,621.11 L586.21,621.11 L584.86,618.42 Z" fill="#d010d0" stroke="#2a1a2a" stroke-width="0.55"/>
<path d="M589.74,588.1 L592.44,588.1 L591.09,585.41 Z" fill="#d010d0" stroke="#2a1a2a" stroke-width="0.55"/>
<path d="M595.96,644.99 L598.66,644.99 L597.31,642.3 Z" fill="#d010d0" stroke="#2a1a2a" stroke-width="0.55"/>
<path d="M602.19,631.4 L604.89,631.4 L603.54,628.71 Z" fill="#d010d0" stroke="#2a1a2a" stroke-width="0.55"/>
<path d="M608.42,649.27 L611.12,649.27 L609.77,646.57 Z" fill="#d010d0" stroke="#2a1a2a" stroke-width="0.55"/>
<path d="M614.65,630.24 L617.35,630.24 L616,627.54 Z" fill="#d010d0" stroke="#2a1a2a" stroke-width="0.55"/>
<path d="M620.88,615.29 L623.58,615.29 L622.23,612.59 Z" fill="#d010d0" stroke="#2a1a2a" stroke-width="0.55"/>
<path d="M627.11,602.28 L629.81,602.28 L628.46,599.59 Z" fill="#d010d0" stroke="#2a1a2a" stroke-width="0.55"/>
<path d="M633.34,592.96 L636.04,592.96 L634.69,590.27 Z" fill="#d010d0" stroke="#2a1a2a" stroke-width="0.55"/>
<path d="M645.79,653.15 L648.49,653.15 L647.14,650.46 Z" fill="#d010d0" stroke="#2a1a2a" stroke-width="0.55"/>
<path d="M652.02,652.18 L654.72,652.18 L653.37,649.48 Z" fill="#d010d0" stroke="#2a1a2a" stroke-width="0.55"/>
<path d="M658.25,650.82 L660.95,650.82 L659.6,648.13 Z" fill="#d010d0" stroke="#2a1a2a" stroke-width="0.55"/>
<path d="M664.48,649.65 L667.18,649.65 L665.83,646.96 Z" fill="#d010d0" stroke="#2a1a2a" stroke-width="0.55"/>
<path d="M670.71,649.27 L673.41,649.27 L672.06,646.57 Z" fill="#d010d0" stroke="#2a1a2a" stroke-width="0.55"/>
<rect x="392.6" y="481.3" width="132.2" height="105.1" fill="none" stroke="#262626" stroke-width="1.1"/>
<line x1="420.93" y1="481.3" x2="420.93" y2="478.3" stroke="#262626" stroke-width="1.2"/>
<line x1="458.7" y1="481.3" x2="458.7" y2="478.3" stroke="#262626" stroke-width="1.2"/>
<line x1="496.47" y1="481.3" x2="496.47" y2="478.3" stroke="#262626" stroke-width="1.2"/>
<line x1="392.6" y1="586.4" x2="389.6" y2="586.4" stroke="#262626" stroke-width="1.2"/>
<line x1="524.8" y1="586.4" x2="527.8" y2="586.4" stroke="#262626" stroke-width="1.2"/>
<line x1="392.6" y1="560.12" x2="389.6" y2="560.12" stroke="#262626" stroke-width="1.2"/>
<line x1="524.8" y1="560.12" x2="527.8" y2="560.12" stroke="#262626" stroke-width="1.2"/>
<line x1="392.6" y1="533.85" x2="389.6" y2="533.85" stroke="#262626" stroke-width="1.2"/>
<line x1="524.8" y1="533.85" x2="527.8" y2="533.85" stroke="#262626" stroke-width="1.2"/>
<line x1="392.6" y1="507.57" x2="389.6" y2="507.57" stroke="#262626" stroke-width="1.2"/>
<line x1="524.8" y1="507.57" x2="527.8" y2="507.57" stroke="#262626" stroke-width="1.2"/>
<line x1="392.6" y1="481.3" x2="389.6" y2="481.3" stroke="#262626" stroke-width="1.2"/>
<line x1="524.8" y1="481.3" x2="527.8" y2="481.3" stroke="#262626" stroke-width="1.2"/>
<text x="387.2" y="589.1" font-size="8.5" text-anchor="end" font-family='"Liberation Sans", sans-serif' fill="#262626" >1.5</text>
<text x="387.2" y="562.83" font-size="8.5" text-anchor="end" font-family='"Liberation Sans", sans-serif' fill="#262626" >2</text>
<text x="387.2" y="536.55" font-size="8.5" text-anchor="end" font-family='"Liberation Sans", sans-serif' fill="#262626" >2.5</text>
<text x="387.2" y="510.27" font-size="8.5" text-anchor="end" font-family='"Liberation Sans", sans-serif' fill="#262626" >3</text>
<text x="387.2" y="484" font-size="8.5" text-anchor="end" font-family='"Liberation Sans", sans-serif' fill="#262626" >3.5</text>
<rect x="392.6" y="586.4" width="132.2" height="69.95" fill="none" stroke="#262626" stroke-width="1.1"/>
<line x1="420.93" y1="656.35" x2="420.93" y2="659.35" stroke="#262626" stroke-width="1.2"/>
<line x1="458.7" y1="656.35" x2="458.7" y2="659.35" stroke="#262626" stroke-width="1.2"/>
<line x1="496.47" y1="656.35" x2="496.47" y2="659.35" stroke="#262626" stroke-width="1.2"/>
<line x1="392.6" y1="656.35" x2="389.6" y2="656.35" stroke="#262626" stroke-width="1.2"/>
<line x1="524.8" y1="656.35" x2="527.8" y2="656.35" stroke="#262626" stroke-width="1.2"/>
<line x1="392.6" y1="630.91" x2="389.6" y2="630.91" stroke="#262626" stroke-width="1.2"/>
<line x1="524.8" y1="630.91" x2="527.8" y2="630.91" stroke="#262626" stroke-width="1.2"/>
<line x1="392.6" y1="605.48" x2="389.6" y2="605.48" stroke="#262626" stroke-width="1.2"/>
<line x1="524.8" y1="605.48" x2="527.8" y2="605.48" stroke="#262626" stroke-width="1.2"/>
<text x="387.2" y="659.05" font-size="8.5" text-anchor="end" font-family='"Liberation Sans", sans-serif' fill="#262626" >20</text>
<text x="387.2" y="633.61" font-size="8.5" text-anchor="end" font-family='"Liberation Sans", sans-serif' fill="#262626" >40</text>
<text x="387.2" y="608.18" font-size="8.5" text-anchor="end" font-family='"Liberation Sans", sans-serif' fill="#262626" >60</text>
<text x="420.93" y="670.35" font-size="8.5" text-anchor="middle" font-family='"Liberation Sans", sans-serif' fill="#262626" >-2</text>
<text x="458.7" y="670.35" font-size="8.5" text-anchor="middle" font-family='"Liberation Sans", sans-serif' fill="#262626" >0</text>
<text x="496.47" y="670.35" font-size="8.5" text-anchor="middle" font-family='"Liberation Sans", sans-serif' fill="#262626" >2</text>
<rect x="550.6" y="481.3" width="130.8" height="105.1" fill="none" stroke="#262626" stroke-width="1.1"/>
<line x1="578.63" y1="481.3" x2="578.63" y2="478.3" stroke="#262626" stroke-width="1.2"/>
<line x1="616" y1="481.3" x2="616" y2="478.3" stroke="#262626" stroke-width="1.2"/>
<line x1="653.37" y1="481.3" x2="653.37" y2="478.3" stroke="#262626" stroke-width="1.2"/>
<line x1="550.6" y1="586.4" x2="547.6" y2="586.4" stroke="#262626" stroke-width="1.2"/>
<line x1="681.4" y1="586.4" x2="684.4" y2="586.4" stroke="#262626" stroke-width="1.2"/>
<line x1="550.6" y1="560.12" x2="547.6" y2="560.12" stroke="#262626" stroke-width="1.2"/>
<line x1="681.4" y1="560.12" x2="684.4" y2="560.12" stroke="#262626" stroke-width="1.2"/>
<line x1="550.6" y1="533.85" x2="547.6" y2="533.85" stroke="#262626" stroke-width="1.2"/>
<line x1="681.4" y1="533.85" x2="684.4" y2="533.85" stroke="#262626" stroke-width="1.2"/>
<line x1="550.6" y1="507.57" x2="547.6" y2="507.57" stroke="#262626" stroke-width="1.2"/>
<line x1="681.4" y1="507.57" x2="684.4" y2="507.57" stroke="#262626" stroke-width="1.2"/>
<line x1="550.6" y1="481.3" x2="547.6" y2="481.3" stroke="#262626" stroke-width="1.2"/>
<line x1="681.4" y1="481.3" x2="684.4" y2="481.3" stroke="#262626" stroke-width="1.2"/>
<text x="545.2" y="589.1" font-size="8.5" text-anchor="end" font-family='"Liberation Sans", sans-serif' fill="#262626" >-6</text>
<text x="545.2" y="562.83" font-size="8.5" text-anchor="end" font-family='"Liberation Sans", sans-serif' fill="#262626" >-4</text>
<text x="545.2" y="536.55" font-size="8.5" text-anchor="end" font-family='"Liberation Sans", sans-serif' fill="#262626" >-2</text>
<text x="545.2" y="510.27" font-size="8.5" text-anchor="end" font-family='"Liberation Sans", sans-serif' fill="#262626" >0</text>
<text x="545.2" y="484" font-size="8.5" text-anchor="end" font-family='"Liberation Sans", sans-serif' fill="#262626" >2</text>
<rect x="550.6" y="586.4" width="130.8" height="69.95" fill="none" stroke="#262626" stroke-width="1.1"/>
<line x1="578.63" y1="656.35" x2="578.63" y2="659.35" stroke="#262626" stroke-width="1.2"/>
<line x1="616" y1="656.35" x2="616" y2="659.35" stroke="#262626" stroke-width="1.2"/>
<line x1="653.37" y1="656.35" x2="653.37" y2="659.35" stroke="#262626" stroke-width="1.2"/>
<line x1="550.6" y1="640.81" x2="547.6" y2="640.81" stroke="#262626" stroke-width="1.2"/>
<line x1="681.4" y1="640.81" x2="684.4" y2="640.81" stroke="#262626" stroke-width="1.2"/>
<line x1="550.6" y1="621.38" x2="547.6" y2="621.38" stroke="#262626" stroke-width="1.2"/>
<line x1="681.4" y1="621.38" x2="684.4" y2="621.38" stroke="#262626" stroke-width="1.2"/>
<line x1="550.6" y1="601.94" x2="547.6" y2="601.94" stroke="#262626" stroke-width="1.2"/>
<line x1="681.4" y1="601.94" x2="684.4" y2="601.94" stroke="#262626" stroke-width="1.2"/>
<text x="545.2" y="643.51" font-size="8.5" text-anchor="end" font-family='"Liberation Sans", sans-serif' fill="#262626" >-100</text>
<text x="545.2" y="624.08" font-size="8.5" text-anchor="end" font-family='"Liberation Sans", sans-serif' fill="#262626" >0</text>
<text x="545.2" y="604.64" font-size="8.5" text-anchor="end" font-family='"Liberation Sans", sans-serif' fill="#262626" >100</text>
<text x="578.63" y="670.35" font-size="8.5" text-anchor="middle" font-family='"Liberation Sans", sans-serif' fill="#262626" >-2</text>
<text x="616" y="670.35" font-size="8.5" text-anchor="middle" font-family='"Liberation Sans", sans-serif' fill="#262626" >0</text>
<text x="653.37" y="670.35" font-size="8.5" text-anchor="middle" font-family='"Liberation Sans", sans-serif' fill="#262626" >2</text>
<text x="458.7" y="681.15" font-size="9.6" text-anchor="middle" font-family='"Liberation Sans", sans-serif' fill="#262626">log<tspan font-size="8.5" dy="3.3">10</tspan><tspan dy="-3.3">( Period ) [s]</tspan></text>
<text x="616" y="681.15" font-size="9.6" text-anchor="middle" font-family='"Liberation Sans", sans-serif' fill="#262626">log<tspan font-size="8.5" dy="3.3">10</tspan><tspan dy="-3.3">( Period ) [s]</tspan></text>
<text transform="translate(367.8,535.25) rotate(-90)" x="0" y="0" font-size="9.9" text-anchor="middle" font-family='"Liberation Sans", sans-serif' fill="#262626">log<tspan font-size="7.2" dy="2.6">10</tspan><tspan dy="-2.6">( </tspan><tspan font-family='"Liberation Serif", serif' font-style="italic">ρ</tspan><tspan font-size="7.2" dy="2.6">app</tspan><tspan dy="-2.6"> ) [Ωm]</tspan></text>
<text transform="translate(374.2,621.38) rotate(-90)" x="0" y="0" font-size="9.85" text-anchor="middle" font-family='"Liberation Sans", sans-serif' fill="#262626">Phase [°]</text>
<text x="497.2" y="470.8" font-size="12.9" font-weight="bold" font-family='"Liberation Serif", serif' fill="#111">(e) Station S<tspan font-size="9" dy="2.5">5</tspan></text>
<line x1="61.93" y1="714.6" x2="61.93" y2="819.7" stroke="#d0d0d0" stroke-width="0.75"/>
<line x1="99.7" y1="714.6" x2="99.7" y2="819.7" stroke="#d0d0d0" stroke-width="0.75"/>
<line x1="137.47" y1="714.6" x2="137.47" y2="819.7" stroke="#d0d0d0" stroke-width="0.75"/>
<line x1="33.6" y1="793.43" x2="165.8" y2="793.43" stroke="#d0d0d0" stroke-width="0.75"/>
<line x1="33.6" y1="767.15" x2="165.8" y2="767.15" stroke="#d0d0d0" stroke-width="0.75"/>
<line x1="33.6" y1="740.88" x2="165.8" y2="740.88" stroke="#d0d0d0" stroke-width="0.75"/>
<line x1="61.93" y1="819.7" x2="61.93" y2="889.65" stroke="#d0d0d0" stroke-width="0.75"/>
<line x1="99.7" y1="819.7" x2="99.7" y2="889.65" stroke="#d0d0d0" stroke-width="0.75"/>
<line x1="137.47" y1="819.7" x2="137.47" y2="889.65" stroke="#d0d0d0" stroke-width="0.75"/>
<line x1="33.6" y1="864.21" x2="165.8" y2="864.21" stroke="#d0d0d0" stroke-width="0.75"/>
<line x1="33.6" y1="838.78" x2="165.8" y2="838.78" stroke="#d0d0d0" stroke-width="0.75"/>
<line x1="222.61" y1="714.6" x2="222.61" y2="819.7" stroke="#d0d0d0" stroke-width="0.75"/>
<line x1="260.1" y1="714.6" x2="260.1" y2="819.7" stroke="#d0d0d0" stroke-width="0.75"/>
<line x1="297.59" y1="714.6" x2="297.59" y2="819.7" stroke="#d0d0d0" stroke-width="0.75"/>
<line x1="194.5" y1="793.43" x2="325.7" y2="793.43" stroke="#d0d0d0" stroke-width="0.75"/>
<line x1="194.5" y1="767.15" x2="325.7" y2="767.15" stroke="#d0d0d0" stroke-width="0.75"/>
<line x1="194.5" y1="740.88" x2="325.7" y2="740.88" stroke="#d0d0d0" stroke-width="0.75"/>
<line x1="222.61" y1="819.7" x2="222.61" y2="889.65" stroke="#d0d0d0" stroke-width="0.75"/>
<line x1="260.1" y1="819.7" x2="260.1" y2="889.65" stroke="#d0d0d0" stroke-width="0.75"/>
<line x1="297.59" y1="819.7" x2="297.59" y2="889.65" stroke="#d0d0d0" stroke-width="0.75"/>
<line x1="194.5" y1="874.11" x2="325.7" y2="874.11" stroke="#d0d0d0" stroke-width="0.75"/>
<line x1="194.5" y1="854.68" x2="325.7" y2="854.68" stroke="#d0d0d0" stroke-width="0.75"/>
<line x1="194.5" y1="835.24" x2="325.7" y2="835.24" stroke="#d0d0d0" stroke-width="0.75"/>
<clipPath id="c21"><rect x="33.6" y="714.6" width="132.2" height="105.1"/></clipPath>
<g clip-path="url(#c21)" fill="none">
<path d="M41.8,768.19 C48.32,768.22 72.29,767.96 80.93,768.38 C89.57,768.81 90.55,771.48 93.64,770.73 C96.74,769.98 97.49,766.17 99.51,763.88 C101.53,761.6 103.65,758.99 105.77,757.04 C107.89,755.08 110.11,753.61 112.23,752.15 C114.35,750.68 115.39,749.37 118.49,748.23 C121.58,747.09 126.64,745.95 130.81,745.3 C134.98,744.65 140.33,744.39 143.53,744.32 C146.72,744.26 147.86,744.68 149.98,744.91 C152.1,745.14 155.2,745.56 156.24,745.69" stroke="#ff0000" stroke-width="1.0" stroke-dasharray="2.6,2.1" stroke-linejoin="round"/>
<path d="M41.8,768.19 C47.18,768.02 67.56,767.21 74.08,767.21 C80.6,767.21 78.71,767.76 80.93,768.19 C83.14,768.61 85.26,769.59 87.38,769.75 C89.5,769.91 91.62,769.82 93.64,769.16 C95.66,768.51 97.49,767.21 99.51,765.84 C101.53,764.47 103.65,762.58 105.77,760.95 C107.89,759.32 110.11,757.62 112.23,756.06 C114.35,754.49 116.37,752.96 118.49,751.56 C120.61,750.16 122.89,748.62 124.94,747.65 C127,746.67 128.69,746.24 130.81,745.69 C132.93,745.14 135.54,744.71 137.66,744.32 C139.78,743.93 141.47,743.64 143.53,743.34 C145.58,743.05 147.86,742.76 149.98,742.56 C152.1,742.36 155.2,742.23 156.24,742.17" stroke="#ff0000" stroke-width="1.1" stroke-linejoin="round"/>
<path d="M41.8,769.09 C47.18,768.92 67.56,768.11 74.08,768.11 C80.6,768.11 78.71,768.66 80.93,769.09 C83.14,769.51 85.26,770.49 87.38,770.65 C89.5,770.81 91.62,770.72 93.64,770.06 C95.66,769.41 97.49,768.11 99.51,766.74 C101.53,765.37 103.65,763.48 105.77,761.85 C107.89,760.22 110.11,758.52 112.23,756.96 C114.35,755.39 116.37,753.86 118.49,752.46 C120.61,751.06 122.89,749.52 124.94,748.55 C127,747.57 128.69,747.14 130.81,746.59 C132.93,746.04 135.54,745.61 137.66,745.22 C139.78,744.83 141.47,744.54 143.53,744.24 C145.58,743.95 147.86,743.66 149.98,743.46 C152.1,743.26 155.2,743.13 156.24,743.07" stroke="#ff0000" stroke-width="0.6" stroke-dasharray="3,1.2,0.8,1.2"/>
<path d="M41.8,768.19 C48.32,768.22 72.29,768.12 80.93,768.38 C89.57,768.64 90.55,770.34 93.64,769.75 C96.74,769.16 97.49,767.31 99.51,764.86 C101.53,762.42 103.65,757.85 105.77,755.08 C107.89,752.31 110.11,750.03 112.23,748.23 C114.35,746.44 116.37,745.2 118.49,744.32 C120.61,743.44 121.75,743.51 124.94,742.95 C128.14,742.4 133.48,741.65 137.66,741 C141.83,740.34 146.88,739.79 149.98,739.04 C153.08,738.29 155.2,736.92 156.24,736.5" stroke="#0000ff" stroke-width="1.0" stroke-dasharray="2.6,2.1" stroke-linejoin="round"/>
<path d="M41.8,768.19 C47.18,768.12 67.56,767.76 74.08,767.8 C80.6,767.83 78.71,768.06 80.93,768.38 C83.14,768.71 85.26,769.62 87.38,769.75 C89.5,769.88 91.62,769.91 93.64,769.16 C95.66,768.42 97.49,766.78 99.51,765.25 C101.53,763.72 103.65,761.67 105.77,759.97 C107.89,758.28 110.11,756.71 112.23,755.08 C114.35,753.45 116.37,751.66 118.49,750.19 C120.61,748.72 122.89,747.42 124.94,746.28 C127,745.14 128.69,744.16 130.81,743.34 C132.93,742.53 135.54,741.94 137.66,741.39 C139.78,740.83 141.47,740.41 143.53,740.02 C145.58,739.63 147.86,739.4 149.98,739.04 C152.1,738.68 155.2,738.06 156.24,737.87" stroke="#0000ff" stroke-width="1.1" stroke-linejoin="round"/>
<path d="M41.8,769.09 C47.18,769.02 67.56,768.66 74.08,768.7 C80.6,768.73 78.71,768.96 80.93,769.28 C83.14,769.61 85.26,770.52 87.38,770.65 C89.5,770.78 91.62,770.81 93.64,770.06 C95.66,769.32 97.49,767.68 99.51,766.15 C101.53,764.62 103.65,762.57 105.77,760.87 C107.89,759.18 110.11,757.61 112.23,755.98 C114.35,754.35 116.37,752.56 118.49,751.09 C120.61,749.62 122.89,748.32 124.94,747.18 C127,746.04 128.69,745.06 130.81,744.24 C132.93,743.43 135.54,742.84 137.66,742.29 C139.78,741.73 141.47,741.31 143.53,740.92 C145.58,740.53 147.86,740.3 149.98,739.94 C152.1,739.58 155.2,738.96 156.24,738.77" stroke="#0000ff" stroke-width="0.6" stroke-dasharray="3,1.2,0.8,1.2"/>
</g>
<path d="M41.79,768.9 L44.29,768.9 L43.04,766.41 Z" fill="#e00000" stroke="#2a0a0a" stroke-width="0.55"/>
<path d="M48.09,768.71 L50.59,768.71 L49.34,766.21 Z" fill="#e00000" stroke="#2a0a0a" stroke-width="0.55"/>
<path d="M54.38,768.52 L56.88,768.52 L55.63,766.02 Z" fill="#e00000" stroke="#2a0a0a" stroke-width="0.55"/>
<path d="M60.68,768.33 L63.18,768.33 L61.93,765.83 Z" fill="#e00000" stroke="#2a0a0a" stroke-width="0.55"/>
<path d="M66.97,768.14 L69.47,768.14 L68.22,765.64 Z" fill="#e00000" stroke="#2a0a0a" stroke-width="0.55"/>
<path d="M73.27,768.02 L75.77,768.02 L74.52,765.53 Z" fill="#e00000" stroke="#2a0a0a" stroke-width="0.55"/>
<path d="M79.56,768.92 L82.06,768.92 L80.81,766.43 Z" fill="#e00000" stroke="#2a0a0a" stroke-width="0.55"/>
<path d="M85.86,770.44 L88.36,770.44 L87.11,767.94 Z" fill="#e00000" stroke="#2a0a0a" stroke-width="0.55"/>
<path d="M92.15,769.94 L94.65,769.94 L93.4,767.44 Z" fill="#e00000" stroke="#2a0a0a" stroke-width="0.55"/>
<path d="M98.45,766.44 L100.95,766.44 L99.7,763.95 Z" fill="#e00000" stroke="#2a0a0a" stroke-width="0.55"/>
<path d="M104.75,761.53 L107.25,761.53 L106,759.04 Z" fill="#e00000" stroke="#2a0a0a" stroke-width="0.55"/>
<path d="M111.04,756.76 L113.54,756.76 L112.29,754.27 Z" fill="#e00000" stroke="#2a0a0a" stroke-width="0.55"/>
<path d="M117.34,752.25 L119.84,752.25 L118.59,749.76 Z" fill="#e00000" stroke="#2a0a0a" stroke-width="0.55"/>
<path d="M123.63,748.43 L126.13,748.43 L124.88,745.94 Z" fill="#e00000" stroke="#2a0a0a" stroke-width="0.55"/>
<path d="M129.93,746.37 L132.43,746.37 L131.18,743.87 Z" fill="#e00000" stroke="#2a0a0a" stroke-width="0.55"/>
<path d="M136.22,745.11 L138.72,745.11 L137.47,742.61 Z" fill="#e00000" stroke="#2a0a0a" stroke-width="0.55"/>
<path d="M142.52,744.06 L145.02,744.06 L143.77,741.57 Z" fill="#e00000" stroke="#2a0a0a" stroke-width="0.55"/>
<path d="M148.81,743.31 L151.31,743.31 L150.06,740.81 Z" fill="#e00000" stroke="#2a0a0a" stroke-width="0.55"/>
<path d="M155.11,742.92 L157.61,742.92 L156.36,740.43 Z" fill="#e00000" stroke="#2a0a0a" stroke-width="0.55"/>
<path d="M41.79,767.42 L44.29,767.42 L43.04,769.92 Z" fill="#0000e8" stroke="#0a0a30" stroke-width="0.55"/>
<path d="M48.09,767.35 L50.59,767.35 L49.34,769.84 Z" fill="#0000e8" stroke="#0a0a30" stroke-width="0.55"/>
<path d="M54.38,767.27 L56.88,767.27 L55.63,769.76 Z" fill="#0000e8" stroke="#0a0a30" stroke-width="0.55"/>
<path d="M60.68,767.19 L63.18,767.19 L61.93,769.69 Z" fill="#0000e8" stroke="#0a0a30" stroke-width="0.55"/>
<path d="M66.97,767.12 L69.47,767.12 L68.22,769.61 Z" fill="#0000e8" stroke="#0a0a30" stroke-width="0.55"/>
<path d="M73.27,767.08 L75.77,767.08 L74.52,769.58 Z" fill="#0000e8" stroke="#0a0a30" stroke-width="0.55"/>
<path d="M79.56,767.62 L82.06,767.62 L80.81,770.12 Z" fill="#0000e8" stroke="#0a0a30" stroke-width="0.55"/>
<path d="M85.86,768.94 L88.36,768.94 L87.11,771.44 Z" fill="#0000e8" stroke="#0a0a30" stroke-width="0.55"/>
<path d="M92.15,768.44 L94.65,768.44 L93.4,770.93 Z" fill="#0000e8" stroke="#0a0a30" stroke-width="0.55"/>
<path d="M98.45,764.34 L100.95,764.34 L99.7,766.84 Z" fill="#0000e8" stroke="#0a0a30" stroke-width="0.55"/>
<path d="M104.75,759.05 L107.25,759.05 L106,761.54 Z" fill="#0000e8" stroke="#0a0a30" stroke-width="0.55"/>
<path d="M111.04,754.28 L113.54,754.28 L112.29,756.77 Z" fill="#0000e8" stroke="#0a0a30" stroke-width="0.55"/>
<path d="M117.34,749.38 L119.84,749.38 L118.59,751.87 Z" fill="#0000e8" stroke="#0a0a30" stroke-width="0.55"/>
<path d="M123.63,745.56 L126.13,745.56 L124.88,748.06 Z" fill="#0000e8" stroke="#0a0a30" stroke-width="0.55"/>
<path d="M129.93,742.49 L132.43,742.49 L131.18,744.98 Z" fill="#0000e8" stroke="#0a0a30" stroke-width="0.55"/>
<path d="M136.22,740.69 L138.72,740.69 L137.47,743.18 Z" fill="#0000e8" stroke="#0a0a30" stroke-width="0.55"/>
<path d="M142.52,739.23 L145.02,739.23 L143.77,741.72 Z" fill="#0000e8" stroke="#0a0a30" stroke-width="0.55"/>
<path d="M148.81,738.27 L151.31,738.27 L150.06,740.77 Z" fill="#0000e8" stroke="#0a0a30" stroke-width="0.55"/>
<path d="M155.11,737.12 L157.61,737.12 L156.36,739.61 Z" fill="#0000e8" stroke="#0a0a30" stroke-width="0.55"/>
<clipPath id="c22"><rect x="33.6" y="819.7" width="132.2" height="69.95"/></clipPath>
<g clip-path="url(#c22)" fill="none">
<path d="M42.39,857.54 C47.67,857.47 66.68,856.89 74.08,857.15 C81.48,857.41 83.6,857.47 86.8,859.1 C89.99,860.73 91.13,864.48 93.25,866.93 C95.37,869.37 97.65,872.14 99.51,873.77 C101.37,875.4 102.77,876.87 104.4,876.71 C106.03,876.55 107.99,874.1 109.29,872.8 C110.6,871.49 110.69,870.02 112.23,868.88 C113.76,867.74 115.39,867.25 118.49,865.95 C121.58,864.64 126.64,862.53 130.81,861.06 C134.98,859.59 140.33,858.03 143.53,857.15 C146.72,856.27 147.86,855.94 149.98,855.78 C152.1,855.61 155.2,856.1 156.24,856.17" stroke="#ff0000" stroke-width="1.0" stroke-dasharray="2.6,2.1" stroke-linejoin="round"/>
<path d="M42.39,857.54 C47.67,857.47 67.66,857.31 74.08,857.15 C80.5,856.98 78.81,856.23 80.93,856.56 C83.05,856.89 84.74,857.7 86.8,859.1 C88.85,860.5 91.13,863.24 93.25,864.97 C95.37,866.7 97.42,868.39 99.51,869.47 C101.6,870.55 103.65,871.17 105.77,871.43 C107.89,871.69 110.11,871.36 112.23,871.04 C114.35,870.71 116.37,870.12 118.49,869.47 C120.61,868.82 122.89,867.87 124.94,867.12 C127,866.37 128.69,865.75 130.81,864.97 C132.93,864.19 135.54,863.15 137.66,862.43 C139.78,861.71 141.47,861.12 143.53,860.67 C145.58,860.21 147.86,859.79 149.98,859.69 C152.1,859.59 155.2,860.02 156.24,860.08" stroke="#ff0000" stroke-width="1.1" stroke-linejoin="round"/>
<path d="M42.39,858.44 C47.67,858.37 67.66,858.21 74.08,858.05 C80.5,857.88 78.81,857.13 80.93,857.46 C83.05,857.79 84.74,858.6 86.8,860 C88.85,861.4 91.13,864.14 93.25,865.87 C95.37,867.6 97.42,869.29 99.51,870.37 C101.6,871.45 103.65,872.07 105.77,872.33 C107.89,872.59 110.11,872.26 112.23,871.94 C114.35,871.61 116.37,871.02 118.49,870.37 C120.61,869.72 122.89,868.77 124.94,868.02 C127,867.27 128.69,866.65 130.81,865.87 C132.93,865.09 135.54,864.05 137.66,863.33 C139.78,862.61 141.47,862.02 143.53,861.57 C145.58,861.11 147.86,860.69 149.98,860.59 C152.1,860.49 155.2,860.92 156.24,860.98" stroke="#ff0000" stroke-width="0.6" stroke-dasharray="3,1.2,0.8,1.2"/>
<path d="M42.39,856.17 C47.67,856.33 66.68,856.66 74.08,857.15 C81.48,857.64 83.6,857.31 86.8,859.1 C89.99,860.9 91.13,865.13 93.25,867.91 C95.37,870.68 97.82,874.1 99.51,875.73 C101.21,877.36 102.12,877.69 103.42,877.69 C104.73,877.69 105.87,876.87 107.34,875.73 C108.8,874.59 110.37,871.98 112.23,870.84 C114.08,869.7 115.39,869.76 118.49,868.88 C121.58,868 126.64,866.7 130.81,865.56 C134.98,864.42 140.33,862.13 143.53,862.04 C146.72,861.94 148.19,863.99 149.98,864.97 C151.77,865.95 153.57,867.42 154.28,867.91" stroke="#0000ff" stroke-width="1.0" stroke-dasharray="2.6,2.1" stroke-linejoin="round"/>
<path d="M42.39,857.54 C47.67,857.47 67.66,857.31 74.08,857.15 C80.5,856.98 78.81,856.23 80.93,856.56 C83.05,856.89 84.74,857.6 86.8,859.1 C88.85,860.6 91.13,863.76 93.25,865.56 C95.37,867.35 97.42,868.82 99.51,869.86 C101.6,870.9 103.65,871.49 105.77,871.82 C107.89,872.14 110.11,871.98 112.23,871.82 C114.35,871.65 116.37,871.43 118.49,870.84 C120.61,870.25 122.89,869.11 124.94,868.3 C127,867.48 128.69,866.73 130.81,865.95 C132.93,865.17 135.54,864.32 137.66,863.6 C139.78,862.88 141.47,862.17 143.53,861.65 C145.58,861.12 147.86,860.67 149.98,860.47 C152.1,860.28 155.2,860.47 156.24,860.47" stroke="#0000ff" stroke-width="1.1" stroke-linejoin="round"/>
<path d="M42.39,858.44 C47.67,858.37 67.66,858.21 74.08,858.05 C80.5,857.88 78.81,857.13 80.93,857.46 C83.05,857.79 84.74,858.5 86.8,860 C88.85,861.5 91.13,864.66 93.25,866.46 C95.37,868.25 97.42,869.72 99.51,870.76 C101.6,871.8 103.65,872.39 105.77,872.72 C107.89,873.04 110.11,872.88 112.23,872.72 C114.35,872.55 116.37,872.33 118.49,871.74 C120.61,871.15 122.89,870.01 124.94,869.2 C127,868.38 128.69,867.63 130.81,866.85 C132.93,866.07 135.54,865.22 137.66,864.5 C139.78,863.78 141.47,863.07 143.53,862.55 C145.58,862.02 147.86,861.57 149.98,861.37 C152.1,861.18 155.2,861.37 156.24,861.37" stroke="#0000ff" stroke-width="0.6" stroke-dasharray="3,1.2,0.8,1.2"/>
</g>
<path d="M41.79,858.28 L44.29,858.28 L43.04,855.79 Z" fill="#e00000" stroke="#2a0a0a" stroke-width="0.55"/>
<path d="M48.09,858.2 L50.59,858.2 L49.34,855.71 Z" fill="#e00000" stroke="#2a0a0a" stroke-width="0.55"/>
<path d="M54.38,858.12 L56.88,858.12 L55.63,855.63 Z" fill="#e00000" stroke="#2a0a0a" stroke-width="0.55"/>
<path d="M60.68,858.05 L63.18,858.05 L61.93,855.55 Z" fill="#e00000" stroke="#2a0a0a" stroke-width="0.55"/>
<path d="M66.97,857.97 L69.47,857.97 L68.22,855.47 Z" fill="#e00000" stroke="#2a0a0a" stroke-width="0.55"/>
<path d="M73.27,857.86 L75.77,857.86 L74.52,855.36 Z" fill="#e00000" stroke="#2a0a0a" stroke-width="0.55"/>
<path d="M79.56,857.32 L82.06,857.32 L80.81,854.83 Z" fill="#e00000" stroke="#2a0a0a" stroke-width="0.55"/>
<path d="M85.86,860.14 L88.36,860.14 L87.11,857.64 Z" fill="#e00000" stroke="#2a0a0a" stroke-width="0.55"/>
<path d="M92.15,865.83 L94.65,865.83 L93.4,863.34 Z" fill="#e00000" stroke="#2a0a0a" stroke-width="0.55"/>
<path d="M98.45,870.28 L100.95,870.28 L99.7,867.79 Z" fill="#e00000" stroke="#2a0a0a" stroke-width="0.55"/>
<path d="M104.75,872.16 L107.25,872.16 L106,869.67 Z" fill="#e00000" stroke="#2a0a0a" stroke-width="0.55"/>
<path d="M111.04,871.77 L113.54,871.77 L112.29,869.28 Z" fill="#e00000" stroke="#2a0a0a" stroke-width="0.55"/>
<path d="M117.34,870.18 L119.84,870.18 L118.59,867.69 Z" fill="#e00000" stroke="#2a0a0a" stroke-width="0.55"/>
<path d="M123.63,867.89 L126.13,867.89 L124.88,865.4 Z" fill="#e00000" stroke="#2a0a0a" stroke-width="0.55"/>
<path d="M129.93,865.58 L132.43,865.58 L131.18,863.09 Z" fill="#e00000" stroke="#2a0a0a" stroke-width="0.55"/>
<path d="M136.22,863.25 L138.72,863.25 L137.47,860.75 Z" fill="#e00000" stroke="#2a0a0a" stroke-width="0.55"/>
<path d="M142.52,861.38 L145.02,861.38 L143.77,858.89 Z" fill="#e00000" stroke="#2a0a0a" stroke-width="0.55"/>
<path d="M148.81,860.44 L151.31,860.44 L150.06,857.95 Z" fill="#e00000" stroke="#2a0a0a" stroke-width="0.55"/>
<path d="M155.11,860.83 L157.61,860.83 L156.36,858.34 Z" fill="#e00000" stroke="#2a0a0a" stroke-width="0.55"/>
<path d="M41.79,856.78 L44.29,856.78 L43.04,859.27 Z" fill="#0000e8" stroke="#0a0a30" stroke-width="0.55"/>
<path d="M48.09,856.7 L50.59,856.7 L49.34,859.2 Z" fill="#0000e8" stroke="#0a0a30" stroke-width="0.55"/>
<path d="M54.38,856.62 L56.88,856.62 L55.63,859.12 Z" fill="#0000e8" stroke="#0a0a30" stroke-width="0.55"/>
<path d="M60.68,856.55 L63.18,856.55 L61.93,859.04 Z" fill="#0000e8" stroke="#0a0a30" stroke-width="0.55"/>
<path d="M66.97,856.47 L69.47,856.47 L68.22,858.96 Z" fill="#0000e8" stroke="#0a0a30" stroke-width="0.55"/>
<path d="M73.27,856.36 L75.77,856.36 L74.52,858.85 Z" fill="#0000e8" stroke="#0a0a30" stroke-width="0.55"/>
<path d="M79.56,855.82 L82.06,855.82 L80.81,858.31 Z" fill="#0000e8" stroke="#0a0a30" stroke-width="0.55"/>
<path d="M85.86,858.67 L88.36,858.67 L87.11,861.16 Z" fill="#0000e8" stroke="#0a0a30" stroke-width="0.55"/>
<path d="M92.15,864.91 L94.65,864.91 L93.4,867.41 Z" fill="#0000e8" stroke="#0a0a30" stroke-width="0.55"/>
<path d="M98.45,869.17 L100.95,869.17 L99.7,871.66 Z" fill="#0000e8" stroke="#0a0a30" stroke-width="0.55"/>
<path d="M104.75,871.07 L107.25,871.07 L106,873.56 Z" fill="#0000e8" stroke="#0a0a30" stroke-width="0.55"/>
<path d="M111.04,871.06 L113.54,871.06 L112.29,873.55 Z" fill="#0000e8" stroke="#0a0a30" stroke-width="0.55"/>
<path d="M117.34,870.05 L119.84,870.05 L118.59,872.54 Z" fill="#0000e8" stroke="#0a0a30" stroke-width="0.55"/>
<path d="M123.63,867.57 L126.13,867.57 L124.88,870.06 Z" fill="#0000e8" stroke="#0a0a30" stroke-width="0.55"/>
<path d="M129.93,865.07 L132.43,865.07 L131.18,867.57 Z" fill="#0000e8" stroke="#0a0a30" stroke-width="0.55"/>
<path d="M136.22,862.92 L138.72,862.92 L137.47,865.41 Z" fill="#0000e8" stroke="#0a0a30" stroke-width="0.55"/>
<path d="M142.52,860.85 L145.02,860.85 L143.77,863.35 Z" fill="#0000e8" stroke="#0a0a30" stroke-width="0.55"/>
<path d="M148.81,859.72 L151.31,859.72 L150.06,862.22 Z" fill="#0000e8" stroke="#0a0a30" stroke-width="0.55"/>
<path d="M155.11,859.72 L157.61,859.72 L156.36,862.22 Z" fill="#0000e8" stroke="#0a0a30" stroke-width="0.55"/>
<clipPath id="c23"><rect x="194.5" y="714.6" width="131.2" height="105.1"/></clipPath>
<g clip-path="url(#c23)" fill="none">
<line x1="203.87" y1="712.6" x2="203.87" y2="821.7" stroke="#8af5f7" stroke-width="0.95"/>
<line x1="210.12" y1="712.6" x2="210.12" y2="821.7" stroke="#8af5f7" stroke-width="0.95"/>
<line x1="216.37" y1="712.6" x2="216.37" y2="821.7" stroke="#8af5f7" stroke-width="0.95"/>
<line x1="222.61" y1="712.6" x2="222.61" y2="821.7" stroke="#8af5f7" stroke-width="0.95"/>
<line x1="228.86" y1="712.6" x2="228.86" y2="821.7" stroke="#8af5f7" stroke-width="0.95"/>
<line x1="235.11" y1="712.6" x2="235.11" y2="821.7" stroke="#8af5f7" stroke-width="0.95"/>
<line x1="241.36" y1="712.6" x2="241.36" y2="821.7" stroke="#8af5f7" stroke-width="0.95"/>
<line x1="247.6" y1="712.6" x2="247.6" y2="821.7" stroke="#8af5f7" stroke-width="0.95"/>
<line x1="253.85" y1="712.6" x2="253.85" y2="821.7" stroke="#8af5f7" stroke-width="0.95"/>
<line x1="260.1" y1="712.6" x2="260.1" y2="821.7" stroke="#8af5f7" stroke-width="0.95"/>
<line x1="266.35" y1="712.6" x2="266.35" y2="821.7" stroke="#8af5f7" stroke-width="0.95"/>
<line x1="272.6" y1="712.6" x2="272.6" y2="821.7" stroke="#8af5f7" stroke-width="0.95"/>
<line x1="278.84" y1="712.6" x2="278.84" y2="821.7" stroke="#8af5f7" stroke-width="0.95"/>
<line x1="285.09" y1="712.6" x2="285.09" y2="821.7" stroke="#8af5f7" stroke-width="0.95"/>
<line x1="291.34" y1="712.6" x2="291.34" y2="821.7" stroke="#8af5f7" stroke-width="0.95"/>
<line x1="297.59" y1="712.6" x2="297.59" y2="821.7" stroke="#8af5f7" stroke-width="0.95"/>
<line x1="303.83" y1="712.6" x2="303.83" y2="821.7" stroke="#8af5f7" stroke-width="0.95"/>
<line x1="310.08" y1="712.6" x2="310.08" y2="821.7" stroke="#8af5f7" stroke-width="0.95"/>
<line x1="316.33" y1="712.6" x2="316.33" y2="821.7" stroke="#8af5f7" stroke-width="0.95"/>
<line x1="277.04" y1="722.15" x2="280.64" y2="722.15" stroke="#f59af5" stroke-width="0.9"/>
<line x1="283.29" y1="731.09" x2="286.89" y2="731.09" stroke="#f59af5" stroke-width="0.9"/>
<line x1="289.54" y1="727.59" x2="293.14" y2="727.59" stroke="#f59af5" stroke-width="0.9"/>
<line x1="295.79" y1="727.2" x2="299.39" y2="727.2" stroke="#f59af5" stroke-width="0.9"/>
<line x1="302.03" y1="727.01" x2="305.63" y2="727.01" stroke="#f59af5" stroke-width="0.9"/>
<line x1="308.28" y1="727.2" x2="311.88" y2="727.2" stroke="#f59af5" stroke-width="0.9"/>
<line x1="314.53" y1="727.2" x2="318.13" y2="727.2" stroke="#f59af5" stroke-width="0.9"/>
<line x1="277.04" y1="795.55" x2="280.64" y2="795.55" stroke="#f59af5" stroke-width="0.9"/>
<path d="M246.42,820.01 C247.72,815.29 251.6,798.65 254.19,791.66 C256.78,784.67 259.04,781.15 261.96,778.07 C264.87,775 268.85,774.35 271.66,773.22 C274.48,772.09 276.58,771.86 278.85,771.28 C281.11,770.69 283.22,770.14 285.26,769.72 C287.29,769.3 289.07,769.04 291.08,768.75 C293.09,768.46 295.19,768.2 297.29,767.98 C299.4,767.75 301.56,767.56 303.7,767.39 C305.84,767.23 308,767.17 310.11,767.01 C312.21,766.84 315.29,766.52 316.32,766.42" stroke="#00f0f0" stroke-width="1.0" stroke-dasharray="2.6,2.1" stroke-linejoin="round"/>
<path d="M244.48,795.55 L252.25,778.07 L260.01,762.54 L266.23,758.66" stroke="#00f0f0" stroke-width="1.0" stroke-dasharray="2.6,2.1" stroke-linejoin="round"/>
<path d="M237.69,820.01 C238.82,817.23 242.22,809.01 244.48,803.31 C246.75,797.62 249.01,791.34 251.28,785.84 C253.54,780.34 255.81,774.68 258.07,770.31 C260.34,765.94 262.6,762.38 264.87,759.63 C267.13,756.88 269.33,755.42 271.66,753.8 C273.99,752.18 276.58,751.21 278.85,749.92 C281.11,748.63 283.22,746.85 285.26,746.04 C287.29,745.23 289.07,745.29 291.08,745.07 C293.09,744.84 295.19,744.84 297.29,744.68 C299.4,744.52 301.56,744.35 303.7,744.09 C305.84,743.84 308,743.45 310.11,743.12 C312.21,742.8 315.29,742.32 316.32,742.15" stroke="#ff00ff" stroke-width="1.0" stroke-dasharray="2.6,2.1" stroke-linejoin="round"/>
<path d="M253.22,820.01 C254.19,817.55 256.94,809.66 259.04,805.26 C261.15,800.85 263.57,797 265.84,793.61 C268.1,790.21 270.37,787.13 272.64,784.87 C274.9,782.6 276.36,781.28 279.43,780.01 C282.5,778.75 284.93,777.88 291.08,777.3 C297.23,776.71 312.11,776.65 316.32,776.52" stroke="#00f0f0" stroke-width="0.85" stroke-dasharray="3.5,1,1,1" stroke-linejoin="round"/>
<path d="M242.54,820.01 C243.67,817.23 247.07,809.01 249.34,803.31 C251.6,797.62 254.03,791.02 256.13,785.84 C258.23,780.66 260.01,776.13 261.96,772.25 C263.9,768.36 265.84,765.29 267.78,762.54 C269.72,759.79 271.66,757.52 273.61,755.74 C275.55,753.96 277.49,752.83 279.43,751.86 C281.37,750.89 282.28,750.47 285.26,749.92 C288.23,749.37 292.12,748.88 297.29,748.56 C302.47,748.24 313.15,748.08 316.32,747.98" stroke="#ff00ff" stroke-width="0.85" stroke-dasharray="3.5,1,1,1" stroke-linejoin="round"/>
<path d="M252.25,820.01 C253.22,817.55 256.13,809.98 258.07,805.26 C260.01,800.53 261.79,795.39 263.9,791.66 C266,787.94 268.27,785.03 270.69,782.93 C273.12,780.82 276.03,780.01 278.46,779.04 C280.89,778.07 283.15,777.52 285.26,777.1 C287.36,776.68 289.07,776.68 291.08,776.52 C293.09,776.36 295.19,776.2 297.29,776.13 C299.4,776.07 301.56,776.13 303.7,776.13 C305.84,776.13 308,776.13 310.11,776.13 C312.21,776.13 315.29,776.13 316.32,776.13" stroke="#00f0f0" stroke-width="1.0" stroke-linejoin="round"/>
<path d="M240.6,820.01 C241.73,817.23 245.13,809.01 247.39,803.31 C249.66,797.62 252.09,791.02 254.19,785.84 C256.29,780.66 258.01,776.29 260.01,772.25 C262.02,768.2 264.12,764.48 266.23,761.57 C268.33,758.66 270.53,756.55 272.64,754.77 C274.74,752.99 276.74,751.93 278.85,750.89 C280.95,749.85 283.22,749.14 285.26,748.56 C287.29,747.98 289.07,747.65 291.08,747.4 C293.09,747.14 295.19,747.14 297.29,747.01 C299.4,746.88 301.56,746.72 303.7,746.62 C305.84,746.52 308,746.52 310.11,746.42 C312.21,746.33 315.29,746.1 316.32,746.04" stroke="#ff00ff" stroke-width="1.0" stroke-linejoin="round"/>
</g>
<path d="M252.5,813.77 L255.2,813.77 L253.85,811.07 Z" fill="#d010d0" stroke="#2a1a2a" stroke-width="0.55"/>
<path d="M258.75,790.86 L261.45,790.86 L260.1,788.16 Z" fill="#d010d0" stroke="#2a1a2a" stroke-width="0.55"/>
<path d="M265,775.71 L267.7,775.71 L266.35,773.02 Z" fill="#d010d0" stroke="#2a1a2a" stroke-width="0.55"/>
<path d="M271.25,766 L273.95,766 L272.6,763.31 Z" fill="#d010d0" stroke="#2a1a2a" stroke-width="0.55"/>
<path d="M277.49,760.18 L280.19,760.18 L278.84,757.49 Z" fill="#d010d0" stroke="#2a1a2a" stroke-width="0.55"/>
<path d="M283.74,756.3 L286.44,756.3 L285.09,753.6 Z" fill="#d010d0" stroke="#2a1a2a" stroke-width="0.55"/>
<path d="M289.99,754.35 L292.69,754.35 L291.34,751.66 Z" fill="#d010d0" stroke="#2a1a2a" stroke-width="0.55"/>
<path d="M296.24,753 L298.94,753 L297.59,750.3 Z" fill="#d010d0" stroke="#2a1a2a" stroke-width="0.55"/>
<path d="M302.48,752.02 L305.18,752.02 L303.83,749.33 Z" fill="#d010d0" stroke="#2a1a2a" stroke-width="0.55"/>
<path d="M308.73,751.25 L311.43,751.25 L310.08,748.55 Z" fill="#d010d0" stroke="#2a1a2a" stroke-width="0.55"/>
<path d="M314.98,750.67 L317.68,750.67 L316.33,747.97 Z" fill="#d010d0" stroke="#2a1a2a" stroke-width="0.55"/>
<path d="M258.75,808.39 L261.45,808.39 L260.1,811.09 Z" fill="#10c8c8" stroke="#1a2a2a" stroke-width="0.55"/>
<path d="M265,794.8 L267.7,794.8 L266.35,797.5 Z" fill="#10c8c8" stroke="#1a2a2a" stroke-width="0.55"/>
<path d="M271.25,787.04 L273.95,787.04 L272.6,789.73 Z" fill="#10c8c8" stroke="#1a2a2a" stroke-width="0.55"/>
<path d="M277.49,781.79 L280.19,781.79 L278.84,784.49 Z" fill="#10c8c8" stroke="#1a2a2a" stroke-width="0.55"/>
<path d="M283.74,778.88 L286.44,778.88 L285.09,781.57 Z" fill="#10c8c8" stroke="#1a2a2a" stroke-width="0.55"/>
<path d="M289.99,776.94 L292.69,776.94 L291.34,779.63 Z" fill="#10c8c8" stroke="#1a2a2a" stroke-width="0.55"/>
<path d="M296.24,775.39 L298.94,775.39 L297.59,778.08 Z" fill="#10c8c8" stroke="#1a2a2a" stroke-width="0.55"/>
<path d="M302.48,774.61 L305.18,774.61 L303.83,777.3 Z" fill="#10c8c8" stroke="#1a2a2a" stroke-width="0.55"/>
<path d="M308.73,774.03 L311.43,774.03 L310.08,776.72 Z" fill="#10c8c8" stroke="#1a2a2a" stroke-width="0.55"/>
<path d="M314.98,773.06 L317.68,773.06 L316.33,775.75 Z" fill="#10c8c8" stroke="#1a2a2a" stroke-width="0.55"/>
<clipPath id="c24"><rect x="194.5" y="819.7" width="131.2" height="69.95"/></clipPath>
<g clip-path="url(#c24)" fill="none">
<line x1="203.87" y1="817.7" x2="203.87" y2="891.65" stroke="#8af5f7" stroke-width="0.95"/>
<line x1="210.12" y1="817.7" x2="210.12" y2="891.65" stroke="#8af5f7" stroke-width="0.95"/>
<line x1="216.37" y1="817.7" x2="216.37" y2="891.65" stroke="#8af5f7" stroke-width="0.95"/>
<line x1="222.61" y1="817.7" x2="222.61" y2="891.65" stroke="#8af5f7" stroke-width="0.95"/>
<line x1="228.86" y1="817.7" x2="228.86" y2="891.65" stroke="#8af5f7" stroke-width="0.95"/>
<line x1="235.11" y1="817.7" x2="235.11" y2="891.65" stroke="#8af5f7" stroke-width="0.95"/>
<line x1="241.36" y1="817.7" x2="241.36" y2="891.65" stroke="#8af5f7" stroke-width="0.95"/>
<line x1="247.6" y1="817.7" x2="247.6" y2="891.65" stroke="#8af5f7" stroke-width="0.95"/>
<line x1="253.85" y1="817.7" x2="253.85" y2="891.65" stroke="#8af5f7" stroke-width="0.95"/>
<line x1="260.1" y1="817.7" x2="260.1" y2="891.65" stroke="#8af5f7" stroke-width="0.95"/>
<line x1="266.35" y1="817.7" x2="266.35" y2="891.65" stroke="#8af5f7" stroke-width="0.95"/>
<line x1="272.6" y1="817.7" x2="272.6" y2="891.65" stroke="#8af5f7" stroke-width="0.95"/>
<line x1="278.84" y1="817.7" x2="278.84" y2="891.65" stroke="#8af5f7" stroke-width="0.95"/>
<line x1="285.09" y1="817.7" x2="285.09" y2="891.65" stroke="#8af5f7" stroke-width="0.95"/>
<line x1="291.34" y1="817.7" x2="291.34" y2="891.65" stroke="#8af5f7" stroke-width="0.95"/>
<line x1="297.59" y1="817.7" x2="297.59" y2="891.65" stroke="#8af5f7" stroke-width="0.95"/>
<line x1="303.83" y1="817.7" x2="303.83" y2="891.65" stroke="#8af5f7" stroke-width="0.95"/>
<line x1="310.08" y1="821.91" x2="310.08" y2="871.42" stroke="#8af5f7" stroke-width="0.95"/>
<line x1="308.48" y1="821.91" x2="311.68" y2="821.91" stroke="#7eeff4" stroke-width="0.9"/>
<line x1="308.48" y1="871.42" x2="311.68" y2="871.42" stroke="#7eeff4" stroke-width="0.9"/>
<line x1="316.33" y1="825.8" x2="316.33" y2="867.54" stroke="#8af5f7" stroke-width="0.95"/>
<line x1="314.73" y1="825.8" x2="317.93" y2="825.8" stroke="#7eeff4" stroke-width="0.9"/>
<line x1="314.73" y1="867.54" x2="317.93" y2="867.54" stroke="#7eeff4" stroke-width="0.9"/>
<line x1="308.28" y1="821.91" x2="311.88" y2="821.91" stroke="#7eeff4" stroke-width="0.9"/>
<line x1="308.28" y1="871.42" x2="311.88" y2="871.42" stroke="#7eeff4" stroke-width="0.9"/>
<line x1="314.53" y1="825.8" x2="318.13" y2="825.8" stroke="#7eeff4" stroke-width="0.9"/>
<line x1="314.53" y1="867.54" x2="318.13" y2="867.54" stroke="#7eeff4" stroke-width="0.9"/>
<line x1="283.29" y1="867.15" x2="286.89" y2="867.15" stroke="#f59af5" stroke-width="0.9"/>
<line x1="289.54" y1="873.36" x2="293.14" y2="873.36" stroke="#f59af5" stroke-width="0.9"/>
<line x1="295.79" y1="876.28" x2="299.39" y2="876.28" stroke="#f59af5" stroke-width="0.9"/>
<line x1="302.03" y1="877.25" x2="305.63" y2="877.25" stroke="#f59af5" stroke-width="0.9"/>
<path d="M203.32,845.21 L213.42,838.42 L223.12,832.59 L232.83,829.68 L240.6,828.71 L247.39,842.3 L252.25,834.53 L260.01,828.71 L265.84,820.94" stroke="#00f0f0" stroke-width="1.0" stroke-dasharray="2.6,2.1" stroke-linejoin="round"/>
<path d="M265.84,834.53 L268.75,857.83 L271.66,881.13 L278.46,885.01 L284.67,885.99 L291.08,885.01 L303.7,877.25 L310.11,867.54 L316.32,858.8" stroke="#00f0f0" stroke-width="1.0" stroke-dasharray="2.6,2.1" stroke-linejoin="round"/>
<path d="M203.32,877.25 L213.42,874.34 L223.12,871.42 L234.77,869.09 L246.42,865.6 L254.19,855.89 L260.01,848.12 L267.78,836.47 L277.49,822.88" stroke="#ff00ff" stroke-width="1.0" stroke-dasharray="2.6,2.1" stroke-linejoin="round"/>
<path d="M203.32,825.8 L213.42,823.85 L223.12,822.88 L234.39,820.94 L240.6,827.74 L244.48,842.3 L247.39,883.07 L253.22,875.31 L260.01,867.54 L271.66,856.86 L284.67,850.07 L316.32,846.18" stroke="#00f0f0" stroke-width="0.85" stroke-dasharray="3.5,1,1,1" stroke-linejoin="round"/>
<path d="M203.32,867.93 L223.12,867.54 L234.77,866.57 L242.54,862.69 L248.36,858.8 L256.13,848.12 L265.84,835.5 L277.88,822.88 L283.7,886.96" stroke="#ff00ff" stroke-width="0.85" stroke-dasharray="3.5,1,1,1" stroke-linejoin="round"/>
<path d="M203.32,826.77 L216.33,820.55 L222.74,885.99 L228.95,884.04 L234.39,820.94 L241.57,826.77 L247.39,883.07 L252.25,877.25 L260.01,869.48 L265.84,863.66 L271.66,857.83 L278.46,853.95 L284.67,851.04 L291.08,849.09 L297.29,847.74 L303.7,847.15 L310.11,846.76 L316.32,846.76" stroke="#00f0f0" stroke-width="1.0" stroke-linejoin="round"/>
<path d="M203.32,866.57 L213.42,866.57 L223.12,866.57 L234.77,865.99 L240.6,863.66 L246.42,857.83 L253.22,850.07 L260.01,842.3 L265.84,834.53 L271.66,827.74 L277.88,821.91 L284.28,887.93" stroke="#ff00ff" stroke-width="1.0" stroke-linejoin="round"/>
<path d="M284.28,887.93 C285.42,887.28 288.91,885.01 291.08,884.04 C293.25,883.07 295.19,882.65 297.29,882.1 C299.4,881.55 301.56,881.07 303.7,880.74 C305.84,880.42 308,880.26 310.11,880.16 C312.21,880.06 315.29,880.16 316.32,880.16" stroke="#ff00ff" stroke-width="1.0" stroke-linejoin="round"/>
</g>
<path d="M202.52,878.38 L205.22,878.38 L203.87,875.69 Z" fill="#d010d0" stroke="#2a1a2a" stroke-width="0.55"/>
<path d="M208.77,826.93 L211.47,826.93 L210.12,824.24 Z" fill="#d010d0" stroke="#2a1a2a" stroke-width="0.55"/>
<path d="M215.02,863.82 L217.72,863.82 L216.37,861.13 Z" fill="#d010d0" stroke="#2a1a2a" stroke-width="0.55"/>
<path d="M221.26,823.63 L223.96,823.63 L222.61,820.94 Z" fill="#d010d0" stroke="#2a1a2a" stroke-width="0.55"/>
<path d="M227.51,854.69 L230.21,854.69 L228.86,852 Z" fill="#d010d0" stroke="#2a1a2a" stroke-width="0.55"/>
<path d="M233.76,827.51 L236.46,827.51 L235.11,824.82 Z" fill="#d010d0" stroke="#2a1a2a" stroke-width="0.55"/>
<path d="M240.01,872.95 L242.71,872.95 L241.36,870.25 Z" fill="#d010d0" stroke="#2a1a2a" stroke-width="0.55"/>
<path d="M246.25,825.96 L248.95,825.96 L247.6,823.27 Z" fill="#d010d0" stroke="#2a1a2a" stroke-width="0.55"/>
<path d="M252.5,871 L255.2,871 L253.85,868.31 Z" fill="#d010d0" stroke="#2a1a2a" stroke-width="0.55"/>
<path d="M258.75,854.11 L261.45,854.11 L260.1,851.42 Z" fill="#d010d0" stroke="#2a1a2a" stroke-width="0.55"/>
<path d="M265,840.52 L267.7,840.52 L266.35,837.83 Z" fill="#d010d0" stroke="#2a1a2a" stroke-width="0.55"/>
<path d="M271.25,830.81 L273.95,830.81 L272.6,828.12 Z" fill="#d010d0" stroke="#2a1a2a" stroke-width="0.55"/>
<path d="M277.49,824.02 L280.19,824.02 L278.84,821.32 Z" fill="#d010d0" stroke="#2a1a2a" stroke-width="0.55"/>
<path d="M283.74,889.06 L286.44,889.06 L285.09,886.37 Z" fill="#d010d0" stroke="#2a1a2a" stroke-width="0.55"/>
<path d="M289.99,886.15 L292.69,886.15 L291.34,883.46 Z" fill="#d010d0" stroke="#2a1a2a" stroke-width="0.55"/>
<path d="M296.24,884.21 L298.94,884.21 L297.59,881.51 Z" fill="#d010d0" stroke="#2a1a2a" stroke-width="0.55"/>
<path d="M302.48,883.24 L305.18,883.24 L303.83,880.54 Z" fill="#d010d0" stroke="#2a1a2a" stroke-width="0.55"/>
<path d="M308.73,882.65 L311.43,882.65 L310.08,879.96 Z" fill="#d010d0" stroke="#2a1a2a" stroke-width="0.55"/>
<path d="M314.98,882.27 L317.68,882.27 L316.33,879.57 Z" fill="#d010d0" stroke="#2a1a2a" stroke-width="0.55"/>
<path d="M202.52,821.36 L205.22,821.36 L203.87,824.05 Z" fill="#10c8c8" stroke="#1a2a2a" stroke-width="0.55"/>
<path d="M208.77,886.79 L211.47,886.79 L210.12,889.49 Z" fill="#10c8c8" stroke="#1a2a2a" stroke-width="0.55"/>
<path d="M215.02,840.78 L217.72,840.78 L216.37,843.47 Z" fill="#10c8c8" stroke="#1a2a2a" stroke-width="0.55"/>
<path d="M221.26,856.31 L223.96,856.31 L222.61,859 Z" fill="#10c8c8" stroke="#1a2a2a" stroke-width="0.55"/>
<path d="M227.51,886.79 L230.21,886.79 L228.86,889.49 Z" fill="#10c8c8" stroke="#1a2a2a" stroke-width="0.55"/>
<path d="M233.76,859.61 L236.46,859.61 L235.11,862.3 Z" fill="#10c8c8" stroke="#1a2a2a" stroke-width="0.55"/>
<path d="M240.01,833.79 L242.71,833.79 L241.36,836.48 Z" fill="#10c8c8" stroke="#1a2a2a" stroke-width="0.55"/>
<path d="M246.25,853.79 L248.95,853.79 L247.6,856.48 Z" fill="#10c8c8" stroke="#1a2a2a" stroke-width="0.55"/>
<path d="M252.5,831.85 L255.2,831.85 L253.85,834.54 Z" fill="#10c8c8" stroke="#1a2a2a" stroke-width="0.55"/>
<path d="M258.75,884.27 L261.45,884.27 L260.1,886.96 Z" fill="#10c8c8" stroke="#1a2a2a" stroke-width="0.55"/>
<path d="M265,870.68 L267.7,870.68 L266.35,873.37 Z" fill="#10c8c8" stroke="#1a2a2a" stroke-width="0.55"/>
<path d="M271.25,861.55 L273.95,861.55 L272.6,864.25 Z" fill="#10c8c8" stroke="#1a2a2a" stroke-width="0.55"/>
<path d="M277.49,854.76 L280.19,854.76 L278.84,857.45 Z" fill="#10c8c8" stroke="#1a2a2a" stroke-width="0.55"/>
<path d="M283.74,851.26 L286.44,851.26 L285.09,853.95 Z" fill="#10c8c8" stroke="#1a2a2a" stroke-width="0.55"/>
<path d="M289.99,848.93 L292.69,848.93 L291.34,851.62 Z" fill="#10c8c8" stroke="#1a2a2a" stroke-width="0.55"/>
<path d="M296.24,847.38 L298.94,847.38 L297.59,850.07 Z" fill="#10c8c8" stroke="#1a2a2a" stroke-width="0.55"/>
<path d="M302.48,846.6 L305.18,846.6 L303.83,849.3 Z" fill="#10c8c8" stroke="#1a2a2a" stroke-width="0.55"/>
<path d="M308.73,846.02 L311.43,846.02 L310.08,848.71 Z" fill="#10c8c8" stroke="#1a2a2a" stroke-width="0.55"/>
<path d="M314.98,846.02 L317.68,846.02 L316.33,848.71 Z" fill="#10c8c8" stroke="#1a2a2a" stroke-width="0.55"/>
<rect x="33.6" y="714.6" width="132.2" height="105.1" fill="none" stroke="#262626" stroke-width="1.1"/>
<line x1="61.93" y1="714.6" x2="61.93" y2="711.6" stroke="#262626" stroke-width="1.2"/>
<line x1="99.7" y1="714.6" x2="99.7" y2="711.6" stroke="#262626" stroke-width="1.2"/>
<line x1="137.47" y1="714.6" x2="137.47" y2="711.6" stroke="#262626" stroke-width="1.2"/>
<line x1="33.6" y1="819.7" x2="30.6" y2="819.7" stroke="#262626" stroke-width="1.2"/>
<line x1="165.8" y1="819.7" x2="168.8" y2="819.7" stroke="#262626" stroke-width="1.2"/>
<line x1="33.6" y1="793.43" x2="30.6" y2="793.43" stroke="#262626" stroke-width="1.2"/>
<line x1="165.8" y1="793.43" x2="168.8" y2="793.43" stroke="#262626" stroke-width="1.2"/>
<line x1="33.6" y1="767.15" x2="30.6" y2="767.15" stroke="#262626" stroke-width="1.2"/>
<line x1="165.8" y1="767.15" x2="168.8" y2="767.15" stroke="#262626" stroke-width="1.2"/>
<line x1="33.6" y1="740.88" x2="30.6" y2="740.88" stroke="#262626" stroke-width="1.2"/>
<line x1="165.8" y1="740.88" x2="168.8" y2="740.88" stroke="#262626" stroke-width="1.2"/>
<line x1="33.6" y1="714.6" x2="30.6" y2="714.6" stroke="#262626" stroke-width="1.2"/>
<line x1="165.8" y1="714.6" x2="168.8" y2="714.6" stroke="#262626" stroke-width="1.2"/>
<text x="28.2" y="822.4" font-size="8.5" text-anchor="end" font-family='"Liberation Sans", sans-serif' fill="#262626" >1.5</text>
<text x="28.2" y="796.13" font-size="8.5" text-anchor="end" font-family='"Liberation Sans", sans-serif' fill="#262626" >2</text>
<text x="28.2" y="769.85" font-size="8.5" text-anchor="end" font-family='"Liberation Sans", sans-serif' fill="#262626" >2.5</text>
<text x="28.2" y="743.58" font-size="8.5" text-anchor="end" font-family='"Liberation Sans", sans-serif' fill="#262626" >3</text>
<text x="28.2" y="717.3" font-size="8.5" text-anchor="end" font-family='"Liberation Sans", sans-serif' fill="#262626" >3.5</text>
<rect x="33.6" y="819.7" width="132.2" height="69.95" fill="none" stroke="#262626" stroke-width="1.1"/>
<line x1="61.93" y1="889.65" x2="61.93" y2="892.65" stroke="#262626" stroke-width="1.2"/>
<line x1="99.7" y1="889.65" x2="99.7" y2="892.65" stroke="#262626" stroke-width="1.2"/>
<line x1="137.47" y1="889.65" x2="137.47" y2="892.65" stroke="#262626" stroke-width="1.2"/>
<line x1="33.6" y1="889.65" x2="30.6" y2="889.65" stroke="#262626" stroke-width="1.2"/>
<line x1="165.8" y1="889.65" x2="168.8" y2="889.65" stroke="#262626" stroke-width="1.2"/>
<line x1="33.6" y1="864.21" x2="30.6" y2="864.21" stroke="#262626" stroke-width="1.2"/>
<line x1="165.8" y1="864.21" x2="168.8" y2="864.21" stroke="#262626" stroke-width="1.2"/>
<line x1="33.6" y1="838.78" x2="30.6" y2="838.78" stroke="#262626" stroke-width="1.2"/>
<line x1="165.8" y1="838.78" x2="168.8" y2="838.78" stroke="#262626" stroke-width="1.2"/>
<text x="28.2" y="892.35" font-size="8.5" text-anchor="end" font-family='"Liberation Sans", sans-serif' fill="#262626" >20</text>
<text x="28.2" y="866.91" font-size="8.5" text-anchor="end" font-family='"Liberation Sans", sans-serif' fill="#262626" >40</text>
<text x="28.2" y="841.48" font-size="8.5" text-anchor="end" font-family='"Liberation Sans", sans-serif' fill="#262626" >60</text>
<text x="61.93" y="903.65" font-size="8.5" text-anchor="middle" font-family='"Liberation Sans", sans-serif' fill="#262626" >-2</text>
<text x="99.7" y="903.65" font-size="8.5" text-anchor="middle" font-family='"Liberation Sans", sans-serif' fill="#262626" >0</text>
<text x="137.47" y="903.65" font-size="8.5" text-anchor="middle" font-family='"Liberation Sans", sans-serif' fill="#262626" >2</text>
<rect x="194.5" y="714.6" width="131.2" height="105.1" fill="none" stroke="#262626" stroke-width="1.1"/>
<line x1="222.61" y1="714.6" x2="222.61" y2="711.6" stroke="#262626" stroke-width="1.2"/>
<line x1="260.1" y1="714.6" x2="260.1" y2="711.6" stroke="#262626" stroke-width="1.2"/>
<line x1="297.59" y1="714.6" x2="297.59" y2="711.6" stroke="#262626" stroke-width="1.2"/>
<line x1="194.5" y1="819.7" x2="191.5" y2="819.7" stroke="#262626" stroke-width="1.2"/>
<line x1="325.7" y1="819.7" x2="328.7" y2="819.7" stroke="#262626" stroke-width="1.2"/>
<line x1="194.5" y1="793.43" x2="191.5" y2="793.43" stroke="#262626" stroke-width="1.2"/>
<line x1="325.7" y1="793.43" x2="328.7" y2="793.43" stroke="#262626" stroke-width="1.2"/>
<line x1="194.5" y1="767.15" x2="191.5" y2="767.15" stroke="#262626" stroke-width="1.2"/>
<line x1="325.7" y1="767.15" x2="328.7" y2="767.15" stroke="#262626" stroke-width="1.2"/>
<line x1="194.5" y1="740.88" x2="191.5" y2="740.88" stroke="#262626" stroke-width="1.2"/>
<line x1="325.7" y1="740.88" x2="328.7" y2="740.88" stroke="#262626" stroke-width="1.2"/>
<line x1="194.5" y1="714.6" x2="191.5" y2="714.6" stroke="#262626" stroke-width="1.2"/>
<line x1="325.7" y1="714.6" x2="328.7" y2="714.6" stroke="#262626" stroke-width="1.2"/>
<text x="189.1" y="822.4" font-size="8.5" text-anchor="end" font-family='"Liberation Sans", sans-serif' fill="#262626" >-6</text>
<text x="189.1" y="796.13" font-size="8.5" text-anchor="end" font-family='"Liberation Sans", sans-serif' fill="#262626" >-4</text>
<text x="189.1" y="769.85" font-size="8.5" text-anchor="end" font-family='"Liberation Sans", sans-serif' fill="#262626" >-2</text>
<text x="189.1" y="743.58" font-size="8.5" text-anchor="end" font-family='"Liberation Sans", sans-serif' fill="#262626" >0</text>
<text x="189.1" y="717.3" font-size="8.5" text-anchor="end" font-family='"Liberation Sans", sans-serif' fill="#262626" >2</text>
<rect x="194.5" y="819.7" width="131.2" height="69.95" fill="none" stroke="#262626" stroke-width="1.1"/>
<line x1="222.61" y1="889.65" x2="222.61" y2="892.65" stroke="#262626" stroke-width="1.2"/>
<line x1="260.1" y1="889.65" x2="260.1" y2="892.65" stroke="#262626" stroke-width="1.2"/>
<line x1="297.59" y1="889.65" x2="297.59" y2="892.65" stroke="#262626" stroke-width="1.2"/>
<line x1="194.5" y1="874.11" x2="191.5" y2="874.11" stroke="#262626" stroke-width="1.2"/>
<line x1="325.7" y1="874.11" x2="328.7" y2="874.11" stroke="#262626" stroke-width="1.2"/>
<line x1="194.5" y1="854.68" x2="191.5" y2="854.68" stroke="#262626" stroke-width="1.2"/>
<line x1="325.7" y1="854.68" x2="328.7" y2="854.68" stroke="#262626" stroke-width="1.2"/>
<line x1="194.5" y1="835.24" x2="191.5" y2="835.24" stroke="#262626" stroke-width="1.2"/>
<line x1="325.7" y1="835.24" x2="328.7" y2="835.24" stroke="#262626" stroke-width="1.2"/>
<text x="189.1" y="876.81" font-size="8.5" text-anchor="end" font-family='"Liberation Sans", sans-serif' fill="#262626" >-100</text>
<text x="189.1" y="857.38" font-size="8.5" text-anchor="end" font-family='"Liberation Sans", sans-serif' fill="#262626" >0</text>
<text x="189.1" y="837.94" font-size="8.5" text-anchor="end" font-family='"Liberation Sans", sans-serif' fill="#262626" >100</text>
<text x="222.61" y="903.65" font-size="8.5" text-anchor="middle" font-family='"Liberation Sans", sans-serif' fill="#262626" >-2</text>
<text x="260.1" y="903.65" font-size="8.5" text-anchor="middle" font-family='"Liberation Sans", sans-serif' fill="#262626" >0</text>
<text x="297.59" y="903.65" font-size="8.5" text-anchor="middle" font-family='"Liberation Sans", sans-serif' fill="#262626" >2</text>
<text x="99.7" y="914.45" font-size="9.6" text-anchor="middle" font-family='"Liberation Sans", sans-serif' fill="#262626">log<tspan font-size="8.5" dy="3.3">10</tspan><tspan dy="-3.3">( Period ) [s]</tspan></text>
<text x="260.1" y="914.45" font-size="9.6" text-anchor="middle" font-family='"Liberation Sans", sans-serif' fill="#262626">log<tspan font-size="8.5" dy="3.3">10</tspan><tspan dy="-3.3">( Period ) [s]</tspan></text>
<text transform="translate(8.8,768.55) rotate(-90)" x="0" y="0" font-size="9.9" text-anchor="middle" font-family='"Liberation Sans", sans-serif' fill="#262626">log<tspan font-size="7.2" dy="2.6">10</tspan><tspan dy="-2.6">( </tspan><tspan font-family='"Liberation Serif", serif' font-style="italic">ρ</tspan><tspan font-size="7.2" dy="2.6">app</tspan><tspan dy="-2.6"> ) [Ωm]</tspan></text>
<text transform="translate(15.2,854.68) rotate(-90)" x="0" y="0" font-size="9.85" text-anchor="middle" font-family='"Liberation Sans", sans-serif' fill="#262626">Phase [°]</text>
<text x="149.1" y="701.6" font-size="12.9" font-weight="bold" font-family='"Liberation Serif", serif' fill="#111">(f) Station S<tspan font-size="9" dy="2.5">6</tspan></text>
<line x1="421.39" y1="714.5" x2="421.39" y2="819.6" stroke="#d0d0d0" stroke-width="0.75"/>
<line x1="459.1" y1="714.5" x2="459.1" y2="819.6" stroke="#d0d0d0" stroke-width="0.75"/>
<line x1="496.81" y1="714.5" x2="496.81" y2="819.6" stroke="#d0d0d0" stroke-width="0.75"/>
<line x1="393.1" y1="793.33" x2="525.1" y2="793.33" stroke="#d0d0d0" stroke-width="0.75"/>
<line x1="393.1" y1="767.05" x2="525.1" y2="767.05" stroke="#d0d0d0" stroke-width="0.75"/>
<line x1="393.1" y1="740.77" x2="525.1" y2="740.77" stroke="#d0d0d0" stroke-width="0.75"/>
<line x1="421.39" y1="819.6" x2="421.39" y2="889.55" stroke="#d0d0d0" stroke-width="0.75"/>
<line x1="459.1" y1="819.6" x2="459.1" y2="889.55" stroke="#d0d0d0" stroke-width="0.75"/>
<line x1="496.81" y1="819.6" x2="496.81" y2="889.55" stroke="#d0d0d0" stroke-width="0.75"/>
<line x1="393.1" y1="864.11" x2="525.1" y2="864.11" stroke="#d0d0d0" stroke-width="0.75"/>
<line x1="393.1" y1="838.68" x2="525.1" y2="838.68" stroke="#d0d0d0" stroke-width="0.75"/>
<line x1="578.89" y1="714.5" x2="578.89" y2="819.6" stroke="#d0d0d0" stroke-width="0.75"/>
<line x1="616.2" y1="714.5" x2="616.2" y2="819.6" stroke="#d0d0d0" stroke-width="0.75"/>
<line x1="653.51" y1="714.5" x2="653.51" y2="819.6" stroke="#d0d0d0" stroke-width="0.75"/>
<line x1="550.9" y1="793.33" x2="681.5" y2="793.33" stroke="#d0d0d0" stroke-width="0.75"/>
<line x1="550.9" y1="767.05" x2="681.5" y2="767.05" stroke="#d0d0d0" stroke-width="0.75"/>
<line x1="550.9" y1="740.77" x2="681.5" y2="740.77" stroke="#d0d0d0" stroke-width="0.75"/>
<line x1="578.89" y1="819.6" x2="578.89" y2="889.55" stroke="#d0d0d0" stroke-width="0.75"/>
<line x1="616.2" y1="819.6" x2="616.2" y2="889.55" stroke="#d0d0d0" stroke-width="0.75"/>
<line x1="653.51" y1="819.6" x2="653.51" y2="889.55" stroke="#d0d0d0" stroke-width="0.75"/>
<line x1="550.9" y1="874.01" x2="681.5" y2="874.01" stroke="#d0d0d0" stroke-width="0.75"/>
<line x1="550.9" y1="854.58" x2="681.5" y2="854.58" stroke="#d0d0d0" stroke-width="0.75"/>
<line x1="550.9" y1="835.14" x2="681.5" y2="835.14" stroke="#d0d0d0" stroke-width="0.75"/>
<clipPath id="c25"><rect x="393.1" y="714.5" width="132" height="105.1"/></clipPath>
<g clip-path="url(#c25)" fill="none">
<path d="M401.8,767.99 C407.18,767.93 427.56,767.5 434.08,767.6 C440.6,767.7 438.81,768.25 440.93,768.58 C443.05,768.9 444.84,769.56 446.8,769.56 C448.75,769.56 450.61,769.33 452.66,768.58 C454.72,767.83 457,766.52 459.12,765.06 C461.24,763.59 463.26,761.54 465.38,759.78 C467.5,758.01 469.72,756.03 471.84,754.49 C473.95,752.96 476.01,751.75 478.09,750.58 C480.18,749.41 482.24,748.3 484.35,747.45 C486.47,746.6 488.69,746.05 490.81,745.49 C492.93,744.94 494.95,744.52 497.07,744.13 C499.19,743.73 501.37,743.44 503.53,743.15 C505.68,742.85 507.86,742.59 509.98,742.36 C512.1,742.14 515.2,741.88 516.24,741.78" stroke="#ff0000" stroke-width="1.0" stroke-dasharray="2.6,2.1" stroke-linejoin="round"/>
<path d="M401.8,768.19 C407.18,768.12 427.56,767.7 434.08,767.8 C440.6,767.89 438.81,768.45 440.93,768.77 C443.05,769.1 444.84,769.75 446.8,769.75 C448.75,769.75 450.61,769.52 452.66,768.77 C454.72,768.02 457,766.72 459.12,765.25 C461.24,763.79 463.26,761.73 465.38,759.97 C467.5,758.21 469.72,756.22 471.84,754.69 C473.95,753.16 476.01,751.95 478.09,750.78 C480.18,749.6 482.24,748.49 484.35,747.65 C486.47,746.8 488.69,746.24 490.81,745.69 C492.93,745.14 494.95,744.71 497.07,744.32 C499.19,743.93 501.37,743.64 503.53,743.34 C505.68,743.05 507.86,742.79 509.98,742.56 C512.1,742.33 515.2,742.07 516.24,741.97" stroke="#ff0000" stroke-width="1.1" stroke-linejoin="round"/>
<path d="M401.8,769.09 C407.18,769.02 427.56,768.6 434.08,768.7 C440.6,768.79 438.81,769.35 440.93,769.67 C443.05,770 444.84,770.65 446.8,770.65 C448.75,770.65 450.61,770.42 452.66,769.67 C454.72,768.92 457,767.62 459.12,766.15 C461.24,764.69 463.26,762.63 465.38,760.87 C467.5,759.11 469.72,757.12 471.84,755.59 C473.95,754.06 476.01,752.85 478.09,751.68 C480.18,750.5 482.24,749.39 484.35,748.55 C486.47,747.7 488.69,747.14 490.81,746.59 C492.93,746.04 494.95,745.61 497.07,745.22 C499.19,744.83 501.37,744.54 503.53,744.24 C505.68,743.95 507.86,743.69 509.98,743.46 C512.1,743.23 515.2,742.97 516.24,742.87" stroke="#ff0000" stroke-width="0.6" stroke-dasharray="3,1.2,0.8,1.2"/>
<path d="M401.8,768.19 C407.18,768.12 426.58,767.53 434.08,767.8 C441.58,768.06 443.7,769.52 446.8,769.75 C449.89,769.98 450.61,769.72 452.66,769.16 C454.72,768.61 457,767.63 459.12,766.43 C461.24,765.22 463.26,763.33 465.38,761.93 C467.5,760.53 469.65,759.48 471.84,758.01 C474.02,756.55 476.4,754.43 478.49,753.12 C480.57,751.82 482.3,751.17 484.35,750.19 C486.41,749.21 488.69,748.07 490.81,747.26 C492.93,746.44 494.95,745.89 497.07,745.3 C499.19,744.71 501.37,744.13 503.53,743.73 C505.68,743.34 507.86,743.18 509.98,742.95 C512.1,742.72 515.2,742.46 516.24,742.36" stroke="#0000ff" stroke-width="1.0" stroke-dasharray="2.6,2.1" stroke-linejoin="round"/>
<path d="M401.8,768.48 C407.18,768.42 427.56,767.99 434.08,768.09 C440.6,768.19 438.81,768.74 440.93,769.07 C443.05,769.39 444.84,770.05 446.8,770.05 C448.75,770.05 450.61,769.82 452.66,769.07 C454.72,768.32 457,767.01 459.12,765.55 C461.24,764.08 463.26,762.02 465.38,760.26 C467.5,758.5 469.72,756.51 471.84,754.98 C473.95,753.45 476.01,752.24 478.09,751.07 C480.18,749.9 482.24,748.79 484.35,747.94 C486.47,747.09 488.69,746.54 490.81,745.98 C492.93,745.43 494.95,745.01 497.07,744.61 C499.19,744.22 501.37,743.93 503.53,743.64 C505.68,743.34 507.86,743.08 509.98,742.85 C512.1,742.63 515.2,742.36 516.24,742.27" stroke="#0000ff" stroke-width="1.1" stroke-linejoin="round"/>
<path d="M401.8,769.38 C407.18,769.32 427.56,768.89 434.08,768.99 C440.6,769.09 438.81,769.64 440.93,769.97 C443.05,770.29 444.84,770.95 446.8,770.95 C448.75,770.95 450.61,770.72 452.66,769.97 C454.72,769.22 457,767.91 459.12,766.45 C461.24,764.98 463.26,762.92 465.38,761.16 C467.5,759.4 469.72,757.41 471.84,755.88 C473.95,754.35 476.01,753.14 478.09,751.97 C480.18,750.8 482.24,749.69 484.35,748.84 C486.47,747.99 488.69,747.44 490.81,746.88 C492.93,746.33 494.95,745.91 497.07,745.51 C499.19,745.12 501.37,744.83 503.53,744.54 C505.68,744.24 507.86,743.98 509.98,743.75 C512.1,743.53 515.2,743.26 516.24,743.17" stroke="#0000ff" stroke-width="0.6" stroke-dasharray="3,1.2,0.8,1.2"/>
</g>
<path d="M401.28,768.93 L403.78,768.93 L402.53,766.43 Z" fill="#e00000" stroke="#2a0a0a" stroke-width="0.55"/>
<path d="M407.56,768.85 L410.06,768.85 L408.81,766.36 Z" fill="#e00000" stroke="#2a0a0a" stroke-width="0.55"/>
<path d="M413.85,768.78 L416.35,768.78 L415.1,766.28 Z" fill="#e00000" stroke="#2a0a0a" stroke-width="0.55"/>
<path d="M420.14,768.7 L422.64,768.7 L421.39,766.21 Z" fill="#e00000" stroke="#2a0a0a" stroke-width="0.55"/>
<path d="M426.42,768.62 L428.92,768.62 L427.67,766.13 Z" fill="#e00000" stroke="#2a0a0a" stroke-width="0.55"/>
<path d="M432.71,768.55 L435.21,768.55 L433.96,766.05 Z" fill="#e00000" stroke="#2a0a0a" stroke-width="0.55"/>
<path d="M438.99,769.43 L441.49,769.43 L440.24,766.93 Z" fill="#e00000" stroke="#2a0a0a" stroke-width="0.55"/>
<path d="M445.28,770.46 L447.78,770.46 L446.53,767.96 Z" fill="#e00000" stroke="#2a0a0a" stroke-width="0.55"/>
<path d="M451.56,769.44 L454.06,769.44 L452.81,766.95 Z" fill="#e00000" stroke="#2a0a0a" stroke-width="0.55"/>
<path d="M457.85,766.01 L460.35,766.01 L459.1,763.52 Z" fill="#e00000" stroke="#2a0a0a" stroke-width="0.55"/>
<path d="M464.14,760.72 L466.64,760.72 L465.39,758.22 Z" fill="#e00000" stroke="#2a0a0a" stroke-width="0.55"/>
<path d="M470.42,755.57 L472.92,755.57 L471.67,753.08 Z" fill="#e00000" stroke="#2a0a0a" stroke-width="0.55"/>
<path d="M476.71,751.61 L479.21,751.61 L477.96,749.12 Z" fill="#e00000" stroke="#2a0a0a" stroke-width="0.55"/>
<path d="M482.99,748.45 L485.49,748.45 L484.24,745.96 Z" fill="#e00000" stroke="#2a0a0a" stroke-width="0.55"/>
<path d="M489.28,746.53 L491.78,746.53 L490.53,744.03 Z" fill="#e00000" stroke="#2a0a0a" stroke-width="0.55"/>
<path d="M495.56,745.13 L498.06,745.13 L496.81,742.63 Z" fill="#e00000" stroke="#2a0a0a" stroke-width="0.55"/>
<path d="M501.85,744.16 L504.35,744.16 L503.1,741.66 Z" fill="#e00000" stroke="#2a0a0a" stroke-width="0.55"/>
<path d="M508.14,743.38 L510.64,743.38 L509.39,740.89 Z" fill="#e00000" stroke="#2a0a0a" stroke-width="0.55"/>
<path d="M514.42,742.78 L516.92,742.78 L515.67,740.28 Z" fill="#e00000" stroke="#2a0a0a" stroke-width="0.55"/>
<path d="M401.28,767.72 L403.78,767.72 L402.53,770.22 Z" fill="#0000e8" stroke="#0a0a30" stroke-width="0.55"/>
<path d="M407.56,767.65 L410.06,767.65 L408.81,770.14 Z" fill="#0000e8" stroke="#0a0a30" stroke-width="0.55"/>
<path d="M413.85,767.57 L416.35,767.57 L415.1,770.06 Z" fill="#0000e8" stroke="#0a0a30" stroke-width="0.55"/>
<path d="M420.14,767.49 L422.64,767.49 L421.39,769.99 Z" fill="#0000e8" stroke="#0a0a30" stroke-width="0.55"/>
<path d="M426.42,767.42 L428.92,767.42 L427.67,769.91 Z" fill="#0000e8" stroke="#0a0a30" stroke-width="0.55"/>
<path d="M432.71,767.34 L435.21,767.34 L433.96,769.83 Z" fill="#0000e8" stroke="#0a0a30" stroke-width="0.55"/>
<path d="M438.99,768.22 L441.49,768.22 L440.24,770.71 Z" fill="#0000e8" stroke="#0a0a30" stroke-width="0.55"/>
<path d="M445.28,769.25 L447.78,769.25 L446.53,771.74 Z" fill="#0000e8" stroke="#0a0a30" stroke-width="0.55"/>
<path d="M451.56,768.24 L454.06,768.24 L452.81,770.73 Z" fill="#0000e8" stroke="#0a0a30" stroke-width="0.55"/>
<path d="M457.85,764.81 L460.35,764.81 L459.1,767.3 Z" fill="#0000e8" stroke="#0a0a30" stroke-width="0.55"/>
<path d="M464.14,759.51 L466.64,759.51 L465.39,762 Z" fill="#0000e8" stroke="#0a0a30" stroke-width="0.55"/>
<path d="M470.42,754.37 L472.92,754.37 L471.67,756.86 Z" fill="#0000e8" stroke="#0a0a30" stroke-width="0.55"/>
<path d="M476.71,750.41 L479.21,750.41 L477.96,752.9 Z" fill="#0000e8" stroke="#0a0a30" stroke-width="0.55"/>
<path d="M482.99,747.25 L485.49,747.25 L484.24,749.74 Z" fill="#0000e8" stroke="#0a0a30" stroke-width="0.55"/>
<path d="M489.28,745.32 L491.78,745.32 L490.53,747.81 Z" fill="#0000e8" stroke="#0a0a30" stroke-width="0.55"/>
<path d="M495.56,743.92 L498.06,743.92 L496.81,746.41 Z" fill="#0000e8" stroke="#0a0a30" stroke-width="0.55"/>
<path d="M501.85,742.95 L504.35,742.95 L503.1,745.44 Z" fill="#0000e8" stroke="#0a0a30" stroke-width="0.55"/>
<path d="M508.14,742.18 L510.64,742.18 L509.39,744.67 Z" fill="#0000e8" stroke="#0a0a30" stroke-width="0.55"/>
<path d="M514.42,741.57 L516.92,741.57 L515.67,744.06 Z" fill="#0000e8" stroke="#0a0a30" stroke-width="0.55"/>
<clipPath id="c26"><rect x="393.1" y="819.6" width="132" height="69.95"/></clipPath>
<g clip-path="url(#c26)" fill="none">
<path d="M401.8,857.34 C405.23,857.34 415.99,857.47 422.34,857.34 C428.7,857.21 435.87,856.23 439.95,856.56 C444.02,856.89 444.68,857.93 446.8,859.3 C448.91,860.67 450.61,863.11 452.66,864.78 C454.72,866.44 457,868.3 459.12,869.27 C461.24,870.25 463.26,870.58 465.38,870.64 C467.5,870.71 469.72,870.15 471.84,869.67 C473.95,869.18 476.01,868.36 478.09,867.71 C480.18,867.06 482.24,866.41 484.35,865.75 C486.47,865.1 488.69,864.45 490.81,863.8 C492.93,863.15 494.95,862.43 497.07,861.84 C499.19,861.25 501.37,860.67 503.53,860.28 C505.68,859.88 507.86,859.56 509.98,859.49 C512.1,859.43 515.2,859.82 516.24,859.88" stroke="#ff0000" stroke-width="1.0" stroke-dasharray="2.6,2.1" stroke-linejoin="round"/>
<path d="M401.8,857.54 C405.23,857.54 415.99,857.67 422.34,857.54 C428.7,857.41 435.87,856.43 439.95,856.75 C444.02,857.08 444.68,858.12 446.8,859.49 C448.91,860.86 450.61,863.31 452.66,864.97 C454.72,866.63 457,868.49 459.12,869.47 C461.24,870.45 463.26,870.77 465.38,870.84 C467.5,870.9 469.72,870.35 471.84,869.86 C473.95,869.37 476.01,868.56 478.09,867.91 C480.18,867.25 482.24,866.6 484.35,865.95 C486.47,865.3 488.69,864.64 490.81,863.99 C492.93,863.34 494.95,862.62 497.07,862.04 C499.19,861.45 501.37,860.86 503.53,860.47 C505.68,860.08 507.86,859.75 509.98,859.69 C512.1,859.62 515.2,860.02 516.24,860.08" stroke="#ff0000" stroke-width="1.1" stroke-linejoin="round"/>
<path d="M401.8,858.44 C405.23,858.44 415.99,858.57 422.34,858.44 C428.7,858.31 435.87,857.33 439.95,857.65 C444.02,857.98 444.68,859.02 446.8,860.39 C448.91,861.76 450.61,864.21 452.66,865.87 C454.72,867.53 457,869.39 459.12,870.37 C461.24,871.35 463.26,871.67 465.38,871.74 C467.5,871.8 469.72,871.25 471.84,870.76 C473.95,870.27 476.01,869.46 478.09,868.81 C480.18,868.15 482.24,867.5 484.35,866.85 C486.47,866.2 488.69,865.54 490.81,864.89 C492.93,864.24 494.95,863.52 497.07,862.94 C499.19,862.35 501.37,861.76 503.53,861.37 C505.68,860.98 507.86,860.65 509.98,860.59 C512.1,860.52 515.2,860.92 516.24,860.98" stroke="#ff0000" stroke-width="0.6" stroke-dasharray="3,1.2,0.8,1.2"/>
<path d="M401.8,856.17 C405.23,856.4 415.99,857.44 422.34,857.54 C428.7,857.64 435.87,856.43 439.95,856.75 C444.02,857.08 444.68,858.03 446.8,859.49 C448.91,860.96 450.61,863.83 452.66,865.56 C454.72,867.29 457,868.98 459.12,869.86 C461.24,870.74 463.26,870.84 465.38,870.84 C467.5,870.84 469.72,870.35 471.84,869.86 C473.95,869.37 474.93,868.82 478.09,867.91 C481.26,866.99 486.57,865.53 490.81,864.38 C495.05,863.24 500.33,861.19 503.53,861.06 C506.72,860.93 507.86,862.85 509.98,863.6 C512.1,864.35 515.2,865.23 516.24,865.56" stroke="#0000ff" stroke-width="1.0" stroke-dasharray="2.6,2.1" stroke-linejoin="round"/>
<path d="M401.8,857.93 C405.23,857.93 415.99,858.06 422.34,857.93 C428.7,857.8 435.87,856.82 439.95,857.15 C444.02,857.47 444.68,858.52 446.8,859.88 C448.91,861.25 450.61,863.7 452.66,865.36 C454.72,867.02 457,868.88 459.12,869.86 C461.24,870.84 463.26,871.17 465.38,871.23 C467.5,871.3 469.72,870.74 471.84,870.25 C473.95,869.76 476.01,868.95 478.09,868.3 C480.18,867.64 482.24,866.99 484.35,866.34 C486.47,865.69 488.69,865.04 490.81,864.38 C492.93,863.73 494.95,863.01 497.07,862.43 C499.19,861.84 501.37,861.25 503.53,860.86 C505.68,860.47 507.86,860.15 509.98,860.08 C512.1,860.02 515.2,860.41 516.24,860.47" stroke="#0000ff" stroke-width="1.1" stroke-linejoin="round"/>
<path d="M401.8,858.83 C405.23,858.83 415.99,858.96 422.34,858.83 C428.7,858.7 435.87,857.72 439.95,858.05 C444.02,858.37 444.68,859.42 446.8,860.78 C448.91,862.15 450.61,864.6 452.66,866.26 C454.72,867.92 457,869.78 459.12,870.76 C461.24,871.74 463.26,872.07 465.38,872.13 C467.5,872.2 469.72,871.64 471.84,871.15 C473.95,870.66 476.01,869.85 478.09,869.2 C480.18,868.54 482.24,867.89 484.35,867.24 C486.47,866.59 488.69,865.94 490.81,865.28 C492.93,864.63 494.95,863.91 497.07,863.33 C499.19,862.74 501.37,862.15 503.53,861.76 C505.68,861.37 507.86,861.05 509.98,860.98 C512.1,860.92 515.2,861.31 516.24,861.37" stroke="#0000ff" stroke-width="0.6" stroke-dasharray="3,1.2,0.8,1.2"/>
</g>
<path d="M401.28,858.29 L403.78,858.29 L402.53,855.79 Z" fill="#e00000" stroke="#2a0a0a" stroke-width="0.55"/>
<path d="M407.56,858.29 L410.06,858.29 L408.81,855.79 Z" fill="#e00000" stroke="#2a0a0a" stroke-width="0.55"/>
<path d="M413.85,858.29 L416.35,858.29 L415.1,855.79 Z" fill="#e00000" stroke="#2a0a0a" stroke-width="0.55"/>
<path d="M420.14,858.29 L422.64,858.29 L421.39,855.79 Z" fill="#e00000" stroke="#2a0a0a" stroke-width="0.55"/>
<path d="M426.42,858.05 L428.92,858.05 L427.67,855.56 Z" fill="#e00000" stroke="#2a0a0a" stroke-width="0.55"/>
<path d="M432.71,857.77 L435.21,857.77 L433.96,855.28 Z" fill="#e00000" stroke="#2a0a0a" stroke-width="0.55"/>
<path d="M438.99,857.62 L441.49,857.62 L440.24,855.13 Z" fill="#e00000" stroke="#2a0a0a" stroke-width="0.55"/>
<path d="M445.28,860.14 L447.78,860.14 L446.53,857.64 Z" fill="#e00000" stroke="#2a0a0a" stroke-width="0.55"/>
<path d="M451.56,865.83 L454.06,865.83 L452.81,863.33 Z" fill="#e00000" stroke="#2a0a0a" stroke-width="0.55"/>
<path d="M457.85,870.21 L460.35,870.21 L459.1,867.71 Z" fill="#e00000" stroke="#2a0a0a" stroke-width="0.55"/>
<path d="M464.14,871.59 L466.64,871.59 L465.39,869.09 Z" fill="#e00000" stroke="#2a0a0a" stroke-width="0.55"/>
<path d="M470.42,870.64 L472.92,870.64 L471.67,868.14 Z" fill="#e00000" stroke="#2a0a0a" stroke-width="0.55"/>
<path d="M476.71,868.7 L479.21,868.7 L477.96,866.2 Z" fill="#e00000" stroke="#2a0a0a" stroke-width="0.55"/>
<path d="M482.99,866.73 L485.49,866.73 L484.24,864.24 Z" fill="#e00000" stroke="#2a0a0a" stroke-width="0.55"/>
<path d="M489.28,864.83 L491.78,864.83 L490.53,862.33 Z" fill="#e00000" stroke="#2a0a0a" stroke-width="0.55"/>
<path d="M495.56,862.87 L498.06,862.87 L496.81,860.37 Z" fill="#e00000" stroke="#2a0a0a" stroke-width="0.55"/>
<path d="M501.85,861.32 L504.35,861.32 L503.1,858.83 Z" fill="#e00000" stroke="#2a0a0a" stroke-width="0.55"/>
<path d="M508.14,860.51 L510.64,860.51 L509.39,858.02 Z" fill="#e00000" stroke="#2a0a0a" stroke-width="0.55"/>
<path d="M514.42,860.79 L516.92,860.79 L515.67,858.3 Z" fill="#e00000" stroke="#2a0a0a" stroke-width="0.55"/>
<path d="M401.28,857.18 L403.78,857.18 L402.53,859.67 Z" fill="#0000e8" stroke="#0a0a30" stroke-width="0.55"/>
<path d="M407.56,857.18 L410.06,857.18 L408.81,859.67 Z" fill="#0000e8" stroke="#0a0a30" stroke-width="0.55"/>
<path d="M413.85,857.18 L416.35,857.18 L415.1,859.67 Z" fill="#0000e8" stroke="#0a0a30" stroke-width="0.55"/>
<path d="M420.14,857.18 L422.64,857.18 L421.39,859.67 Z" fill="#0000e8" stroke="#0a0a30" stroke-width="0.55"/>
<path d="M426.42,856.94 L428.92,856.94 L427.67,859.44 Z" fill="#0000e8" stroke="#0a0a30" stroke-width="0.55"/>
<path d="M432.71,856.66 L435.21,856.66 L433.96,859.16 Z" fill="#0000e8" stroke="#0a0a30" stroke-width="0.55"/>
<path d="M438.99,856.51 L441.49,856.51 L440.24,859.01 Z" fill="#0000e8" stroke="#0a0a30" stroke-width="0.55"/>
<path d="M445.28,859.03 L447.78,859.03 L446.53,861.52 Z" fill="#0000e8" stroke="#0a0a30" stroke-width="0.55"/>
<path d="M451.56,864.72 L454.06,864.72 L452.81,867.21 Z" fill="#0000e8" stroke="#0a0a30" stroke-width="0.55"/>
<path d="M457.85,869.1 L460.35,869.1 L459.1,871.59 Z" fill="#0000e8" stroke="#0a0a30" stroke-width="0.55"/>
<path d="M464.14,870.48 L466.64,870.48 L465.39,872.97 Z" fill="#0000e8" stroke="#0a0a30" stroke-width="0.55"/>
<path d="M470.42,869.53 L472.92,869.53 L471.67,872.02 Z" fill="#0000e8" stroke="#0a0a30" stroke-width="0.55"/>
<path d="M476.71,867.59 L479.21,867.59 L477.96,870.08 Z" fill="#0000e8" stroke="#0a0a30" stroke-width="0.55"/>
<path d="M482.99,865.63 L485.49,865.63 L484.24,868.12 Z" fill="#0000e8" stroke="#0a0a30" stroke-width="0.55"/>
<path d="M489.28,863.72 L491.78,863.72 L490.53,866.21 Z" fill="#0000e8" stroke="#0a0a30" stroke-width="0.55"/>
<path d="M495.56,861.76 L498.06,861.76 L496.81,864.25 Z" fill="#0000e8" stroke="#0a0a30" stroke-width="0.55"/>
<path d="M501.85,860.22 L504.35,860.22 L503.1,862.71 Z" fill="#0000e8" stroke="#0a0a30" stroke-width="0.55"/>
<path d="M508.14,859.4 L510.64,859.4 L509.39,861.9 Z" fill="#0000e8" stroke="#0a0a30" stroke-width="0.55"/>
<path d="M514.42,859.69 L516.92,859.69 L515.67,862.18 Z" fill="#0000e8" stroke="#0a0a30" stroke-width="0.55"/>
<clipPath id="c27"><rect x="550.9" y="714.5" width="130.6" height="105.1"/></clipPath>
<g clip-path="url(#c27)" fill="none">
<line x1="560.23" y1="712.5" x2="560.23" y2="821.6" stroke="#8af5f7" stroke-width="0.95"/>
<line x1="566.45" y1="712.5" x2="566.45" y2="821.6" stroke="#8af5f7" stroke-width="0.95"/>
<line x1="572.67" y1="712.5" x2="572.67" y2="821.6" stroke="#8af5f7" stroke-width="0.95"/>
<line x1="578.89" y1="712.5" x2="578.89" y2="821.6" stroke="#8af5f7" stroke-width="0.95"/>
<line x1="585.1" y1="712.5" x2="585.1" y2="821.6" stroke="#8af5f7" stroke-width="0.95"/>
<line x1="591.32" y1="712.5" x2="591.32" y2="821.6" stroke="#8af5f7" stroke-width="0.95"/>
<line x1="597.54" y1="712.5" x2="597.54" y2="821.6" stroke="#8af5f7" stroke-width="0.95"/>
<line x1="603.76" y1="712.5" x2="603.76" y2="821.6" stroke="#8af5f7" stroke-width="0.95"/>
<line x1="609.98" y1="712.5" x2="609.98" y2="821.6" stroke="#8af5f7" stroke-width="0.95"/>
<line x1="616.2" y1="712.5" x2="616.2" y2="821.6" stroke="#8af5f7" stroke-width="0.95"/>
<line x1="622.42" y1="712.5" x2="622.42" y2="821.6" stroke="#8af5f7" stroke-width="0.95"/>
<line x1="628.64" y1="712.5" x2="628.64" y2="821.6" stroke="#8af5f7" stroke-width="0.95"/>
<line x1="634.86" y1="712.5" x2="634.86" y2="821.6" stroke="#8af5f7" stroke-width="0.95"/>
<line x1="641.08" y1="712.5" x2="641.08" y2="821.6" stroke="#8af5f7" stroke-width="0.95"/>
<line x1="647.3" y1="712.5" x2="647.3" y2="821.6" stroke="#8af5f7" stroke-width="0.95"/>
<line x1="653.51" y1="712.5" x2="653.51" y2="821.6" stroke="#8af5f7" stroke-width="0.95"/>
<line x1="659.73" y1="712.5" x2="659.73" y2="821.6" stroke="#8af5f7" stroke-width="0.95"/>
<line x1="665.95" y1="712.5" x2="665.95" y2="821.6" stroke="#8af5f7" stroke-width="0.95"/>
<line x1="672.17" y1="712.5" x2="672.17" y2="821.6" stroke="#8af5f7" stroke-width="0.95"/>
<line x1="620.62" y1="714.97" x2="624.22" y2="714.97" stroke="#f59af5" stroke-width="0.9"/>
<line x1="626.84" y1="731.09" x2="630.44" y2="731.09" stroke="#f59af5" stroke-width="0.9"/>
<line x1="633.06" y1="733.42" x2="636.66" y2="733.42" stroke="#f59af5" stroke-width="0.9"/>
<line x1="639.28" y1="732.45" x2="642.88" y2="732.45" stroke="#f59af5" stroke-width="0.9"/>
<line x1="645.5" y1="731.86" x2="649.1" y2="731.86" stroke="#f59af5" stroke-width="0.9"/>
<line x1="651.71" y1="731.09" x2="655.31" y2="731.09" stroke="#f59af5" stroke-width="0.9"/>
<line x1="657.93" y1="731.09" x2="661.53" y2="731.09" stroke="#f59af5" stroke-width="0.9"/>
<line x1="664.15" y1="730.5" x2="667.75" y2="730.5" stroke="#f59af5" stroke-width="0.9"/>
<line x1="670.37" y1="729.92" x2="673.97" y2="729.92" stroke="#f59af5" stroke-width="0.9"/>
<line x1="633.06" y1="760.6" x2="636.66" y2="760.6" stroke="#f59af5" stroke-width="0.9"/>
<line x1="645.5" y1="749.34" x2="649.1" y2="749.34" stroke="#f59af5" stroke-width="0.9"/>
<line x1="651.71" y1="747.4" x2="655.31" y2="747.4" stroke="#f59af5" stroke-width="0.9"/>
<line x1="657.93" y1="745.45" x2="661.53" y2="745.45" stroke="#f59af5" stroke-width="0.9"/>
<line x1="664.15" y1="745.07" x2="667.75" y2="745.07" stroke="#f59af5" stroke-width="0.9"/>
<line x1="670.37" y1="744.68" x2="673.97" y2="744.68" stroke="#f59af5" stroke-width="0.9"/>
<line x1="620.62" y1="812.05" x2="624.22" y2="812.05" stroke="#f59af5" stroke-width="0.9"/>
<path d="M599.51,820.01 C600.97,815.29 605.5,799.62 608.25,791.66 C611,783.7 613.68,777.43 616.01,772.25 C618.34,767.07 620.12,763.83 622.23,760.6 C624.33,757.36 626.53,754.94 628.64,752.83 C630.74,750.73 632.74,749.27 634.85,747.98 C636.95,746.68 639.22,745.87 641.26,745.07 C643.29,744.26 645.07,743.61 647.08,743.12 C649.09,742.64 651.19,742.32 653.29,742.15 C655.4,741.99 657.56,741.99 659.7,742.15 C661.84,742.32 664,742.8 666.11,743.12 C668.21,743.45 671.29,743.93 672.32,744.09" stroke="#00f0f0" stroke-width="1.0" stroke-dasharray="2.6,2.1" stroke-linejoin="round"/>
<path d="M593.69,820.01 C594.82,817.23 598.22,808.69 600.48,803.31 C602.75,797.94 605.01,793.28 607.28,787.78 C609.54,782.28 611.81,775.48 614.07,770.31 C616.34,765.13 618.6,760.92 620.87,756.72 C623.13,752.51 625.4,748.3 627.66,745.07 C629.93,741.83 632.19,739.24 634.46,737.3 C636.73,735.36 639.15,734.32 641.26,733.42 C643.36,732.51 645.07,732.25 647.08,731.86 C649.09,731.47 651.19,731.22 653.29,731.09 C655.4,730.96 657.56,731.09 659.7,731.09 C661.84,731.09 664,731.18 666.11,731.09 C668.21,730.99 671.29,730.6 672.32,730.5" stroke="#ff00ff" stroke-width="1.0" stroke-dasharray="2.6,2.1" stroke-linejoin="round"/>
<path d="M604.36,820.01 C605.34,817.88 608.25,811.27 610.19,807.2 C612.13,803.12 613.91,799.43 616.01,795.55 C618.12,791.66 620.55,787.39 622.81,783.9 C625.08,780.4 627.5,777.1 629.61,774.58 C631.71,772.05 633.49,770.37 635.43,768.75 C637.37,767.14 638.28,766.04 641.26,764.87 C644.23,763.71 648.12,762.41 653.29,761.76 C658.47,761.12 669.15,761.12 672.32,760.99" stroke="#00f0f0" stroke-width="0.85" stroke-dasharray="3.5,1,1,1" stroke-linejoin="round"/>
<path d="M596.6,820.01 C597.89,817.23 601.94,808.69 604.36,803.31 C606.79,797.94 608.9,792.96 611.16,787.78 C613.43,782.6 615.85,776.78 617.96,772.25 C620.06,767.72 621.84,764.16 623.78,760.6 C625.72,757.04 627.66,753.64 629.61,750.89 C631.55,748.14 633.49,745.87 635.43,744.09 C637.37,742.32 639.31,741.18 641.26,740.21 C643.2,739.24 644.01,738.69 647.08,738.27 C650.15,737.85 655.49,737.78 659.7,737.69 C663.91,737.59 670.22,737.69 672.32,737.69" stroke="#ff00ff" stroke-width="0.85" stroke-dasharray="3.5,1,1,1" stroke-linejoin="round"/>
<path d="M602.42,820.01 C603.39,817.88 606.31,811.27 608.25,807.2 C610.19,803.12 611.97,799.59 614.07,795.55 C616.18,791.5 618.6,786.65 620.87,782.93 C623.13,779.21 625.4,775.81 627.66,773.22 C629.93,770.63 632.29,769.01 634.46,767.39 C636.63,765.78 638.57,764.48 640.67,763.51 C642.78,762.54 644.98,762.05 647.08,761.57 C649.18,761.08 651.19,760.83 653.29,760.6 C655.4,760.37 657.56,760.27 659.7,760.21 C661.84,760.15 664,760.21 666.11,760.21 C668.21,760.21 671.29,760.21 672.32,760.21" stroke="#00f0f0" stroke-width="1.0" stroke-linejoin="round"/>
<path d="M594.66,820.01 C595.95,817.23 600,808.69 602.42,803.31 C604.85,797.94 606.95,792.96 609.22,787.78 C611.48,782.6 613.85,776.94 616.01,772.25 C618.18,767.56 620.12,763.51 622.23,759.63 C624.33,755.74 626.53,751.86 628.64,748.95 C630.74,746.04 632.74,743.84 634.85,742.15 C636.95,740.47 639.22,739.66 641.26,738.85 C643.29,738.04 645.07,737.62 647.08,737.3 C649.09,736.98 651.19,736.98 653.29,736.91 C655.4,736.85 657.56,736.85 659.7,736.91 C661.84,736.98 664,737.23 666.11,737.3 C668.21,737.36 671.29,737.3 672.32,737.3" stroke="#ff00ff" stroke-width="1.0" stroke-linejoin="round"/>
</g>
<path d="M614.85,781.54 L617.55,781.54 L616.2,778.84 Z" fill="#d010d0" stroke="#2a1a2a" stroke-width="0.55"/>
<path d="M621.07,765.23 L623.77,765.23 L622.42,762.53 Z" fill="#d010d0" stroke="#2a1a2a" stroke-width="0.55"/>
<path d="M627.29,754.94 L629.99,754.94 L628.64,752.24 Z" fill="#d010d0" stroke="#2a1a2a" stroke-width="0.55"/>
<path d="M633.51,748.14 L636.21,748.14 L634.86,745.45 Z" fill="#d010d0" stroke="#2a1a2a" stroke-width="0.55"/>
<path d="M639.73,744.26 L642.43,744.26 L641.08,741.56 Z" fill="#d010d0" stroke="#2a1a2a" stroke-width="0.55"/>
<path d="M645.95,741.93 L648.65,741.93 L647.3,739.23 Z" fill="#d010d0" stroke="#2a1a2a" stroke-width="0.55"/>
<path d="M652.16,740.37 L654.86,740.37 L653.51,737.68 Z" fill="#d010d0" stroke="#2a1a2a" stroke-width="0.55"/>
<path d="M658.38,739.6 L661.08,739.6 L659.73,736.9 Z" fill="#d010d0" stroke="#2a1a2a" stroke-width="0.55"/>
<path d="M664.6,739.21 L667.3,739.21 L665.95,736.52 Z" fill="#d010d0" stroke="#2a1a2a" stroke-width="0.55"/>
<path d="M670.82,738.82 L673.52,738.82 L672.17,736.13 Z" fill="#d010d0" stroke="#2a1a2a" stroke-width="0.55"/>
<path d="M608.63,805.67 L611.33,805.67 L609.98,808.37 Z" fill="#10c8c8" stroke="#1a2a2a" stroke-width="0.55"/>
<path d="M614.85,799.85 L617.55,799.85 L616.2,802.54 Z" fill="#10c8c8" stroke="#1a2a2a" stroke-width="0.55"/>
<path d="M621.07,785.68 L623.77,785.68 L622.42,788.37 Z" fill="#10c8c8" stroke="#1a2a2a" stroke-width="0.55"/>
<path d="M627.29,775.97 L629.99,775.97 L628.64,778.66 Z" fill="#10c8c8" stroke="#1a2a2a" stroke-width="0.55"/>
<path d="M633.51,771.11 L636.21,771.11 L634.86,773.81 Z" fill="#10c8c8" stroke="#1a2a2a" stroke-width="0.55"/>
<path d="M639.73,767.81 L642.43,767.81 L641.08,770.51 Z" fill="#10c8c8" stroke="#1a2a2a" stroke-width="0.55"/>
<path d="M645.95,765.29 L648.65,765.29 L647.3,767.98 Z" fill="#10c8c8" stroke="#1a2a2a" stroke-width="0.55"/>
<path d="M652.16,763.74 L654.86,763.74 L653.51,766.43 Z" fill="#10c8c8" stroke="#1a2a2a" stroke-width="0.55"/>
<path d="M658.38,762.96 L661.08,762.96 L659.73,765.65 Z" fill="#10c8c8" stroke="#1a2a2a" stroke-width="0.55"/>
<path d="M664.6,762.38 L667.3,762.38 L665.95,765.07 Z" fill="#10c8c8" stroke="#1a2a2a" stroke-width="0.55"/>
<path d="M670.82,762.18 L673.52,762.18 L672.17,764.88 Z" fill="#10c8c8" stroke="#1a2a2a" stroke-width="0.55"/>
<clipPath id="c28"><rect x="550.9" y="819.6" width="130.6" height="69.95"/></clipPath>
<g clip-path="url(#c28)" fill="none">
<line x1="560.23" y1="817.6" x2="560.23" y2="891.55" stroke="#8af5f7" stroke-width="0.95"/>
<line x1="566.45" y1="817.6" x2="566.45" y2="891.55" stroke="#8af5f7" stroke-width="0.95"/>
<line x1="572.67" y1="817.6" x2="572.67" y2="891.55" stroke="#8af5f7" stroke-width="0.95"/>
<line x1="578.89" y1="817.6" x2="578.89" y2="891.55" stroke="#8af5f7" stroke-width="0.95"/>
<line x1="585.1" y1="817.6" x2="585.1" y2="891.55" stroke="#8af5f7" stroke-width="0.95"/>
<line x1="591.32" y1="817.6" x2="591.32" y2="891.55" stroke="#8af5f7" stroke-width="0.95"/>
<line x1="597.54" y1="817.6" x2="597.54" y2="891.55" stroke="#8af5f7" stroke-width="0.95"/>
<line x1="603.76" y1="817.6" x2="603.76" y2="891.55" stroke="#8af5f7" stroke-width="0.95"/>
<line x1="609.98" y1="817.6" x2="609.98" y2="891.55" stroke="#8af5f7" stroke-width="0.95"/>
<line x1="616.2" y1="817.6" x2="616.2" y2="891.55" stroke="#8af5f7" stroke-width="0.95"/>
<line x1="622.42" y1="817.6" x2="622.42" y2="891.55" stroke="#8af5f7" stroke-width="0.95"/>
<line x1="628.64" y1="817.6" x2="628.64" y2="891.55" stroke="#8af5f7" stroke-width="0.95"/>
<line x1="634.86" y1="817.6" x2="634.86" y2="891.55" stroke="#8af5f7" stroke-width="0.95"/>
<line x1="641.08" y1="826.77" x2="641.08" y2="887.93" stroke="#8af5f7" stroke-width="0.95"/>
<line x1="639.48" y1="826.77" x2="642.68" y2="826.77" stroke="#7eeff4" stroke-width="0.9"/>
<line x1="639.48" y1="887.93" x2="642.68" y2="887.93" stroke="#7eeff4" stroke-width="0.9"/>
<line x1="647.3" y1="853.95" x2="647.3" y2="885.99" stroke="#8af5f7" stroke-width="0.95"/>
<line x1="645.7" y1="853.95" x2="648.9" y2="853.95" stroke="#7eeff4" stroke-width="0.9"/>
<line x1="645.7" y1="885.99" x2="648.9" y2="885.99" stroke="#7eeff4" stroke-width="0.9"/>
<line x1="653.51" y1="860.74" x2="653.51" y2="884.04" stroke="#8af5f7" stroke-width="0.95"/>
<line x1="651.91" y1="860.74" x2="655.11" y2="860.74" stroke="#7eeff4" stroke-width="0.9"/>
<line x1="651.91" y1="884.04" x2="655.11" y2="884.04" stroke="#7eeff4" stroke-width="0.9"/>
<line x1="659.73" y1="868.51" x2="659.73" y2="883.07" stroke="#8af5f7" stroke-width="0.95"/>
<line x1="658.13" y1="868.51" x2="661.33" y2="868.51" stroke="#7eeff4" stroke-width="0.9"/>
<line x1="658.13" y1="883.07" x2="661.33" y2="883.07" stroke="#7eeff4" stroke-width="0.9"/>
<line x1="665.95" y1="873.36" x2="665.95" y2="882.1" stroke="#8af5f7" stroke-width="0.95"/>
<line x1="664.35" y1="873.36" x2="667.55" y2="873.36" stroke="#7eeff4" stroke-width="0.9"/>
<line x1="664.35" y1="882.1" x2="667.55" y2="882.1" stroke="#7eeff4" stroke-width="0.9"/>
<line x1="672.17" y1="874.34" x2="672.17" y2="882.1" stroke="#8af5f7" stroke-width="0.95"/>
<line x1="670.57" y1="874.34" x2="673.77" y2="874.34" stroke="#7eeff4" stroke-width="0.9"/>
<line x1="670.57" y1="882.1" x2="673.77" y2="882.1" stroke="#7eeff4" stroke-width="0.9"/>
<line x1="639.28" y1="826.77" x2="642.88" y2="826.77" stroke="#7eeff4" stroke-width="0.9"/>
<line x1="645.5" y1="853.95" x2="649.1" y2="853.95" stroke="#7eeff4" stroke-width="0.9"/>
<line x1="651.71" y1="860.74" x2="655.31" y2="860.74" stroke="#7eeff4" stroke-width="0.9"/>
<line x1="657.93" y1="868.51" x2="661.53" y2="868.51" stroke="#7eeff4" stroke-width="0.9"/>
<line x1="664.15" y1="873.36" x2="667.75" y2="873.36" stroke="#7eeff4" stroke-width="0.9"/>
<line x1="670.37" y1="874.34" x2="673.97" y2="874.34" stroke="#7eeff4" stroke-width="0.9"/>
<line x1="626.84" y1="844.24" x2="630.44" y2="844.24" stroke="#f59af5" stroke-width="0.9"/>
<line x1="633.06" y1="845.21" x2="636.66" y2="845.21" stroke="#f59af5" stroke-width="0.9"/>
<line x1="626.84" y1="887.34" x2="630.44" y2="887.34" stroke="#f59af5" stroke-width="0.9"/>
<line x1="633.06" y1="871.42" x2="636.66" y2="871.42" stroke="#f59af5" stroke-width="0.9"/>
<path d="M560.1,865.6 L569.42,861.72 L579.12,859.77 L584.95,867.54 L590.77,875.31 L597.57,874.34 L603.39,869.48 L608.25,863.66 L616.01,850.07 L621.84,844.24" stroke="#00f0f0" stroke-width="1.0" stroke-dasharray="2.6,2.1" stroke-linejoin="round"/>
<path d="M560.1,827.74 L569.42,824.82 L579.12,823.85 L584.95,834.53 L590.77,838.42 L597.57,842.3 L603.39,837.45 L608.25,826.77 L610.19,838.42 L616.01,886.96 L621.84,877.25 L627.66,871.42" stroke="#ff00ff" stroke-width="1.0" stroke-dasharray="2.6,2.1" stroke-linejoin="round"/>
<path d="M560.1,868.51 L579.12,865.21 L598.54,863.27 L606.31,857.83 L616.01,848.12 L628.64,831.04 L635.43,822.49 L640.87,886.96" stroke="#00f0f0" stroke-width="0.85" stroke-dasharray="3.5,1,1,1" stroke-linejoin="round"/>
<path d="M560.1,832.98 L579.12,832.2 L596.6,830.65 L603.39,822.88 L610.19,885.99 L621.84,871.42 L634.46,859.77 L647.08,850.07 L672.32,846.57" stroke="#ff00ff" stroke-width="0.85" stroke-dasharray="3.5,1,1,1" stroke-linejoin="round"/>
<path d="M560.1,866.57 L569.42,864.63 L579.12,863.27 L590.77,862.1 L598.54,861.72 L603.39,860.16 L608.25,854.92 L616.01,846.18 L621.84,838.42 L628.64,829.68 L634.85,821.33 L640.28,885.99" stroke="#00f0f0" stroke-width="1.0" stroke-linejoin="round"/>
<path d="M640.28,885.99 C641.42,885.6 644.91,884.3 647.08,883.66 C649.25,883.01 651.19,882.52 653.29,882.1 C655.4,881.68 657.56,881.36 659.7,881.13 C661.84,880.9 664,880.81 666.11,880.74 C668.21,880.68 671.29,880.74 672.32,880.74" stroke="#00f0f0" stroke-width="1.0" stroke-linejoin="round"/>
<path d="M560.1,831.04 L569.42,831.04 L579.12,830.65 L590.77,829.68 L597.57,827.74 L603.39,821.33 L609.22,882.1" stroke="#ff00ff" stroke-width="1.0" stroke-linejoin="round"/>
<path d="M609.22,882.1 C610.35,881.13 613.91,878.22 616.01,876.28 C618.12,874.34 619.9,872.39 621.84,870.45 C623.78,868.51 625.56,866.57 627.66,864.63 C629.77,862.69 632.29,860.74 634.46,858.8 C636.63,856.86 638.57,854.5 640.67,852.98 C642.78,851.46 644.98,850.55 647.08,849.68 C649.18,848.8 651.19,848.22 653.29,847.74 C655.4,847.25 657.56,846.99 659.7,846.76 C661.84,846.54 664,846.47 666.11,846.38 C668.21,846.28 671.29,846.21 672.32,846.18" stroke="#ff00ff" stroke-width="1.0" stroke-linejoin="round"/>
</g>
<path d="M558.88,828.87 L561.58,828.87 L560.23,826.18 Z" fill="#d010d0" stroke="#2a1a2a" stroke-width="0.55"/>
<path d="M565.1,822.46 L567.8,822.46 L566.45,819.77 Z" fill="#d010d0" stroke="#2a1a2a" stroke-width="0.55"/>
<path d="M571.32,880.32 L574.02,880.32 L572.67,877.63 Z" fill="#d010d0" stroke="#2a1a2a" stroke-width="0.55"/>
<path d="M577.54,859.35 L580.24,859.35 L578.89,856.66 Z" fill="#d010d0" stroke="#2a1a2a" stroke-width="0.55"/>
<path d="M583.75,889.64 L586.45,889.64 L585.1,886.95 Z" fill="#d010d0" stroke="#2a1a2a" stroke-width="0.55"/>
<path d="M589.97,861.88 L592.67,861.88 L591.32,859.19 Z" fill="#d010d0" stroke="#2a1a2a" stroke-width="0.55"/>
<path d="M596.19,843.43 L598.89,843.43 L597.54,840.74 Z" fill="#d010d0" stroke="#2a1a2a" stroke-width="0.55"/>
<path d="M602.41,852.17 L605.11,852.17 L603.76,849.48 Z" fill="#d010d0" stroke="#2a1a2a" stroke-width="0.55"/>
<path d="M608.63,836.64 L611.33,836.64 L609.98,833.94 Z" fill="#d010d0" stroke="#2a1a2a" stroke-width="0.55"/>
<path d="M621.07,877.41 L623.77,877.41 L622.42,874.72 Z" fill="#d010d0" stroke="#2a1a2a" stroke-width="0.55"/>
<path d="M627.29,866.73 L629.99,866.73 L628.64,864.04 Z" fill="#d010d0" stroke="#2a1a2a" stroke-width="0.55"/>
<path d="M633.51,859.94 L636.21,859.94 L634.86,857.24 Z" fill="#d010d0" stroke="#2a1a2a" stroke-width="0.55"/>
<path d="M639.73,854.69 L642.43,854.69 L641.08,852 Z" fill="#d010d0" stroke="#2a1a2a" stroke-width="0.55"/>
<path d="M645.95,851.2 L648.65,851.2 L647.3,848.51 Z" fill="#d010d0" stroke="#2a1a2a" stroke-width="0.55"/>
<path d="M652.16,849.65 L654.86,849.65 L653.51,846.95 Z" fill="#d010d0" stroke="#2a1a2a" stroke-width="0.55"/>
<path d="M658.38,848.68 L661.08,848.68 L659.73,845.98 Z" fill="#d010d0" stroke="#2a1a2a" stroke-width="0.55"/>
<path d="M664.6,847.9 L667.3,847.9 L665.95,845.21 Z" fill="#d010d0" stroke="#2a1a2a" stroke-width="0.55"/>
<path d="M670.82,847.7 L673.52,847.7 L672.17,845.01 Z" fill="#d010d0" stroke="#2a1a2a" stroke-width="0.55"/>
<path d="M558.88,847.38 L561.58,847.38 L560.23,850.07 Z" fill="#10c8c8" stroke="#1a2a2a" stroke-width="0.55"/>
<path d="M565.1,880.97 L567.8,880.97 L566.45,883.66 Z" fill="#10c8c8" stroke="#1a2a2a" stroke-width="0.55"/>
<path d="M571.32,866.41 L574.02,866.41 L572.67,869.1 Z" fill="#10c8c8" stroke="#1a2a2a" stroke-width="0.55"/>
<path d="M577.54,821.36 L580.24,821.36 L578.89,824.05 Z" fill="#10c8c8" stroke="#1a2a2a" stroke-width="0.55"/>
<path d="M583.75,852.43 L586.45,852.43 L585.1,855.12 Z" fill="#10c8c8" stroke="#1a2a2a" stroke-width="0.55"/>
<path d="M589.97,823.3 L592.67,823.3 L591.32,826 Z" fill="#10c8c8" stroke="#1a2a2a" stroke-width="0.55"/>
<path d="M596.19,824.08 L598.89,824.08 L597.54,826.77 Z" fill="#10c8c8" stroke="#1a2a2a" stroke-width="0.55"/>
<path d="M602.41,878.44 L605.11,878.44 L603.76,881.14 Z" fill="#10c8c8" stroke="#1a2a2a" stroke-width="0.55"/>
<path d="M608.63,862.13 L611.33,862.13 L609.98,864.83 Z" fill="#10c8c8" stroke="#1a2a2a" stroke-width="0.55"/>
<path d="M614.85,847.38 L617.55,847.38 L616.2,850.07 Z" fill="#10c8c8" stroke="#1a2a2a" stroke-width="0.55"/>
<path d="M621.07,836.31 L623.77,836.31 L622.42,839 Z" fill="#10c8c8" stroke="#1a2a2a" stroke-width="0.55"/>
<path d="M627.29,826.6 L629.99,826.6 L628.64,829.3 Z" fill="#10c8c8" stroke="#1a2a2a" stroke-width="0.55"/>
<path d="M639.73,886.21 L642.43,886.21 L641.08,888.9 Z" fill="#10c8c8" stroke="#1a2a2a" stroke-width="0.55"/>
<path d="M645.95,883.88 L648.65,883.88 L647.3,886.57 Z" fill="#10c8c8" stroke="#1a2a2a" stroke-width="0.55"/>
<path d="M652.16,882.33 L654.86,882.33 L653.51,885.02 Z" fill="#10c8c8" stroke="#1a2a2a" stroke-width="0.55"/>
<path d="M658.38,881.36 L661.08,881.36 L659.73,884.05 Z" fill="#10c8c8" stroke="#1a2a2a" stroke-width="0.55"/>
<path d="M664.6,880.58 L667.3,880.58 L665.95,883.27 Z" fill="#10c8c8" stroke="#1a2a2a" stroke-width="0.55"/>
<path d="M670.82,880.39 L673.52,880.39 L672.17,883.08 Z" fill="#10c8c8" stroke="#1a2a2a" stroke-width="0.55"/>
<rect x="393.1" y="714.5" width="132" height="105.1" fill="none" stroke="#262626" stroke-width="1.1"/>
<line x1="421.39" y1="714.5" x2="421.39" y2="711.5" stroke="#262626" stroke-width="1.2"/>
<line x1="459.1" y1="714.5" x2="459.1" y2="711.5" stroke="#262626" stroke-width="1.2"/>
<line x1="496.81" y1="714.5" x2="496.81" y2="711.5" stroke="#262626" stroke-width="1.2"/>
<line x1="393.1" y1="819.6" x2="390.1" y2="819.6" stroke="#262626" stroke-width="1.2"/>
<line x1="525.1" y1="819.6" x2="528.1" y2="819.6" stroke="#262626" stroke-width="1.2"/>
<line x1="393.1" y1="793.33" x2="390.1" y2="793.33" stroke="#262626" stroke-width="1.2"/>
<line x1="525.1" y1="793.33" x2="528.1" y2="793.33" stroke="#262626" stroke-width="1.2"/>
<line x1="393.1" y1="767.05" x2="390.1" y2="767.05" stroke="#262626" stroke-width="1.2"/>
<line x1="525.1" y1="767.05" x2="528.1" y2="767.05" stroke="#262626" stroke-width="1.2"/>
<line x1="393.1" y1="740.77" x2="390.1" y2="740.77" stroke="#262626" stroke-width="1.2"/>
<line x1="525.1" y1="740.77" x2="528.1" y2="740.77" stroke="#262626" stroke-width="1.2"/>
<line x1="393.1" y1="714.5" x2="390.1" y2="714.5" stroke="#262626" stroke-width="1.2"/>
<line x1="525.1" y1="714.5" x2="528.1" y2="714.5" stroke="#262626" stroke-width="1.2"/>
<text x="387.7" y="822.3" font-size="8.5" text-anchor="end" font-family='"Liberation Sans", sans-serif' fill="#262626" >1.5</text>
<text x="387.7" y="796.03" font-size="8.5" text-anchor="end" font-family='"Liberation Sans", sans-serif' fill="#262626" >2</text>
<text x="387.7" y="769.75" font-size="8.5" text-anchor="end" font-family='"Liberation Sans", sans-serif' fill="#262626" >2.5</text>
<text x="387.7" y="743.48" font-size="8.5" text-anchor="end" font-family='"Liberation Sans", sans-serif' fill="#262626" >3</text>
<text x="387.7" y="717.2" font-size="8.5" text-anchor="end" font-family='"Liberation Sans", sans-serif' fill="#262626" >3.5</text>
<rect x="393.1" y="819.6" width="132" height="69.95" fill="none" stroke="#262626" stroke-width="1.1"/>
<line x1="421.39" y1="889.55" x2="421.39" y2="892.55" stroke="#262626" stroke-width="1.2"/>
<line x1="459.1" y1="889.55" x2="459.1" y2="892.55" stroke="#262626" stroke-width="1.2"/>
<line x1="496.81" y1="889.55" x2="496.81" y2="892.55" stroke="#262626" stroke-width="1.2"/>
<line x1="393.1" y1="889.55" x2="390.1" y2="889.55" stroke="#262626" stroke-width="1.2"/>
<line x1="525.1" y1="889.55" x2="528.1" y2="889.55" stroke="#262626" stroke-width="1.2"/>
<line x1="393.1" y1="864.11" x2="390.1" y2="864.11" stroke="#262626" stroke-width="1.2"/>
<line x1="525.1" y1="864.11" x2="528.1" y2="864.11" stroke="#262626" stroke-width="1.2"/>
<line x1="393.1" y1="838.68" x2="390.1" y2="838.68" stroke="#262626" stroke-width="1.2"/>
<line x1="525.1" y1="838.68" x2="528.1" y2="838.68" stroke="#262626" stroke-width="1.2"/>
<text x="387.7" y="892.25" font-size="8.5" text-anchor="end" font-family='"Liberation Sans", sans-serif' fill="#262626" >20</text>
<text x="387.7" y="866.81" font-size="8.5" text-anchor="end" font-family='"Liberation Sans", sans-serif' fill="#262626" >40</text>
<text x="387.7" y="841.38" font-size="8.5" text-anchor="end" font-family='"Liberation Sans", sans-serif' fill="#262626" >60</text>
<text x="421.39" y="903.55" font-size="8.5" text-anchor="middle" font-family='"Liberation Sans", sans-serif' fill="#262626" >-2</text>
<text x="459.1" y="903.55" font-size="8.5" text-anchor="middle" font-family='"Liberation Sans", sans-serif' fill="#262626" >0</text>
<text x="496.81" y="903.55" font-size="8.5" text-anchor="middle" font-family='"Liberation Sans", sans-serif' fill="#262626" >2</text>
<rect x="550.9" y="714.5" width="130.6" height="105.1" fill="none" stroke="#262626" stroke-width="1.1"/>
<line x1="578.89" y1="714.5" x2="578.89" y2="711.5" stroke="#262626" stroke-width="1.2"/>
<line x1="616.2" y1="714.5" x2="616.2" y2="711.5" stroke="#262626" stroke-width="1.2"/>
<line x1="653.51" y1="714.5" x2="653.51" y2="711.5" stroke="#262626" stroke-width="1.2"/>
<line x1="550.9" y1="819.6" x2="547.9" y2="819.6" stroke="#262626" stroke-width="1.2"/>
<line x1="681.5" y1="819.6" x2="684.5" y2="819.6" stroke="#262626" stroke-width="1.2"/>
<line x1="550.9" y1="793.33" x2="547.9" y2="793.33" stroke="#262626" stroke-width="1.2"/>
<line x1="681.5" y1="793.33" x2="684.5" y2="793.33" stroke="#262626" stroke-width="1.2"/>
<line x1="550.9" y1="767.05" x2="547.9" y2="767.05" stroke="#262626" stroke-width="1.2"/>
<line x1="681.5" y1="767.05" x2="684.5" y2="767.05" stroke="#262626" stroke-width="1.2"/>
<line x1="550.9" y1="740.77" x2="547.9" y2="740.77" stroke="#262626" stroke-width="1.2"/>
<line x1="681.5" y1="740.77" x2="684.5" y2="740.77" stroke="#262626" stroke-width="1.2"/>
<line x1="550.9" y1="714.5" x2="547.9" y2="714.5" stroke="#262626" stroke-width="1.2"/>
<line x1="681.5" y1="714.5" x2="684.5" y2="714.5" stroke="#262626" stroke-width="1.2"/>
<text x="545.5" y="822.3" font-size="8.5" text-anchor="end" font-family='"Liberation Sans", sans-serif' fill="#262626" >-6</text>
<text x="545.5" y="796.03" font-size="8.5" text-anchor="end" font-family='"Liberation Sans", sans-serif' fill="#262626" >-4</text>
<text x="545.5" y="769.75" font-size="8.5" text-anchor="end" font-family='"Liberation Sans", sans-serif' fill="#262626" >-2</text>
<text x="545.5" y="743.48" font-size="8.5" text-anchor="end" font-family='"Liberation Sans", sans-serif' fill="#262626" >0</text>
<text x="545.5" y="717.2" font-size="8.5" text-anchor="end" font-family='"Liberation Sans", sans-serif' fill="#262626" >2</text>
<rect x="550.9" y="819.6" width="130.6" height="69.95" fill="none" stroke="#262626" stroke-width="1.1"/>
<line x1="578.89" y1="889.55" x2="578.89" y2="892.55" stroke="#262626" stroke-width="1.2"/>
<line x1="616.2" y1="889.55" x2="616.2" y2="892.55" stroke="#262626" stroke-width="1.2"/>
<line x1="653.51" y1="889.55" x2="653.51" y2="892.55" stroke="#262626" stroke-width="1.2"/>
<line x1="550.9" y1="874.01" x2="547.9" y2="874.01" stroke="#262626" stroke-width="1.2"/>
<line x1="681.5" y1="874.01" x2="684.5" y2="874.01" stroke="#262626" stroke-width="1.2"/>
<line x1="550.9" y1="854.58" x2="547.9" y2="854.58" stroke="#262626" stroke-width="1.2"/>
<line x1="681.5" y1="854.58" x2="684.5" y2="854.58" stroke="#262626" stroke-width="1.2"/>
<line x1="550.9" y1="835.14" x2="547.9" y2="835.14" stroke="#262626" stroke-width="1.2"/>
<line x1="681.5" y1="835.14" x2="684.5" y2="835.14" stroke="#262626" stroke-width="1.2"/>
<text x="545.5" y="876.71" font-size="8.5" text-anchor="end" font-family='"Liberation Sans", sans-serif' fill="#262626" >-100</text>
<text x="545.5" y="857.28" font-size="8.5" text-anchor="end" font-family='"Liberation Sans", sans-serif' fill="#262626" >0</text>
<text x="545.5" y="837.84" font-size="8.5" text-anchor="end" font-family='"Liberation Sans", sans-serif' fill="#262626" >100</text>
<text x="578.89" y="903.55" font-size="8.5" text-anchor="middle" font-family='"Liberation Sans", sans-serif' fill="#262626" >-2</text>
<text x="616.2" y="903.55" font-size="8.5" text-anchor="middle" font-family='"Liberation Sans", sans-serif' fill="#262626" >0</text>
<text x="653.51" y="903.55" font-size="8.5" text-anchor="middle" font-family='"Liberation Sans", sans-serif' fill="#262626" >2</text>
<text x="459.1" y="914.35" font-size="9.6" text-anchor="middle" font-family='"Liberation Sans", sans-serif' fill="#262626">log<tspan font-size="8.5" dy="3.3">10</tspan><tspan dy="-3.3">( Period ) [s]</tspan></text>
<text x="616.2" y="914.35" font-size="9.6" text-anchor="middle" font-family='"Liberation Sans", sans-serif' fill="#262626">log<tspan font-size="8.5" dy="3.3">10</tspan><tspan dy="-3.3">( Period ) [s]</tspan></text>
<text transform="translate(368.3,768.45) rotate(-90)" x="0" y="0" font-size="9.9" text-anchor="middle" font-family='"Liberation Sans", sans-serif' fill="#262626">log<tspan font-size="7.2" dy="2.6">10</tspan><tspan dy="-2.6">( </tspan><tspan font-family='"Liberation Serif", serif' font-style="italic">ρ</tspan><tspan font-size="7.2" dy="2.6">app</tspan><tspan dy="-2.6"> ) [Ωm]</tspan></text>
<text transform="translate(374.7,854.58) rotate(-90)" x="0" y="0" font-size="9.85" text-anchor="middle" font-family='"Liberation Sans", sans-serif' fill="#262626">Phase [°]</text>
<text x="506" y="701.6" font-size="12.9" font-weight="bold" font-family='"Liberation Serif", serif' fill="#111">(g) Station S<tspan font-size="9" dy="2.5">7</tspan></text>
<rect x="396.2" y="22.9" width="165.1" height="164.5" fill="#b3d6f7"/>
<rect x="449.27" y="75.92" width="58.95" height="58.75" fill="#f4c531"/>
<line x1="416.26" y1="22.9" x2="416.26" y2="187.4" stroke="#2a4f74" stroke-opacity="0.4" stroke-width="0.55"/>
<line x1="396.2" y1="167.57" x2="561.3" y2="167.57" stroke="#2a4f74" stroke-opacity="0.4" stroke-width="0.55"/>
<line x1="431.35" y1="22.9" x2="431.35" y2="187.4" stroke="#2a4f74" stroke-opacity="0.4" stroke-width="0.55"/>
<line x1="396.2" y1="152.53" x2="561.3" y2="152.53" stroke="#2a4f74" stroke-opacity="0.4" stroke-width="0.55"/>
<line x1="442.32" y1="22.9" x2="442.32" y2="187.4" stroke="#2a4f74" stroke-opacity="0.4" stroke-width="0.55"/>
<line x1="396.2" y1="141.61" x2="561.3" y2="141.61" stroke="#2a4f74" stroke-opacity="0.4" stroke-width="0.55"/>
<line x1="445.27" y1="22.9" x2="445.27" y2="187.4" stroke="#2a4f74" stroke-opacity="0.4" stroke-width="0.55"/>
<line x1="396.2" y1="138.67" x2="561.3" y2="138.67" stroke="#2a4f74" stroke-opacity="0.4" stroke-width="0.55"/>
<line x1="448.33" y1="22.9" x2="448.33" y2="187.4" stroke="#2a4f74" stroke-opacity="0.4" stroke-width="0.55"/>
<line x1="396.2" y1="135.62" x2="561.3" y2="135.62" stroke="#2a4f74" stroke-opacity="0.4" stroke-width="0.55"/>
<line x1="451.4" y1="22.9" x2="451.4" y2="187.4" stroke="#2a4f74" stroke-opacity="0.4" stroke-width="0.55"/>
<line x1="396.2" y1="132.56" x2="561.3" y2="132.56" stroke="#2a4f74" stroke-opacity="0.4" stroke-width="0.55"/>
<line x1="454.46" y1="22.9" x2="454.46" y2="187.4" stroke="#2a4f74" stroke-opacity="0.4" stroke-width="0.55"/>
<line x1="396.2" y1="129.5" x2="561.3" y2="129.5" stroke="#2a4f74" stroke-opacity="0.4" stroke-width="0.55"/>
<line x1="460.59" y1="22.9" x2="460.59" y2="187.4" stroke="#2a4f74" stroke-opacity="0.4" stroke-width="0.55"/>
<line x1="396.2" y1="123.39" x2="561.3" y2="123.39" stroke="#2a4f74" stroke-opacity="0.4" stroke-width="0.55"/>
<line x1="466.61" y1="22.9" x2="466.61" y2="187.4" stroke="#2a4f74" stroke-opacity="0.4" stroke-width="0.55"/>
<line x1="396.2" y1="117.4" x2="561.3" y2="117.4" stroke="#2a4f74" stroke-opacity="0.4" stroke-width="0.55"/>
<line x1="472.74" y1="22.9" x2="472.74" y2="187.4" stroke="#2a4f74" stroke-opacity="0.4" stroke-width="0.55"/>
<line x1="396.2" y1="111.29" x2="561.3" y2="111.29" stroke="#2a4f74" stroke-opacity="0.4" stroke-width="0.55"/>
<line x1="478.75" y1="22.9" x2="478.75" y2="187.4" stroke="#2a4f74" stroke-opacity="0.4" stroke-width="0.55"/>
<line x1="396.2" y1="105.3" x2="561.3" y2="105.3" stroke="#2a4f74" stroke-opacity="0.4" stroke-width="0.55"/>
<line x1="484.76" y1="22.9" x2="484.76" y2="187.4" stroke="#2a4f74" stroke-opacity="0.4" stroke-width="0.55"/>
<line x1="396.2" y1="99.31" x2="561.3" y2="99.31" stroke="#2a4f74" stroke-opacity="0.4" stroke-width="0.55"/>
<line x1="490.89" y1="22.9" x2="490.89" y2="187.4" stroke="#2a4f74" stroke-opacity="0.4" stroke-width="0.55"/>
<line x1="396.2" y1="93.2" x2="561.3" y2="93.2" stroke="#2a4f74" stroke-opacity="0.4" stroke-width="0.55"/>
<line x1="496.91" y1="22.9" x2="496.91" y2="187.4" stroke="#2a4f74" stroke-opacity="0.4" stroke-width="0.55"/>
<line x1="396.2" y1="87.2" x2="561.3" y2="87.2" stroke="#2a4f74" stroke-opacity="0.4" stroke-width="0.55"/>
<line x1="503.04" y1="22.9" x2="503.04" y2="187.4" stroke="#2a4f74" stroke-opacity="0.4" stroke-width="0.55"/>
<line x1="396.2" y1="81.09" x2="561.3" y2="81.09" stroke="#2a4f74" stroke-opacity="0.4" stroke-width="0.55"/>
<line x1="506.1" y1="22.9" x2="506.1" y2="187.4" stroke="#2a4f74" stroke-opacity="0.4" stroke-width="0.55"/>
<line x1="396.2" y1="78.04" x2="561.3" y2="78.04" stroke="#2a4f74" stroke-opacity="0.4" stroke-width="0.55"/>
<line x1="509.17" y1="22.9" x2="509.17" y2="187.4" stroke="#2a4f74" stroke-opacity="0.4" stroke-width="0.55"/>
<line x1="396.2" y1="74.98" x2="561.3" y2="74.98" stroke="#2a4f74" stroke-opacity="0.4" stroke-width="0.55"/>
<line x1="512.23" y1="22.9" x2="512.23" y2="187.4" stroke="#2a4f74" stroke-opacity="0.4" stroke-width="0.55"/>
<line x1="396.2" y1="71.93" x2="561.3" y2="71.93" stroke="#2a4f74" stroke-opacity="0.4" stroke-width="0.55"/>
<line x1="515.18" y1="22.9" x2="515.18" y2="187.4" stroke="#2a4f74" stroke-opacity="0.4" stroke-width="0.55"/>
<line x1="396.2" y1="68.99" x2="561.3" y2="68.99" stroke="#2a4f74" stroke-opacity="0.4" stroke-width="0.55"/>
<line x1="526.15" y1="22.9" x2="526.15" y2="187.4" stroke="#2a4f74" stroke-opacity="0.4" stroke-width="0.55"/>
<line x1="396.2" y1="58.06" x2="561.3" y2="58.06" stroke="#2a4f74" stroke-opacity="0.4" stroke-width="0.55"/>
<line x1="541.24" y1="22.9" x2="541.24" y2="187.4" stroke="#2a4f74" stroke-opacity="0.4" stroke-width="0.55"/>
<line x1="396.2" y1="43.02" x2="561.3" y2="43.02" stroke="#2a4f74" stroke-opacity="0.4" stroke-width="0.55"/>
<circle cx="405.06" cy="178.74" r="1.0" fill="#4a4a4a"/>
<circle cx="405.06" cy="146.43" r="1.0" fill="#4a4a4a"/>
<circle cx="405.06" cy="125.86" r="1.0" fill="#4a4a4a"/>
<circle cx="405.06" cy="114.11" r="1.0" fill="#4a4a4a"/>
<circle cx="405.06" cy="96.49" r="1.0" fill="#4a4a4a"/>
<circle cx="405.06" cy="84.74" r="1.0" fill="#4a4a4a"/>
<circle cx="405.06" cy="64.17" r="1.0" fill="#4a4a4a"/>
<circle cx="405.06" cy="31.86" r="1.0" fill="#4a4a4a"/>
<circle cx="437.49" cy="178.74" r="1.0" fill="#4a4a4a"/>
<circle cx="437.49" cy="146.43" r="1.0" fill="#4a4a4a"/>
<circle cx="437.49" cy="125.86" r="1.0" fill="#4a4a4a"/>
<circle cx="437.49" cy="114.11" r="1.0" fill="#4a4a4a"/>
<circle cx="437.49" cy="96.49" r="1.0" fill="#4a4a4a"/>
<circle cx="437.49" cy="84.74" r="1.0" fill="#4a4a4a"/>
<circle cx="437.49" cy="64.17" r="1.0" fill="#4a4a4a"/>
<circle cx="437.49" cy="31.86" r="1.0" fill="#4a4a4a"/>
<circle cx="458.12" cy="178.74" r="1.0" fill="#4a4a4a"/>
<circle cx="458.12" cy="146.43" r="1.0" fill="#4a4a4a"/>
<circle cx="458.12" cy="125.86" r="1.0" fill="#4a4a4a"/>
<circle cx="458.12" cy="114.11" r="1.0" fill="#4a4a4a"/>
<circle cx="458.12" cy="96.49" r="1.0" fill="#4a4a4a"/>
<circle cx="458.12" cy="84.74" r="1.0" fill="#4a4a4a"/>
<circle cx="458.12" cy="64.17" r="1.0" fill="#4a4a4a"/>
<circle cx="458.12" cy="31.86" r="1.0" fill="#4a4a4a"/>
<circle cx="469.91" cy="178.74" r="1.0" fill="#4a4a4a"/>
<circle cx="469.91" cy="146.43" r="1.0" fill="#4a4a4a"/>
<circle cx="469.91" cy="125.86" r="1.0" fill="#4a4a4a"/>
<circle cx="469.91" cy="114.11" r="1.0" fill="#4a4a4a"/>
<circle cx="469.91" cy="96.49" r="1.0" fill="#4a4a4a"/>
<circle cx="469.91" cy="84.74" r="1.0" fill="#4a4a4a"/>
<circle cx="469.91" cy="64.17" r="1.0" fill="#4a4a4a"/>
<circle cx="469.91" cy="31.86" r="1.0" fill="#4a4a4a"/>
<circle cx="487.59" cy="178.74" r="1.0" fill="#4a4a4a"/>
<circle cx="487.59" cy="146.43" r="1.0" fill="#4a4a4a"/>
<circle cx="487.59" cy="125.86" r="1.0" fill="#4a4a4a"/>
<circle cx="487.59" cy="114.11" r="1.0" fill="#4a4a4a"/>
<circle cx="487.59" cy="96.49" r="1.0" fill="#4a4a4a"/>
<circle cx="487.59" cy="84.74" r="1.0" fill="#4a4a4a"/>
<circle cx="487.59" cy="64.17" r="1.0" fill="#4a4a4a"/>
<circle cx="487.59" cy="31.86" r="1.0" fill="#4a4a4a"/>
<circle cx="499.38" cy="178.74" r="1.0" fill="#4a4a4a"/>
<circle cx="499.38" cy="146.43" r="1.0" fill="#4a4a4a"/>
<circle cx="499.38" cy="125.86" r="1.0" fill="#4a4a4a"/>
<circle cx="499.38" cy="114.11" r="1.0" fill="#4a4a4a"/>
<circle cx="499.38" cy="96.49" r="1.0" fill="#4a4a4a"/>
<circle cx="499.38" cy="84.74" r="1.0" fill="#4a4a4a"/>
<circle cx="499.38" cy="64.17" r="1.0" fill="#4a4a4a"/>
<circle cx="499.38" cy="31.86" r="1.0" fill="#4a4a4a"/>
<circle cx="520.01" cy="178.74" r="1.0" fill="#4a4a4a"/>
<circle cx="520.01" cy="146.43" r="1.0" fill="#4a4a4a"/>
<circle cx="520.01" cy="125.86" r="1.0" fill="#4a4a4a"/>
<circle cx="520.01" cy="114.11" r="1.0" fill="#4a4a4a"/>
<circle cx="520.01" cy="96.49" r="1.0" fill="#4a4a4a"/>
<circle cx="520.01" cy="84.74" r="1.0" fill="#4a4a4a"/>
<circle cx="520.01" cy="64.17" r="1.0" fill="#4a4a4a"/>
<circle cx="520.01" cy="31.86" r="1.0" fill="#4a4a4a"/>
<circle cx="552.44" cy="178.74" r="1.0" fill="#4a4a4a"/>
<circle cx="552.44" cy="146.43" r="1.0" fill="#4a4a4a"/>
<circle cx="552.44" cy="125.86" r="1.0" fill="#4a4a4a"/>
<circle cx="552.44" cy="114.11" r="1.0" fill="#4a4a4a"/>
<circle cx="552.44" cy="96.49" r="1.0" fill="#4a4a4a"/>
<circle cx="552.44" cy="84.74" r="1.0" fill="#4a4a4a"/>
<circle cx="552.44" cy="64.17" r="1.0" fill="#4a4a4a"/>
<circle cx="552.44" cy="31.86" r="1.0" fill="#4a4a4a"/>
<rect x="396.2" y="22.9" width="165.1" height="164.5" fill="none" stroke="#2a3550" stroke-width="0.9"/>
<line x1="419.8" y1="187.4" x2="419.8" y2="184.9" stroke="#262626" stroke-width="0.7"/>
<line x1="419.8" y1="22.9" x2="419.8" y2="25.4" stroke="#262626" stroke-width="0.7"/>
<line x1="396.2" y1="164.05" x2="398.7" y2="164.05" stroke="#262626" stroke-width="0.7"/>
<line x1="561.3" y1="164.05" x2="558.8" y2="164.05" stroke="#262626" stroke-width="0.7"/>
<text x="418" y="203.4" font-size="11.4" text-anchor="middle" font-family='"Liberation Sans", sans-serif' fill="#262626" >-50</text>
<text x="392" y="168.15" font-size="11.4" text-anchor="end" font-family='"Liberation Sans", sans-serif' fill="#262626" >-50</text>
<line x1="478.75" y1="187.4" x2="478.75" y2="184.9" stroke="#262626" stroke-width="0.7"/>
<line x1="478.75" y1="22.9" x2="478.75" y2="25.4" stroke="#262626" stroke-width="0.7"/>
<line x1="396.2" y1="105.3" x2="398.7" y2="105.3" stroke="#262626" stroke-width="0.7"/>
<line x1="561.3" y1="105.3" x2="558.8" y2="105.3" stroke="#262626" stroke-width="0.7"/>
<text x="478.75" y="203.4" font-size="11.4" text-anchor="middle" font-family='"Liberation Sans", sans-serif' fill="#262626" >0</text>
<text x="392" y="109.4" font-size="11.4" text-anchor="end" font-family='"Liberation Sans", sans-serif' fill="#262626" >0</text>
<line x1="537.7" y1="187.4" x2="537.7" y2="184.9" stroke="#262626" stroke-width="0.7"/>
<line x1="537.7" y1="22.9" x2="537.7" y2="25.4" stroke="#262626" stroke-width="0.7"/>
<line x1="396.2" y1="46.55" x2="398.7" y2="46.55" stroke="#262626" stroke-width="0.7"/>
<line x1="561.3" y1="46.55" x2="558.8" y2="46.55" stroke="#262626" stroke-width="0.7"/>
<text x="537.7" y="203.4" font-size="11.4" text-anchor="middle" font-family='"Liberation Sans", sans-serif' fill="#262626" >50</text>
<text x="392" y="50.65" font-size="11.4" text-anchor="end" font-family='"Liberation Sans", sans-serif' fill="#262626" >50</text>
<text transform="translate(478.8,218.9)" font-size="12.7" text-anchor="middle" font-family='"Liberation Sans", sans-serif' fill="#262626">West-East (km)</text>
<text transform="translate(371.8,104.9) rotate(-90)" font-size="12.8" text-anchor="middle" font-family='"Liberation Sans", sans-serif' fill="#262626">South-North (km)</text>
<text x="470.2" y="20.3" font-size="11.5" font-weight="bold" text-anchor="middle" font-family='"Liberation Serif", serif' fill="#111">64 Station (5 km depth)</text>
<path d="M550.1,26.4 L553.5,26.4 L551.8,32.8 Z" fill="#111"/>
<text x="536.6" y="36.2" font-size="11" font-weight="bold" font-family='"Liberation Serif", serif' fill="#111">S<tspan font-size="7.8" dy="2.3">5</tspan></text>
<path d="M497.4,79.1 L500.8,79.1 L499.1,85.5 Z" fill="#111"/>
<text x="503.6" y="86.9" font-size="11" font-weight="bold" font-family='"Liberation Serif", serif' fill="#111">S<tspan font-size="7.8" dy="2.3">2</tspan></text>
<path d="M402.8,108.3 L406.2,108.3 L404.5,114.7 Z" fill="#111"/>
<text x="410.9" y="114.7" font-size="11" font-weight="bold" font-family='"Liberation Serif", serif' fill="#111">S<tspan font-size="7.8" dy="2.3">6</tspan></text>
<path d="M485.5,107.7 L488.9,107.7 L487.2,114.1 Z" fill="#111"/>
<text x="472.7" y="110.9" font-size="11" font-weight="bold" font-family='"Liberation Serif", serif' fill="#111">S<tspan font-size="7.8" dy="2.3">1</tspan></text>
<path d="M468.3,120.4 L471.7,120.4 L470,126.8 Z" fill="#111"/>
<text x="459.9" y="131.3" font-size="11" font-weight="bold" font-family='"Liberation Serif", serif' fill="#111">S<tspan font-size="7.8" dy="2.3">3</tspan></text>
<path d="M517.3,141 L520.7,141 L519,147.4 Z" fill="#111"/>
<text x="504.8" y="147.5" font-size="11" font-weight="bold" font-family='"Liberation Serif", serif' fill="#111">S<tspan font-size="7.8" dy="2.3">4</tspan></text>
<path d="M517.3,173.1 L520.7,173.1 L519,179.5 Z" fill="#111"/>
<text x="524.5" y="182.5" font-size="11" font-weight="bold" font-family='"Liberation Serif", serif' fill="#111">S<tspan font-size="7.8" dy="2.3">7</tspan></text>
<rect x="600.8" y="8.4" width="76" height="229.6" rx="6.5" ry="6.5" fill="#fff" stroke="#222" stroke-width="0.9"/>
<text transform="translate(616.2,41.8) rotate(-90)" font-size="7.8" text-anchor="middle" font-family='"Liberation Serif", serif' fill="#111">Observed data</text>
<text transform="translate(616.2,95.8) rotate(-90)" font-size="7.8" text-anchor="middle" font-family='"Liberation Serif", serif' fill="#111">WSINV3DMT</text>
<text transform="translate(616.2,153) rotate(-90)" font-size="7.8" text-anchor="middle" font-family='"Liberation Serif", serif' fill="#111">Decoupled axial</text>
<text transform="translate(616.2,202.6) rotate(-90)" font-size="7.8" text-anchor="middle" font-family='"Liberation Serif", serif' fill="#111">Full axial</text>
<line x1="635.0" y1="16.3" x2="635.0" y2="26.3" stroke="#ff55ff" stroke-width="0.8"/>
<line x1="632.1" y1="16.3" x2="637.9" y2="16.3" stroke="#ff55ff" stroke-width="0.8"/>
<line x1="632.1" y1="26.3" x2="637.9" y2="26.3" stroke="#ff55ff" stroke-width="0.8"/>
<path d="M632.1,22.7 L637.9,22.7 L635.0,17.8 Z" fill="#ff00ff" stroke="#222" stroke-width="0.6"/>
<line x1="635.0" y1="29.4" x2="635.0" y2="39.7" stroke="#ff4444" stroke-width="0.8"/>
<line x1="632.1" y1="29.4" x2="637.9" y2="29.4" stroke="#ff4444" stroke-width="0.8"/>
<line x1="632.1" y1="39.7" x2="637.9" y2="39.7" stroke="#ff4444" stroke-width="0.8"/>
<path d="M632.1,36.7 L637.9,36.7 L635.0,31.5 Z" fill="#ff0000" stroke="#222" stroke-width="0.6"/>
<line x1="635.0" y1="42.4" x2="635.0" y2="52.7" stroke="#5566ff" stroke-width="0.8"/>
<line x1="632.1" y1="42.4" x2="637.9" y2="42.4" stroke="#5566ff" stroke-width="0.8"/>
<line x1="632.1" y1="52.7" x2="637.9" y2="52.7" stroke="#5566ff" stroke-width="0.8"/>
<path d="M632.1,46.2 L637.9,46.2 L635.0,51.7 Z" fill="#0000ff" stroke="#222" stroke-width="0.6"/>
<line x1="635.0" y1="56.4" x2="635.0" y2="66.2" stroke="#44f0ff" stroke-width="0.8"/>
<line x1="632.1" y1="56.4" x2="637.9" y2="56.4" stroke="#44f0ff" stroke-width="0.8"/>
<line x1="632.1" y1="66.2" x2="637.9" y2="66.2" stroke="#44f0ff" stroke-width="0.8"/>
<path d="M632.1,59.6 L637.9,59.6 L635.0,64.8 Z" fill="#00e8e8" stroke="#222" stroke-width="0.6"/>
<line x1="622.2" y1="74.5" x2="645" y2="74.5" stroke="#ff44ff" stroke-width="1.3" stroke-dasharray="5.2,2.9"/>
<line x1="622.2" y1="88.6" x2="645" y2="88.6" stroke="#ff4444" stroke-width="1.3" stroke-dasharray="5.2,2.9"/>
<line x1="622.2" y1="101.6" x2="645" y2="101.6" stroke="#5566ff" stroke-width="1.3" stroke-dasharray="5.2,2.9"/>
<line x1="622.2" y1="114.8" x2="645" y2="114.8" stroke="#55f0f7" stroke-width="1.3" stroke-dasharray="5.2,2.9"/>
<line x1="622.2" y1="128.3" x2="646.3" y2="128.3" stroke="#ff44ff" stroke-width="1.1" stroke-dasharray="4,1.6,1,1.6"/>
<line x1="622.2" y1="141.5" x2="646.3" y2="141.5" stroke="#ff4444" stroke-width="1.1" stroke-dasharray="4,1.6,1,1.6"/>
<line x1="622.2" y1="155.1" x2="646.3" y2="155.1" stroke="#5566ff" stroke-width="1.1" stroke-dasharray="4,1.6,1,1.6"/>
<line x1="622.2" y1="168.7" x2="646.3" y2="168.7" stroke="#55f0f7" stroke-width="1.1" stroke-dasharray="4,1.6,1,1.6"/>
<line x1="622.2" y1="181.6" x2="646.3" y2="181.6" stroke="#ff44ff" stroke-width="1.4"/>
<line x1="622.2" y1="195.4" x2="646.3" y2="195.4" stroke="#ff4444" stroke-width="1.4"/>
<line x1="622.2" y1="208.7" x2="646.3" y2="208.7" stroke="#5566ff" stroke-width="1.4"/>
<line x1="622.2" y1="221.9" x2="646.3" y2="221.9" stroke="#55f0f7" stroke-width="1.4"/>
<text x="652.4" y="25.4" font-size="13" font-style="italic" font-family='"Liberation Serif", serif' fill="#ff33ff">Z<tspan font-size="10.5" dy="2.3" letter-spacing="0.7">xx</tspan></text>
<text x="652.4" y="40.6" font-size="13" font-style="italic" font-family='"Liberation Serif", serif' fill="#f03a3a">Z<tspan font-size="10.5" dy="2.3" letter-spacing="0.7">xy</tspan></text>
<text x="652.4" y="53.3" font-size="13" font-style="italic" font-family='"Liberation Serif", serif' fill="#3a60f0">Z<tspan font-size="10.5" dy="2.3" letter-spacing="0.7">yx</tspan></text>
<text x="652.4" y="67.5" font-size="13" font-style="italic" font-family='"Liberation Serif", serif' fill="#33ddee">Z<tspan font-size="10.5" dy="2.3" letter-spacing="0.7">yy</tspan></text>
<text x="652.4" y="81.1" font-size="13" font-style="italic" font-family='"Liberation Serif", serif' fill="#ff33ff">Z<tspan font-size="10.5" dy="2.3" letter-spacing="0.7">xx</tspan></text>
<text x="652.4" y="95.4" font-size="13" font-style="italic" font-family='"Liberation Serif", serif' fill="#f03a3a">Z<tspan font-size="10.5" dy="2.3" letter-spacing="0.7">xy</tspan></text>
<text x="652.4" y="109" font-size="13" font-style="italic" font-family='"Liberation Serif", serif' fill="#3a60f0">Z<tspan font-size="10.5" dy="2.3" letter-spacing="0.7">yx</tspan></text>
<text x="652.4" y="122.6" font-size="13" font-style="italic" font-family='"Liberation Serif", serif' fill="#33ddee">Z<tspan font-size="10.5" dy="2.3" letter-spacing="0.7">yy</tspan></text>
<text x="652.4" y="134.3" font-size="13" font-style="italic" font-family='"Liberation Serif", serif' fill="#ff33ff">Z<tspan font-size="10.5" dy="2.3" letter-spacing="0.7">xx</tspan></text>
<text x="652.4" y="149.9" font-size="13" font-style="italic" font-family='"Liberation Serif", serif' fill="#f03a3a">Z<tspan font-size="10.5" dy="2.3" letter-spacing="0.7">xy</tspan></text>
<text x="652.4" y="163.5" font-size="13" font-style="italic" font-family='"Liberation Serif", serif' fill="#3a60f0">Z<tspan font-size="10.5" dy="2.3" letter-spacing="0.7">yx</tspan></text>
<text x="652.4" y="177.1" font-size="13" font-style="italic" font-family='"Liberation Serif", serif' fill="#33ddee">Z<tspan font-size="10.5" dy="2.3" letter-spacing="0.7">yy</tspan></text>
<text x="652.4" y="188" font-size="13" font-style="italic" font-family='"Liberation Serif", serif' fill="#ff33ff">Z<tspan font-size="10.5" dy="2.3" letter-spacing="0.7">xx</tspan></text>
<text x="652.4" y="204.3" font-size="13" font-style="italic" font-family='"Liberation Serif", serif' fill="#f03a3a">Z<tspan font-size="10.5" dy="2.3" letter-spacing="0.7">xy</tspan></text>
<text x="652.4" y="217.2" font-size="13" font-style="italic" font-family='"Liberation Serif", serif' fill="#3a60f0">Z<tspan font-size="10.5" dy="2.3" letter-spacing="0.7">yx</tspan></text>
<text x="652.4" y="231.5" font-size="13" font-style="italic" font-family='"Liberation Serif", serif' fill="#33ddee">Z<tspan font-size="10.5" dy="2.3" letter-spacing="0.7">yy</tspan></text>
</svg>
</body></html>
